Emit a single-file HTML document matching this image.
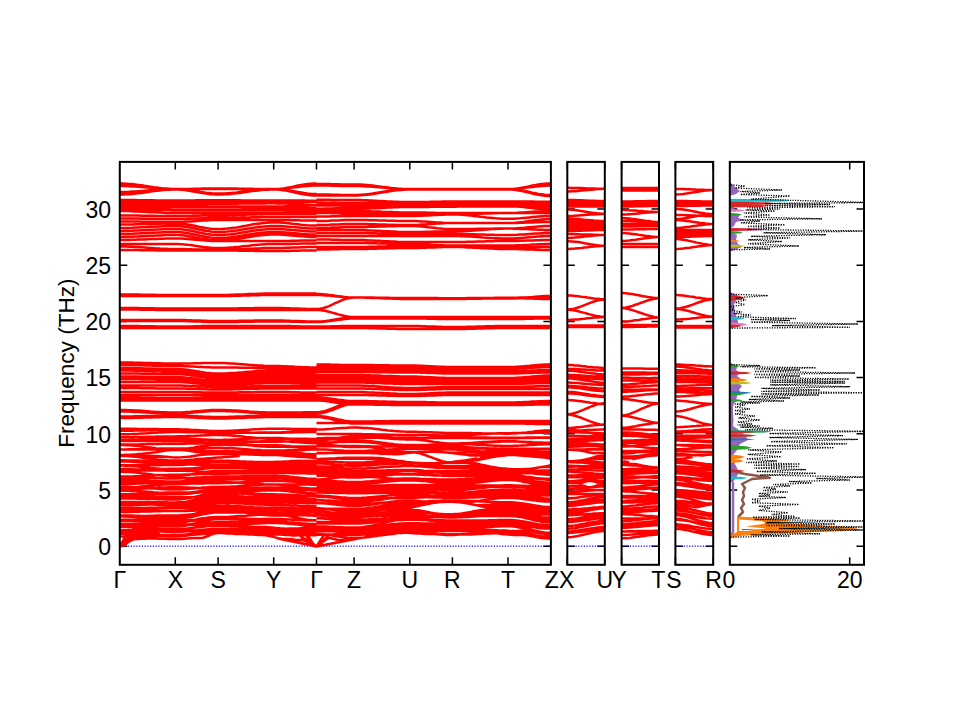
<!DOCTYPE html><html><head><meta charset="utf-8"><style>html,body{margin:0;padding:0;background:#fff;overflow:hidden}svg{display:block}</style></head><body><svg width="960" height="720" viewBox="0 0 960 720">
<rect width="960" height="720" fill="#fff"/>
<defs>
<clipPath id="c0"><rect x="119.8" y="161.9" width="431.1" height="402.9"/></clipPath>
<clipPath id="c1"><rect x="567.3" y="161.9" width="37.5" height="402.9"/></clipPath>
<clipPath id="c2"><rect x="621.6" y="161.9" width="37.4" height="402.9"/></clipPath>
<clipPath id="c3"><rect x="675.4" y="161.9" width="37.8" height="402.9"/></clipPath>
<clipPath id="c4"><rect x="729.8" y="161.9" width="134.2" height="402.9"/></clipPath>
</defs>
<path d="M119.8 546.2h7.5M550.9 546.2h-7.5M119.8 490.0h7.5M550.9 490.0h-7.5M119.8 433.8h7.5M550.9 433.8h-7.5M119.8 377.6h7.5M550.9 377.6h-7.5M119.8 321.4h7.5M550.9 321.4h-7.5M119.8 265.2h7.5M550.9 265.2h-7.5M119.8 209.0h7.5M550.9 209.0h-7.5M567.3 546.2h7.5M604.8 546.2h-7.5M567.3 490.0h7.5M604.8 490.0h-7.5M567.3 433.8h7.5M604.8 433.8h-7.5M567.3 377.6h7.5M604.8 377.6h-7.5M567.3 321.4h7.5M604.8 321.4h-7.5M567.3 265.2h7.5M604.8 265.2h-7.5M567.3 209.0h7.5M604.8 209.0h-7.5M621.6 546.2h7.5M659.0 546.2h-7.5M621.6 490.0h7.5M659.0 490.0h-7.5M621.6 433.8h7.5M659.0 433.8h-7.5M621.6 377.6h7.5M659.0 377.6h-7.5M621.6 321.4h7.5M659.0 321.4h-7.5M621.6 265.2h7.5M659.0 265.2h-7.5M621.6 209.0h7.5M659.0 209.0h-7.5M675.4 546.2h7.5M713.2 546.2h-7.5M675.4 490.0h7.5M713.2 490.0h-7.5M675.4 433.8h7.5M713.2 433.8h-7.5M675.4 377.6h7.5M713.2 377.6h-7.5M675.4 321.4h7.5M713.2 321.4h-7.5M675.4 265.2h7.5M713.2 265.2h-7.5M675.4 209.0h7.5M713.2 209.0h-7.5M729.8 546.2h7.5M864.0 546.2h-7.5M729.8 490.0h7.5M864.0 490.0h-7.5M729.8 433.8h7.5M864.0 433.8h-7.5M729.8 377.6h7.5M864.0 377.6h-7.5M729.8 321.4h7.5M864.0 321.4h-7.5M729.8 265.2h7.5M864.0 265.2h-7.5M729.8 209.0h7.5M864.0 209.0h-7.5M175.3 161.9v7.5M175.3 564.8v-7.5M218.1 161.9v7.5M218.1 564.8v-7.5M273.7 161.9v7.5M273.7 564.8v-7.5M316.5 161.9v7.5M316.5 564.8v-7.5M316.5 161.9v7.5M316.5 564.8v-7.5M354.1 161.9v7.5M354.1 564.8v-7.5M409.8 161.9v7.5M409.8 564.8v-7.5M452.4 161.9v7.5M452.4 564.8v-7.5M508.0 161.9v7.5M508.0 564.8v-7.5M567.3 161.9v7.5M567.3 564.8v-7.5M604.8 161.9v7.5M604.8 564.8v-7.5M621.6 161.9v7.5M621.6 564.8v-7.5M659.0 161.9v7.5M659.0 564.8v-7.5M675.4 161.9v7.5M675.4 564.8v-7.5M713.2 161.9v7.5M713.2 564.8v-7.5M729.8 161.9v7.5M729.8 564.8v-7.5M849.7 161.9v7.5M849.7 564.8v-7.5" stroke="#000" stroke-width="1.5" fill="none"/>
<line x1="119.8" y1="546.2" x2="550.9" y2="546.2" stroke="#0000ff" stroke-width="1.3" stroke-dasharray="1.2 1.55"/>
<line x1="567.3" y1="546.2" x2="604.8" y2="546.2" stroke="#0000ff" stroke-width="1.3" stroke-dasharray="1.2 1.55"/>
<line x1="621.6" y1="546.2" x2="659.0" y2="546.2" stroke="#0000ff" stroke-width="1.3" stroke-dasharray="1.2 1.55"/>
<line x1="675.4" y1="546.2" x2="713.2" y2="546.2" stroke="#0000ff" stroke-width="1.3" stroke-dasharray="1.2 1.55"/>
<g clip-path="url(#c0)" fill="none" stroke="#ff0000" stroke-width="2.5" stroke-linejoin="round">
<path d="M119.8 183.5L122.9 183.5L126.0 183.7L129.1 183.9L132.1 184.1L135.2 184.5L138.3 184.9L141.4 185.3L144.5 185.8L147.6 186.2L150.6 186.7L153.7 187.2L156.8 187.6L159.9 188.0L163.0 188.4L166.1 188.6L169.1 188.8L172.2 189.0L175.3 189.0L175.3 189.0L178.4 189.0L181.4 189.0L184.5 188.9L187.5 188.9L190.6 188.9L193.6 188.8L196.7 188.8L199.8 188.7L202.8 188.6L205.9 188.6L208.9 188.6L212.0 188.5L215.0 188.5L218.1 188.5L218.1 188.5L221.2 188.5L224.3 188.5L227.4 188.5L230.5 188.6L233.5 188.6L236.6 188.6L239.7 188.7L242.8 188.7L245.9 188.8L249.0 188.8L252.1 188.8L255.2 188.9L258.3 188.9L261.3 188.9L264.4 189.0L267.5 189.0L270.6 189.0L273.7 189.0L273.7 189.0L276.8 188.9L279.8 188.7L282.9 188.4L285.9 188.0L289.0 187.4L292.0 186.9L295.1 186.2L298.2 185.6L301.2 185.1L304.3 184.5L307.3 184.1L310.4 183.8L313.4 183.6L316.5 183.5M316.5 184.0L319.6 184.0L322.8 184.0L325.9 184.1L329.0 184.1L332.2 184.2L335.3 184.2L338.4 184.3L341.6 184.4L344.7 184.4L347.8 184.5L351.0 184.5L354.1 184.5L354.1 184.5L357.2 184.5L360.3 184.6L363.4 184.8L366.5 185.0L369.6 185.3L372.7 185.6L375.7 186.0L378.8 186.4L381.9 186.8L385.0 187.1L388.1 187.5L391.2 187.9L394.3 188.2L397.4 188.5L400.5 188.7L403.6 188.9L406.7 189.0L409.8 189.0L409.8 189.0L412.8 189.0L415.8 189.0L418.9 189.0L421.9 189.0L425.0 189.0L428.0 189.0L431.1 189.0L434.1 189.0L437.2 189.0L440.2 189.0L443.3 189.0L446.3 189.0L449.4 189.0L452.4 189.0L452.4 189.0L455.5 189.0L458.6 189.0L461.7 189.0L464.8 189.0L467.8 189.0L470.9 189.0L474.0 189.0L477.1 189.0L480.2 189.0L483.3 189.0L486.4 189.0L489.5 189.0L492.6 189.0L495.6 189.0L498.7 189.0L501.8 189.0L504.9 189.0L508.0 189.0L508.0 189.0L511.1 188.9L514.1 188.7L517.2 188.4L520.3 188.0L523.3 187.4L526.4 186.9L529.5 186.2L532.5 185.6L535.6 185.1L538.6 184.5L541.7 184.1L544.8 183.8L547.8 183.6L550.9 183.5M119.8 186.0L122.9 186.0L126.0 186.1L129.1 186.2L132.1 186.4L135.2 186.5L138.3 186.8L141.4 187.0L144.5 187.2L147.6 187.5L150.6 187.8L153.7 188.0L156.8 188.2L159.9 188.5L163.0 188.6L166.1 188.8L169.1 188.9L172.2 189.0L175.3 189.0L175.3 189.0L178.4 189.0L181.4 189.0L184.5 189.0L187.5 189.0L190.6 189.0L193.6 189.0L196.7 189.0L199.8 189.0L202.8 189.0L205.9 189.0L208.9 189.0L212.0 189.0L215.0 189.0L218.1 189.0L218.1 189.0L221.2 189.0L224.3 189.0L227.4 189.0L230.5 189.0L233.5 189.0L236.6 189.0L239.7 189.0L242.8 189.0L245.9 189.0L249.0 189.0L252.1 189.0L255.2 189.0L258.3 189.0L261.3 189.0L264.4 189.0L267.5 189.0L270.6 189.0L273.7 189.0L273.7 189.0L276.8 189.0L279.8 188.8L282.9 188.6L285.9 188.3L289.0 188.0L292.0 187.6L295.1 187.2L298.2 186.9L301.2 186.5L304.3 186.2L307.3 185.9L310.4 185.7L313.4 185.5L316.5 185.5M316.5 185.5L319.6 185.5L322.8 185.5L325.9 185.6L329.0 185.6L332.2 185.7L335.3 185.8L338.4 185.8L341.6 185.9L344.7 185.9L347.8 186.0L351.0 186.0L354.1 186.0L354.1 186.0L357.2 186.0L360.3 186.1L363.4 186.2L366.5 186.4L369.6 186.5L372.7 186.8L375.7 187.0L378.8 187.2L381.9 187.5L385.0 187.8L388.1 188.0L391.2 188.2L394.3 188.5L397.4 188.6L400.5 188.8L403.6 188.9L406.7 189.0L409.8 189.0L409.8 189.0L412.8 189.0L415.8 189.0L418.9 189.1L421.9 189.1L425.0 189.1L428.0 189.2L431.1 189.2L434.1 189.3L437.2 189.4L440.2 189.4L443.3 189.4L446.3 189.5L449.4 189.5L452.4 189.5L452.4 189.5L455.5 189.5L458.6 189.5L461.7 189.5L464.8 189.4L467.8 189.4L470.9 189.4L474.0 189.3L477.1 189.3L480.2 189.2L483.3 189.2L486.4 189.2L489.5 189.1L492.6 189.1L495.6 189.1L498.7 189.0L501.8 189.0L504.9 189.0L508.0 189.0L508.0 189.0L511.1 189.0L514.1 188.8L517.2 188.6L520.3 188.3L523.3 188.0L526.4 187.6L529.5 187.2L532.5 186.9L535.6 186.5L538.6 186.2L541.7 185.9L544.8 185.7L547.8 185.5L550.9 185.5M119.8 192.0L122.9 192.0L126.0 191.9L129.1 191.8L132.1 191.6L135.2 191.5L138.3 191.2L141.4 191.0L144.5 190.8L147.6 190.5L150.6 190.2L153.7 190.0L156.8 189.8L159.9 189.5L163.0 189.4L166.1 189.2L169.1 189.1L172.2 189.0L175.3 189.0L175.3 189.0L178.4 189.1L181.4 189.2L184.5 189.5L187.5 189.8L190.6 190.3L193.6 190.7L196.7 191.2L199.8 191.8L202.8 192.2L205.9 192.7L208.9 193.0L212.0 193.3L215.0 193.4L218.1 193.5L218.1 193.5L221.2 193.5L224.3 193.4L227.4 193.2L230.5 193.0L233.5 192.7L236.6 192.4L239.7 192.0L242.8 191.6L245.9 191.2L249.0 190.9L252.1 190.5L255.2 190.1L258.3 189.8L261.3 189.5L264.4 189.3L267.5 189.1L270.6 189.0L273.7 189.0L273.7 189.0L276.8 189.1L279.8 189.2L282.9 189.5L285.9 189.9L289.0 190.4L292.0 190.9L295.1 191.5L298.2 192.1L301.2 192.6L304.3 193.1L307.3 193.5L310.4 193.8L313.4 193.9L316.5 194.0M316.5 194.5L319.6 194.5L322.8 194.5L325.9 194.6L329.0 194.6L332.2 194.7L335.3 194.8L338.4 194.8L341.6 194.9L344.7 194.9L347.8 195.0L351.0 195.0L354.1 195.0L354.1 195.0L357.2 195.0L360.3 194.8L363.4 194.6L366.5 194.3L369.6 193.9L372.7 193.5L375.7 193.0L378.8 192.5L381.9 192.0L385.0 191.5L388.1 191.0L391.2 190.5L394.3 190.1L397.4 189.7L400.5 189.4L403.6 189.2L406.7 189.0L409.8 189.0L409.8 189.0L412.8 189.0L415.8 189.0L418.9 189.0L421.9 189.0L425.0 189.0L428.0 189.0L431.1 189.0L434.1 189.0L437.2 189.0L440.2 189.0L443.3 189.0L446.3 189.0L449.4 189.0L452.4 189.0L452.4 189.0L455.5 189.0L458.6 189.0L461.7 189.0L464.8 189.0L467.8 189.0L470.9 189.0L474.0 189.0L477.1 189.0L480.2 189.0L483.3 189.0L486.4 189.0L489.5 189.0L492.6 189.0L495.6 189.0L498.7 189.0L501.8 189.0L504.9 189.0L508.0 189.0L508.0 189.0L511.1 189.1L514.1 189.3L517.2 189.7L520.3 190.1L523.3 190.7L526.4 191.3L529.5 192.0L532.5 192.7L535.6 193.3L538.6 193.9L541.7 194.3L544.8 194.7L547.8 194.9L550.9 195.0M119.8 194.5L122.9 194.5L126.0 194.3L129.1 194.2L132.1 193.9L135.2 193.6L138.3 193.2L141.4 192.9L144.5 192.4L147.6 192.0L150.6 191.6L153.7 191.1L156.8 190.8L159.9 190.4L163.0 190.1L166.1 189.8L169.1 189.7L172.2 189.5L175.3 189.5L175.3 189.5L178.4 189.6L181.4 189.7L184.5 190.0L187.5 190.4L190.6 190.9L193.6 191.4L196.7 192.0L199.8 192.6L202.8 193.1L205.9 193.6L208.9 194.0L212.0 194.3L215.0 194.4L218.1 194.5L218.1 194.5L221.2 194.5L224.3 194.3L227.4 194.2L230.5 193.9L233.5 193.6L236.6 193.2L239.7 192.9L242.8 192.4L245.9 192.0L249.0 191.6L252.1 191.1L255.2 190.8L258.3 190.4L261.3 190.1L264.4 189.8L267.5 189.7L270.6 189.5L273.7 189.5L273.7 189.5L276.8 189.6L279.8 189.8L282.9 190.2L285.9 190.6L289.0 191.2L292.0 191.8L295.1 192.5L298.2 193.2L301.2 193.8L304.3 194.4L307.3 194.8L310.4 195.2L313.4 195.4L316.5 195.5M316.5 195.5L319.6 195.5L322.8 195.5L325.9 195.5L329.0 195.5L332.2 195.5L335.3 195.5L338.4 195.5L341.6 195.5L344.7 195.5L347.8 195.5L351.0 195.5L354.1 195.5L354.1 195.5L357.2 195.5L360.3 195.3L363.4 195.1L366.5 194.8L369.6 194.4L372.7 194.0L375.7 193.5L378.8 193.0L381.9 192.5L385.0 192.0L388.1 191.5L391.2 191.0L394.3 190.6L397.4 190.2L400.5 189.9L403.6 189.7L406.7 189.5L409.8 189.5L409.8 189.5L412.8 189.5L415.8 189.5L418.9 189.5L421.9 189.5L425.0 189.5L428.0 189.5L431.1 189.5L434.1 189.5L437.2 189.5L440.2 189.5L443.3 189.5L446.3 189.5L449.4 189.5L452.4 189.5L452.4 189.5L455.5 189.5L458.6 189.5L461.7 189.5L464.8 189.5L467.8 189.5L470.9 189.5L474.0 189.5L477.1 189.5L480.2 189.5L483.3 189.5L486.4 189.5L489.5 189.5L492.6 189.5L495.6 189.5L498.7 189.5L501.8 189.5L504.9 189.5L508.0 189.5L508.0 189.5L511.1 189.6L514.1 189.8L517.2 190.2L520.3 190.7L523.3 191.3L526.4 192.0L529.5 192.8L532.5 193.5L535.6 194.2L538.6 194.8L541.7 195.3L544.8 195.7L547.8 195.9L550.9 196.0M119.8 294.5L122.9 294.5L126.0 294.5L129.1 294.5L132.1 294.6L135.2 294.6L138.3 294.6L141.4 294.7L144.5 294.7L147.6 294.8L150.6 294.8L153.7 294.8L156.8 294.9L159.9 294.9L163.0 294.9L166.1 295.0L169.1 295.0L172.2 295.0L175.3 295.0L175.3 295.0L178.4 295.0L181.4 295.0L184.5 295.0L187.5 295.0L190.6 295.0L193.6 295.0L196.7 295.0L199.8 295.0L202.8 295.0L205.9 295.0L208.9 295.0L212.0 295.0L215.0 295.0L218.1 295.0L218.1 295.0L221.2 295.0L224.3 295.0L227.4 294.9L230.5 294.8L233.5 294.7L236.6 294.6L239.7 294.5L242.8 294.4L245.9 294.2L249.0 294.1L252.1 294.0L255.2 293.9L258.3 293.8L261.3 293.7L264.4 293.6L267.5 293.5L270.6 293.5L273.7 293.5L273.7 293.5L276.8 293.5L279.8 293.5L282.9 293.5L285.9 293.5L289.0 293.5L292.0 293.5L295.1 293.5L298.2 293.5L301.2 293.5L304.3 293.5L307.3 293.5L310.4 293.5L313.4 293.5L316.5 293.5M316.5 294.0L319.6 294.1L322.8 294.2L325.9 294.5L329.0 294.9L332.2 295.3L335.3 295.8L338.4 296.2L341.6 296.6L344.7 297.0L347.8 297.3L351.0 297.4L354.1 297.5L354.1 297.5L357.2 297.5L360.3 297.5L363.4 297.5L366.5 297.6L369.6 297.6L372.7 297.6L375.7 297.7L378.8 297.7L381.9 297.8L385.0 297.8L388.1 297.8L391.2 297.9L394.3 297.9L397.4 297.9L400.5 298.0L403.6 298.0L406.7 298.0L409.8 298.0L409.8 298.0L412.8 298.0L415.8 298.0L418.9 298.0L421.9 298.0L425.0 298.1L428.0 298.1L431.1 298.1L434.1 298.1L437.2 298.1L440.2 298.2L443.3 298.2L446.3 298.2L449.4 298.2L452.4 298.2L452.4 298.2L455.5 298.2L458.6 298.2L461.7 298.2L464.8 298.2L467.8 298.1L470.9 298.1L474.0 298.1L477.1 298.0L480.2 298.0L483.3 298.0L486.4 297.9L489.5 297.9L492.6 297.9L495.6 297.8L498.7 297.8L501.8 297.8L504.9 297.8L508.0 297.8L508.0 297.8L511.1 297.8L514.1 297.8L517.2 297.7L520.3 297.6L523.3 297.6L526.4 297.5L529.5 297.4L532.5 297.3L535.6 297.2L538.6 297.2L541.7 297.1L544.8 297.0L547.8 297.0L550.9 297.0M119.8 296.0L122.9 296.0L126.0 296.0L129.1 296.0L132.1 296.0L135.2 296.0L138.3 296.0L141.4 296.0L144.5 296.0L147.6 296.0L150.6 296.0L153.7 296.0L156.8 296.0L159.9 296.0L163.0 296.0L166.1 296.0L169.1 296.0L172.2 296.0L175.3 296.0L175.3 296.0L178.4 296.0L181.4 296.0L184.5 296.0L187.5 296.0L190.6 296.0L193.6 296.0L196.7 296.0L199.8 296.0L202.8 296.0L205.9 296.0L208.9 296.0L212.0 296.0L215.0 296.0L218.1 296.0L218.1 296.0L221.2 296.0L224.3 296.0L227.4 295.9L230.5 295.9L233.5 295.8L236.6 295.8L239.7 295.7L242.8 295.6L245.9 295.5L249.0 295.4L252.1 295.3L255.2 295.2L258.3 295.2L261.3 295.1L264.4 295.1L267.5 295.0L270.6 295.0L273.7 295.0L273.7 295.0L276.8 295.0L279.8 295.0L282.9 295.0L285.9 295.0L289.0 295.0L292.0 295.0L295.1 295.0L298.2 295.0L301.2 295.0L304.3 295.0L307.3 295.0L310.4 295.0L313.4 295.0L316.5 295.0M316.5 295.0L319.6 295.0L322.8 295.2L325.9 295.4L329.0 295.6L332.2 295.9L335.3 296.2L338.4 296.6L341.6 296.9L344.7 297.1L347.8 297.3L351.0 297.5L354.1 297.5L354.1 297.5L357.2 297.5L360.3 297.5L363.4 297.6L366.5 297.6L369.6 297.7L372.7 297.8L375.7 297.8L378.8 297.9L381.9 298.0L385.0 298.1L388.1 298.2L391.2 298.2L394.3 298.3L397.4 298.4L400.5 298.4L403.6 298.5L406.7 298.5L409.8 298.5L409.8 298.5L412.8 298.5L415.8 298.5L418.9 298.5L421.9 298.6L425.0 298.6L428.0 298.6L431.1 298.6L434.1 298.7L437.2 298.7L440.2 298.7L443.3 298.8L446.3 298.8L449.4 298.8L452.4 298.8L452.4 298.8L455.5 298.8L458.6 298.8L461.7 298.8L464.8 298.8L467.8 298.7L470.9 298.7L474.0 298.7L477.1 298.7L480.2 298.7L483.3 298.6L486.4 298.6L489.5 298.6L492.6 298.6L495.6 298.5L498.7 298.5L501.8 298.5L504.9 298.5L508.0 298.5L508.0 298.5L511.1 298.5L514.1 298.4L517.2 298.2L520.3 298.0L523.3 297.8L526.4 297.5L529.5 297.2L532.5 297.0L535.6 296.7L538.6 296.5L541.7 296.3L544.8 296.1L547.8 296.0L550.9 296.0M119.8 308.0L122.9 308.0L126.0 308.0L129.1 308.0L132.1 308.1L135.2 308.1L138.3 308.1L141.4 308.2L144.5 308.2L147.6 308.2L150.6 308.3L153.7 308.3L156.8 308.4L159.9 308.4L163.0 308.4L166.1 308.5L169.1 308.5L172.2 308.5L175.3 308.5L175.3 308.5L178.4 308.5L181.4 308.5L184.5 308.5L187.5 308.5L190.6 308.5L193.6 308.5L196.7 308.5L199.8 308.5L202.8 308.5L205.9 308.5L208.9 308.5L212.0 308.5L215.0 308.5L218.1 308.5L218.1 308.5L221.2 308.5L224.3 308.5L227.4 308.5L230.5 308.4L233.5 308.4L236.6 308.4L239.7 308.3L242.8 308.3L245.9 308.2L249.0 308.2L252.1 308.2L255.2 308.1L258.3 308.1L261.3 308.1L264.4 308.0L267.5 308.0L270.6 308.0L273.7 308.0L273.7 308.0L276.8 308.0L279.8 308.0L282.9 308.1L285.9 308.2L289.0 308.3L292.0 308.4L295.1 308.5L298.2 308.6L301.2 308.7L304.3 308.8L307.3 308.9L310.4 309.0L313.4 309.0L316.5 309.0M316.5 309.0L319.6 308.8L322.8 308.2L325.9 307.3L329.0 306.1L332.2 304.7L335.3 303.2L338.4 301.8L341.6 300.4L344.7 299.2L347.8 298.3L351.0 297.7L354.1 297.5L354.1 297.5L357.2 297.5L360.3 297.5L363.4 297.6L366.5 297.7L369.6 297.8L372.7 297.9L375.7 298.0L378.8 298.1L381.9 298.2L385.0 298.4L388.1 298.5L391.2 298.6L394.3 298.7L397.4 298.8L400.5 298.9L403.6 299.0L406.7 299.0L409.8 299.0L409.8 299.0L412.8 299.0L415.8 299.0L418.9 299.0L421.9 299.0L425.0 299.0L428.0 299.0L431.1 299.0L434.1 299.0L437.2 299.0L440.2 299.0L443.3 299.0L446.3 299.0L449.4 299.0L452.4 299.0L452.4 299.0L455.5 299.0L458.6 299.0L461.7 298.9L464.8 298.9L467.8 298.8L470.9 298.8L474.0 298.7L477.1 298.6L480.2 298.5L483.3 298.4L486.4 298.3L489.5 298.2L492.6 298.2L495.6 298.1L498.7 298.1L501.8 298.0L504.9 298.0L508.0 298.0L508.0 298.0L511.1 298.0L514.1 298.0L517.2 298.1L520.3 298.2L523.3 298.3L526.4 298.4L529.5 298.5L532.5 298.6L535.6 298.7L538.6 298.8L541.7 298.9L544.8 299.0L547.8 299.0L550.9 299.0M119.8 309.5L122.9 309.5L126.0 309.5L129.1 309.5L132.1 309.6L135.2 309.6L138.3 309.6L141.4 309.7L144.5 309.7L147.6 309.8L150.6 309.8L153.7 309.8L156.8 309.9L159.9 309.9L163.0 309.9L166.1 310.0L169.1 310.0L172.2 310.0L175.3 310.0L175.3 310.0L178.4 310.0L181.4 310.0L184.5 310.0L187.5 310.0L190.6 310.0L193.6 310.0L196.7 310.0L199.8 310.0L202.8 310.0L205.9 310.0L208.9 310.0L212.0 310.0L215.0 310.0L218.1 310.0L218.1 310.0L221.2 310.0L224.3 310.0L227.4 310.0L230.5 310.0L233.5 310.0L236.6 310.0L239.7 310.0L242.8 310.0L245.9 310.0L249.0 310.0L252.1 310.0L255.2 310.0L258.3 310.0L261.3 310.0L264.4 310.0L267.5 310.0L270.6 310.0L273.7 310.0L273.7 310.0L276.8 310.0L279.8 310.0L282.9 310.0L285.9 310.0L289.0 310.0L292.0 310.0L295.1 310.0L298.2 310.0L301.2 310.0L304.3 310.0L307.3 310.0L310.4 310.0L313.4 310.0L316.5 310.0M316.5 310.0L319.6 310.1L322.8 310.5L325.9 311.0L329.0 311.8L332.2 312.6L335.3 313.5L338.4 314.4L341.6 315.2L344.7 316.0L347.8 316.5L351.0 316.9L354.1 317.0L354.1 317.0L357.2 317.0L360.3 317.0L363.4 317.0L366.5 317.0L369.6 317.0L372.7 317.0L375.7 317.0L378.8 317.0L381.9 317.0L385.0 317.0L388.1 317.0L391.2 317.0L394.3 317.0L397.4 317.0L400.5 317.0L403.6 317.0L406.7 317.0L409.8 317.0L409.8 317.0L412.8 317.0L415.8 317.0L418.9 317.0L421.9 317.0L425.0 317.0L428.0 317.0L431.1 317.0L434.1 317.0L437.2 317.0L440.2 317.0L443.3 317.0L446.3 317.0L449.4 317.0L452.4 317.0L452.4 317.0L455.5 317.0L458.6 317.0L461.7 317.0L464.8 317.0L467.8 317.0L470.9 317.0L474.0 317.0L477.1 317.0L480.2 317.0L483.3 317.0L486.4 317.0L489.5 317.0L492.6 317.0L495.6 317.0L498.7 317.0L501.8 317.0L504.9 317.0L508.0 317.0L508.0 317.0L511.1 317.0L514.1 317.0L517.2 317.0L520.3 317.0L523.3 317.0L526.4 317.0L529.5 317.0L532.5 317.0L535.6 317.0L538.6 317.0L541.7 317.0L544.8 317.0L547.8 317.0L550.9 317.0M119.8 320.0L122.9 320.0L126.0 320.0L129.1 320.0L132.1 320.0L135.2 320.0L138.3 320.0L141.4 320.0L144.5 320.0L147.6 320.0L150.6 320.0L153.7 320.0L156.8 320.0L159.9 320.0L163.0 320.0L166.1 320.0L169.1 320.0L172.2 320.0L175.3 320.0L175.3 320.0L178.4 320.0L181.4 320.0L184.5 320.1L187.5 320.2L190.6 320.3L193.6 320.4L196.7 320.5L199.8 320.6L202.8 320.7L205.9 320.8L208.9 320.9L212.0 321.0L215.0 321.0L218.1 321.0L218.1 321.0L221.2 321.0L224.3 321.0L227.4 321.0L230.5 320.9L233.5 320.9L236.6 320.9L239.7 320.8L242.8 320.8L245.9 320.8L249.0 320.7L252.1 320.7L255.2 320.6L258.3 320.6L261.3 320.6L264.4 320.5L267.5 320.5L270.6 320.5L273.7 320.5L273.7 320.5L276.8 320.5L279.8 320.5L282.9 320.6L285.9 320.7L289.0 320.8L292.0 320.9L295.1 321.0L298.2 321.1L301.2 321.2L304.3 321.3L307.3 321.4L310.4 321.5L313.4 321.5L316.5 321.5M316.5 321.5L319.6 321.4L322.8 321.2L325.9 320.9L329.0 320.5L332.2 320.0L335.3 319.5L338.4 319.0L341.6 318.5L344.7 318.1L347.8 317.8L351.0 317.6L354.1 317.5L354.1 317.5L357.2 317.5L360.3 317.5L363.4 317.5L366.5 317.5L369.6 317.5L372.7 317.5L375.7 317.5L378.8 317.5L381.9 317.5L385.0 317.5L388.1 317.5L391.2 317.5L394.3 317.5L397.4 317.5L400.5 317.5L403.6 317.5L406.7 317.5L409.8 317.5L409.8 317.5L412.8 317.5L415.8 317.5L418.9 317.6L421.9 317.6L425.0 317.6L428.0 317.7L431.1 317.8L434.1 317.8L437.2 317.9L440.2 317.9L443.3 317.9L446.3 318.0L449.4 318.0L452.4 318.0L452.4 318.0L455.5 318.0L458.6 318.0L461.7 318.0L464.8 318.0L467.8 318.0L470.9 318.0L474.0 318.0L477.1 318.0L480.2 318.0L483.3 318.0L486.4 318.0L489.5 318.0L492.6 318.0L495.6 318.0L498.7 318.0L501.8 318.0L504.9 318.0L508.0 318.0L508.0 318.0L511.1 318.0L514.1 318.0L517.2 318.0L520.3 318.0L523.3 318.0L526.4 318.0L529.5 318.0L532.5 318.0L535.6 318.0L538.6 318.0L541.7 318.0L544.8 318.0L547.8 318.0L550.9 318.0M119.8 321.0L122.9 321.0L126.0 321.0L129.1 321.0L132.1 321.0L135.2 321.0L138.3 321.0L141.4 321.0L144.5 321.0L147.6 321.0L150.6 321.0L153.7 321.0L156.8 321.0L159.9 321.0L163.0 321.0L166.1 321.0L169.1 321.0L172.2 321.0L175.3 321.0L175.3 321.0L178.4 321.0L181.4 321.0L184.5 321.1L187.5 321.2L190.6 321.3L193.6 321.4L196.7 321.5L199.8 321.6L202.8 321.7L205.9 321.8L208.9 321.9L212.0 322.0L215.0 322.0L218.1 322.0L218.1 322.0L221.2 322.0L224.3 322.0L227.4 322.0L230.5 321.9L233.5 321.9L236.6 321.9L239.7 321.8L242.8 321.8L245.9 321.8L249.0 321.7L252.1 321.7L255.2 321.6L258.3 321.6L261.3 321.6L264.4 321.5L267.5 321.5L270.6 321.5L273.7 321.5L273.7 321.5L276.8 321.5L279.8 321.5L282.9 321.6L285.9 321.6L289.0 321.6L292.0 321.7L295.1 321.8L298.2 321.8L301.2 321.9L304.3 321.9L307.3 321.9L310.4 322.0L313.4 322.0L316.5 322.0M316.5 322.0L319.6 321.9L322.8 321.8L325.9 321.5L329.0 321.1L332.2 320.7L335.3 320.2L338.4 319.8L341.6 319.4L344.7 319.0L347.8 318.7L351.0 318.6L354.1 318.5L354.1 318.5L357.2 318.5L360.3 318.5L363.4 318.5L366.5 318.5L369.6 318.5L372.7 318.5L375.7 318.5L378.8 318.5L381.9 318.5L385.0 318.5L388.1 318.5L391.2 318.5L394.3 318.5L397.4 318.5L400.5 318.5L403.6 318.5L406.7 318.5L409.8 318.5L409.8 318.5L412.8 318.5L415.8 318.5L418.9 318.6L421.9 318.6L425.0 318.6L428.0 318.7L431.1 318.8L434.1 318.8L437.2 318.9L440.2 318.9L443.3 318.9L446.3 319.0L449.4 319.0L452.4 319.0L452.4 319.0L455.5 319.0L458.6 319.0L461.7 319.0L464.8 319.0L467.8 319.0L470.9 319.0L474.0 319.0L477.1 319.0L480.2 319.0L483.3 319.0L486.4 319.0L489.5 319.0L492.6 319.0L495.6 319.0L498.7 319.0L501.8 319.0L504.9 319.0L508.0 319.0L508.0 319.0L511.1 319.0L514.1 319.0L517.2 318.9L520.3 318.9L523.3 318.9L526.4 318.8L529.5 318.8L532.5 318.7L535.6 318.6L538.6 318.6L541.7 318.6L544.8 318.5L547.8 318.5L550.9 318.5M119.8 326.0L122.9 326.0L126.0 326.0L129.1 326.0L132.1 326.1L135.2 326.1L138.3 326.1L141.4 326.2L144.5 326.2L147.6 326.2L150.6 326.3L153.7 326.3L156.8 326.4L159.9 326.4L163.0 326.4L166.1 326.5L169.1 326.5L172.2 326.5L175.3 326.5L175.3 326.5L178.4 326.5L181.4 326.5L184.5 326.4L187.5 326.4L190.6 326.4L193.6 326.3L196.7 326.2L199.8 326.2L202.8 326.1L205.9 326.1L208.9 326.1L212.0 326.0L215.0 326.0L218.1 326.0L218.1 326.0L221.2 326.0L224.3 326.0L227.4 326.0L230.5 326.0L233.5 326.0L236.6 326.0L239.7 326.0L242.8 326.0L245.9 326.0L249.0 326.0L252.1 326.0L255.2 326.0L258.3 326.0L261.3 326.0L264.4 326.0L267.5 326.0L270.6 326.0L273.7 326.0L273.7 326.0L276.8 326.0L279.8 326.0L282.9 326.1L285.9 326.1L289.0 326.1L292.0 326.2L295.1 326.2L298.2 326.3L301.2 326.4L304.3 326.4L307.3 326.4L310.4 326.5L313.4 326.5L316.5 326.5M316.5 326.5L319.6 326.5L322.8 326.5L325.9 326.4L329.0 326.4L332.2 326.3L335.3 326.2L338.4 326.2L341.6 326.1L344.7 326.1L347.8 326.0L351.0 326.0L354.1 326.0L354.1 326.0L357.2 326.0L360.3 326.0L363.4 326.0L366.5 326.0L369.6 326.0L372.7 326.0L375.7 326.0L378.8 326.0L381.9 326.0L385.0 326.0L388.1 326.0L391.2 326.0L394.3 326.0L397.4 326.0L400.5 326.0L403.6 326.0L406.7 326.0L409.8 326.0L409.8 326.0L412.8 326.0L415.8 326.0L418.9 326.1L421.9 326.2L425.0 326.3L428.0 326.4L431.1 326.5L434.1 326.6L437.2 326.7L440.2 326.8L443.3 326.9L446.3 327.0L449.4 327.0L452.4 327.0L452.4 327.0L455.5 327.0L458.6 327.0L461.7 326.9L464.8 326.9L467.8 326.8L470.9 326.8L474.0 326.7L477.1 326.6L480.2 326.5L483.3 326.4L486.4 326.3L489.5 326.2L492.6 326.2L495.6 326.1L498.7 326.1L501.8 326.0L504.9 326.0L508.0 326.0L508.0 326.0L511.1 326.0L514.1 326.0L517.2 326.0L520.3 326.0L523.3 326.0L526.4 326.0L529.5 326.0L532.5 326.0L535.6 326.0L538.6 326.0L541.7 326.0L544.8 326.0L547.8 326.0L550.9 326.0M119.8 328.0L122.9 328.0L126.0 328.0L129.1 328.0L132.1 328.0L135.2 328.0L138.3 328.0L141.4 328.0L144.5 328.0L147.6 328.0L150.6 328.0L153.7 328.0L156.8 328.0L159.9 328.0L163.0 328.0L166.1 328.0L169.1 328.0L172.2 328.0L175.3 328.0L175.3 328.0L178.4 328.0L181.4 328.0L184.5 328.0L187.5 328.0L190.6 328.0L193.6 328.0L196.7 328.0L199.8 328.0L202.8 328.0L205.9 328.0L208.9 328.0L212.0 328.0L215.0 328.0L218.1 328.0L218.1 328.0L221.2 328.0L224.3 328.0L227.4 328.0L230.5 328.0L233.5 328.0L236.6 328.0L239.7 328.0L242.8 328.0L245.9 328.0L249.0 328.0L252.1 328.0L255.2 328.0L258.3 328.0L261.3 328.0L264.4 328.0L267.5 328.0L270.6 328.0L273.7 328.0L273.7 328.0L276.8 328.0L279.8 328.0L282.9 328.0L285.9 328.0L289.0 328.0L292.0 328.0L295.1 328.0L298.2 328.0L301.2 328.0L304.3 328.0L307.3 328.0L310.4 328.0L313.4 328.0L316.5 328.0M316.5 328.0L319.6 328.0L322.8 328.0L325.9 328.0L329.0 328.0L332.2 328.0L335.3 328.0L338.4 328.0L341.6 328.0L344.7 328.0L347.8 328.0L351.0 328.0L354.1 328.0L354.1 328.0L357.2 328.0L360.3 328.0L363.4 328.1L366.5 328.1L369.6 328.2L372.7 328.2L375.7 328.3L378.8 328.4L381.9 328.5L385.0 328.6L388.1 328.7L391.2 328.8L394.3 328.8L397.4 328.9L400.5 328.9L403.6 329.0L406.7 329.0L409.8 329.0L409.8 329.0L412.8 329.0L415.8 329.0L418.9 329.0L421.9 329.0L425.0 329.0L428.0 329.0L431.1 329.0L434.1 329.0L437.2 329.0L440.2 329.0L443.3 329.0L446.3 329.0L449.4 329.0L452.4 329.0L452.4 329.0L455.5 329.0L458.6 329.0L461.7 328.9L464.8 328.9L467.8 328.8L470.9 328.8L474.0 328.7L477.1 328.6L480.2 328.5L483.3 328.4L486.4 328.3L489.5 328.2L492.6 328.2L495.6 328.1L498.7 328.1L501.8 328.0L504.9 328.0L508.0 328.0L508.0 328.0L511.1 328.0L514.1 328.0L517.2 328.0L520.3 328.0L523.3 328.0L526.4 328.0L529.5 328.0L532.5 328.0L535.6 328.0L538.6 328.0L541.7 328.0L544.8 328.0L547.8 328.0L550.9 328.0M119.8 410.0L122.9 410.0L126.0 410.1L129.1 410.2L132.1 410.3L135.2 410.4L138.3 410.6L141.4 410.8L144.5 411.0L147.6 411.2L150.6 411.5L153.7 411.7L156.8 411.9L159.9 412.1L163.0 412.2L166.1 412.3L169.1 412.4L172.2 412.5L175.3 412.5L175.3 412.5L178.4 412.5L181.4 412.4L184.5 412.2L187.5 412.0L190.6 411.8L193.6 411.5L196.7 411.2L199.8 411.0L202.8 410.7L205.9 410.5L208.9 410.3L212.0 410.1L215.0 410.0L218.1 410.0L218.1 410.0L221.2 410.0L224.3 410.1L227.4 410.2L230.5 410.3L233.5 410.4L236.6 410.6L239.7 410.8L242.8 411.0L245.9 411.2L249.0 411.5L252.1 411.7L255.2 411.9L258.3 412.1L261.3 412.2L264.4 412.3L267.5 412.4L270.6 412.5L273.7 412.5L273.7 412.5L276.8 412.5L279.8 412.5L282.9 412.5L285.9 412.5L289.0 412.4L292.0 412.4L295.1 412.4L298.2 412.4L301.2 412.4L304.3 412.3L307.3 412.3L310.4 412.3L313.4 412.3L316.5 412.3M316.5 412.3L319.6 412.1L322.8 411.6L325.9 410.8L329.0 409.7L332.2 408.5L335.3 407.2L338.4 405.8L341.6 404.6L344.7 403.5L347.8 402.7L351.0 402.2L354.1 402.0L354.1 402.0L357.2 402.0L360.3 402.0L363.4 402.1L366.5 402.1L369.6 402.2L372.7 402.2L375.7 402.3L378.8 402.4L381.9 402.5L385.0 402.6L388.1 402.7L391.2 402.8L394.3 402.8L397.4 402.9L400.5 402.9L403.6 403.0L406.7 403.0L409.8 403.0L409.8 403.0L412.8 403.0L415.8 403.0L418.9 403.0L421.9 403.0L425.0 403.0L428.0 403.0L431.1 403.0L434.1 403.0L437.2 403.0L440.2 403.0L443.3 403.0L446.3 403.0L449.4 403.0L452.4 403.0L452.4 403.0L455.5 403.0L458.6 403.0L461.7 403.0L464.8 403.0L467.8 403.0L470.9 403.0L474.0 403.0L477.1 403.0L480.2 403.0L483.3 403.0L486.4 403.0L489.5 403.0L492.6 403.0L495.6 403.0L498.7 403.0L501.8 403.0L504.9 403.0L508.0 403.0L508.0 403.0L511.1 403.0L514.1 403.0L517.2 402.9L520.3 402.9L523.3 402.9L526.4 402.8L529.5 402.8L532.5 402.7L535.6 402.6L538.6 402.6L541.7 402.6L544.8 402.5L547.8 402.5L550.9 402.5M119.8 411.5L122.9 411.5L126.0 411.6L129.1 411.6L132.1 411.7L135.2 411.9L138.3 412.0L141.4 412.2L144.5 412.3L147.6 412.5L150.6 412.7L153.7 412.8L156.8 413.0L159.9 413.1L163.0 413.3L166.1 413.4L169.1 413.4L172.2 413.5L175.3 413.5L175.3 413.5L178.4 413.5L181.4 413.4L184.5 413.2L187.5 413.0L190.6 412.8L193.6 412.5L196.7 412.2L199.8 412.0L202.8 411.7L205.9 411.5L208.9 411.3L212.0 411.1L215.0 411.0L218.1 411.0L218.1 411.0L221.2 411.0L224.3 411.1L227.4 411.2L230.5 411.3L233.5 411.4L236.6 411.6L239.7 411.8L242.8 412.0L245.9 412.2L249.0 412.5L252.1 412.7L255.2 412.9L258.3 413.1L261.3 413.2L264.4 413.3L267.5 413.4L270.6 413.5L273.7 413.5L273.7 413.5L276.8 413.5L279.8 413.5L282.9 413.5L285.9 413.5L289.0 413.5L292.0 413.5L295.1 413.5L298.2 413.5L301.2 413.5L304.3 413.5L307.3 413.5L310.4 413.5L313.4 413.5L316.5 413.5M316.5 413.5L319.6 413.3L322.8 412.9L325.9 412.1L329.0 411.1L332.2 410.0L335.3 408.8L338.4 407.5L341.6 406.4L344.7 405.4L347.8 404.6L351.0 404.2L354.1 404.0L354.1 404.0L357.2 404.0L360.3 404.0L363.4 404.1L366.5 404.1L369.6 404.2L372.7 404.2L375.7 404.3L378.8 404.4L381.9 404.5L385.0 404.6L388.1 404.7L391.2 404.8L394.3 404.8L397.4 404.9L400.5 404.9L403.6 405.0L406.7 405.0L409.8 405.0L409.8 405.0L412.8 405.0L415.8 405.0L418.9 405.0L421.9 405.0L425.0 405.0L428.0 405.0L431.1 405.0L434.1 405.0L437.2 405.0L440.2 405.0L443.3 405.0L446.3 405.0L449.4 405.0L452.4 405.0L452.4 405.0L455.5 405.0L458.6 405.0L461.7 405.0L464.8 405.0L467.8 405.0L470.9 405.0L474.0 405.0L477.1 405.0L480.2 405.0L483.3 405.0L486.4 405.0L489.5 405.0L492.6 405.0L495.6 405.0L498.7 405.0L501.8 405.0L504.9 405.0L508.0 405.0L508.0 405.0L511.1 405.0L514.1 405.0L517.2 404.9L520.3 404.9L523.3 404.9L526.4 404.8L529.5 404.8L532.5 404.7L535.6 404.6L538.6 404.6L541.7 404.6L544.8 404.5L547.8 404.5L550.9 404.5M119.8 416.5L122.9 416.5L126.0 416.5L129.1 416.4L132.1 416.4L135.2 416.3L138.3 416.2L141.4 416.2L144.5 416.1L147.6 416.0L150.6 415.9L153.7 415.8L156.8 415.8L159.9 415.7L163.0 415.6L166.1 415.6L169.1 415.5L172.2 415.5L175.3 415.5L175.3 415.5L178.4 415.5L181.4 415.6L184.5 415.7L187.5 415.8L190.6 415.9L193.6 416.1L196.7 416.2L199.8 416.4L202.8 416.6L205.9 416.7L208.9 416.8L212.0 416.9L215.0 417.0L218.1 417.0L218.1 417.0L221.2 417.0L224.3 417.0L227.4 416.9L230.5 416.8L233.5 416.7L236.6 416.6L239.7 416.5L242.8 416.4L245.9 416.2L249.0 416.1L252.1 416.0L255.2 415.9L258.3 415.8L261.3 415.7L264.4 415.6L267.5 415.5L270.6 415.5L273.7 415.5L273.7 415.5L276.8 415.5L279.8 415.5L282.9 415.6L285.9 415.6L289.0 415.6L292.0 415.7L295.1 415.8L298.2 415.8L301.2 415.9L304.3 415.9L307.3 415.9L310.4 416.0L313.4 416.0L316.5 416.0M316.5 416.0L319.6 416.1L322.8 416.4L325.9 416.8L329.0 417.4L332.2 418.0L335.3 418.8L338.4 419.5L341.6 420.1L344.7 420.7L347.8 421.1L351.0 421.4L354.1 421.5L354.1 421.5L357.2 421.5L360.3 421.5L363.4 421.5L366.5 421.4L369.6 421.4L372.7 421.4L375.7 421.3L378.8 421.3L381.9 421.2L385.0 421.2L388.1 421.2L391.2 421.1L394.3 421.1L397.4 421.1L400.5 421.0L403.6 421.0L406.7 421.0L409.8 421.0L409.8 421.0L412.8 421.0L415.8 421.0L418.9 421.0L421.9 421.0L425.0 421.0L428.0 421.0L431.1 421.0L434.1 421.0L437.2 421.0L440.2 421.0L443.3 421.0L446.3 421.0L449.4 421.0L452.4 421.0L452.4 421.0L455.5 421.0L458.6 421.0L461.7 421.0L464.8 421.0L467.8 421.0L470.9 421.0L474.0 421.0L477.1 421.0L480.2 421.0L483.3 421.0L486.4 421.0L489.5 421.0L492.6 421.0L495.6 421.0L498.7 421.0L501.8 421.0L504.9 421.0L508.0 421.0L508.0 421.0L511.1 421.0L514.1 421.0L517.2 421.0L520.3 421.0L523.3 421.0L526.4 421.0L529.5 421.0L532.5 421.0L535.6 421.0L538.6 421.0L541.7 421.0L544.8 421.0L547.8 421.0L550.9 421.0M119.8 418.0L122.9 418.0L126.0 418.0L129.1 417.9L132.1 417.9L135.2 417.8L138.3 417.8L141.4 417.7L144.5 417.6L147.6 417.5L150.6 417.4L153.7 417.3L156.8 417.2L159.9 417.2L163.0 417.1L166.1 417.1L169.1 417.0L172.2 417.0L175.3 417.0L175.3 417.0L178.4 417.0L181.4 417.1L184.5 417.2L187.5 417.3L190.6 417.4L193.6 417.6L196.7 417.8L199.8 417.9L202.8 418.1L205.9 418.2L208.9 418.3L212.0 418.4L215.0 418.5L218.1 418.5L218.1 418.5L221.2 418.5L224.3 418.5L227.4 418.4L230.5 418.3L233.5 418.2L236.6 418.1L239.7 418.0L242.8 417.9L245.9 417.8L249.0 417.6L252.1 417.5L255.2 417.4L258.3 417.3L261.3 417.2L264.4 417.1L267.5 417.0L270.6 417.0L273.7 417.0L273.7 417.0L276.8 417.0L279.8 417.0L282.9 417.0L285.9 417.0L289.0 417.0L292.0 417.0L295.1 417.0L298.2 417.0L301.2 417.0L304.3 417.0L307.3 417.0L310.4 417.0L313.4 417.0L316.5 417.0M316.5 417.0L319.6 417.1L322.8 417.4L325.9 418.0L329.0 418.6L332.2 419.4L335.3 420.2L338.4 421.1L341.6 421.9L344.7 422.5L347.8 423.1L351.0 423.4L354.1 423.5L354.1 423.5L357.2 423.5L360.3 423.5L363.4 423.5L366.5 423.5L369.6 423.5L372.7 423.5L375.7 423.5L378.8 423.5L381.9 423.5L385.0 423.5L388.1 423.5L391.2 423.5L394.3 423.5L397.4 423.5L400.5 423.5L403.6 423.5L406.7 423.5L409.8 423.5L409.8 423.5L412.8 423.5L415.8 423.5L418.9 423.4L421.9 423.4L425.0 423.4L428.0 423.3L431.1 423.2L434.1 423.2L437.2 423.1L440.2 423.1L443.3 423.1L446.3 423.0L449.4 423.0L452.4 423.0L452.4 423.0L455.5 423.0L458.6 423.0L461.7 423.0L464.8 423.0L467.8 423.0L470.9 423.0L474.0 423.0L477.1 423.0L480.2 423.0L483.3 423.0L486.4 423.0L489.5 423.0L492.6 423.0L495.6 423.0L498.7 423.0L501.8 423.0L504.9 423.0L508.0 423.0L508.0 423.0L511.1 423.0L514.1 423.0L517.2 423.0L520.3 423.0L523.3 423.0L526.4 423.0L529.5 423.0L532.5 423.0L535.6 423.0L538.6 423.0L541.7 423.0L544.8 423.0L547.8 423.0L550.9 423.0M316.5 423.0L319.6 423.0L322.8 423.0L325.9 423.0L329.0 423.0L332.2 423.0L335.3 423.0L338.4 423.0L341.6 423.0L344.7 423.0L347.8 423.0L351.0 423.0L354.1 423.0L354.1 423.0L357.2 423.0L360.3 423.0L363.4 423.0L366.5 423.1L369.6 423.1L372.7 423.1L375.7 423.2L378.8 423.2L381.9 423.2L385.0 423.3L388.1 423.3L391.2 423.4L394.3 423.4L397.4 423.4L400.5 423.5L403.6 423.5L406.7 423.5L409.8 423.5L409.8 423.5L412.8 423.5L415.8 423.5L418.9 423.5L421.9 423.5L425.0 423.5L428.0 423.5L431.1 423.5L434.1 423.5L437.2 423.5L440.2 423.5L443.3 423.5L446.3 423.5L449.4 423.5L452.4 423.5L452.4 423.5L455.5 423.5L458.6 423.5L461.7 423.5L464.8 423.5L467.8 423.5L470.9 423.5L474.0 423.5L477.1 423.5L480.2 423.5L483.3 423.5L486.4 423.5L489.5 423.5L492.6 423.5L495.6 423.5L498.7 423.5L501.8 423.5L504.9 423.5L508.0 423.5L508.0 423.5L511.1 423.5L514.1 423.5L517.2 423.6L520.3 423.6L523.3 423.6L526.4 423.7L529.5 423.8L532.5 423.8L535.6 423.9L538.6 423.9L541.7 423.9L544.8 424.0L547.8 424.0L550.9 424.0M316.5 446.0L319.6 446.0L322.8 446.0L325.9 446.0L329.0 446.0L332.2 446.0L335.3 446.0L338.4 446.0L341.6 446.0L344.7 446.0L347.8 446.0L351.0 446.0L354.1 446.0L354.1 446.0L357.2 446.0L360.3 446.2L363.4 446.4L366.5 446.7L369.6 447.1L372.7 447.5L375.7 448.0L378.8 448.5L381.9 449.0L385.0 449.5L388.1 450.0L391.2 450.5L394.3 450.9L397.4 451.3L400.5 451.6L403.6 451.8L406.7 452.0L409.8 452.0L409.8 452.0L412.8 452.1L415.8 452.5L418.9 453.1L421.9 454.0L425.0 455.0L428.0 456.1L431.1 457.2L434.1 458.4L437.2 459.5L440.2 460.5L443.3 461.4L446.3 462.0L449.4 462.4L452.4 462.5L452.4 462.5L455.5 462.4L458.6 462.3L461.7 462.0L464.8 461.6L467.8 461.2L470.9 460.6L474.0 460.0L477.1 459.4L480.2 458.8L483.3 458.1L486.4 457.5L489.5 456.9L492.6 456.3L495.6 455.9L498.7 455.5L501.8 455.2L504.9 455.1L508.0 455.0L508.0 455.0L511.1 455.0L514.1 455.1L517.2 455.3L520.3 455.5L523.3 455.7L526.4 456.0L529.5 456.2L532.5 456.5L535.6 456.8L538.6 457.0L541.7 457.2L544.8 457.4L547.8 457.5L550.9 457.5M119.8 399.5L122.9 399.5L126.0 399.5L129.1 399.5L132.1 399.5L135.2 399.5L138.3 399.5L141.4 399.5L144.5 399.5L147.6 399.5L150.6 399.5L153.7 399.5L156.8 399.5L159.9 399.5L163.0 399.5L166.1 399.5L169.1 399.5L172.2 399.5L175.3 399.5L175.3 399.5L178.4 399.5L181.4 399.5L184.5 399.5L187.5 399.5L190.6 399.5L193.6 399.5L196.7 399.5L199.8 399.5L202.8 399.5L205.9 399.5L208.9 399.5L212.0 399.5L215.0 399.5L218.1 399.5L218.1 399.5L221.2 399.5L224.3 399.5L227.4 399.5L230.5 399.5L233.5 399.5L236.6 399.5L239.7 399.5L242.8 399.5L245.9 399.5L249.0 399.5L252.1 399.5L255.2 399.5L258.3 399.5L261.3 399.5L264.4 399.5L267.5 399.5L270.6 399.5L273.7 399.5L273.7 399.5L276.8 399.5L279.8 399.5L282.9 399.5L285.9 399.5L289.0 399.5L292.0 399.5L295.1 399.5L298.2 399.5L301.2 399.5L304.3 399.5L307.3 399.5L310.4 399.5L313.4 399.5L316.5 399.5M316.5 399.5L319.6 399.5L322.8 399.7L325.9 399.9L329.0 400.1L332.2 400.4L335.3 400.8L338.4 401.1L341.6 401.4L344.7 401.6L347.8 401.8L351.0 402.0L354.1 402.0L354.1 402.0L357.2 402.0L360.3 402.0L363.4 402.1L366.5 402.1L369.6 402.2L372.7 402.2L375.7 402.3L378.8 402.4L381.9 402.5L385.0 402.6L388.1 402.7L391.2 402.8L394.3 402.8L397.4 402.9L400.5 402.9L403.6 403.0L406.7 403.0L409.8 403.0L409.8 403.0L412.8 403.0L415.8 403.0L418.9 403.0L421.9 403.0L425.0 403.0L428.0 403.0L431.1 403.0L434.1 403.0L437.2 403.0L440.2 403.0L443.3 403.0L446.3 403.0L449.4 403.0L452.4 403.0L452.4 403.0L455.5 403.0L458.6 403.0L461.7 403.0L464.8 403.0L467.8 403.0L470.9 403.0L474.0 403.0L477.1 403.0L480.2 403.0L483.3 403.0L486.4 403.0L489.5 403.0L492.6 403.0L495.6 403.0L498.7 403.0L501.8 403.0L504.9 403.0L508.0 403.0L508.0 403.0L511.1 403.0L514.1 403.0L517.2 402.9L520.3 402.9L523.3 402.9L526.4 402.8L529.5 402.8L532.5 402.7L535.6 402.6L538.6 402.6L541.7 402.6L544.8 402.5L547.8 402.5L550.9 402.5M119.8 400.5L122.9 400.5L126.0 400.5L129.1 400.5L132.1 400.5L135.2 400.5L138.3 400.5L141.4 400.5L144.5 400.5L147.6 400.5L150.6 400.5L153.7 400.5L156.8 400.5L159.9 400.5L163.0 400.5L166.1 400.5L169.1 400.5L172.2 400.5L175.3 400.5L175.3 400.5L178.4 400.5L181.4 400.5L184.5 400.5L187.5 400.5L190.6 400.5L193.6 400.5L196.7 400.5L199.8 400.5L202.8 400.5L205.9 400.5L208.9 400.5L212.0 400.5L215.0 400.5L218.1 400.5L218.1 400.5L221.2 400.5L224.3 400.5L227.4 400.5L230.5 400.5L233.5 400.5L236.6 400.5L239.7 400.5L242.8 400.5L245.9 400.5L249.0 400.5L252.1 400.5L255.2 400.5L258.3 400.5L261.3 400.5L264.4 400.5L267.5 400.5L270.6 400.5L273.7 400.5L273.7 400.5L276.8 400.5L279.8 400.5L282.9 400.5L285.9 400.5L289.0 400.5L292.0 400.5L295.1 400.5L298.2 400.5L301.2 400.5L304.3 400.5L307.3 400.5L310.4 400.5L313.4 400.5L316.5 400.5M316.5 400.5L319.6 400.6L322.8 400.8L325.9 401.1L329.0 401.5L332.2 402.0L335.3 402.5L338.4 403.0L341.6 403.5L344.7 403.9L347.8 404.2L351.0 404.4L354.1 404.5L354.1 404.5L357.2 404.5L360.3 404.5L363.4 404.5L366.5 404.6L369.6 404.6L372.7 404.6L375.7 404.7L378.8 404.7L381.9 404.8L385.0 404.8L388.1 404.8L391.2 404.9L394.3 404.9L397.4 404.9L400.5 405.0L403.6 405.0L406.7 405.0L409.8 405.0L409.8 405.0L412.8 405.0L415.8 405.0L418.9 405.0L421.9 405.0L425.0 405.0L428.0 405.0L431.1 405.0L434.1 405.0L437.2 405.0L440.2 405.0L443.3 405.0L446.3 405.0L449.4 405.0L452.4 405.0L452.4 405.0L455.5 405.0L458.6 405.0L461.7 405.0L464.8 405.0L467.8 405.0L470.9 405.0L474.0 405.0L477.1 405.0L480.2 405.0L483.3 405.0L486.4 405.0L489.5 405.0L492.6 405.0L495.6 405.0L498.7 405.0L501.8 405.0L504.9 405.0L508.0 405.0L508.0 405.0L511.1 405.0L514.1 405.0L517.2 404.9L520.3 404.9L523.3 404.9L526.4 404.8L529.5 404.8L532.5 404.7L535.6 404.6L538.6 404.6L541.7 404.6L544.8 404.5L547.8 404.5L550.9 404.5M119.8 200.0L122.9 200.0L126.0 200.1L129.1 200.1L132.1 200.1L135.2 200.1L138.3 200.2L141.4 200.2L144.5 200.2L147.6 200.3L150.6 200.3L153.7 200.3L156.8 200.4L159.9 200.4L163.0 200.4L166.1 200.5L169.1 200.5L172.2 200.5L175.3 200.5L175.3 200.5L178.4 200.5L181.4 200.5L184.5 200.5L187.5 200.4L190.6 200.4L193.6 200.4L196.7 200.3L199.8 200.3L202.8 200.3L205.9 200.3L208.9 200.2L212.0 200.2L215.0 200.2L218.1 200.2L218.1 200.2L221.2 200.2L224.3 200.2L227.4 200.2L230.5 200.3L233.5 200.3L236.6 200.3L239.7 200.3L242.8 200.4L245.9 200.4L249.0 200.4L252.1 200.5L255.2 200.5L258.3 200.5L261.3 200.5L264.4 200.6L267.5 200.6L270.6 200.6L273.7 200.6L273.7 200.6L276.8 200.6L279.8 200.6L282.9 200.6L285.9 200.6L289.0 200.6L292.0 200.6L295.1 200.6L298.2 200.6L301.2 200.6L304.3 200.6L307.3 200.7L310.4 200.7L313.4 200.7L316.5 200.7M316.5 199.8L319.6 199.8L322.8 199.8L325.9 199.8L329.0 199.8L332.2 199.9L335.3 199.9L338.4 199.9L341.6 200.0L344.7 200.0L347.8 200.0L351.0 200.0L354.1 200.1L354.1 200.1L357.2 200.1L360.3 200.1L363.4 200.2L366.5 200.3L369.6 200.4L372.7 200.6L375.7 200.7L378.8 200.9L381.9 201.0L385.0 201.2L388.1 201.4L391.2 201.5L394.3 201.7L397.4 201.8L400.5 201.9L403.6 202.0L406.7 202.0L409.8 202.0L409.8 202.0L412.8 202.0L415.8 202.0L418.9 202.0L421.9 202.0L425.0 201.9L428.0 201.9L431.1 201.8L434.1 201.8L437.2 201.7L440.2 201.7L443.3 201.6L446.3 201.6L449.4 201.6L452.4 201.6L452.4 201.6L455.5 201.6L458.6 201.6L461.7 201.6L464.8 201.6L467.8 201.6L470.9 201.6L474.0 201.6L477.1 201.6L480.2 201.6L483.3 201.5L486.4 201.5L489.5 201.5L492.6 201.5L495.6 201.5L498.7 201.5L501.8 201.5L504.9 201.5L508.0 201.5L508.0 201.5L511.1 201.5L514.1 201.5L517.2 201.6L520.3 201.6L523.3 201.6L526.4 201.6L529.5 201.6L532.5 201.6L535.6 201.7L538.6 201.7L541.7 201.7L544.8 201.7L547.8 201.7L550.9 201.7M119.8 202.3L122.9 202.3L126.0 202.3L129.1 202.4L132.1 202.4L135.2 202.4L138.3 202.4L141.4 202.5L144.5 202.5L147.6 202.6L150.6 202.6L153.7 202.6L156.8 202.7L159.9 202.7L163.0 202.7L166.1 202.8L169.1 202.8L172.2 202.8L175.3 202.8L175.3 202.8L178.4 202.8L181.4 202.8L184.5 202.7L187.5 202.7L190.6 202.6L193.6 202.6L196.7 202.5L199.8 202.4L202.8 202.4L205.9 202.3L208.9 202.3L212.0 202.2L215.0 202.2L218.1 202.2L218.1 202.2L221.2 202.2L224.3 202.2L227.4 202.2L230.5 202.2L233.5 202.3L236.6 202.3L239.7 202.3L242.8 202.3L245.9 202.3L249.0 202.4L252.1 202.4L255.2 202.4L258.3 202.4L261.3 202.4L264.4 202.5L267.5 202.5L270.6 202.5L273.7 202.5L273.7 202.5L276.8 202.5L279.8 202.4L282.9 202.4L285.9 202.3L289.0 202.3L292.0 202.2L295.1 202.1L298.2 202.1L301.2 202.0L304.3 201.9L307.3 201.9L310.4 201.8L313.4 201.8L316.5 201.8M316.5 202.6L319.6 202.6L322.8 202.6L325.9 202.7L329.0 202.7L332.2 202.8L335.3 202.8L338.4 202.9L341.6 203.0L344.7 203.0L347.8 203.1L351.0 203.1L354.1 203.1L354.1 203.1L357.2 203.1L360.3 203.1L363.4 203.1L366.5 203.0L369.6 203.0L372.7 203.0L375.7 202.9L378.8 202.9L381.9 202.8L385.0 202.8L388.1 202.7L391.2 202.7L394.3 202.6L397.4 202.6L400.5 202.6L403.6 202.6L406.7 202.5L409.8 202.5L409.8 202.5L412.8 202.5L415.8 202.6L418.9 202.6L421.9 202.7L425.0 202.7L428.0 202.8L431.1 202.9L434.1 203.0L437.2 203.1L440.2 203.1L443.3 203.2L446.3 203.2L449.4 203.3L452.4 203.3L452.4 203.3L455.5 203.3L458.6 203.3L461.7 203.3L464.8 203.2L467.8 203.2L470.9 203.2L474.0 203.2L477.1 203.2L480.2 203.2L483.3 203.2L486.4 203.2L489.5 203.2L492.6 203.2L495.6 203.2L498.7 203.2L501.8 203.2L504.9 203.2L508.0 203.1L508.0 203.1L511.1 203.1L514.1 203.1L517.2 203.0L520.3 202.9L523.3 202.8L526.4 202.7L529.5 202.6L532.5 202.5L535.6 202.4L538.6 202.3L541.7 202.2L544.8 202.1L547.8 202.1L550.9 202.1M119.8 204.7L122.9 204.7L126.0 204.7L129.1 204.7L132.1 204.6L135.2 204.6L138.3 204.6L141.4 204.5L144.5 204.5L147.6 204.5L150.6 204.4L153.7 204.4L156.8 204.3L159.9 204.3L163.0 204.3L166.1 204.3L169.1 204.2L172.2 204.2L175.3 204.2L175.3 204.2L178.4 204.2L181.4 204.2L184.5 204.2L187.5 204.1L190.6 204.1L193.6 204.0L196.7 204.0L199.8 203.9L202.8 203.9L205.9 203.9L208.9 203.8L212.0 203.8L215.0 203.8L218.1 203.8L218.1 203.8L221.2 203.8L224.3 203.8L227.4 203.7L230.5 203.7L233.5 203.7L236.6 203.7L239.7 203.6L242.8 203.6L245.9 203.5L249.0 203.5L252.1 203.5L255.2 203.4L258.3 203.4L261.3 203.4L264.4 203.4L267.5 203.3L270.6 203.3L273.7 203.3L273.7 203.3L276.8 203.4L279.8 203.4L282.9 203.5L285.9 203.6L289.0 203.8L292.0 203.9L295.1 204.1L298.2 204.3L301.2 204.4L304.3 204.6L307.3 204.7L310.4 204.8L313.4 204.9L316.5 204.9M316.5 204.2L319.6 204.3L322.8 204.3L325.9 204.3L329.0 204.3L332.2 204.3L335.3 204.4L338.4 204.4L341.6 204.4L344.7 204.5L347.8 204.5L351.0 204.5L354.1 204.5L354.1 204.5L357.2 204.5L360.3 204.5L363.4 204.5L366.5 204.5L369.6 204.4L372.7 204.4L375.7 204.4L378.8 204.3L381.9 204.3L385.0 204.3L388.1 204.2L391.2 204.2L394.3 204.2L397.4 204.2L400.5 204.1L403.6 204.1L406.7 204.1L409.8 204.1L409.8 204.1L412.8 204.1L415.8 204.1L418.9 204.1L421.9 204.1L425.0 204.1L428.0 204.1L431.1 204.1L434.1 204.1L437.2 204.1L440.2 204.1L443.3 204.1L446.3 204.1L449.4 204.1L452.4 204.1L452.4 204.1L455.5 204.1L458.6 204.1L461.7 204.2L464.8 204.2L467.8 204.2L470.9 204.2L474.0 204.2L477.1 204.3L480.2 204.3L483.3 204.3L486.4 204.4L489.5 204.4L492.6 204.4L495.6 204.4L498.7 204.4L501.8 204.5L504.9 204.5L508.0 204.5L508.0 204.5L511.1 204.5L514.1 204.5L517.2 204.5L520.3 204.5L523.3 204.5L526.4 204.4L529.5 204.4L532.5 204.4L535.6 204.4L538.6 204.4L541.7 204.4L544.8 204.4L547.8 204.4L550.9 204.4M119.8 206.7L122.9 206.7L126.0 206.7L129.1 206.6L132.1 206.6L135.2 206.5L138.3 206.5L141.4 206.4L144.5 206.3L147.6 206.3L150.6 206.2L153.7 206.1L156.8 206.0L159.9 206.0L163.0 205.9L166.1 205.9L169.1 205.9L172.2 205.8L175.3 205.8L175.3 205.8L178.4 205.8L181.4 205.9L184.5 205.9L187.5 206.0L190.6 206.1L193.6 206.1L196.7 206.2L199.8 206.3L202.8 206.4L205.9 206.5L208.9 206.5L212.0 206.6L215.0 206.6L218.1 206.6L218.1 206.6L221.2 206.6L224.3 206.6L227.4 206.6L230.5 206.6L233.5 206.6L236.6 206.6L239.7 206.6L242.8 206.6L245.9 206.6L249.0 206.6L252.1 206.6L255.2 206.5L258.3 206.5L261.3 206.5L264.4 206.5L267.5 206.5L270.6 206.5L273.7 206.5L273.7 206.5L276.8 206.5L279.8 206.5L282.9 206.4L285.9 206.3L289.0 206.3L292.0 206.2L295.1 206.0L298.2 205.9L301.2 205.8L304.3 205.7L307.3 205.7L310.4 205.6L313.4 205.6L316.5 205.6M316.5 205.6L319.6 205.6L322.8 205.6L325.9 205.6L329.0 205.6L332.2 205.5L335.3 205.5L338.4 205.5L341.6 205.4L344.7 205.4L347.8 205.4L351.0 205.4L354.1 205.4L354.1 205.4L357.2 205.4L360.3 205.4L363.4 205.4L366.5 205.4L369.6 205.4L372.7 205.3L375.7 205.3L378.8 205.3L381.9 205.3L385.0 205.3L388.1 205.3L391.2 205.3L394.3 205.3L397.4 205.3L400.5 205.3L403.6 205.2L406.7 205.2L409.8 205.2L409.8 205.2L412.8 205.2L415.8 205.2L418.9 205.2L421.9 205.1L425.0 205.1L428.0 205.0L431.1 204.9L434.1 204.9L437.2 204.8L440.2 204.7L443.3 204.7L446.3 204.6L449.4 204.6L452.4 204.6L452.4 204.6L455.5 204.6L458.6 204.6L461.7 204.6L464.8 204.6L467.8 204.7L470.9 204.7L474.0 204.7L477.1 204.7L480.2 204.8L483.3 204.8L486.4 204.8L489.5 204.8L492.6 204.9L495.6 204.9L498.7 204.9L501.8 204.9L504.9 204.9L508.0 204.9L508.0 204.9L511.1 204.9L514.1 205.0L517.2 205.0L520.3 205.1L523.3 205.2L526.4 205.4L529.5 205.5L532.5 205.6L535.6 205.8L538.6 205.9L541.7 206.0L544.8 206.0L547.8 206.1L550.9 206.1M119.8 208.1L122.9 208.1L126.0 208.1L129.1 208.1L132.1 208.1L135.2 208.0L138.3 208.0L141.4 207.9L144.5 207.9L147.6 207.9L150.6 207.8L153.7 207.8L156.8 207.7L159.9 207.7L163.0 207.6L166.1 207.6L169.1 207.6L172.2 207.6L175.3 207.6L175.3 207.6L178.4 207.6L181.4 207.6L184.5 207.6L187.5 207.6L190.6 207.6L193.6 207.5L196.7 207.5L199.8 207.5L202.8 207.5L205.9 207.5L208.9 207.5L212.0 207.5L215.0 207.5L218.1 207.5L218.1 207.5L221.2 207.5L224.3 207.5L227.4 207.5L230.5 207.6L233.5 207.6L236.6 207.6L239.7 207.6L242.8 207.7L245.9 207.7L249.0 207.7L252.1 207.8L255.2 207.8L258.3 207.8L261.3 207.8L264.4 207.9L267.5 207.9L270.6 207.9L273.7 207.9L273.7 207.9L276.8 207.9L279.8 207.9L282.9 207.9L285.9 208.0L289.0 208.0L292.0 208.0L295.1 208.1L298.2 208.1L301.2 208.2L304.3 208.2L307.3 208.2L310.4 208.2L313.4 208.3L316.5 208.3M316.5 208.8L319.6 208.8L322.8 208.7L325.9 208.6L329.0 208.5L332.2 208.4L335.3 208.3L338.4 208.2L341.6 208.0L344.7 207.9L347.8 207.9L351.0 207.8L354.1 207.8L354.1 207.8L357.2 207.8L360.3 207.7L363.4 207.7L366.5 207.6L369.6 207.5L372.7 207.4L375.7 207.3L378.8 207.1L381.9 207.0L385.0 206.8L388.1 206.7L391.2 206.6L394.3 206.5L397.4 206.4L400.5 206.3L403.6 206.2L406.7 206.2L409.8 206.2L409.8 206.2L412.8 206.2L415.8 206.2L418.9 206.2L421.9 206.2L425.0 206.2L428.0 206.2L431.1 206.2L434.1 206.2L437.2 206.2L440.2 206.2L443.3 206.2L446.3 206.2L449.4 206.2L452.4 206.2L452.4 206.2L455.5 206.2L458.6 206.2L461.7 206.2L464.8 206.2L467.8 206.2L470.9 206.2L474.0 206.3L477.1 206.3L480.2 206.3L483.3 206.3L486.4 206.3L489.5 206.4L492.6 206.4L495.6 206.4L498.7 206.4L501.8 206.4L504.9 206.4L508.0 206.4L508.0 206.4L511.1 206.4L514.1 206.5L517.2 206.6L520.3 206.8L523.3 207.0L526.4 207.2L529.5 207.5L532.5 207.7L535.6 207.9L538.6 208.1L541.7 208.3L544.8 208.4L547.8 208.5L550.9 208.5M119.8 209.5L122.9 209.5L126.0 209.5L129.1 209.5L132.1 209.6L135.2 209.6L138.3 209.7L141.4 209.7L144.5 209.8L147.6 209.8L150.6 209.9L153.7 209.9L156.8 210.0L159.9 210.0L163.0 210.1L166.1 210.1L169.1 210.1L172.2 210.2L175.3 210.2L175.3 210.2L178.4 210.2L181.4 210.2L184.5 210.2L187.5 210.2L190.6 210.2L193.6 210.2L196.7 210.2L199.8 210.3L202.8 210.3L205.9 210.3L208.9 210.3L212.0 210.3L215.0 210.3L218.1 210.3L218.1 210.3L221.2 210.3L224.3 210.3L227.4 210.3L230.5 210.3L233.5 210.3L236.6 210.3L239.7 210.3L242.8 210.3L245.9 210.3L249.0 210.3L252.1 210.3L255.2 210.3L258.3 210.2L261.3 210.2L264.4 210.2L267.5 210.2L270.6 210.2L273.7 210.2L273.7 210.2L276.8 210.2L279.8 210.2L282.9 210.2L285.9 210.2L289.0 210.2L292.0 210.2L295.1 210.2L298.2 210.2L301.2 210.2L304.3 210.2L307.3 210.2L310.4 210.2L313.4 210.2L316.5 210.2M316.5 210.4L319.6 210.4L322.8 210.3L325.9 210.1L329.0 210.0L332.2 209.8L335.3 209.5L338.4 209.3L341.6 209.1L344.7 209.0L347.8 208.8L351.0 208.7L354.1 208.7L354.1 208.7L357.2 208.7L360.3 208.7L363.4 208.6L366.5 208.5L369.6 208.4L372.7 208.3L375.7 208.2L378.8 208.0L381.9 207.9L385.0 207.7L388.1 207.6L391.2 207.4L394.3 207.3L397.4 207.2L400.5 207.1L403.6 207.1L406.7 207.0L409.8 207.0L409.8 207.0L412.8 207.0L415.8 207.0L418.9 207.0L421.9 207.0L425.0 206.9L428.0 206.9L431.1 206.8L434.1 206.8L437.2 206.8L440.2 206.7L443.3 206.7L446.3 206.7L449.4 206.7L452.4 206.7L452.4 206.7L455.5 206.7L458.6 206.6L461.7 206.6L464.8 206.6L467.8 206.6L470.9 206.5L474.0 206.5L477.1 206.5L480.2 206.4L483.3 206.4L486.4 206.3L489.5 206.3L492.6 206.3L495.6 206.3L498.7 206.2L501.8 206.2L504.9 206.2L508.0 206.2L508.0 206.2L511.1 206.2L514.1 206.4L517.2 206.5L520.3 206.8L523.3 207.1L526.4 207.4L529.5 207.8L532.5 208.1L535.6 208.5L538.6 208.8L541.7 209.0L544.8 209.2L547.8 209.3L550.9 209.4M119.8 215.5L122.9 215.5L126.0 215.5L129.1 215.5L132.1 215.6L135.2 215.6L138.3 215.6L141.4 215.7L144.5 215.7L147.6 215.8L150.6 215.8L153.7 215.8L156.8 215.9L159.9 215.9L163.0 215.9L166.1 216.0L169.1 216.0L172.2 216.0L175.3 216.0L175.3 216.0L178.4 216.0L181.4 216.0L184.5 215.9L187.5 215.9L190.6 215.9L193.6 215.8L196.7 215.8L199.8 215.7L202.8 215.6L205.9 215.6L208.9 215.6L212.0 215.5L215.0 215.5L218.1 215.5L218.1 215.5L221.2 215.5L224.3 215.5L227.4 215.4L230.5 215.3L233.5 215.2L236.6 215.1L239.7 215.0L242.8 214.9L245.9 214.8L249.0 214.6L252.1 214.5L255.2 214.4L258.3 214.3L261.3 214.2L264.4 214.1L267.5 214.0L270.6 214.0L273.7 214.0L273.7 214.0L276.8 214.0L279.8 214.0L282.9 214.0L285.9 214.0L289.0 214.0L292.0 214.0L295.1 214.0L298.2 214.0L301.2 214.0L304.3 214.0L307.3 214.0L310.4 214.0L313.4 214.0L316.5 214.0M316.5 213.0L319.6 213.0L322.8 213.0L325.9 213.1L329.0 213.1L332.2 213.2L335.3 213.2L338.4 213.3L341.6 213.4L344.7 213.4L347.8 213.5L351.0 213.5L354.1 213.5L354.1 213.5L357.2 213.5L360.3 213.5L363.4 213.5L366.5 213.5L369.6 213.5L372.7 213.5L375.7 213.5L378.8 213.5L381.9 213.5L385.0 213.5L388.1 213.5L391.2 213.5L394.3 213.5L397.4 213.5L400.5 213.5L403.6 213.5L406.7 213.5L409.8 213.5L409.8 213.5L412.8 213.5L415.8 213.5L418.9 213.6L421.9 213.7L425.0 213.8L428.0 213.9L431.1 214.0L434.1 214.1L437.2 214.2L440.2 214.3L443.3 214.4L446.3 214.5L449.4 214.5L452.4 214.5L452.4 214.5L455.5 214.5L458.6 214.5L461.7 214.4L464.8 214.3L467.8 214.2L470.9 214.1L474.0 214.0L477.1 213.9L480.2 213.8L483.3 213.6L486.4 213.5L489.5 213.4L492.6 213.3L495.6 213.2L498.7 213.1L501.8 213.0L504.9 213.0L508.0 213.0L508.0 213.0L511.1 213.0L514.1 213.0L517.2 213.0L520.3 213.0L523.3 213.0L526.4 213.0L529.5 213.0L532.5 213.0L535.6 213.0L538.6 213.0L541.7 213.0L544.8 213.0L547.8 213.0L550.9 213.0M119.8 218.5L122.9 218.5L126.0 218.5L129.1 218.5L132.1 218.6L135.2 218.6L138.3 218.6L141.4 218.7L144.5 218.7L147.6 218.8L150.6 218.8L153.7 218.8L156.8 218.9L159.9 218.9L163.0 218.9L166.1 219.0L169.1 219.0L172.2 219.0L175.3 219.0L175.3 219.0L178.4 219.0L181.4 219.0L184.5 218.9L187.5 218.8L190.6 218.7L193.6 218.6L196.7 218.5L199.8 218.4L202.8 218.3L205.9 218.2L208.9 218.1L212.0 218.0L215.0 218.0L218.1 218.0L218.1 218.0L221.2 218.0L224.3 218.0L227.4 217.9L230.5 217.9L233.5 217.8L236.6 217.8L239.7 217.7L242.8 217.6L245.9 217.5L249.0 217.4L252.1 217.3L255.2 217.2L258.3 217.2L261.3 217.1L264.4 217.1L267.5 217.0L270.6 217.0L273.7 217.0L273.7 217.0L276.8 217.0L279.8 217.0L282.9 217.0L285.9 217.0L289.0 217.0L292.0 217.0L295.1 217.0L298.2 217.0L301.2 217.0L304.3 217.0L307.3 217.0L310.4 217.0L313.4 217.0L316.5 217.0M316.5 216.5L319.6 216.5L322.8 216.5L325.9 216.4L329.0 216.4L332.2 216.3L335.3 216.2L338.4 216.2L341.6 216.1L344.7 216.1L347.8 216.0L351.0 216.0L354.1 216.0L354.1 216.0L357.2 216.0L360.3 216.0L363.4 216.0L366.5 216.0L369.6 216.0L372.7 216.0L375.7 216.0L378.8 216.0L381.9 216.0L385.0 216.0L388.1 216.0L391.2 216.0L394.3 216.0L397.4 216.0L400.5 216.0L403.6 216.0L406.7 216.0L409.8 216.0L409.8 216.0L412.8 216.0L415.8 215.9L418.9 215.8L421.9 215.7L425.0 215.6L428.0 215.4L431.1 215.2L434.1 215.1L437.2 214.9L440.2 214.8L443.3 214.7L446.3 214.6L449.4 214.5L452.4 214.5L452.4 214.5L455.5 214.5L458.6 214.6L461.7 214.8L464.8 215.0L467.8 215.3L470.9 215.6L474.0 215.9L477.1 216.3L480.2 216.7L483.3 217.0L486.4 217.4L489.5 217.7L492.6 218.0L495.6 218.3L498.7 218.5L501.8 218.7L504.9 218.8L508.0 218.8L508.0 218.8L511.1 218.8L514.1 218.7L517.2 218.5L520.3 218.3L523.3 218.0L526.4 217.7L529.5 217.4L532.5 217.1L535.6 216.8L538.6 216.5L541.7 216.3L544.8 216.1L547.8 216.0L550.9 216.0M119.8 221.5L122.9 221.5L126.0 221.5L129.1 221.5L132.1 221.6L135.2 221.6L138.3 221.6L141.4 221.7L144.5 221.7L147.6 221.8L150.6 221.8L153.7 221.8L156.8 221.9L159.9 221.9L163.0 221.9L166.1 222.0L169.1 222.0L172.2 222.0L175.3 222.0L175.3 222.0L178.4 222.0L181.4 221.9L184.5 221.8L187.5 221.6L190.6 221.4L193.6 221.2L196.7 221.0L199.8 220.8L202.8 220.6L205.9 220.4L208.9 220.2L212.0 220.1L215.0 220.0L218.1 220.0L218.1 220.0L221.2 220.0L224.3 220.0L227.4 220.0L230.5 220.0L233.5 220.0L236.6 220.0L239.7 220.0L242.8 220.0L245.9 220.0L249.0 220.0L252.1 220.0L255.2 220.0L258.3 220.0L261.3 220.0L264.4 220.0L267.5 220.0L270.6 220.0L273.7 220.0L273.7 220.0L276.8 220.0L279.8 220.0L282.9 220.1L285.9 220.1L289.0 220.1L292.0 220.2L295.1 220.2L298.2 220.3L301.2 220.4L304.3 220.4L307.3 220.4L310.4 220.5L313.4 220.5L316.5 220.5M316.5 221.0L319.6 221.0L322.8 220.9L325.9 220.9L329.0 220.8L332.2 220.6L335.3 220.5L338.4 220.4L341.6 220.2L344.7 220.1L347.8 220.1L351.0 220.0L354.1 220.0L354.1 220.0L357.2 220.0L360.3 220.0L363.4 220.1L366.5 220.1L369.6 220.2L372.7 220.2L375.7 220.3L378.8 220.4L381.9 220.5L385.0 220.6L388.1 220.7L391.2 220.8L394.3 220.8L397.4 220.9L400.5 220.9L403.6 221.0L406.7 221.0L409.8 221.0L409.8 221.0L412.8 221.0L415.8 221.1L418.9 221.2L421.9 221.4L425.0 221.6L428.0 221.8L431.1 222.0L434.1 222.2L437.2 222.4L440.2 222.6L443.3 222.8L446.3 222.9L449.4 223.0L452.4 223.0L452.4 223.0L455.5 223.0L458.6 223.0L461.7 223.0L464.8 223.0L467.8 223.0L470.9 223.0L474.0 223.0L477.1 223.0L480.2 223.0L483.3 223.0L486.4 223.0L489.5 223.0L492.6 223.0L495.6 223.0L498.7 223.0L501.8 223.0L504.9 223.0L508.0 223.0L508.0 223.0L511.1 222.9L514.1 222.8L517.2 222.6L520.3 222.2L523.3 221.9L526.4 221.4L529.5 221.0L532.5 220.6L535.6 220.1L538.6 219.8L541.7 219.4L544.8 219.2L547.8 219.1L550.9 219.0M119.8 224.5L122.9 224.5L126.0 224.5L129.1 224.4L132.1 224.4L135.2 224.3L138.3 224.2L141.4 224.2L144.5 224.1L147.6 224.0L150.6 223.9L153.7 223.8L156.8 223.8L159.9 223.7L163.0 223.6L166.1 223.6L169.1 223.5L172.2 223.5L175.3 223.5L175.3 223.5L178.4 223.6L181.4 223.8L184.5 224.1L187.5 224.5L190.6 225.1L193.6 225.6L196.7 226.2L199.8 226.9L202.8 227.4L205.9 228.0L208.9 228.4L212.0 228.7L215.0 228.9L218.1 229.0L218.1 229.0L221.2 229.0L224.3 228.8L227.4 228.6L230.5 228.2L233.5 227.8L236.6 227.4L239.7 226.9L242.8 226.3L245.9 225.8L249.0 225.2L252.1 224.6L255.2 224.1L258.3 223.7L261.3 223.3L264.4 222.9L267.5 222.7L270.6 222.5L273.7 222.5L273.7 222.5L276.8 222.5L279.8 222.6L282.9 222.8L285.9 223.1L289.0 223.3L292.0 223.7L295.1 224.0L298.2 224.3L301.2 224.7L304.3 224.9L307.3 225.2L310.4 225.4L313.4 225.5L316.5 225.5M316.5 225.0L319.6 225.0L322.8 224.9L325.9 224.9L329.0 224.8L332.2 224.6L335.3 224.5L338.4 224.4L341.6 224.2L344.7 224.1L347.8 224.1L351.0 224.0L354.1 224.0L354.1 224.0L357.2 224.0L360.3 224.0L363.4 224.1L366.5 224.1L369.6 224.2L372.7 224.2L375.7 224.3L378.8 224.4L381.9 224.5L385.0 224.6L388.1 224.7L391.2 224.8L394.3 224.8L397.4 224.9L400.5 224.9L403.6 225.0L406.7 225.0L409.8 225.0L409.8 225.0L412.8 225.0L415.8 224.9L418.9 224.8L421.9 224.6L425.0 224.4L428.0 224.2L431.1 224.0L434.1 223.8L437.2 223.6L440.2 223.4L443.3 223.2L446.3 223.1L449.4 223.0L452.4 223.0L452.4 223.0L455.5 223.0L458.6 223.0L461.7 223.0L464.8 223.0L467.8 223.0L470.9 223.0L474.0 223.0L477.1 223.0L480.2 223.0L483.3 223.0L486.4 223.0L489.5 223.0L492.6 223.0L495.6 223.0L498.7 223.0L501.8 223.0L504.9 223.0L508.0 223.0L508.0 223.0L511.1 223.0L514.1 223.0L517.2 222.9L520.3 222.8L523.3 222.7L526.4 222.6L529.5 222.5L532.5 222.4L535.6 222.3L538.6 222.2L541.7 222.1L544.8 222.0L547.8 222.0L550.9 222.0M119.8 228.0L122.9 228.0L126.0 227.9L129.1 227.9L132.1 227.8L135.2 227.6L138.3 227.5L141.4 227.3L144.5 227.2L147.6 227.0L150.6 226.8L153.7 226.7L156.8 226.5L159.9 226.4L163.0 226.2L166.1 226.1L169.1 226.1L172.2 226.0L175.3 226.0L175.3 226.0L178.4 226.1L181.4 226.3L184.5 226.7L187.5 227.1L190.6 227.7L193.6 228.3L196.7 229.0L199.8 229.7L202.8 230.3L205.9 230.9L208.9 231.3L212.0 231.7L215.0 231.9L218.1 232.0L218.1 232.0L221.2 232.0L224.3 231.8L227.4 231.6L230.5 231.3L233.5 230.9L236.6 230.5L239.7 230.0L242.8 229.5L245.9 229.0L249.0 228.5L252.1 228.0L255.2 227.5L258.3 227.1L261.3 226.7L264.4 226.4L267.5 226.2L270.6 226.0L273.7 226.0L273.7 226.0L276.8 226.0L279.8 226.1L282.9 226.3L285.9 226.5L289.0 226.7L292.0 227.0L295.1 227.2L298.2 227.5L301.2 227.8L304.3 228.0L307.3 228.2L310.4 228.4L313.4 228.5L316.5 228.5M316.5 228.0L319.6 228.0L322.8 227.9L325.9 227.9L329.0 227.8L332.2 227.6L335.3 227.5L338.4 227.4L341.6 227.2L344.7 227.1L347.8 227.1L351.0 227.0L354.1 227.0L354.1 227.0L357.2 227.0L360.3 227.0L363.4 226.9L366.5 226.9L369.6 226.8L372.7 226.8L375.7 226.7L378.8 226.6L381.9 226.5L385.0 226.4L388.1 226.3L391.2 226.2L394.3 226.2L397.4 226.1L400.5 226.1L403.6 226.0L406.7 226.0L409.8 226.0L409.8 226.0L412.8 226.0L415.8 226.1L418.9 226.3L421.9 226.6L425.0 226.8L428.0 227.2L431.1 227.5L434.1 227.8L437.2 228.2L440.2 228.4L443.3 228.7L446.3 228.9L449.4 229.0L452.4 229.0L452.4 229.0L455.5 229.0L458.6 229.0L461.7 229.0L464.8 229.0L467.8 228.9L470.9 228.9L474.0 228.9L477.1 228.8L480.2 228.8L483.3 228.8L486.4 228.7L489.5 228.7L492.6 228.7L495.6 228.6L498.7 228.6L501.8 228.6L504.9 228.6L508.0 228.6L508.0 228.6L511.1 228.6L514.1 228.5L517.2 228.3L520.3 228.1L523.3 227.9L526.4 227.6L529.5 227.3L532.5 227.0L535.6 226.7L538.6 226.5L541.7 226.3L544.8 226.1L547.8 226.0L550.9 226.0M119.8 231.0L122.9 231.0L126.0 230.9L129.1 230.9L132.1 230.8L135.2 230.6L138.3 230.5L141.4 230.3L144.5 230.2L147.6 230.0L150.6 229.8L153.7 229.7L156.8 229.5L159.9 229.4L163.0 229.2L166.1 229.1L169.1 229.1L172.2 229.0L175.3 229.0L175.3 229.0L178.4 229.1L181.4 229.3L184.5 229.7L187.5 230.1L190.6 230.7L193.6 231.3L196.7 232.0L199.8 232.7L202.8 233.3L205.9 233.9L208.9 234.3L212.0 234.7L215.0 234.9L218.1 235.0L218.1 235.0L221.2 235.0L224.3 234.8L227.4 234.6L230.5 234.3L233.5 233.9L236.6 233.5L239.7 233.0L242.8 232.5L245.9 232.0L249.0 231.5L252.1 231.0L255.2 230.5L258.3 230.1L261.3 229.7L264.4 229.4L267.5 229.2L270.6 229.0L273.7 229.0L273.7 229.0L276.8 229.0L279.8 229.1L282.9 229.3L285.9 229.5L289.0 229.7L292.0 230.0L295.1 230.2L298.2 230.5L301.2 230.8L304.3 231.0L307.3 231.2L310.4 231.4L313.4 231.5L316.5 231.5M316.5 230.0L319.6 230.0L322.8 230.0L325.9 230.0L329.0 230.0L332.2 230.0L335.3 230.0L338.4 230.0L341.6 230.0L344.7 230.0L347.8 230.0L351.0 230.0L354.1 230.0L354.1 230.0L357.2 230.0L360.3 230.1L363.4 230.1L366.5 230.2L369.6 230.4L372.7 230.5L375.7 230.7L378.8 230.8L381.9 231.0L385.0 231.2L388.1 231.3L391.2 231.5L394.3 231.6L397.4 231.8L400.5 231.9L403.6 231.9L406.7 232.0L409.8 232.0L409.8 232.0L412.8 232.0L415.8 232.0L418.9 231.9L421.9 231.9L425.0 231.8L428.0 231.8L431.1 231.7L434.1 231.6L437.2 231.6L440.2 231.5L443.3 231.5L446.3 231.4L449.4 231.4L452.4 231.4L452.4 231.4L455.5 231.4L458.6 231.3L461.7 231.2L464.8 231.1L467.8 230.9L470.9 230.7L474.0 230.5L477.1 230.2L480.2 230.0L483.3 229.8L486.4 229.5L489.5 229.3L492.6 229.1L495.6 228.9L498.7 228.8L501.8 228.7L504.9 228.6L508.0 228.6L508.0 228.6L511.1 228.6L514.1 228.7L517.2 228.8L520.3 228.9L523.3 229.0L526.4 229.1L529.5 229.3L532.5 229.5L535.6 229.6L538.6 229.7L541.7 229.8L544.8 229.9L547.8 230.0L550.9 230.0M119.8 234.0L122.9 234.0L126.0 233.9L129.1 233.9L132.1 233.8L135.2 233.6L138.3 233.5L141.4 233.3L144.5 233.2L147.6 233.0L150.6 232.8L153.7 232.7L156.8 232.5L159.9 232.4L163.0 232.2L166.1 232.1L169.1 232.1L172.2 232.0L175.3 232.0L175.3 232.0L178.4 232.1L181.4 232.3L184.5 232.7L187.5 233.1L190.6 233.7L193.6 234.3L196.7 235.0L199.8 235.7L202.8 236.3L205.9 236.9L208.9 237.3L212.0 237.7L215.0 237.9L218.1 238.0L218.1 238.0L221.2 238.0L224.3 237.8L227.4 237.6L230.5 237.3L233.5 236.9L236.6 236.5L239.7 236.0L242.8 235.5L245.9 235.0L249.0 234.5L252.1 234.0L255.2 233.5L258.3 233.1L261.3 232.7L264.4 232.4L267.5 232.2L270.6 232.0L273.7 232.0L273.7 232.0L276.8 232.0L279.8 232.1L282.9 232.3L285.9 232.5L289.0 232.7L292.0 233.0L295.1 233.2L298.2 233.5L301.2 233.8L304.3 234.0L307.3 234.2L310.4 234.4L313.4 234.5L316.5 234.5M316.5 233.0L319.6 233.0L322.8 233.0L325.9 233.0L329.0 233.0L332.2 233.0L335.3 233.0L338.4 233.0L341.6 233.0L344.7 233.0L347.8 233.0L351.0 233.0L354.1 233.0L354.1 233.0L357.2 233.0L360.3 233.0L363.4 233.1L366.5 233.1L369.6 233.2L372.7 233.2L375.7 233.3L378.8 233.4L381.9 233.5L385.0 233.6L388.1 233.7L391.2 233.8L394.3 233.8L397.4 233.9L400.5 233.9L403.6 234.0L406.7 234.0L409.8 234.0L409.8 234.0L412.8 234.0L415.8 234.0L418.9 234.0L421.9 234.0L425.0 234.0L428.0 234.0L431.1 234.0L434.1 234.0L437.2 234.0L440.2 234.0L443.3 234.0L446.3 234.0L449.4 234.0L452.4 234.0L452.4 234.0L455.5 234.0L458.6 234.0L461.7 234.1L464.8 234.1L467.8 234.2L470.9 234.2L474.0 234.3L477.1 234.4L480.2 234.5L483.3 234.6L486.4 234.7L489.5 234.8L492.6 234.8L495.6 234.9L498.7 234.9L501.8 235.0L504.9 235.0L508.0 235.0L508.0 235.0L511.1 235.0L514.1 234.9L517.2 234.8L520.3 234.6L523.3 234.4L526.4 234.2L529.5 234.0L532.5 233.8L535.6 233.6L538.6 233.4L541.7 233.2L544.8 233.1L547.8 233.0L550.9 233.0M119.8 237.0L122.9 237.0L126.0 236.9L129.1 236.9L132.1 236.8L135.2 236.6L138.3 236.5L141.4 236.3L144.5 236.2L147.6 236.0L150.6 235.8L153.7 235.7L156.8 235.5L159.9 235.4L163.0 235.2L166.1 235.1L169.1 235.1L172.2 235.0L175.3 235.0L175.3 235.0L178.4 235.1L181.4 235.3L184.5 235.6L187.5 236.0L190.6 236.6L193.6 237.1L196.7 237.8L199.8 238.4L202.8 238.9L205.9 239.5L208.9 239.9L212.0 240.2L215.0 240.4L218.1 240.5L218.1 240.5L221.2 240.5L224.3 240.3L227.4 240.1L230.5 239.8L233.5 239.4L236.6 239.0L239.7 238.5L242.8 238.0L245.9 237.5L249.0 237.0L252.1 236.5L255.2 236.0L258.3 235.6L261.3 235.2L264.4 234.9L267.5 234.7L270.6 234.5L273.7 234.5L273.7 234.5L276.8 234.5L279.8 234.6L282.9 234.8L285.9 235.0L289.0 235.2L292.0 235.5L295.1 235.8L298.2 236.0L301.2 236.3L304.3 236.5L307.3 236.7L310.4 236.9L313.4 237.0L316.5 237.0M316.5 236.0L319.6 236.0L322.8 236.0L325.9 236.0L329.0 236.0L332.2 236.0L335.3 236.0L338.4 236.0L341.6 236.0L344.7 236.0L347.8 236.0L351.0 236.0L354.1 236.0L354.1 236.0L357.2 236.0L360.3 236.0L363.4 236.0L366.5 236.0L369.6 236.0L372.7 236.0L375.7 236.0L378.8 236.0L381.9 236.0L385.0 236.0L388.1 236.0L391.2 236.0L394.3 236.0L397.4 236.0L400.5 236.0L403.6 236.0L406.7 236.0L409.8 236.0L409.8 236.0L412.8 236.0L415.8 236.0L418.9 236.0L421.9 236.0L425.0 236.0L428.0 236.0L431.1 236.0L434.1 236.0L437.2 236.0L440.2 236.0L443.3 236.0L446.3 236.0L449.4 236.0L452.4 236.0L452.4 236.0L455.5 236.0L458.6 236.1L461.7 236.2L464.8 236.3L467.8 236.4L470.9 236.6L474.0 236.8L477.1 237.0L480.2 237.2L483.3 237.5L486.4 237.7L489.5 237.9L492.6 238.1L495.6 238.2L498.7 238.3L501.8 238.4L504.9 238.5L508.0 238.5L508.0 238.5L511.1 238.5L514.1 238.4L517.2 238.2L520.3 238.0L523.3 237.8L526.4 237.5L529.5 237.2L532.5 237.0L535.6 236.7L538.6 236.5L541.7 236.3L544.8 236.1L547.8 236.0L550.9 236.0M119.8 240.0L122.9 240.0L126.0 240.0L129.1 239.9L132.1 239.8L135.2 239.7L138.3 239.6L141.4 239.5L144.5 239.4L147.6 239.2L150.6 239.1L153.7 239.0L156.8 238.9L159.9 238.8L163.0 238.7L166.1 238.6L169.1 238.5L172.2 238.5L175.3 238.5L175.3 238.5L178.4 238.5L181.4 238.6L184.5 238.8L187.5 239.0L190.6 239.2L193.6 239.5L196.7 239.8L199.8 240.0L202.8 240.3L205.9 240.5L208.9 240.7L212.0 240.9L215.0 241.0L218.1 241.0L218.1 241.0L221.2 241.0L224.3 241.0L227.4 241.0L230.5 241.0L233.5 241.0L236.6 241.0L239.7 241.0L242.8 241.0L245.9 241.0L249.0 241.0L252.1 241.0L255.2 241.0L258.3 241.0L261.3 241.0L264.4 241.0L267.5 241.0L270.6 241.0L273.7 241.0L273.7 241.0L276.8 241.0L279.8 241.0L282.9 240.9L285.9 240.9L289.0 240.9L292.0 240.8L295.1 240.8L298.2 240.7L301.2 240.6L304.3 240.6L307.3 240.6L310.4 240.5L313.4 240.5L316.5 240.5M316.5 239.5L319.6 239.5L322.8 239.5L325.9 239.6L329.0 239.6L332.2 239.7L335.3 239.8L338.4 239.8L341.6 239.9L344.7 239.9L347.8 240.0L351.0 240.0L354.1 240.0L354.1 240.0L357.2 240.0L360.3 240.1L363.4 240.1L366.5 240.2L369.6 240.4L372.7 240.5L375.7 240.7L378.8 240.8L381.9 241.0L385.0 241.2L388.1 241.3L391.2 241.5L394.3 241.6L397.4 241.8L400.5 241.9L403.6 241.9L406.7 242.0L409.8 242.0L409.8 242.0L412.8 242.0L415.8 242.0L418.9 242.0L421.9 242.0L425.0 242.0L428.0 242.0L431.1 242.0L434.1 242.0L437.2 242.0L440.2 242.0L443.3 242.0L446.3 242.0L449.4 242.0L452.4 242.0L452.4 242.0L455.5 242.0L458.6 242.0L461.7 241.9L464.8 241.9L467.8 241.8L470.9 241.8L474.0 241.7L477.1 241.6L480.2 241.5L483.3 241.4L486.4 241.3L489.5 241.2L492.6 241.2L495.6 241.1L498.7 241.1L501.8 241.0L504.9 241.0L508.0 241.0L508.0 241.0L511.1 241.0L514.1 241.0L517.2 240.9L520.3 240.8L523.3 240.7L526.4 240.6L529.5 240.5L532.5 240.4L535.6 240.3L538.6 240.2L541.7 240.1L544.8 240.0L547.8 240.0L550.9 240.0M119.8 244.0L122.9 244.0L126.0 244.0L129.1 244.0L132.1 244.0L135.2 244.0L138.3 244.0L141.4 244.0L144.5 244.0L147.6 244.0L150.6 244.0L153.7 244.0L156.8 244.0L159.9 244.0L163.0 244.0L166.1 244.0L169.1 244.0L172.2 244.0L175.3 244.0L175.3 244.0L178.4 244.1L181.4 244.2L184.5 244.4L187.5 244.8L190.6 245.1L193.6 245.6L196.7 246.0L199.8 246.4L202.8 246.9L205.9 247.2L208.9 247.6L212.0 247.8L215.0 247.9L218.1 248.0L218.1 248.0L221.2 248.0L224.3 247.9L227.4 247.7L230.5 247.5L233.5 247.3L236.6 247.0L239.7 246.7L242.8 246.3L245.9 246.0L249.0 245.7L252.1 245.3L255.2 245.0L258.3 244.7L261.3 244.5L264.4 244.3L267.5 244.1L270.6 244.0L273.7 244.0L273.7 244.0L276.8 244.0L279.8 244.0L282.9 243.9L285.9 243.9L289.0 243.9L292.0 243.8L295.1 243.8L298.2 243.7L301.2 243.6L304.3 243.6L307.3 243.6L310.4 243.5L313.4 243.5L316.5 243.5M316.5 243.0L319.6 243.0L322.8 243.0L325.9 243.0L329.0 243.0L332.2 243.0L335.3 243.0L338.4 243.0L341.6 243.0L344.7 243.0L347.8 243.0L351.0 243.0L354.1 243.0L354.1 243.0L357.2 243.0L360.3 243.0L363.4 243.1L366.5 243.1L369.6 243.2L372.7 243.2L375.7 243.3L378.8 243.4L381.9 243.5L385.0 243.6L388.1 243.7L391.2 243.8L394.3 243.8L397.4 243.9L400.5 243.9L403.6 244.0L406.7 244.0L409.8 244.0L409.8 244.0L412.8 244.0L415.8 244.1L418.9 244.2L421.9 244.3L425.0 244.4L428.0 244.6L431.1 244.8L434.1 244.9L437.2 245.1L440.2 245.2L443.3 245.3L446.3 245.4L449.4 245.5L452.4 245.5L452.4 245.5L455.5 245.5L458.6 245.5L461.7 245.5L464.8 245.5L467.8 245.5L470.9 245.5L474.0 245.5L477.1 245.5L480.2 245.5L483.3 245.5L486.4 245.5L489.5 245.5L492.6 245.5L495.6 245.5L498.7 245.5L501.8 245.5L504.9 245.5L508.0 245.5L508.0 245.5L511.1 245.5L514.1 245.4L517.2 245.3L520.3 245.2L523.3 245.1L526.4 244.9L529.5 244.8L532.5 244.6L535.6 244.4L538.6 244.3L541.7 244.2L544.8 244.1L547.8 244.0L550.9 244.0M119.8 246.5L122.9 246.5L126.0 246.6L129.1 246.7L132.1 246.8L135.2 246.9L138.3 247.1L141.4 247.3L144.5 247.5L147.6 247.8L150.6 248.0L153.7 248.2L156.8 248.4L159.9 248.6L163.0 248.7L166.1 248.8L169.1 248.9L172.2 249.0L175.3 249.0L175.3 249.0L178.4 249.0L181.4 249.0L184.5 249.1L187.5 249.2L190.6 249.3L193.6 249.4L196.7 249.5L199.8 249.6L202.8 249.7L205.9 249.8L208.9 249.9L212.0 250.0L215.0 250.0L218.1 250.0L218.1 250.0L221.2 250.0L224.3 249.9L227.4 249.9L230.5 249.8L233.5 249.6L236.6 249.5L239.7 249.3L242.8 249.2L245.9 249.0L249.0 248.8L252.1 248.7L255.2 248.5L258.3 248.4L261.3 248.2L264.4 248.1L267.5 248.1L270.6 248.0L273.7 248.0L273.7 248.0L276.8 248.0L279.8 248.0L282.9 247.9L285.9 247.8L289.0 247.7L292.0 247.6L295.1 247.5L298.2 247.4L301.2 247.3L304.3 247.2L307.3 247.1L310.4 247.0L313.4 247.0L316.5 247.0M316.5 247.0L319.6 247.0L322.8 247.0L325.9 247.0L329.0 247.0L332.2 247.0L335.3 247.0L338.4 247.0L341.6 247.0L344.7 247.0L347.8 247.0L351.0 247.0L354.1 247.0L354.1 247.0L357.2 247.0L360.3 247.0L363.4 246.9L366.5 246.9L369.6 246.8L372.7 246.8L375.7 246.7L378.8 246.6L381.9 246.5L385.0 246.4L388.1 246.3L391.2 246.2L394.3 246.2L397.4 246.1L400.5 246.1L403.6 246.0L406.7 246.0L409.8 246.0L409.8 246.0L412.8 246.0L415.8 246.0L418.9 245.9L421.9 245.9L425.0 245.9L428.0 245.8L431.1 245.8L434.1 245.7L437.2 245.6L440.2 245.6L443.3 245.6L446.3 245.5L449.4 245.5L452.4 245.5L452.4 245.5L455.5 245.5L458.6 245.6L461.7 245.6L464.8 245.7L467.8 245.9L470.9 246.0L474.0 246.2L477.1 246.4L480.2 246.5L483.3 246.7L486.4 246.9L489.5 247.1L492.6 247.2L495.6 247.4L498.7 247.5L501.8 247.5L504.9 247.6L508.0 247.6L508.0 247.6L511.1 247.6L514.1 247.6L517.2 247.5L520.3 247.5L523.3 247.4L526.4 247.4L529.5 247.3L532.5 247.2L535.6 247.2L538.6 247.1L541.7 247.1L544.8 247.0L547.8 247.0L550.9 247.0M119.8 250.0L122.9 250.0L126.0 250.0L129.1 250.0L132.1 250.1L135.2 250.1L138.3 250.1L141.4 250.2L144.5 250.2L147.6 250.2L150.6 250.3L153.7 250.3L156.8 250.4L159.9 250.4L163.0 250.4L166.1 250.5L169.1 250.5L172.2 250.5L175.3 250.5L175.3 250.5L178.4 250.5L181.4 250.5L184.5 250.5L187.5 250.5L190.6 250.5L193.6 250.5L196.7 250.5L199.8 250.5L202.8 250.5L205.9 250.5L208.9 250.5L212.0 250.5L215.0 250.5L218.1 250.5L218.1 250.5L221.2 250.5L224.3 250.5L227.4 250.5L230.5 250.6L233.5 250.6L236.6 250.6L239.7 250.7L242.8 250.7L245.9 250.8L249.0 250.8L252.1 250.8L255.2 250.9L258.3 250.9L261.3 250.9L264.4 251.0L267.5 251.0L270.6 251.0L273.7 251.0L273.7 251.0L276.8 251.0L279.8 251.0L282.9 250.9L285.9 250.9L289.0 250.9L292.0 250.8L295.1 250.8L298.2 250.7L301.2 250.6L304.3 250.6L307.3 250.6L310.4 250.5L313.4 250.5L316.5 250.5M316.5 249.5L319.6 249.5L322.8 249.5L325.9 249.4L329.0 249.4L332.2 249.3L335.3 249.2L338.4 249.2L341.6 249.1L344.7 249.1L347.8 249.0L351.0 249.0L354.1 249.0L354.1 249.0L357.2 249.0L360.3 249.0L363.4 248.9L366.5 248.9L369.6 248.8L372.7 248.8L375.7 248.7L378.8 248.6L381.9 248.5L385.0 248.4L388.1 248.3L391.2 248.2L394.3 248.2L397.4 248.1L400.5 248.1L403.6 248.0L406.7 248.0L409.8 248.0L409.8 248.0L412.8 248.0L415.8 248.0L418.9 247.9L421.9 247.8L425.0 247.7L428.0 247.6L431.1 247.5L434.1 247.4L437.2 247.3L440.2 247.2L443.3 247.1L446.3 247.0L449.4 247.0L452.4 247.0L452.4 247.0L455.5 247.0L458.6 247.1L461.7 247.1L464.8 247.2L467.8 247.4L470.9 247.5L474.0 247.7L477.1 247.8L480.2 248.0L483.3 248.2L486.4 248.3L489.5 248.5L492.6 248.6L495.6 248.8L498.7 248.9L501.8 248.9L504.9 249.0L508.0 249.0L508.0 249.0L511.1 249.0L514.1 249.0L517.2 249.1L520.3 249.2L523.3 249.3L526.4 249.4L529.5 249.5L532.5 249.6L535.6 249.7L538.6 249.8L541.7 249.9L544.8 250.0L547.8 250.0L550.9 250.0M119.8 211.0L122.9 211.0L126.0 211.1L129.1 211.1L132.1 211.2L135.2 211.4L138.3 211.5L141.4 211.7L144.5 211.8L147.6 212.0L150.6 212.2L153.7 212.3L156.8 212.5L159.9 212.6L163.0 212.8L166.1 212.9L169.1 212.9L172.2 213.0L175.3 213.0L175.3 213.0L178.4 213.0L181.4 213.0L184.5 213.0L187.5 213.0L190.6 213.0L193.6 213.0L196.7 213.0L199.8 213.0L202.8 213.0L205.9 213.0L208.9 213.0L212.0 213.0L215.0 213.0L218.1 213.0L218.1 213.0L221.2 213.0L224.3 213.0L227.4 213.0L230.5 213.0L233.5 213.0L236.6 213.0L239.7 213.0L242.8 213.0L245.9 213.0L249.0 213.0L252.1 213.0L255.2 213.0L258.3 213.0L261.3 213.0L264.4 213.0L267.5 213.0L270.6 213.0L273.7 213.0L273.7 213.0L276.8 213.0L279.8 213.0L282.9 212.9L285.9 212.8L289.0 212.7L292.0 212.6L295.1 212.5L298.2 212.4L301.2 212.3L304.3 212.2L307.3 212.1L310.4 212.0L313.4 212.0L316.5 212.0M316.5 211.0L319.6 211.0L322.8 211.0L325.9 211.0L329.0 211.0L332.2 211.0L335.3 211.0L338.4 211.0L341.6 211.0L344.7 211.0L347.8 211.0L351.0 211.0L354.1 211.0L354.1 211.0L357.2 211.0L360.3 211.0L363.4 211.1L366.5 211.2L369.6 211.3L372.7 211.4L375.7 211.5L378.8 211.6L381.9 211.8L385.0 211.9L388.1 212.0L391.2 212.1L394.3 212.2L397.4 212.3L400.5 212.4L403.6 212.5L406.7 212.5L409.8 212.5L409.8 212.5L412.8 212.5L415.8 212.5L418.9 212.6L421.9 212.6L425.0 212.6L428.0 212.7L431.1 212.8L434.1 212.8L437.2 212.9L440.2 212.9L443.3 212.9L446.3 213.0L449.4 213.0L452.4 213.0L452.4 213.0L455.5 213.0L458.6 213.0L461.7 213.0L464.8 213.0L467.8 213.0L470.9 213.0L474.0 213.0L477.1 213.0L480.2 213.0L483.3 213.0L486.4 213.0L489.5 213.0L492.6 213.0L495.6 213.0L498.7 213.0L501.8 213.0L504.9 213.0L508.0 213.0L508.0 213.0L511.1 213.0L514.1 212.9L517.2 212.8L520.3 212.6L523.3 212.4L526.4 212.2L529.5 212.0L532.5 211.8L535.6 211.6L538.6 211.4L541.7 211.2L544.8 211.1L547.8 211.0L550.9 211.0M119.8 362.5L122.9 362.5L126.0 362.5L129.1 362.6L132.1 362.6L135.2 362.7L138.3 362.8L141.4 362.8L144.5 362.9L147.6 363.0L150.6 363.1L153.7 363.2L156.8 363.2L159.9 363.3L163.0 363.4L166.1 363.4L169.1 363.5L172.2 363.5L175.3 363.5L175.3 363.5L178.4 363.5L181.4 363.5L184.5 363.4L187.5 363.4L190.6 363.4L193.6 363.3L196.7 363.2L199.8 363.2L202.8 363.1L205.9 363.1L208.9 363.1L212.0 363.0L215.0 363.0L218.1 363.0L218.1 363.0L221.2 363.0L224.3 363.1L227.4 363.2L230.5 363.4L233.5 363.5L236.6 363.8L239.7 364.0L242.8 364.2L245.9 364.5L249.0 364.8L252.1 365.0L255.2 365.2L258.3 365.5L261.3 365.6L264.4 365.8L267.5 365.9L270.6 366.0L273.7 366.0L273.7 366.0L276.8 366.0L279.8 366.1L282.9 366.2L285.9 366.3L289.0 366.4L292.0 366.6L295.1 366.8L298.2 366.9L301.2 367.1L304.3 367.2L307.3 367.3L310.4 367.4L313.4 367.5L316.5 367.5M316.5 364.5L319.6 364.5L322.8 364.5L325.9 364.6L329.0 364.6L332.2 364.7L335.3 364.8L338.4 364.8L341.6 364.9L344.7 364.9L347.8 365.0L351.0 365.0L354.1 365.0L354.1 365.0L357.2 365.0L360.3 365.0L363.4 365.0L366.5 365.1L369.6 365.1L372.7 365.1L375.7 365.2L378.8 365.2L381.9 365.2L385.0 365.3L388.1 365.3L391.2 365.4L394.3 365.4L397.4 365.4L400.5 365.5L403.6 365.5L406.7 365.5L409.8 365.5L409.8 365.5L412.8 365.5L415.8 365.6L418.9 365.7L421.9 365.8L425.0 365.9L428.0 366.1L431.1 366.2L434.1 366.4L437.2 366.6L440.2 366.7L443.3 366.8L446.3 366.9L449.4 367.0L452.4 367.0L452.4 367.0L455.5 367.0L458.6 367.0L461.7 367.0L464.8 367.0L467.8 367.0L470.9 367.0L474.0 367.0L477.1 367.0L480.2 367.0L483.3 367.0L486.4 367.0L489.5 367.0L492.6 367.0L495.6 367.0L498.7 367.0L501.8 367.0L504.9 367.0L508.0 367.0L508.0 367.0L511.1 367.0L514.1 366.9L517.2 366.7L520.3 366.5L523.3 366.3L526.4 366.0L529.5 365.8L532.5 365.5L535.6 365.2L538.6 365.0L541.7 364.8L544.8 364.6L547.8 364.5L550.9 364.5M119.8 365.0L122.9 365.0L126.0 365.0L129.1 365.1L132.1 365.1L135.2 365.2L138.3 365.2L141.4 365.3L144.5 365.4L147.6 365.5L150.6 365.6L153.7 365.7L156.8 365.8L159.9 365.8L163.0 365.9L166.1 365.9L169.1 366.0L172.2 366.0L175.3 366.0L175.3 366.0L178.4 366.0L181.4 366.1L184.5 366.2L187.5 366.3L190.6 366.4L193.6 366.6L196.7 366.8L199.8 366.9L202.8 367.1L205.9 367.2L208.9 367.3L212.0 367.4L215.0 367.5L218.1 367.5L218.1 367.5L221.2 367.5L224.3 367.5L227.4 367.5L230.5 367.6L233.5 367.6L236.6 367.6L239.7 367.7L242.8 367.7L245.9 367.8L249.0 367.8L252.1 367.8L255.2 367.9L258.3 367.9L261.3 367.9L264.4 368.0L267.5 368.0L270.6 368.0L273.7 368.0L273.7 368.0L276.8 368.0L279.8 368.0L282.9 368.1L285.9 368.2L289.0 368.3L292.0 368.4L295.1 368.5L298.2 368.6L301.2 368.7L304.3 368.8L307.3 368.9L310.4 369.0L313.4 369.0L316.5 369.0M316.5 367.0L319.6 367.0L322.8 367.0L325.9 367.0L329.0 367.0L332.2 367.0L335.3 367.0L338.4 367.0L341.6 367.0L344.7 367.0L347.8 367.0L351.0 367.0L354.1 367.0L354.1 367.0L357.2 367.0L360.3 367.0L363.4 367.0L366.5 367.1L369.6 367.1L372.7 367.1L375.7 367.2L378.8 367.2L381.9 367.2L385.0 367.3L388.1 367.3L391.2 367.4L394.3 367.4L397.4 367.4L400.5 367.5L403.6 367.5L406.7 367.5L409.8 367.5L409.8 367.5L412.8 367.5L415.8 367.6L418.9 367.7L421.9 367.8L425.0 367.9L428.0 368.1L431.1 368.2L434.1 368.4L437.2 368.6L440.2 368.7L443.3 368.8L446.3 368.9L449.4 369.0L452.4 369.0L452.4 369.0L455.5 369.0L458.6 369.0L461.7 369.0L464.8 369.0L467.8 369.0L470.9 369.0L474.0 369.0L477.1 369.0L480.2 369.0L483.3 369.0L486.4 369.0L489.5 369.0L492.6 369.0L495.6 369.0L498.7 369.0L501.8 369.0L504.9 369.0L508.0 369.0L508.0 369.0L511.1 369.0L514.1 368.9L517.2 368.8L520.3 368.6L523.3 368.4L526.4 368.2L529.5 368.0L532.5 367.8L535.6 367.6L538.6 367.4L541.7 367.2L544.8 367.1L547.8 367.0L550.9 367.0M119.8 368.0L122.9 368.0L126.0 368.0L129.1 368.1L132.1 368.1L135.2 368.2L138.3 368.2L141.4 368.3L144.5 368.4L147.6 368.5L150.6 368.6L153.7 368.7L156.8 368.8L159.9 368.8L163.0 368.9L166.1 368.9L169.1 369.0L172.2 369.0L175.3 369.0L175.3 369.0L178.4 369.1L181.4 369.2L184.5 369.5L187.5 369.8L190.6 370.3L193.6 370.7L196.7 371.2L199.8 371.8L202.8 372.2L205.9 372.7L208.9 373.0L212.0 373.3L215.0 373.4L218.1 373.5L218.1 373.5L221.2 373.5L224.3 373.4L227.4 373.3L230.5 373.1L233.5 373.0L236.6 372.8L239.7 372.5L242.8 372.3L245.9 372.0L249.0 371.7L252.1 371.5L255.2 371.2L258.3 371.0L261.3 370.9L264.4 370.7L267.5 370.6L270.6 370.5L273.7 370.5L273.7 370.5L276.8 370.5L279.8 370.5L282.9 370.6L285.9 370.6L289.0 370.6L292.0 370.7L295.1 370.8L298.2 370.8L301.2 370.9L304.3 370.9L307.3 370.9L310.4 371.0L313.4 371.0L316.5 371.0M316.5 369.5L319.6 369.5L322.8 369.5L325.9 369.5L329.0 369.5L332.2 369.5L335.3 369.5L338.4 369.5L341.6 369.5L344.7 369.5L347.8 369.5L351.0 369.5L354.1 369.5L354.1 369.5L357.2 369.5L360.3 369.5L363.4 369.5L366.5 369.6L369.6 369.6L372.7 369.6L375.7 369.7L378.8 369.7L381.9 369.8L385.0 369.8L388.1 369.8L391.2 369.9L394.3 369.9L397.4 369.9L400.5 370.0L403.6 370.0L406.7 370.0L409.8 370.0L409.8 370.0L412.8 370.0L415.8 370.1L418.9 370.2L421.9 370.3L425.0 370.4L428.0 370.6L431.1 370.8L434.1 370.9L437.2 371.1L440.2 371.2L443.3 371.3L446.3 371.4L449.4 371.5L452.4 371.5L452.4 371.5L455.5 371.5L458.6 371.5L461.7 371.5L464.8 371.5L467.8 371.5L470.9 371.5L474.0 371.5L477.1 371.5L480.2 371.5L483.3 371.5L486.4 371.5L489.5 371.5L492.6 371.5L495.6 371.5L498.7 371.5L501.8 371.5L504.9 371.5L508.0 371.5L508.0 371.5L511.1 371.5L514.1 371.4L517.2 371.3L520.3 371.2L523.3 371.1L526.4 370.9L529.5 370.8L532.5 370.6L535.6 370.4L538.6 370.3L541.7 370.2L544.8 370.1L547.8 370.0L550.9 370.0M119.8 370.5L122.9 370.5L126.0 370.5L129.1 370.6L132.1 370.6L135.2 370.7L138.3 370.8L141.4 370.8L144.5 370.9L147.6 371.0L150.6 371.1L153.7 371.2L156.8 371.2L159.9 371.3L163.0 371.4L166.1 371.4L169.1 371.5L172.2 371.5L175.3 371.5L175.3 371.5L178.4 371.6L181.4 371.7L184.5 372.0L187.5 372.3L190.6 372.8L193.6 373.2L196.7 373.8L199.8 374.3L202.8 374.7L205.9 375.2L208.9 375.5L212.0 375.8L215.0 375.9L218.1 376.0L218.1 376.0L221.2 376.0L224.3 375.9L227.4 375.8L230.5 375.6L233.5 375.5L236.6 375.2L239.7 375.0L242.8 374.8L245.9 374.5L249.0 374.2L252.1 374.0L255.2 373.8L258.3 373.5L261.3 373.4L264.4 373.2L267.5 373.1L270.6 373.0L273.7 373.0L273.7 373.0L276.8 373.0L279.8 373.0L282.9 373.1L285.9 373.1L289.0 373.1L292.0 373.2L295.1 373.2L298.2 373.3L301.2 373.4L304.3 373.4L307.3 373.4L310.4 373.5L313.4 373.5L316.5 373.5M316.5 372.0L319.6 372.0L322.8 372.0L325.9 372.0L329.0 372.0L332.2 372.0L335.3 372.0L338.4 372.0L341.6 372.0L344.7 372.0L347.8 372.0L351.0 372.0L354.1 372.0L354.1 372.0L357.2 372.0L360.3 372.0L363.4 372.0L366.5 372.1L369.6 372.1L372.7 372.1L375.7 372.2L378.8 372.2L381.9 372.2L385.0 372.3L388.1 372.3L391.2 372.4L394.3 372.4L397.4 372.4L400.5 372.5L403.6 372.5L406.7 372.5L409.8 372.5L409.8 372.5L412.8 372.5L415.8 372.5L418.9 372.6L421.9 372.7L425.0 372.8L428.0 372.9L431.1 373.0L434.1 373.1L437.2 373.2L440.2 373.3L443.3 373.4L446.3 373.5L449.4 373.5L452.4 373.5L452.4 373.5L455.5 373.5L458.6 373.5L461.7 373.5L464.8 373.5L467.8 373.5L470.9 373.5L474.0 373.5L477.1 373.5L480.2 373.5L483.3 373.5L486.4 373.5L489.5 373.5L492.6 373.5L495.6 373.5L498.7 373.5L501.8 373.5L504.9 373.5L508.0 373.5L508.0 373.5L511.1 373.5L514.1 373.5L517.2 373.4L520.3 373.3L523.3 373.2L526.4 373.1L529.5 373.0L532.5 372.9L535.6 372.8L538.6 372.7L541.7 372.6L544.8 372.5L547.8 372.5L550.9 372.5M119.8 373.5L122.9 373.5L126.0 373.5L129.1 373.5L132.1 373.6L135.2 373.6L138.3 373.6L141.4 373.7L144.5 373.7L147.6 373.8L150.6 373.8L153.7 373.8L156.8 373.9L159.9 373.9L163.0 373.9L166.1 374.0L169.1 374.0L172.2 374.0L175.3 374.0L175.3 374.0L178.4 374.1L181.4 374.2L184.5 374.5L187.5 374.8L190.6 375.3L193.6 375.7L196.7 376.2L199.8 376.8L202.8 377.2L205.9 377.7L208.9 378.0L212.0 378.3L215.0 378.4L218.1 378.5L218.1 378.5L221.2 378.5L224.3 378.4L227.4 378.3L230.5 378.1L233.5 378.0L236.6 377.8L239.7 377.5L242.8 377.3L245.9 377.0L249.0 376.7L252.1 376.5L255.2 376.2L258.3 376.0L261.3 375.9L264.4 375.7L267.5 375.6L270.6 375.5L273.7 375.5L273.7 375.5L276.8 375.5L279.8 375.5L282.9 375.6L285.9 375.6L289.0 375.6L292.0 375.7L295.1 375.8L298.2 375.8L301.2 375.9L304.3 375.9L307.3 375.9L310.4 376.0L313.4 376.0L316.5 376.0M316.5 375.0L319.6 375.0L322.8 375.0L325.9 375.0L329.0 375.0L332.2 375.0L335.3 375.0L338.4 375.0L341.6 375.0L344.7 375.0L347.8 375.0L351.0 375.0L354.1 375.0L354.1 375.0L357.2 375.0L360.3 375.0L363.4 375.1L366.5 375.2L369.6 375.3L372.7 375.4L375.7 375.5L378.8 375.6L381.9 375.8L385.0 375.9L388.1 376.0L391.2 376.1L394.3 376.2L397.4 376.3L400.5 376.4L403.6 376.5L406.7 376.5L409.8 376.5L409.8 376.5L412.8 376.5L415.8 376.6L418.9 376.7L421.9 376.8L425.0 376.9L428.0 377.1L431.1 377.2L434.1 377.4L437.2 377.6L440.2 377.7L443.3 377.8L446.3 377.9L449.4 378.0L452.4 378.0L452.4 378.0L455.5 378.0L458.6 378.0L461.7 378.0L464.8 378.0L467.8 378.0L470.9 378.0L474.0 378.0L477.1 378.0L480.2 378.0L483.3 378.0L486.4 378.0L489.5 378.0L492.6 378.0L495.6 378.0L498.7 378.0L501.8 378.0L504.9 378.0L508.0 378.0L508.0 378.0L511.1 378.0L514.1 377.9L517.2 377.7L520.3 377.5L523.3 377.3L526.4 377.0L529.5 376.8L532.5 376.5L535.6 376.2L538.6 376.0L541.7 375.8L544.8 375.6L547.8 375.5L550.9 375.5M119.8 376.5L122.9 376.5L126.0 376.5L129.1 376.5L132.1 376.6L135.2 376.6L138.3 376.6L141.4 376.7L144.5 376.7L147.6 376.8L150.6 376.8L153.7 376.8L156.8 376.9L159.9 376.9L163.0 376.9L166.1 377.0L169.1 377.0L172.2 377.0L175.3 377.0L175.3 377.0L178.4 377.1L181.4 377.2L184.5 377.4L187.5 377.8L190.6 378.1L193.6 378.6L196.7 379.0L199.8 379.4L202.8 379.9L205.9 380.2L208.9 380.6L212.0 380.8L215.0 380.9L218.1 381.0L218.1 381.0L221.2 381.0L224.3 380.9L227.4 380.8L230.5 380.6L233.5 380.5L236.6 380.2L239.7 380.0L242.8 379.8L245.9 379.5L249.0 379.2L252.1 379.0L255.2 378.8L258.3 378.5L261.3 378.4L264.4 378.2L267.5 378.1L270.6 378.0L273.7 378.0L273.7 378.0L276.8 378.0L279.8 378.0L282.9 378.1L285.9 378.1L289.0 378.1L292.0 378.2L295.1 378.2L298.2 378.3L301.2 378.4L304.3 378.4L307.3 378.4L310.4 378.5L313.4 378.5L316.5 378.5M316.5 377.5L319.6 377.5L322.8 377.5L325.9 377.5L329.0 377.5L332.2 377.5L335.3 377.5L338.4 377.5L341.6 377.5L344.7 377.5L347.8 377.5L351.0 377.5L354.1 377.5L354.1 377.5L357.2 377.5L360.3 377.5L363.4 377.6L366.5 377.7L369.6 377.8L372.7 377.9L375.7 378.0L378.8 378.1L381.9 378.2L385.0 378.4L388.1 378.5L391.2 378.6L394.3 378.7L397.4 378.8L400.5 378.9L403.6 379.0L406.7 379.0L409.8 379.0L409.8 379.0L412.8 379.0L415.8 379.0L418.9 379.1L421.9 379.2L425.0 379.3L428.0 379.4L431.1 379.5L434.1 379.6L437.2 379.7L440.2 379.8L443.3 379.9L446.3 380.0L449.4 380.0L452.4 380.0L452.4 380.0L455.5 380.0L458.6 380.0L461.7 380.0L464.8 380.0L467.8 380.0L470.9 380.0L474.0 380.0L477.1 380.0L480.2 380.0L483.3 380.0L486.4 380.0L489.5 380.0L492.6 380.0L495.6 380.0L498.7 380.0L501.8 380.0L504.9 380.0L508.0 380.0L508.0 380.0L511.1 380.0L514.1 379.9L517.2 379.8L520.3 379.6L523.3 379.4L526.4 379.2L529.5 379.0L532.5 378.8L535.6 378.6L538.6 378.4L541.7 378.2L544.8 378.1L547.8 378.0L550.9 378.0M119.8 379.0L122.9 379.0L126.0 379.0L129.1 379.0L132.1 379.1L135.2 379.1L138.3 379.1L141.4 379.2L144.5 379.2L147.6 379.2L150.6 379.3L153.7 379.3L156.8 379.4L159.9 379.4L163.0 379.4L166.1 379.5L169.1 379.5L172.2 379.5L175.3 379.5L175.3 379.5L178.4 379.5L181.4 379.7L184.5 379.9L187.5 380.2L190.6 380.5L193.6 380.9L196.7 381.2L199.8 381.6L202.8 382.0L205.9 382.3L208.9 382.6L212.0 382.8L215.0 383.0L218.1 383.0L218.1 383.0L221.2 383.0L224.3 382.9L227.4 382.8L230.5 382.7L233.5 382.6L236.6 382.4L239.7 382.2L242.8 382.0L245.9 381.8L249.0 381.5L252.1 381.3L255.2 381.1L258.3 380.9L261.3 380.8L264.4 380.7L267.5 380.6L270.6 380.5L273.7 380.5L273.7 380.5L276.8 380.5L279.8 380.5L282.9 380.6L285.9 380.6L289.0 380.6L292.0 380.7L295.1 380.8L298.2 380.8L301.2 380.9L304.3 380.9L307.3 380.9L310.4 381.0L313.4 381.0L316.5 381.0M316.5 380.0L319.6 380.0L322.8 380.0L325.9 380.0L329.0 380.0L332.2 380.0L335.3 380.0L338.4 380.0L341.6 380.0L344.7 380.0L347.8 380.0L351.0 380.0L354.1 380.0L354.1 380.0L357.2 380.0L360.3 380.0L363.4 380.1L366.5 380.2L369.6 380.3L372.7 380.4L375.7 380.5L378.8 380.6L381.9 380.8L385.0 380.9L388.1 381.0L391.2 381.1L394.3 381.2L397.4 381.3L400.5 381.4L403.6 381.5L406.7 381.5L409.8 381.5L409.8 381.5L412.8 381.5L415.8 381.5L418.9 381.6L421.9 381.6L425.0 381.6L428.0 381.7L431.1 381.8L434.1 381.8L437.2 381.9L440.2 381.9L443.3 381.9L446.3 382.0L449.4 382.0L452.4 382.0L452.4 382.0L455.5 382.0L458.6 382.0L461.7 382.0L464.8 382.0L467.8 382.0L470.9 382.0L474.0 382.0L477.1 382.0L480.2 382.0L483.3 382.0L486.4 382.0L489.5 382.0L492.6 382.0L495.6 382.0L498.7 382.0L501.8 382.0L504.9 382.0L508.0 382.0L508.0 382.0L511.1 382.0L514.1 381.9L517.2 381.8L520.3 381.7L523.3 381.6L526.4 381.4L529.5 381.2L532.5 381.1L535.6 380.9L538.6 380.8L541.7 380.7L544.8 380.6L547.8 380.5L550.9 380.5M119.8 382.0L122.9 382.0L126.0 382.0L129.1 382.0L132.1 382.0L135.2 382.0L138.3 382.0L141.4 382.0L144.5 382.0L147.6 382.0L150.6 382.0L153.7 382.0L156.8 382.0L159.9 382.0L163.0 382.0L166.1 382.0L169.1 382.0L172.2 382.0L175.3 382.0L175.3 382.0L178.4 382.0L181.4 382.1L184.5 382.3L187.5 382.6L190.6 382.8L193.6 383.2L196.7 383.5L199.8 383.8L202.8 384.2L205.9 384.4L208.9 384.7L212.0 384.9L215.0 385.0L218.1 385.0L218.1 385.0L221.2 385.0L224.3 384.9L227.4 384.9L230.5 384.8L233.5 384.6L236.6 384.5L239.7 384.3L242.8 384.2L245.9 384.0L249.0 383.8L252.1 383.7L255.2 383.5L258.3 383.4L261.3 383.2L264.4 383.1L267.5 383.1L270.6 383.0L273.7 383.0L273.7 383.0L276.8 383.0L279.8 383.0L282.9 383.1L285.9 383.1L289.0 383.1L292.0 383.2L295.1 383.2L298.2 383.3L301.2 383.4L304.3 383.4L307.3 383.4L310.4 383.5L313.4 383.5L316.5 383.5M316.5 382.5L319.6 382.5L322.8 382.5L325.9 382.5L329.0 382.5L332.2 382.5L335.3 382.5L338.4 382.5L341.6 382.5L344.7 382.5L347.8 382.5L351.0 382.5L354.1 382.5L354.1 382.5L357.2 382.5L360.3 382.5L363.4 382.6L366.5 382.7L369.6 382.8L372.7 382.9L375.7 383.0L378.8 383.1L381.9 383.2L385.0 383.4L388.1 383.5L391.2 383.6L394.3 383.7L397.4 383.8L400.5 383.9L403.6 384.0L406.7 384.0L409.8 384.0L409.8 384.0L412.8 384.0L415.8 384.0L418.9 384.0L421.9 384.0L425.0 384.0L428.0 384.0L431.1 384.0L434.1 384.0L437.2 384.0L440.2 384.0L443.3 384.0L446.3 384.0L449.4 384.0L452.4 384.0L452.4 384.0L455.5 384.0L458.6 384.0L461.7 384.0L464.8 384.0L467.8 384.0L470.9 384.0L474.0 384.0L477.1 384.0L480.2 384.0L483.3 384.0L486.4 384.0L489.5 384.0L492.6 384.0L495.6 384.0L498.7 384.0L501.8 384.0L504.9 384.0L508.0 384.0L508.0 384.0L511.1 384.0L514.1 384.0L517.2 383.9L520.3 383.8L523.3 383.7L526.4 383.6L529.5 383.5L532.5 383.4L535.6 383.3L538.6 383.2L541.7 383.1L544.8 383.0L547.8 383.0L550.9 383.0M119.8 385.5L122.9 385.5L126.0 385.5L129.1 385.5L132.1 385.5L135.2 385.5L138.3 385.5L141.4 385.5L144.5 385.5L147.6 385.5L150.6 385.5L153.7 385.5L156.8 385.5L159.9 385.5L163.0 385.5L166.1 385.5L169.1 385.5L172.2 385.5L175.3 385.5L175.3 385.5L178.4 385.5L181.4 385.6L184.5 385.7L187.5 385.8L190.6 385.9L193.6 386.1L196.7 386.2L199.8 386.4L202.8 386.6L205.9 386.7L208.9 386.8L212.0 386.9L215.0 387.0L218.1 387.0L218.1 387.0L221.2 387.0L224.3 387.0L227.4 386.9L230.5 386.9L233.5 386.8L236.6 386.8L239.7 386.7L242.8 386.6L245.9 386.5L249.0 386.4L252.1 386.3L255.2 386.2L258.3 386.2L261.3 386.1L264.4 386.1L267.5 386.0L270.6 386.0L273.7 386.0L273.7 386.0L276.8 386.0L279.8 386.0L282.9 386.0L285.9 386.0L289.0 386.0L292.0 386.0L295.1 386.0L298.2 386.0L301.2 386.0L304.3 386.0L307.3 386.0L310.4 386.0L313.4 386.0L316.5 386.0M316.5 385.5L319.6 385.5L322.8 385.5L325.9 385.5L329.0 385.5L332.2 385.5L335.3 385.5L338.4 385.5L341.6 385.5L344.7 385.5L347.8 385.5L351.0 385.5L354.1 385.5L354.1 385.5L357.2 385.5L360.3 385.6L363.4 385.7L366.5 385.8L369.6 385.9L372.7 386.1L375.7 386.3L378.8 386.5L381.9 386.8L385.0 387.0L388.1 387.2L391.2 387.4L394.3 387.6L397.4 387.7L400.5 387.8L403.6 387.9L406.7 388.0L409.8 388.0L409.8 388.0L412.8 388.0L415.8 388.0L418.9 387.9L421.9 387.8L425.0 387.7L428.0 387.6L431.1 387.5L434.1 387.4L437.2 387.3L440.2 387.2L443.3 387.1L446.3 387.0L449.4 387.0L452.4 387.0L452.4 387.0L455.5 387.0L458.6 387.0L461.7 387.0L464.8 387.0L467.8 387.0L470.9 387.0L474.0 387.0L477.1 387.0L480.2 387.0L483.3 387.0L486.4 387.0L489.5 387.0L492.6 387.0L495.6 387.0L498.7 387.0L501.8 387.0L504.9 387.0L508.0 387.0L508.0 387.0L511.1 387.0L514.1 387.0L517.2 386.9L520.3 386.8L523.3 386.7L526.4 386.6L529.5 386.5L532.5 386.4L535.6 386.3L538.6 386.2L541.7 386.1L544.8 386.0L547.8 386.0L550.9 386.0M119.8 388.0L122.9 388.0L126.0 388.0L129.1 388.0L132.1 388.1L135.2 388.1L138.3 388.1L141.4 388.2L144.5 388.2L147.6 388.2L150.6 388.3L153.7 388.3L156.8 388.4L159.9 388.4L163.0 388.4L166.1 388.5L169.1 388.5L172.2 388.5L175.3 388.5L175.3 388.5L178.4 388.5L181.4 388.5L184.5 388.6L187.5 388.7L190.6 388.8L193.6 388.9L196.7 389.0L199.8 389.1L202.8 389.2L205.9 389.3L208.9 389.4L212.0 389.5L215.0 389.5L218.1 389.5L218.1 389.5L221.2 389.5L224.3 389.5L227.4 389.4L230.5 389.4L233.5 389.3L236.6 389.2L239.7 389.2L242.8 389.1L245.9 389.0L249.0 388.9L252.1 388.8L255.2 388.8L258.3 388.7L261.3 388.6L264.4 388.6L267.5 388.5L270.6 388.5L273.7 388.5L273.7 388.5L276.8 388.5L279.8 388.5L282.9 388.5L285.9 388.5L289.0 388.5L292.0 388.5L295.1 388.5L298.2 388.5L301.2 388.5L304.3 388.5L307.3 388.5L310.4 388.5L313.4 388.5L316.5 388.5M316.5 388.5L319.6 388.5L322.8 388.5L325.9 388.5L329.0 388.5L332.2 388.5L335.3 388.5L338.4 388.5L341.6 388.5L344.7 388.5L347.8 388.5L351.0 388.5L354.1 388.5L354.1 388.5L357.2 388.5L360.3 388.5L363.4 388.6L366.5 388.7L369.6 388.8L372.7 388.9L375.7 389.0L378.8 389.1L381.9 389.2L385.0 389.4L388.1 389.5L391.2 389.6L394.3 389.7L397.4 389.8L400.5 389.9L403.6 390.0L406.7 390.0L409.8 390.0L409.8 390.0L412.8 390.0L415.8 390.0L418.9 389.9L421.9 389.8L425.0 389.7L428.0 389.6L431.1 389.5L434.1 389.4L437.2 389.3L440.2 389.2L443.3 389.1L446.3 389.0L449.4 389.0L452.4 389.0L452.4 389.0L455.5 389.0L458.6 389.0L461.7 389.0L464.8 389.0L467.8 389.0L470.9 389.0L474.0 389.0L477.1 389.0L480.2 389.0L483.3 389.0L486.4 389.0L489.5 389.0L492.6 389.0L495.6 389.0L498.7 389.0L501.8 389.0L504.9 389.0L508.0 389.0L508.0 389.0L511.1 389.0L514.1 389.0L517.2 389.0L520.3 389.0L523.3 389.0L526.4 389.0L529.5 389.0L532.5 389.0L535.6 389.0L538.6 389.0L541.7 389.0L544.8 389.0L547.8 389.0L550.9 389.0M119.8 392.0L122.9 392.0L126.0 392.0L129.1 392.0L132.1 392.0L135.2 392.0L138.3 392.0L141.4 392.0L144.5 392.0L147.6 392.0L150.6 392.0L153.7 392.0L156.8 392.0L159.9 392.0L163.0 392.0L166.1 392.0L169.1 392.0L172.2 392.0L175.3 392.0L175.3 392.0L178.4 392.0L181.4 392.0L184.5 392.1L187.5 392.1L190.6 392.1L193.6 392.2L196.7 392.2L199.8 392.3L202.8 392.4L205.9 392.4L208.9 392.4L212.0 392.5L215.0 392.5L218.1 392.5L218.1 392.5L221.2 392.5L224.3 392.5L227.4 392.5L230.5 392.4L233.5 392.4L236.6 392.4L239.7 392.3L242.8 392.3L245.9 392.2L249.0 392.2L252.1 392.2L255.2 392.1L258.3 392.1L261.3 392.1L264.4 392.0L267.5 392.0L270.6 392.0L273.7 392.0L273.7 392.0L276.8 392.0L279.8 392.0L282.9 392.1L285.9 392.1L289.0 392.1L292.0 392.2L295.1 392.2L298.2 392.3L301.2 392.4L304.3 392.4L307.3 392.4L310.4 392.5L313.4 392.5L316.5 392.5M316.5 392.0L319.6 392.0L322.8 392.0L325.9 392.0L329.0 392.0L332.2 392.0L335.3 392.0L338.4 392.0L341.6 392.0L344.7 392.0L347.8 392.0L351.0 392.0L354.1 392.0L354.1 392.0L357.2 392.0L360.3 392.1L363.4 392.1L366.5 392.2L369.6 392.4L372.7 392.5L375.7 392.7L378.8 392.8L381.9 393.0L385.0 393.2L388.1 393.3L391.2 393.5L394.3 393.6L397.4 393.8L400.5 393.9L403.6 393.9L406.7 394.0L409.8 394.0L409.8 394.0L412.8 394.0L415.8 393.9L418.9 393.8L421.9 393.7L425.0 393.6L428.0 393.4L431.1 393.2L434.1 393.1L437.2 392.9L440.2 392.8L443.3 392.7L446.3 392.6L449.4 392.5L452.4 392.5L452.4 392.5L455.5 392.5L458.6 392.5L461.7 392.5L464.8 392.5L467.8 392.5L470.9 392.5L474.0 392.5L477.1 392.5L480.2 392.5L483.3 392.5L486.4 392.5L489.5 392.5L492.6 392.5L495.6 392.5L498.7 392.5L501.8 392.5L504.9 392.5L508.0 392.5L508.0 392.5L511.1 392.5L514.1 392.5L517.2 392.5L520.3 392.5L523.3 392.5L526.4 392.5L529.5 392.5L532.5 392.5L535.6 392.5L538.6 392.5L541.7 392.5L544.8 392.5L547.8 392.5L550.9 392.5M119.8 395.0L122.9 395.0L126.0 395.0L129.1 395.0L132.1 395.0L135.2 395.0L138.3 395.0L141.4 395.0L144.5 395.0L147.6 395.0L150.6 395.0L153.7 395.0L156.8 395.0L159.9 395.0L163.0 395.0L166.1 395.0L169.1 395.0L172.2 395.0L175.3 395.0L175.3 395.0L178.4 395.0L181.4 395.0L184.5 395.0L187.5 395.0L190.6 395.0L193.6 395.0L196.7 395.0L199.8 395.0L202.8 395.0L205.9 395.0L208.9 395.0L212.0 395.0L215.0 395.0L218.1 395.0L218.1 395.0L221.2 395.0L224.3 395.0L227.4 395.0L230.5 395.0L233.5 395.0L236.6 395.0L239.7 395.0L242.8 395.0L245.9 395.0L249.0 395.0L252.1 395.0L255.2 395.0L258.3 395.0L261.3 395.0L264.4 395.0L267.5 395.0L270.6 395.0L273.7 395.0L273.7 395.0L276.8 395.0L279.8 395.0L282.9 395.0L285.9 395.0L289.0 395.0L292.0 395.0L295.1 395.0L298.2 395.0L301.2 395.0L304.3 395.0L307.3 395.0L310.4 395.0L313.4 395.0L316.5 395.0M316.5 395.0L319.6 395.0L322.8 395.0L325.9 395.0L329.0 395.0L332.2 395.0L335.3 395.0L338.4 395.0L341.6 395.0L344.7 395.0L347.8 395.0L351.0 395.0L354.1 395.0L354.1 395.0L357.2 395.0L360.3 395.0L363.4 395.1L366.5 395.1L369.6 395.2L372.7 395.2L375.7 395.3L378.8 395.4L381.9 395.5L385.0 395.6L388.1 395.7L391.2 395.8L394.3 395.8L397.4 395.9L400.5 395.9L403.6 396.0L406.7 396.0L409.8 396.0L409.8 396.0L412.8 396.0L415.8 396.0L418.9 395.9L421.9 395.8L425.0 395.7L428.0 395.6L431.1 395.5L434.1 395.4L437.2 395.3L440.2 395.2L443.3 395.1L446.3 395.0L449.4 395.0L452.4 395.0L452.4 395.0L455.5 395.0L458.6 395.0L461.7 395.0L464.8 395.0L467.8 395.0L470.9 395.0L474.0 395.0L477.1 395.0L480.2 395.0L483.3 395.0L486.4 395.0L489.5 395.0L492.6 395.0L495.6 395.0L498.7 395.0L501.8 395.0L504.9 395.0L508.0 395.0L508.0 395.0L511.1 395.0L514.1 395.0L517.2 395.0L520.3 395.0L523.3 395.0L526.4 395.0L529.5 395.0L532.5 395.0L535.6 395.0L538.6 395.0L541.7 395.0L544.8 395.0L547.8 395.0L550.9 395.0M119.8 397.5L122.9 397.5L126.0 397.5L129.1 397.5L132.1 397.6L135.2 397.6L138.3 397.6L141.4 397.7L144.5 397.7L147.6 397.8L150.6 397.8L153.7 397.8L156.8 397.9L159.9 397.9L163.0 397.9L166.1 398.0L169.1 398.0L172.2 398.0L175.3 398.0L175.3 398.0L178.4 398.0L181.4 398.0L184.5 397.9L187.5 397.9L190.6 397.9L193.6 397.8L196.7 397.8L199.8 397.7L202.8 397.6L205.9 397.6L208.9 397.6L212.0 397.5L215.0 397.5L218.1 397.5L218.1 397.5L221.2 397.5L224.3 397.5L227.4 397.5L230.5 397.5L233.5 397.5L236.6 397.5L239.7 397.5L242.8 397.5L245.9 397.5L249.0 397.5L252.1 397.5L255.2 397.5L258.3 397.5L261.3 397.5L264.4 397.5L267.5 397.5L270.6 397.5L273.7 397.5L273.7 397.5L276.8 397.5L279.8 397.5L282.9 397.5L285.9 397.5L289.0 397.5L292.0 397.5L295.1 397.5L298.2 397.5L301.2 397.5L304.3 397.5L307.3 397.5L310.4 397.5L313.4 397.5L316.5 397.5M316.5 397.5L319.6 397.6L322.8 397.7L325.9 398.0L329.0 398.4L332.2 398.8L335.3 399.2L338.4 399.7L341.6 400.1L344.7 400.5L347.8 400.8L351.0 400.9L354.1 401.0L354.1 401.0L357.2 401.0L360.3 401.0L363.4 401.1L366.5 401.1L369.6 401.2L372.7 401.2L375.7 401.3L378.8 401.4L381.9 401.5L385.0 401.6L388.1 401.7L391.2 401.8L394.3 401.8L397.4 401.9L400.5 401.9L403.6 402.0L406.7 402.0L409.8 402.0L409.8 402.0L412.8 402.0L415.8 402.0L418.9 402.1L421.9 402.1L425.0 402.1L428.0 402.2L431.1 402.2L434.1 402.3L437.2 402.4L440.2 402.4L443.3 402.4L446.3 402.5L449.4 402.5L452.4 402.5L452.4 402.5L455.5 402.5L458.6 402.5L461.7 402.5L464.8 402.5L467.8 402.5L470.9 402.5L474.0 402.5L477.1 402.5L480.2 402.5L483.3 402.5L486.4 402.5L489.5 402.5L492.6 402.5L495.6 402.5L498.7 402.5L501.8 402.5L504.9 402.5L508.0 402.5L508.0 402.5L511.1 402.5L514.1 402.4L517.2 402.3L520.3 402.2L523.3 402.1L526.4 401.9L529.5 401.8L532.5 401.6L535.6 401.4L538.6 401.3L541.7 401.2L544.8 401.1L547.8 401.0L550.9 401.0M119.8 428.7L122.9 428.8L126.0 428.8L129.1 428.8L132.1 428.8L135.2 428.8L138.3 428.9L141.4 428.9L144.5 429.0L147.6 429.0L150.6 429.1L153.7 429.1L156.8 429.1L159.9 429.2L163.0 429.2L166.1 429.2L169.1 429.3L172.2 429.3L175.3 429.3L175.3 429.3L178.4 429.3L181.4 429.4L184.5 429.5L187.5 429.6L190.6 429.8L193.6 429.9L196.7 430.1L199.8 430.3L202.8 430.5L205.9 430.6L208.9 430.8L212.0 430.9L215.0 430.9L218.1 430.9L218.1 430.9L221.2 430.9L224.3 430.9L227.4 430.8L230.5 430.7L233.5 430.6L236.6 430.4L239.7 430.2L242.8 430.0L245.9 429.9L249.0 429.7L252.1 429.5L255.2 429.3L258.3 429.2L261.3 429.0L264.4 428.9L267.5 428.8L270.6 428.8L273.7 428.8L273.7 428.8L276.8 428.8L279.8 428.8L282.9 428.8L285.9 428.8L289.0 428.8L292.0 428.9L295.1 428.9L298.2 428.9L301.2 428.9L304.3 429.0L307.3 429.0L310.4 429.0L313.4 429.0L316.5 429.0M316.5 429.5L319.6 429.5L322.8 429.4L325.9 429.2L329.0 429.0L332.2 428.8L335.3 428.5L338.4 428.3L341.6 428.1L344.7 427.9L347.8 427.7L351.0 427.6L354.1 427.6L354.1 427.6L357.2 427.6L360.3 427.7L363.4 427.9L366.5 428.1L369.6 428.3L372.7 428.6L375.7 428.9L378.8 429.3L381.9 429.7L385.0 430.0L388.1 430.4L391.2 430.7L394.3 431.0L397.4 431.2L400.5 431.4L403.6 431.6L406.7 431.7L409.8 431.7L409.8 431.7L412.8 431.7L415.8 431.8L418.9 431.9L421.9 431.9L425.0 432.1L428.0 432.2L431.1 432.3L434.1 432.5L437.2 432.6L440.2 432.7L443.3 432.8L446.3 432.9L449.4 432.9L452.4 432.9L452.4 432.9L455.5 432.9L458.6 432.9L461.7 433.0L464.8 433.0L467.8 433.0L470.9 433.1L474.0 433.2L477.1 433.2L480.2 433.3L483.3 433.4L486.4 433.4L489.5 433.5L492.6 433.5L495.6 433.6L498.7 433.6L501.8 433.6L504.9 433.7L508.0 433.7L508.0 433.7L511.1 433.6L514.1 433.5L517.2 433.3L520.3 433.0L523.3 432.7L526.4 432.4L529.5 432.0L532.5 431.7L535.6 431.3L538.6 431.0L541.7 430.8L544.8 430.6L547.8 430.6L550.9 430.6M119.8 430.8L122.9 430.8L126.0 430.7L129.1 430.7L132.1 430.7L135.2 430.6L138.3 430.5L141.4 430.5L144.5 430.4L147.6 430.3L150.6 430.2L153.7 430.1L156.8 430.0L159.9 430.0L163.0 429.9L166.1 429.9L169.1 429.8L172.2 429.8L175.3 429.8L175.3 429.8L178.4 429.8L181.4 430.0L184.5 430.1L187.5 430.4L190.6 430.7L193.6 431.1L196.7 431.4L199.8 431.8L202.8 432.1L205.9 432.4L208.9 432.7L212.0 432.9L215.0 433.0L218.1 433.0L218.1 433.0L221.2 433.0L224.3 433.0L227.4 433.0L230.5 433.0L233.5 432.9L236.6 432.9L239.7 432.9L242.8 432.8L245.9 432.8L249.0 432.7L252.1 432.7L255.2 432.7L258.3 432.6L261.3 432.6L264.4 432.6L267.5 432.6L270.6 432.5L273.7 432.5L273.7 432.5L276.8 432.5L279.8 432.4L282.9 432.2L285.9 432.0L289.0 431.7L292.0 431.4L295.1 431.0L298.2 430.7L301.2 430.4L304.3 430.1L307.3 429.8L310.4 429.7L313.4 429.6L316.5 429.5M316.5 434.1L319.6 434.1L322.8 434.1L325.9 434.1L329.0 434.1L332.2 434.1L335.3 434.1L338.4 434.1L341.6 434.1L344.7 434.1L347.8 434.1L351.0 434.1L354.1 434.1L354.1 434.1L357.2 434.1L360.3 434.1L363.4 434.2L366.5 434.2L369.6 434.3L372.7 434.3L375.7 434.4L378.8 434.5L381.9 434.5L385.0 434.6L388.1 434.7L391.2 434.8L394.3 434.8L397.4 434.9L400.5 434.9L403.6 435.0L406.7 435.0L409.8 435.0L409.8 435.0L412.8 435.0L415.8 435.0L418.9 435.0L421.9 435.1L425.0 435.1L428.0 435.2L431.1 435.2L434.1 435.3L437.2 435.3L440.2 435.4L443.3 435.4L446.3 435.4L449.4 435.4L452.4 435.5L452.4 435.5L455.5 435.4L458.6 435.4L461.7 435.3L464.8 435.2L467.8 435.0L470.9 434.9L474.0 434.7L477.1 434.5L480.2 434.3L483.3 434.1L486.4 433.9L489.5 433.7L492.6 433.6L495.6 433.4L498.7 433.3L501.8 433.2L504.9 433.2L508.0 433.2L508.0 433.2L511.1 433.2L514.1 433.1L517.2 433.1L520.3 433.1L523.3 433.0L526.4 433.0L529.5 432.9L532.5 432.9L535.6 432.8L538.6 432.8L541.7 432.8L544.8 432.7L547.8 432.7L550.9 432.7M119.8 434.3L122.9 434.3L126.0 434.2L129.1 434.2L132.1 434.1L135.2 433.9L138.3 433.8L141.4 433.6L144.5 433.4L147.6 433.2L150.6 433.0L153.7 432.8L156.8 432.7L159.9 432.5L163.0 432.4L166.1 432.3L169.1 432.2L172.2 432.1L175.3 432.1L175.3 432.1L178.4 432.1L181.4 432.1L184.5 432.2L187.5 432.2L190.6 432.2L193.6 432.2L196.7 432.3L199.8 432.3L202.8 432.3L205.9 432.4L208.9 432.4L212.0 432.4L215.0 432.4L218.1 432.4L218.1 432.4L221.2 432.4L224.3 432.4L227.4 432.4L230.5 432.5L233.5 432.5L236.6 432.5L239.7 432.5L242.8 432.6L245.9 432.6L249.0 432.6L252.1 432.7L255.2 432.7L258.3 432.7L261.3 432.7L264.4 432.7L267.5 432.8L270.6 432.8L273.7 432.8L273.7 432.8L276.8 432.8L279.8 432.7L282.9 432.7L285.9 432.6L289.0 432.5L292.0 432.4L295.1 432.3L298.2 432.3L301.2 432.2L304.3 432.1L307.3 432.0L310.4 432.0L313.4 431.9L316.5 431.9M316.5 434.1L319.6 434.1L322.8 434.1L325.9 434.1L329.0 434.1L332.2 434.1L335.3 434.1L338.4 434.1L341.6 434.1L344.7 434.1L347.8 434.1L351.0 434.1L354.1 434.1L354.1 434.1L357.2 434.1L360.3 434.2L363.4 434.4L366.5 434.6L369.6 434.8L372.7 435.1L375.7 435.4L378.8 435.8L381.9 436.1L385.0 436.5L388.1 436.8L391.2 437.2L394.3 437.5L397.4 437.7L400.5 437.9L403.6 438.1L406.7 438.2L409.8 438.2L409.8 438.2L412.8 438.2L415.8 438.1L418.9 438.1L421.9 438.0L425.0 437.9L428.0 437.9L431.1 437.8L434.1 437.7L437.2 437.6L440.2 437.5L443.3 437.4L446.3 437.4L449.4 437.3L452.4 437.3L452.4 437.3L455.5 437.3L458.6 437.3L461.7 437.4L464.8 437.4L467.8 437.4L470.9 437.4L474.0 437.5L477.1 437.5L480.2 437.5L483.3 437.6L486.4 437.6L489.5 437.7L492.6 437.7L495.6 437.7L498.7 437.7L501.8 437.8L504.9 437.8L508.0 437.8L508.0 437.8L511.1 437.8L514.1 437.8L517.2 437.7L520.3 437.7L523.3 437.7L526.4 437.6L529.5 437.6L532.5 437.6L535.6 437.5L538.6 437.5L541.7 437.5L544.8 437.5L547.8 437.5L550.9 437.5M119.8 437.3L122.9 437.3L126.0 437.2L129.1 437.2L132.1 437.2L135.2 437.1L138.3 437.0L141.4 437.0L144.5 436.9L147.6 436.8L150.6 436.7L153.7 436.7L156.8 436.6L159.9 436.5L163.0 436.5L166.1 436.4L169.1 436.4L172.2 436.4L175.3 436.4L175.3 436.4L178.4 436.3L181.4 436.3L184.5 436.2L187.5 436.1L190.6 436.0L193.6 435.9L196.7 435.7L199.8 435.6L202.8 435.4L205.9 435.3L208.9 435.2L212.0 435.1L215.0 435.1L218.1 435.1L218.1 435.1L221.2 435.1L224.3 435.2L227.4 435.3L230.5 435.5L233.5 435.7L236.6 436.0L239.7 436.2L242.8 436.5L245.9 436.9L249.0 437.2L252.1 437.5L255.2 437.8L258.3 438.0L261.3 438.2L264.4 438.4L267.5 438.5L270.6 438.6L273.7 438.7L273.7 438.7L276.8 438.7L279.8 438.7L282.9 438.7L285.9 438.7L289.0 438.7L292.0 438.7L295.1 438.8L298.2 438.8L301.2 438.8L304.3 438.8L307.3 438.8L310.4 438.9L313.4 438.9L316.5 438.9M316.5 438.2L319.6 438.2L322.8 438.2L325.9 438.1L329.0 438.1L332.2 438.0L335.3 438.0L338.4 437.9L341.6 437.8L344.7 437.8L347.8 437.7L351.0 437.7L354.1 437.7L354.1 437.7L357.2 437.7L360.3 437.7L363.4 437.7L366.5 437.7L369.6 437.7L372.7 437.7L375.7 437.7L378.8 437.8L381.9 437.8L385.0 437.8L388.1 437.8L391.2 437.8L394.3 437.8L397.4 437.8L400.5 437.8L403.6 437.8L406.7 437.8L409.8 437.8L409.8 437.8L412.8 437.8L415.8 437.8L418.9 437.9L421.9 437.9L425.0 437.9L428.0 437.9L431.1 438.0L434.1 438.0L437.2 438.0L440.2 438.1L443.3 438.1L446.3 438.1L449.4 438.1L452.4 438.1L452.4 438.1L455.5 438.1L458.6 438.1L461.7 438.1L464.8 438.1L467.8 438.1L470.9 438.2L474.0 438.2L477.1 438.2L480.2 438.2L483.3 438.2L486.4 438.2L489.5 438.2L492.6 438.2L495.6 438.2L498.7 438.2L501.8 438.2L504.9 438.2L508.0 438.2L508.0 438.2L511.1 438.2L514.1 438.2L517.2 438.2L520.3 438.1L523.3 438.1L526.4 438.0L529.5 437.9L532.5 437.9L535.6 437.8L538.6 437.8L541.7 437.7L544.8 437.7L547.8 437.7L550.9 437.7M119.8 440.0L122.9 440.0L126.0 439.9L129.1 439.9L132.1 439.8L135.2 439.7L138.3 439.6L141.4 439.4L144.5 439.3L147.6 439.1L150.6 439.0L153.7 438.9L156.8 438.7L159.9 438.6L163.0 438.5L166.1 438.4L169.1 438.4L172.2 438.3L175.3 438.3L175.3 438.3L178.4 438.3L181.4 438.4L184.5 438.5L187.5 438.6L190.6 438.8L193.6 438.9L196.7 439.1L199.8 439.3L202.8 439.5L205.9 439.6L208.9 439.7L212.0 439.8L215.0 439.9L218.1 439.9L218.1 439.9L221.2 439.9L224.3 439.8L227.4 439.8L230.5 439.7L233.5 439.5L236.6 439.4L239.7 439.2L242.8 439.1L245.9 438.9L249.0 438.7L252.1 438.5L255.2 438.4L258.3 438.2L261.3 438.1L264.4 438.0L267.5 437.9L270.6 437.9L273.7 437.9L273.7 437.9L276.8 437.9L279.8 438.0L282.9 438.2L285.9 438.4L289.0 438.7L292.0 439.1L295.1 439.4L298.2 439.7L301.2 440.0L304.3 440.3L307.3 440.6L310.4 440.7L313.4 440.9L316.5 440.9M316.5 440.5L319.6 440.4L322.8 440.2L325.9 439.9L329.0 439.5L332.2 439.0L335.3 438.5L338.4 438.0L341.6 437.5L344.7 437.1L347.8 436.8L351.0 436.6L354.1 436.5L354.1 436.5L357.2 436.6L360.3 436.6L363.4 436.7L366.5 436.9L369.6 437.1L372.7 437.3L375.7 437.5L378.8 437.7L381.9 438.0L385.0 438.2L388.1 438.5L391.2 438.7L394.3 438.9L397.4 439.1L400.5 439.2L403.6 439.3L406.7 439.4L409.8 439.4L409.8 439.4L412.8 439.4L415.8 439.6L418.9 439.8L421.9 440.2L425.0 440.6L428.0 441.0L431.1 441.4L434.1 441.9L437.2 442.3L440.2 442.7L443.3 443.1L446.3 443.3L449.4 443.4L452.4 443.5L452.4 443.5L455.5 443.5L458.6 443.4L461.7 443.3L464.8 443.2L467.8 443.1L470.9 442.9L474.0 442.7L477.1 442.5L480.2 442.3L483.3 442.1L486.4 441.9L489.5 441.7L492.6 441.6L495.6 441.4L498.7 441.3L501.8 441.2L504.9 441.2L508.0 441.2L508.0 441.2L511.1 441.2L514.1 441.3L517.2 441.5L520.3 441.7L523.3 442.0L526.4 442.3L529.5 442.7L532.5 443.0L535.6 443.3L538.6 443.6L541.7 443.9L544.8 444.1L547.8 444.2L550.9 444.2M119.8 440.3L122.9 440.3L126.0 440.3L129.1 440.2L132.1 440.2L135.2 440.1L138.3 440.0L141.4 439.9L144.5 439.8L147.6 439.6L150.6 439.5L153.7 439.4L156.8 439.3L159.9 439.2L163.0 439.1L166.1 439.0L169.1 439.0L172.2 438.9L175.3 438.9L175.3 438.9L178.4 438.9L181.4 439.0L184.5 439.1L187.5 439.3L190.6 439.5L193.6 439.7L196.7 439.9L199.8 440.1L202.8 440.4L205.9 440.5L208.9 440.7L212.0 440.8L215.0 440.9L218.1 440.9L218.1 440.9L221.2 440.9L224.3 441.0L227.4 441.0L230.5 441.0L233.5 441.1L236.6 441.2L239.7 441.2L242.8 441.3L245.9 441.4L249.0 441.5L252.1 441.5L255.2 441.6L258.3 441.7L261.3 441.7L264.4 441.8L267.5 441.8L270.6 441.8L273.7 441.8L273.7 441.8L276.8 441.8L279.8 441.7L282.9 441.6L285.9 441.5L289.0 441.2L292.0 441.0L295.1 440.8L298.2 440.6L301.2 440.3L304.3 440.1L307.3 440.0L310.4 439.8L313.4 439.8L316.5 439.7M316.5 438.9L319.6 439.0L322.8 439.0L325.9 439.1L329.0 439.3L332.2 439.4L335.3 439.6L338.4 439.8L341.6 440.0L344.7 440.1L347.8 440.2L351.0 440.3L354.1 440.3L354.1 440.3L357.2 440.3L360.3 440.4L363.4 440.6L366.5 440.9L369.6 441.1L372.7 441.5L375.7 441.9L378.8 442.3L381.9 442.7L385.0 443.1L388.1 443.5L391.2 443.8L394.3 444.2L397.4 444.5L400.5 444.7L403.6 444.9L406.7 445.0L409.8 445.0L409.8 445.0L412.8 445.0L415.8 445.0L418.9 445.0L421.9 445.0L425.0 445.0L428.0 444.9L431.1 444.9L434.1 444.9L437.2 444.9L440.2 444.8L443.3 444.8L446.3 444.8L449.4 444.8L452.4 444.8L452.4 444.8L455.5 444.8L458.6 444.7L461.7 444.6L464.8 444.4L467.8 444.2L470.9 444.0L474.0 443.7L477.1 443.4L480.2 443.1L483.3 442.8L486.4 442.6L489.5 442.3L492.6 442.1L495.6 441.8L498.7 441.7L501.8 441.6L504.9 441.5L508.0 441.5L508.0 441.5L511.1 441.5L514.1 441.5L517.2 441.6L520.3 441.7L523.3 441.8L526.4 442.0L529.5 442.1L532.5 442.3L535.6 442.4L538.6 442.5L541.7 442.6L544.8 442.7L547.8 442.8L550.9 442.8M119.8 441.0L122.9 441.0L126.0 441.0L129.1 441.0L132.1 441.0L135.2 441.0L138.3 441.0L141.4 441.0L144.5 441.0L147.6 441.0L150.6 441.0L153.7 441.0L156.8 441.0L159.9 441.0L163.0 441.0L166.1 440.9L169.1 440.9L172.2 440.9L175.3 440.9L175.3 440.9L178.4 441.0L181.4 441.1L184.5 441.2L187.5 441.5L190.6 441.7L193.6 442.0L196.7 442.3L199.8 442.6L202.8 442.9L205.9 443.2L208.9 443.4L212.0 443.6L215.0 443.7L218.1 443.7L218.1 443.7L221.2 443.7L224.3 443.6L227.4 443.5L230.5 443.4L233.5 443.2L236.6 443.0L239.7 442.8L242.8 442.6L245.9 442.4L249.0 442.1L252.1 441.9L255.2 441.7L258.3 441.5L261.3 441.3L264.4 441.2L267.5 441.1L270.6 441.0L273.7 441.0L273.7 441.0L276.8 441.0L279.8 441.1L282.9 441.2L285.9 441.4L289.0 441.6L292.0 441.9L295.1 442.1L298.2 442.3L301.2 442.6L304.3 442.8L307.3 443.0L310.4 443.1L313.4 443.2L316.5 443.2M316.5 442.7L319.6 442.7L322.8 442.7L325.9 442.6L329.0 442.5L332.2 442.4L335.3 442.2L338.4 442.1L341.6 442.0L344.7 441.9L347.8 441.8L351.0 441.7L354.1 441.7L354.1 441.7L357.2 441.8L360.3 441.9L363.4 442.0L366.5 442.2L369.6 442.5L372.7 442.8L375.7 443.1L378.8 443.4L381.9 443.8L385.0 444.2L388.1 444.5L391.2 444.8L394.3 445.1L397.4 445.4L400.5 445.6L403.6 445.7L406.7 445.8L409.8 445.9L409.8 445.9L412.8 445.8L415.8 445.8L418.9 445.6L421.9 445.5L425.0 445.3L428.0 445.0L431.1 444.8L434.1 444.6L437.2 444.4L440.2 444.2L443.3 444.0L446.3 443.9L449.4 443.8L452.4 443.8L452.4 443.8L455.5 443.8L458.6 443.8L461.7 443.9L464.8 444.0L467.8 444.2L470.9 444.3L474.0 444.5L477.1 444.7L480.2 444.8L483.3 445.0L486.4 445.2L489.5 445.4L492.6 445.5L495.6 445.7L498.7 445.8L501.8 445.9L504.9 445.9L508.0 445.9L508.0 445.9L511.1 445.9L514.1 445.8L517.2 445.7L520.3 445.6L523.3 445.4L526.4 445.3L529.5 445.1L532.5 444.9L535.6 444.7L538.6 444.5L541.7 444.4L544.8 444.3L547.8 444.2L550.9 444.2M119.8 444.6L122.9 444.6L126.0 444.5L129.1 444.5L132.1 444.5L135.2 444.4L138.3 444.4L141.4 444.3L144.5 444.2L147.6 444.1L150.6 444.1L153.7 444.0L156.8 443.9L159.9 443.9L163.0 443.8L166.1 443.8L169.1 443.8L172.2 443.7L175.3 443.7L175.3 443.7L178.4 443.7L181.4 443.7L184.5 443.7L187.5 443.6L190.6 443.6L193.6 443.5L196.7 443.4L199.8 443.4L202.8 443.3L205.9 443.3L208.9 443.2L212.0 443.2L215.0 443.2L218.1 443.1L218.1 443.1L221.2 443.2L224.3 443.3L227.4 443.4L230.5 443.6L233.5 443.8L236.6 444.1L239.7 444.3L242.8 444.7L245.9 445.0L249.0 445.3L252.1 445.6L255.2 445.9L258.3 446.1L261.3 446.4L264.4 446.5L267.5 446.7L270.6 446.8L273.7 446.8L273.7 446.8L276.8 446.8L279.8 446.8L282.9 446.7L285.9 446.7L289.0 446.7L292.0 446.6L295.1 446.6L298.2 446.6L301.2 446.5L304.3 446.5L307.3 446.4L310.4 446.4L313.4 446.4L316.5 446.4M316.5 444.1L319.6 444.1L322.8 444.3L325.9 444.5L329.0 444.8L332.2 445.2L335.3 445.6L338.4 446.0L341.6 446.4L344.7 446.7L347.8 446.9L351.0 447.1L354.1 447.1L354.1 447.1L357.2 447.1L360.3 447.1L363.4 447.0L366.5 446.9L369.6 446.8L372.7 446.7L375.7 446.5L378.8 446.4L381.9 446.2L385.0 446.0L388.1 445.9L391.2 445.7L394.3 445.6L397.4 445.5L400.5 445.4L403.6 445.3L406.7 445.3L409.8 445.3L409.8 445.3L412.8 445.3L415.8 445.3L418.9 445.4L421.9 445.6L425.0 445.7L428.0 445.9L431.1 446.1L434.1 446.3L437.2 446.5L440.2 446.6L443.3 446.8L446.3 446.9L449.4 446.9L452.4 447.0L452.4 447.0L455.5 447.0L458.6 447.0L461.7 447.1L464.8 447.2L467.8 447.3L470.9 447.4L474.0 447.6L477.1 447.7L480.2 447.9L483.3 448.1L486.4 448.2L489.5 448.4L492.6 448.5L495.6 448.6L498.7 448.7L501.8 448.8L504.9 448.8L508.0 448.8L508.0 448.8L511.1 448.8L514.1 448.8L517.2 448.8L520.3 448.8L523.3 448.8L526.4 448.8L529.5 448.8L532.5 448.8L535.6 448.7L538.6 448.7L541.7 448.7L544.8 448.7L547.8 448.7L550.9 448.7M119.8 445.0L122.9 445.1L126.0 445.2L129.1 445.3L132.1 445.5L135.2 445.8L138.3 446.1L141.4 446.5L144.5 446.9L147.6 447.2L150.6 447.6L153.7 448.0L156.8 448.4L159.9 448.7L163.0 448.9L166.1 449.2L169.1 449.3L172.2 449.4L175.3 449.5L175.3 449.5L178.4 449.4L181.4 449.2L184.5 449.0L187.5 448.6L190.6 448.1L193.6 447.7L196.7 447.1L199.8 446.6L202.8 446.1L205.9 445.7L208.9 445.3L212.0 445.0L215.0 444.8L218.1 444.8L218.1 444.8L221.2 444.8L224.3 444.8L227.4 444.8L230.5 444.9L233.5 444.9L236.6 444.9L239.7 445.0L242.8 445.0L245.9 445.1L249.0 445.1L252.1 445.1L255.2 445.2L258.3 445.2L261.3 445.3L264.4 445.3L267.5 445.3L270.6 445.3L273.7 445.3L273.7 445.3L276.8 445.3L279.8 445.5L282.9 445.6L285.9 445.9L289.0 446.1L292.0 446.5L295.1 446.8L298.2 447.1L301.2 447.4L304.3 447.7L307.3 447.9L310.4 448.1L313.4 448.2L316.5 448.2M316.5 446.2L319.6 446.2L322.8 446.2L325.9 446.2L329.0 446.2L332.2 446.2L335.3 446.3L338.4 446.3L341.6 446.3L344.7 446.3L347.8 446.3L351.0 446.3L354.1 446.3L354.1 446.3L357.2 446.3L360.3 446.3L363.4 446.3L366.5 446.3L369.6 446.3L372.7 446.4L375.7 446.4L378.8 446.4L381.9 446.4L385.0 446.4L388.1 446.4L391.2 446.4L394.3 446.4L397.4 446.5L400.5 446.5L403.6 446.5L406.7 446.5L409.8 446.5L409.8 446.5L412.8 446.5L415.8 446.5L418.9 446.6L421.9 446.6L425.0 446.7L428.0 446.8L431.1 446.9L434.1 447.0L437.2 447.1L440.2 447.2L443.3 447.3L446.3 447.4L449.4 447.4L452.4 447.4L452.4 447.4L455.5 447.4L458.6 447.5L461.7 447.5L464.8 447.6L467.8 447.8L470.9 447.9L474.0 448.0L477.1 448.2L480.2 448.4L483.3 448.6L486.4 448.7L489.5 448.9L492.6 449.0L495.6 449.1L498.7 449.2L501.8 449.3L504.9 449.4L508.0 449.4L508.0 449.4L511.1 449.4L514.1 449.3L517.2 449.3L520.3 449.3L523.3 449.2L526.4 449.1L529.5 449.1L532.5 449.0L535.6 448.9L538.6 448.9L541.7 448.8L544.8 448.8L547.8 448.8L550.9 448.8M119.8 449.4L122.9 449.4L126.0 449.4L129.1 449.3L132.1 449.3L135.2 449.2L138.3 449.2L141.4 449.1L144.5 449.0L147.6 448.9L150.6 448.9L153.7 448.8L156.8 448.7L159.9 448.6L163.0 448.6L166.1 448.5L169.1 448.5L172.2 448.5L175.3 448.5L175.3 448.5L178.4 448.5L181.4 448.4L184.5 448.4L187.5 448.4L190.6 448.3L193.6 448.2L196.7 448.2L199.8 448.1L202.8 448.0L205.9 447.9L208.9 447.9L212.0 447.9L215.0 447.8L218.1 447.8L218.1 447.8L221.2 447.8L224.3 447.9L227.4 448.0L230.5 448.1L233.5 448.3L236.6 448.5L239.7 448.7L242.8 449.0L245.9 449.2L249.0 449.4L252.1 449.7L255.2 449.9L258.3 450.1L261.3 450.3L264.4 450.4L267.5 450.5L270.6 450.6L273.7 450.6L273.7 450.6L276.8 450.6L279.8 450.5L282.9 450.4L285.9 450.3L289.0 450.1L292.0 449.9L295.1 449.7L298.2 449.5L301.2 449.3L304.3 449.2L307.3 449.0L310.4 448.9L313.4 448.8L316.5 448.8M316.5 449.3L319.6 449.4L322.8 449.4L325.9 449.6L329.0 449.8L332.2 450.0L335.3 450.2L338.4 450.4L341.6 450.6L344.7 450.8L347.8 450.9L351.0 451.0L354.1 451.0L354.1 451.0L357.2 451.0L360.3 451.0L363.4 450.9L366.5 450.8L369.6 450.6L372.7 450.5L375.7 450.3L378.8 450.1L381.9 449.9L385.0 449.7L388.1 449.6L391.2 449.4L394.3 449.2L397.4 449.1L400.5 449.0L403.6 448.9L406.7 448.8L409.8 448.8L409.8 448.8L412.8 448.8L415.8 448.9L418.9 448.9L421.9 449.0L425.0 449.0L428.0 449.1L431.1 449.2L434.1 449.3L437.2 449.4L440.2 449.4L443.3 449.5L446.3 449.5L449.4 449.6L452.4 449.6L452.4 449.6L455.5 449.6L458.6 449.7L461.7 449.8L464.8 449.9L467.8 450.1L470.9 450.4L474.0 450.6L477.1 450.9L480.2 451.2L483.3 451.4L486.4 451.7L489.5 452.0L492.6 452.2L495.6 452.4L498.7 452.5L501.8 452.7L504.9 452.7L508.0 452.8L508.0 452.8L511.1 452.8L514.1 452.8L517.2 452.8L520.3 452.9L523.3 453.0L526.4 453.0L529.5 453.1L532.5 453.2L535.6 453.3L538.6 453.3L541.7 453.4L544.8 453.4L547.8 453.4L550.9 453.4M119.8 449.6L122.9 449.6L126.0 449.6L129.1 449.6L132.1 449.6L135.2 449.6L138.3 449.6L141.4 449.6L144.5 449.6L147.6 449.6L150.6 449.6L153.7 449.6L156.8 449.6L159.9 449.6L163.0 449.6L166.1 449.6L169.1 449.6L172.2 449.6L175.3 449.6L175.3 449.6L178.4 449.6L181.4 449.6L184.5 449.7L187.5 449.8L190.6 450.0L193.6 450.1L196.7 450.3L199.8 450.5L202.8 450.6L205.9 450.8L208.9 450.9L212.0 451.0L215.0 451.0L218.1 451.0L218.1 451.0L221.2 451.1L224.3 451.1L227.4 451.1L230.5 451.2L233.5 451.3L236.6 451.4L239.7 451.5L242.8 451.6L245.9 451.7L249.0 451.8L252.1 451.9L255.2 452.0L258.3 452.1L261.3 452.2L264.4 452.3L267.5 452.3L270.6 452.4L273.7 452.4L273.7 452.4L276.8 452.3L279.8 452.2L282.9 452.1L285.9 451.8L289.0 451.5L292.0 451.2L295.1 450.9L298.2 450.5L301.2 450.2L304.3 449.9L307.3 449.7L310.4 449.5L313.4 449.4L316.5 449.4M316.5 453.1L319.6 453.1L322.8 453.1L325.9 453.1L329.0 453.1L332.2 453.1L335.3 453.1L338.4 453.1L341.6 453.1L344.7 453.1L347.8 453.1L351.0 453.1L354.1 453.1L354.1 453.1L357.2 453.1L360.3 453.0L363.4 453.0L366.5 453.0L369.6 453.0L372.7 453.0L375.7 452.9L378.8 452.9L381.9 452.9L385.0 452.8L388.1 452.8L391.2 452.8L394.3 452.7L397.4 452.7L400.5 452.7L403.6 452.7L406.7 452.7L409.8 452.7L409.8 452.7L412.8 452.5L415.8 452.3L418.9 452.1L421.9 451.9L425.0 451.8L428.0 451.8L431.1 451.8L434.1 451.8L437.2 451.9L440.2 452.0L443.3 452.2L446.3 452.4L449.4 452.7L452.4 452.7L452.4 452.7L455.5 452.7L458.6 452.6L461.7 452.6L464.8 452.5L467.8 452.3L470.9 452.2L474.0 452.0L477.1 451.9L480.2 451.7L483.3 451.5L486.4 451.3L489.5 451.2L492.6 451.0L495.6 450.9L498.7 450.8L501.8 450.7L504.9 450.7L508.0 450.7L508.0 450.7L511.1 450.7L514.1 450.7L517.2 450.8L520.3 450.9L523.3 450.9L526.4 451.0L529.5 451.1L532.5 451.2L535.6 451.3L538.6 451.4L541.7 451.5L544.8 451.6L547.8 451.6L550.9 451.6M119.8 454.9L122.9 454.9L126.0 454.8L129.1 454.7L132.1 454.6L135.2 454.4L138.3 454.1L141.4 453.9L144.5 453.6L147.6 453.3L150.6 453.0L153.7 452.5L156.8 452.0L159.9 451.4L163.0 450.9L166.1 450.6L169.1 450.3L172.2 450.1L175.3 450.0L175.3 450.0L178.4 450.0L181.4 450.1L184.5 450.3L187.5 450.6L190.6 451.0L193.6 451.5L196.7 452.0L199.8 452.3L202.8 452.4L205.9 452.5L208.9 452.6L212.0 452.7L215.0 452.7L218.1 452.7L218.1 452.7L221.2 452.7L224.3 452.7L227.4 452.6L230.5 452.5L233.5 452.4L236.6 452.3L239.7 452.1L242.8 452.0L245.9 451.8L249.0 451.7L252.1 451.5L255.2 451.4L258.3 451.3L261.3 451.2L264.4 451.1L267.5 451.0L270.6 451.0L273.7 451.0L273.7 451.0L276.8 451.0L279.8 451.1L282.9 451.3L285.9 451.6L289.0 451.9L292.0 452.2L295.1 452.6L298.2 453.0L301.2 453.3L304.3 453.7L307.3 453.9L310.4 454.1L313.4 454.2L316.5 454.3M316.5 453.3L319.6 453.2L322.8 453.2L325.9 453.1L329.0 453.0L332.2 452.9L335.3 452.7L338.4 452.6L341.6 452.4L344.7 452.3L347.8 452.2L351.0 452.2L354.1 452.2L354.1 452.2L357.2 452.2L360.3 452.2L363.4 452.2L366.5 452.2L369.6 452.2L372.7 452.2L375.7 452.2L378.8 452.3L381.9 452.3L385.0 452.3L388.1 452.3L391.2 452.3L394.3 452.3L397.4 452.4L400.5 452.4L403.6 452.4L406.7 452.4L409.8 452.4L409.8 452.4L412.8 452.4L415.8 452.3L418.9 452.1L421.9 451.9L425.0 451.8L428.0 451.8L431.1 451.8L434.1 451.8L437.2 451.9L440.2 452.0L443.3 452.2L446.3 452.4L449.4 452.7L452.4 453.0L452.4 453.0L455.5 453.4L458.6 453.8L461.7 454.2L464.8 454.6L467.8 455.1L470.9 455.0L474.0 454.7L477.1 454.4L480.2 454.1L483.3 453.8L486.4 453.5L489.5 453.2L492.6 452.9L495.6 452.7L498.7 452.5L501.8 452.4L504.9 452.3L508.0 452.3L508.0 452.3L511.1 452.3L514.1 452.4L517.2 452.5L520.3 452.7L523.3 452.9L526.4 453.1L529.5 453.3L532.5 453.6L535.6 453.8L538.6 454.0L541.7 454.2L544.8 454.3L547.8 454.4L550.9 454.4M119.8 454.9L122.9 454.9L126.0 454.9L129.1 455.0L132.1 455.1L135.2 455.2L138.3 455.3L141.4 455.4L144.5 455.6L147.6 455.7L150.6 455.9L153.7 456.0L156.8 456.1L159.9 456.2L163.0 456.5L166.1 456.8L169.1 457.1L172.2 457.3L175.3 457.4L175.3 457.4L178.4 457.4L181.4 457.3L184.5 457.1L187.5 456.8L190.6 456.4L193.6 455.9L196.7 455.4L199.8 455.0L202.8 454.8L205.9 454.5L208.9 454.3L212.0 454.2L215.0 454.1L218.1 454.1L218.1 454.1L221.2 454.1L224.3 454.0L227.4 454.0L230.5 453.9L233.5 453.9L236.6 453.8L239.7 453.7L242.8 453.6L245.9 453.5L249.0 453.4L252.1 453.3L255.2 453.2L258.3 453.1L261.3 453.0L264.4 453.0L267.5 452.9L270.6 452.9L273.7 452.9L273.7 452.9L276.8 452.9L279.8 453.1L282.9 453.3L285.9 453.6L289.0 453.9L292.0 454.3L295.1 454.7L298.2 455.2L301.2 455.6L304.3 455.9L307.3 456.2L310.4 456.4L313.4 456.6L316.5 456.6M316.5 453.3L319.6 453.2L322.8 453.2L325.9 453.2L329.0 453.1L332.2 453.1L335.3 453.0L338.4 452.9L341.6 452.9L344.7 452.8L347.8 452.8L351.0 452.7L354.1 452.7L354.1 452.7L357.2 452.7L360.3 452.8L363.4 452.9L366.5 452.9L369.6 453.1L372.7 453.2L375.7 453.3L378.8 453.5L381.9 453.7L385.0 453.8L388.1 454.0L391.2 454.1L394.3 454.3L397.4 454.3L400.5 453.9L403.6 453.5L406.7 453.1L409.8 452.8L409.8 452.8L412.8 452.5L415.8 452.3L418.9 452.1L421.9 451.9L425.0 451.8L428.0 451.8L431.1 451.8L434.1 451.8L437.2 451.9L440.2 452.0L443.3 452.2L446.3 452.4L449.4 452.7L452.4 453.0L452.4 453.0L455.5 453.4L458.6 453.8L461.7 454.2L464.8 454.6L467.8 455.1L470.9 455.6L474.0 455.6L477.1 455.4L480.2 455.2L483.3 455.0L486.4 454.8L489.5 454.6L492.6 454.4L495.6 454.3L498.7 454.2L501.8 454.1L504.9 454.0L508.0 454.0L508.0 454.0L511.1 454.0L514.1 454.1L517.2 454.2L520.3 454.4L523.3 454.6L526.4 454.8L529.5 455.0L532.5 455.2L535.6 455.4L538.6 455.6L541.7 455.8L544.8 455.9L547.8 455.9L550.9 456.0M119.8 455.8L122.9 455.8L126.0 455.9L129.1 455.9L132.1 456.0L135.2 456.0L138.3 456.1L141.4 456.2L144.5 456.3L147.6 456.4L150.6 456.5L153.7 456.7L156.8 456.8L159.9 456.8L163.0 456.9L166.1 457.0L169.1 457.1L172.2 457.3L175.3 457.4L175.3 457.4L178.4 457.4L181.4 457.3L184.5 457.1L187.5 456.8L190.6 456.4L193.6 455.9L196.7 455.4L199.8 454.9L202.8 454.5L205.9 454.2L208.9 453.9L212.0 453.7L215.0 453.6L218.1 453.5L218.1 453.5L221.2 453.5L224.3 453.6L227.4 453.6L230.5 453.7L233.5 453.8L236.6 453.9L239.7 454.0L242.8 454.2L245.9 454.3L249.0 454.5L252.1 454.6L255.2 454.7L258.3 454.8L261.3 454.9L264.4 455.0L267.5 455.0L270.6 455.1L273.7 455.1L273.7 455.1L276.8 455.1L279.8 455.3L282.9 455.4L285.9 455.7L289.0 456.0L292.0 456.3L295.1 456.5L298.2 456.7L301.2 456.9L304.3 457.1L307.3 457.3L310.4 457.6L313.4 457.8L316.5 458.1M316.5 459.3L319.6 459.1L322.8 458.8L325.9 458.7L329.0 458.5L332.2 458.4L335.3 458.3L338.4 458.1L341.6 458.0L344.7 457.8L347.8 457.8L351.0 457.7L354.1 457.7L354.1 457.7L357.2 457.7L360.3 457.7L363.4 457.7L366.5 457.8L369.6 457.8L372.7 457.8L375.7 457.9L378.8 458.0L381.9 458.2L385.0 458.7L388.1 459.2L391.2 459.7L394.3 460.2L397.4 460.7L400.5 461.1L403.6 461.5L406.7 461.9L409.8 462.2L409.8 462.2L412.8 462.5L415.8 462.7L418.9 462.9L421.9 463.1L425.0 463.2L428.0 463.2L431.1 463.2L434.1 463.2L437.2 463.1L440.2 463.0L443.3 462.8L446.3 462.6L449.4 462.3L452.4 462.0L452.4 462.0L455.5 461.6L458.6 461.2L461.7 460.8L464.8 460.4L467.8 459.9L470.9 459.4L474.0 458.9L477.1 458.3M480.2 457.2L483.3 457.2L486.4 457.0L489.5 456.8L492.6 456.6L495.6 456.4L498.7 456.1L501.8 455.7L504.9 455.4L508.0 455.1L508.0 455.1L511.1 454.9L514.1 454.8L517.2 454.8L520.3 454.8L523.3 454.9L526.4 455.1L529.5 455.3L532.5 455.6L535.6 456.0L538.6 456.5L541.7 457.0L544.8 457.1L547.8 457.1L550.9 457.1M119.8 456.0L122.9 456.0L126.0 456.1L129.1 456.3L132.1 456.5L135.2 456.8L138.3 457.1L141.4 457.5L144.5 457.9L147.6 458.3L150.6 458.6L153.7 459.0L156.8 459.4L159.9 459.7L163.0 460.0L166.1 460.2L169.1 460.4L172.2 460.5L175.3 460.5L175.3 460.5L178.4 460.5L181.4 460.4L184.5 460.3L187.5 460.1L190.6 459.8L193.6 459.6L196.7 459.3L199.8 459.0L202.8 458.7L205.9 458.5L208.9 458.3L212.0 458.1L215.0 457.8L218.1 457.6L218.1 457.6L221.2 457.4L224.3 457.1L227.4 456.9L230.5 456.7L233.5 456.5L236.6 456.3L239.7 456.1M242.8 461.4L245.9 461.6L249.0 461.7L252.1 461.8L255.2 461.9L258.3 461.9L261.3 461.9L264.4 461.9L267.5 461.9L270.6 461.9L273.7 461.9L273.7 461.9L276.8 461.8L279.8 461.7L282.9 461.6L285.9 461.4M289.0 456.1L292.0 456.3L295.1 456.5L298.2 456.7L301.2 456.9L304.3 456.7L307.3 456.4L310.4 456.2L313.4 456.0L316.5 456.0M316.5 459.3L319.6 459.1L322.8 459.0L325.9 459.0L329.0 458.9L332.2 458.9L335.3 458.9L338.4 458.8L341.6 458.8L344.7 458.7L347.8 458.7L351.0 458.7L354.1 458.7L354.1 458.7L357.2 458.7L360.3 458.7L363.4 458.8L366.5 458.9L369.6 459.0L372.7 459.1L375.7 459.2L378.8 459.3L381.9 459.5L385.0 459.6L388.1 459.7L391.2 459.9L394.3 460.2L397.4 460.7L400.5 461.1L403.6 461.5L406.7 461.9L409.8 462.2L409.8 462.2L412.8 462.5L415.8 462.7L418.9 462.9L421.9 463.1L425.0 463.2L428.0 463.2L431.1 463.2L434.1 463.2L437.2 463.1L440.2 463.0L443.3 462.8L446.3 462.6L449.4 462.3L452.4 462.0L452.4 462.0L455.5 461.6L458.6 461.2L461.7 460.8L464.8 460.4L467.8 459.9L470.9 459.9L474.0 460.2L477.1 460.3L480.2 459.6L483.3 458.9L486.4 458.3L489.5 457.6L492.6 457.1L495.6 456.6L498.7 456.1L501.8 455.7L504.9 455.4L508.0 455.1L508.0 455.1L511.1 454.9L514.1 454.8L517.2 454.8L520.3 454.8L523.3 454.9L526.4 455.1L529.5 455.3L532.5 455.6L535.6 456.0L538.6 456.5L541.7 457.0L544.8 457.5L547.8 458.1L550.9 458.7M119.8 460.3L122.9 460.3L126.0 460.4L129.1 460.4L132.1 460.5L135.2 460.5L138.3 460.6L141.4 460.7L144.5 460.8L147.6 460.9L150.6 461.0L153.7 461.1L156.8 461.2L159.9 461.3L163.0 461.4L166.1 461.5L169.1 461.5L172.2 461.5L175.3 461.5L175.3 461.5L178.4 461.5L181.4 461.5L184.5 461.4L187.5 461.4L190.6 461.3L193.6 461.2L196.7 461.1L199.8 461.0L202.8 461.0L205.9 460.9L208.9 460.8L212.0 460.8L215.0 460.7L218.1 460.7L218.1 460.7L221.2 460.7L224.3 460.7L227.4 460.7L230.5 460.7L233.5 460.9L236.6 461.1L239.7 461.3L242.8 461.4L245.9 461.6L249.0 461.7L252.1 461.8L255.2 461.9L258.3 461.9L261.3 461.9L264.4 461.9L267.5 461.9L270.6 461.9L273.7 461.9L273.7 461.9L276.8 461.8L279.8 461.7L282.9 461.6L285.9 461.4L289.0 461.3L292.0 461.1L295.1 460.9L298.2 460.8L301.2 460.9L304.3 461.0L307.3 461.0L310.4 461.0L313.4 461.1L316.5 461.1M316.5 461.6L319.6 461.6L322.8 461.6L325.9 461.7L329.0 461.8L332.2 462.0L335.3 462.1L338.4 462.2L341.6 462.3L344.7 462.5L347.8 462.5L351.0 462.6L354.1 462.6L354.1 462.6L357.2 462.6L360.3 462.5L363.4 462.4L366.5 462.3L369.6 462.2L372.7 462.0L375.7 461.8L378.8 461.6L381.9 461.4L385.0 461.2L388.1 461.0L391.2 460.8L394.3 460.6L397.4 460.7L400.5 461.1L403.6 461.5L406.7 461.9L409.8 462.2L409.8 462.2L412.8 462.5L415.8 462.7L418.9 462.9L421.9 463.1L425.0 463.2L428.0 463.2L431.1 463.2L434.1 463.2L437.2 463.1L440.2 463.0L443.3 462.8L446.3 462.6L449.4 462.7L452.4 462.8L452.4 462.8L455.5 462.8L458.6 462.8L461.7 462.8L464.8 462.8L467.8 462.8L470.9 462.9L474.0 463.0L477.1 463.7L480.2 464.4L483.3 465.1L486.4 465.7L489.5 466.4L492.6 466.9L495.6 467.4L498.7 467.9L501.8 468.3L504.9 468.6L508.0 468.9L508.0 468.9L511.1 469.1L514.1 469.2L517.2 469.2L520.3 469.2L523.3 469.1L526.4 468.9L529.5 468.7L532.5 468.4L535.6 468.0L538.6 467.5L541.7 467.0L544.8 466.5L547.8 465.9L550.9 465.3M119.8 461.5L122.9 461.5L126.0 461.6L129.1 461.6L132.1 461.7L135.2 461.9L138.3 462.0L141.4 462.2L144.5 462.4L147.6 462.5L150.6 462.7L153.7 462.9L156.8 463.1L159.9 463.2L163.0 463.4L166.1 463.5L169.1 463.5L172.2 463.6L175.3 463.6L175.3 463.6L178.4 463.6L181.4 463.5L184.5 463.5L187.5 463.4L190.6 463.2L193.6 463.1L196.7 462.9L199.8 462.8L202.8 462.7L205.9 462.5L208.9 462.4L212.0 462.3L215.0 462.3L218.1 462.3L218.1 462.3L221.2 462.3L224.3 462.3L227.4 462.2L230.5 462.2L233.5 462.1L236.6 462.1L239.7 462.0L242.8 461.9L245.9 461.8L249.0 461.8L252.1 461.8L255.2 461.9L258.3 461.9L261.3 461.9L264.4 461.9L267.5 461.9L270.6 461.9L273.7 461.9L273.7 461.9L276.8 461.8L279.8 461.7L282.9 461.6L285.9 461.6L289.0 461.7L292.0 461.8L295.1 462.0L298.2 462.1L301.2 462.2L304.3 462.3L307.3 462.4L310.4 462.4L313.4 462.5L316.5 462.5M316.5 461.4L319.6 461.4L322.8 461.5L325.9 461.6L329.0 461.8L332.2 461.9L335.3 462.1L338.4 462.3L341.6 462.5L344.7 462.6L347.8 462.7L351.0 462.8L354.1 462.8L354.1 462.8L357.2 462.8L360.3 462.8L363.4 462.8L366.5 462.9L369.6 462.9L372.7 462.9L375.7 462.9L378.8 462.9L381.9 462.9L385.0 463.0L388.1 463.0L391.2 463.0L394.3 463.0L397.4 463.0L400.5 463.0L403.6 463.1L406.7 463.1L409.8 463.1L409.8 463.1L412.8 463.0L415.8 463.0L418.9 462.9L421.9 463.1L425.0 463.2L428.0 463.2L431.1 463.2L434.1 463.2L437.2 463.1L440.2 463.0L443.3 462.8L446.3 462.6L449.4 462.3L452.4 462.0L452.4 462.0L455.5 461.6L458.6 461.6L461.7 461.7L464.8 461.8L467.8 461.9L470.9 462.2L474.0 463.0L477.1 463.7L480.2 464.4L483.3 465.1L486.4 465.7L489.5 466.4L492.6 466.9L495.6 467.4L498.7 467.9L501.8 468.3L504.9 468.6L508.0 468.9L508.0 468.9L511.1 469.1L514.1 469.2L517.2 469.2L520.3 469.2L523.3 469.1L526.4 468.9L529.5 468.7L532.5 468.4L535.6 468.0L538.6 467.5L541.7 467.0L544.8 466.9L547.8 467.0L550.9 467.1M119.8 465.5L122.9 465.5L126.0 465.5L129.1 465.5L132.1 465.4L135.2 465.4L138.3 465.4L141.4 465.4L144.5 465.3L147.6 465.3L150.6 465.3L153.7 465.2L156.8 465.2L159.9 465.2L163.0 465.1L166.1 465.1L169.1 465.1L172.2 465.1L175.3 465.1L175.3 465.1L178.4 465.1L181.4 464.9L184.5 464.7L187.5 464.5L190.6 464.1L193.6 463.8L196.7 463.4L199.8 463.0L202.8 462.7L205.9 462.3L208.9 462.1L212.0 461.9L215.0 461.7L218.1 461.7L218.1 461.7L221.2 461.7L224.3 461.8L227.4 461.9L230.5 462.0L233.5 462.1L236.6 462.3L239.7 462.4L242.8 462.6L245.9 462.8L249.0 463.0L252.1 463.2L255.2 463.4L258.3 463.5L261.3 463.7L264.4 463.8L267.5 463.9L270.6 463.9L273.7 463.9L273.7 463.9L276.8 463.9L279.8 463.9L282.9 463.9L285.9 464.0L289.0 464.0L292.0 464.0L295.1 464.0L298.2 464.0L301.2 464.0L304.3 464.0L307.3 464.0L310.4 464.1L313.4 464.1L316.5 464.1M316.5 463.5L319.6 463.5L322.8 463.6L325.9 463.8L329.0 464.1L332.2 464.3L335.3 464.7L338.4 465.0L341.6 465.3L344.7 465.5L347.8 465.7L351.0 465.8L354.1 465.9L354.1 465.9L357.2 465.8L360.3 465.7L363.4 465.6L366.5 465.4L369.6 465.2L372.7 464.9L375.7 464.7L378.8 464.4L381.9 464.0L385.0 463.7L388.1 463.4L391.2 463.1L394.3 462.9L397.4 462.6L400.5 462.5L403.6 462.3L406.7 462.2L409.8 462.2L409.8 462.2L412.8 462.5L415.8 462.7L418.9 462.9L421.9 463.1L425.0 463.4L428.0 463.9L431.1 464.3L434.1 464.8L437.2 465.3L440.2 465.7L443.3 466.0L446.3 466.3L449.4 466.4L452.4 466.5L452.4 466.5L455.5 466.4L458.6 466.4L461.7 466.2L464.8 466.0L467.8 465.7L470.9 465.4L474.0 465.1L477.1 464.7L480.2 464.4L483.3 465.1L486.4 465.7L489.5 466.4L492.6 466.9L495.6 467.4L498.7 467.9L501.8 468.3L504.9 468.6L508.0 468.9L508.0 468.9L511.1 469.1L514.1 469.2L517.2 469.2L520.3 469.2L523.3 469.1L526.4 468.9L529.5 468.7L532.5 468.4L535.6 468.0L538.6 467.5L541.7 467.0L544.8 466.7L547.8 466.9L550.9 466.9M119.8 465.3L122.9 465.3L126.0 465.3L129.1 465.3L132.1 465.2L135.2 465.2L138.3 465.1L141.4 465.1L144.5 465.0L147.6 464.9L150.6 464.8L153.7 464.8L156.8 464.7L159.9 464.6L163.0 464.6L166.1 464.5L169.1 464.5L172.2 464.5L175.3 464.5L175.3 464.5L178.4 464.5L181.4 464.5L184.5 464.5L187.5 464.6L190.6 464.6L193.6 464.6L196.7 464.7L199.8 464.7L202.8 464.8L205.9 464.8L208.9 464.8L212.0 464.9L215.0 464.9L218.1 464.9L218.1 464.9L221.2 464.9L224.3 464.9L227.4 464.9L230.5 464.8L233.5 464.8L236.6 464.8L239.7 464.8L242.8 464.7L245.9 464.7L249.0 464.7L252.1 464.6L255.2 464.6L258.3 464.6L261.3 464.6L264.4 464.5L267.5 464.5L270.6 464.5L273.7 464.5L273.7 464.5L276.8 464.5L279.8 464.6L282.9 464.7L285.9 464.8L289.0 464.9L292.0 465.1L295.1 465.2L298.2 465.4L301.2 465.6L304.3 465.7L307.3 465.8L310.4 465.9L313.4 466.0L316.5 466.0M316.5 467.5L319.6 467.5L322.8 467.3L325.9 467.1L329.0 466.9L332.2 466.5L335.3 466.2L338.4 465.8L341.6 465.5L344.7 465.2L347.8 465.0L351.0 464.9L354.1 464.8L354.1 464.8L357.2 464.8L360.3 464.8L363.4 464.8L366.5 464.7L369.6 464.6L372.7 464.5L375.7 464.4L378.8 464.3L381.9 464.2L385.0 464.1L388.1 464.0L391.2 463.9L394.3 463.8L397.4 463.7L400.5 463.6L403.6 463.6L406.7 463.5L409.8 463.5L409.8 463.5L412.8 463.6L415.8 463.6L418.9 463.8L421.9 464.0L425.0 464.2L428.0 464.5L431.1 464.8L434.1 465.0L437.2 465.3L440.2 465.5L443.3 465.7L446.3 465.9L449.4 466.0L452.4 466.0L452.4 466.0L455.5 466.0L458.6 466.0L461.7 466.1L464.8 466.1L467.8 466.2L470.9 466.3L474.0 466.3L477.1 466.4L480.2 466.5L483.3 466.6L486.4 466.7L489.5 466.8L492.6 466.9L495.6 467.4L498.7 467.9L501.8 468.3L504.9 468.6L508.0 468.9L508.0 468.9L511.1 469.1L514.1 469.2L517.2 469.2L520.3 469.2L523.3 469.1L526.4 468.9L529.5 468.7L532.5 468.4L535.6 468.0L538.6 467.5L541.7 467.0L544.8 466.8L547.8 466.7L550.9 466.7M119.8 465.6L122.9 465.6L126.0 465.7L129.1 465.9L132.1 466.1L135.2 466.3L138.3 466.6L141.4 466.9L144.5 467.2L147.6 467.5L150.6 467.9L153.7 468.2L156.8 468.5L159.9 468.8L163.0 469.0L166.1 469.2L169.1 469.4L172.2 469.5L175.3 469.5L175.3 469.5L178.4 469.5L181.4 469.3L184.5 469.2L187.5 468.9L190.6 468.6L193.6 468.3L196.7 467.9L199.8 467.6L202.8 467.3L205.9 467.0L208.9 466.7L212.0 466.5L215.0 466.4L218.1 466.4L218.1 466.4L221.2 466.4L224.3 466.4L227.4 466.4L230.5 466.3L233.5 466.3L236.6 466.3L239.7 466.2L242.8 466.2L245.9 466.2L249.0 466.1L252.1 466.1L255.2 466.1L258.3 466.0L261.3 466.0L264.4 466.0L267.5 466.0L270.6 466.0L273.7 466.0L273.7 466.0L276.8 466.0L279.8 466.1L282.9 466.3L285.9 466.5L289.0 466.8L292.0 467.2L295.1 467.5L298.2 467.9L301.2 468.2L304.3 468.5L307.3 468.7L310.4 468.9L313.4 469.0L316.5 469.1M316.5 466.4L319.6 466.5L322.8 466.6L325.9 466.7L329.0 467.0L332.2 467.2L335.3 467.5L338.4 467.8L341.6 468.0L344.7 468.3L347.8 468.4L351.0 468.6L354.1 468.6L354.1 468.6L357.2 468.6L360.3 468.5L363.4 468.4L366.5 468.3L369.6 468.1L372.7 468.0L375.7 467.8L378.8 467.5L381.9 467.3L385.0 467.1L388.1 466.9L391.2 466.7L394.3 466.5L397.4 466.4L400.5 466.2L403.6 466.1L406.7 466.1L409.8 466.1L409.8 466.1L412.8 466.1L415.8 466.2L418.9 466.3L421.9 466.5L425.0 466.7L428.0 466.9L431.1 467.2L434.1 467.4L437.2 467.7L440.2 467.9L443.3 468.0L446.3 468.2L449.4 468.3L452.4 468.3L452.4 468.3L455.5 468.3L458.6 468.3L461.7 468.4L464.8 468.4L467.8 468.5L470.9 468.5L474.0 468.6L477.1 468.7L480.2 468.8L483.3 468.9L486.4 469.0L489.5 469.0L492.6 469.1L495.6 469.2L498.7 469.2L501.8 469.3L504.9 469.3L508.0 469.3L508.0 469.3L511.1 469.3L514.1 469.4L517.2 469.6L520.3 469.8L523.3 470.0L526.4 470.3L529.5 470.6L532.5 470.9L535.6 471.1L538.6 471.4L541.7 471.6L544.8 471.8L547.8 471.8L550.9 471.9M119.8 470.7L122.9 470.7L126.0 470.7L129.1 470.6L132.1 470.5L135.2 470.4L138.3 470.2L141.4 470.1L144.5 469.9L147.6 469.7L150.6 469.6L153.7 469.4L156.8 469.2L159.9 469.1L163.0 469.0L166.1 468.9L169.1 468.8L172.2 468.8L175.3 468.7L175.3 468.7L178.4 468.7L181.4 468.7L184.5 468.6L187.5 468.5L190.6 468.4L193.6 468.3L196.7 468.2L199.8 468.1L202.8 468.0L205.9 467.9L208.9 467.8L212.0 467.7L215.0 467.7L218.1 467.7L218.1 467.7L221.2 467.7L224.3 467.7L227.4 467.6L230.5 467.6L233.5 467.6L236.6 467.5L239.7 467.5L242.8 467.4L245.9 467.4L249.0 467.3L252.1 467.3L255.2 467.2L258.3 467.2L261.3 467.1L264.4 467.1L267.5 467.1L270.6 467.1L273.7 467.1L273.7 467.1L276.8 467.1L279.8 467.1L282.9 467.1L285.9 467.1L289.0 467.1L292.0 467.1L295.1 467.1L298.2 467.1L301.2 467.1L304.3 467.2L307.3 467.2L310.4 467.2L313.4 467.2L316.5 467.2M316.5 469.0L319.6 469.0L322.8 469.1L325.9 469.3L329.0 469.5L332.2 469.8L335.3 470.1L338.4 470.4L341.6 470.6L344.7 470.8L347.8 471.0L351.0 471.1L354.1 471.2L354.1 471.2L357.2 471.2L360.3 471.2L363.4 471.1L366.5 471.1L369.6 471.1L372.7 471.1L375.7 471.1L378.8 471.0L381.9 471.0L385.0 471.0L388.1 470.9L391.2 470.9L394.3 470.9L397.4 470.9L400.5 470.8L403.6 470.8L406.7 470.8L409.8 470.8L409.8 470.8L412.8 470.8L415.8 470.8L418.9 470.9L421.9 470.9L425.0 470.9L428.0 471.0L431.1 471.0L434.1 471.1L437.2 471.1L440.2 471.2L443.3 471.2L446.3 471.3L449.4 471.3L452.4 471.3L452.4 471.3L455.5 471.3L458.6 471.3L461.7 471.3L464.8 471.3L467.8 471.3L470.9 471.4L474.0 471.4L477.1 471.4L480.2 471.4L483.3 471.5L486.4 471.5L489.5 471.5L492.6 471.5L495.6 471.6L498.7 471.6L501.8 471.6L504.9 471.6L508.0 471.6L508.0 471.6L511.1 471.6L514.1 471.5L517.2 471.5L520.3 471.4L523.3 471.3L526.4 471.2L529.5 471.1L532.5 470.9L535.6 470.8L538.6 470.7L541.7 470.6L544.8 470.6L547.8 470.5L550.9 470.5M119.8 469.1L122.9 469.1L126.0 469.1L129.1 469.2L132.1 469.3L135.2 469.4L138.3 469.5L141.4 469.6L144.5 469.8L147.6 469.9L150.6 470.1L153.7 470.2L156.8 470.4L159.9 470.5L163.0 470.6L166.1 470.7L169.1 470.7L172.2 470.8L175.3 470.8L175.3 470.8L178.4 470.8L181.4 470.7L184.5 470.5L187.5 470.2L190.6 470.0L193.6 469.7L196.7 469.3L199.8 469.0L202.8 468.7L205.9 468.4L208.9 468.2L212.0 468.0L215.0 467.9L218.1 467.9L218.1 467.9L221.2 467.9L224.3 467.9L227.4 467.9L230.5 467.9L233.5 467.9L236.6 468.0L239.7 468.0L242.8 468.0L245.9 468.1L249.0 468.1L252.1 468.1L255.2 468.1L258.3 468.2L261.3 468.2L264.4 468.2L267.5 468.2L270.6 468.2L273.7 468.2L273.7 468.2L276.8 468.3L279.8 468.3L282.9 468.5L285.9 468.6L289.0 468.8L292.0 469.0L295.1 469.2L298.2 469.5L301.2 469.7L304.3 469.9L307.3 470.0L310.4 470.1L313.4 470.2L316.5 470.2M316.5 471.3L319.6 471.3L322.8 471.3L325.9 471.3L329.0 471.3L332.2 471.3L335.3 471.3L338.4 471.3L341.6 471.3L344.7 471.3L347.8 471.3L351.0 471.3L354.1 471.3L354.1 471.3L357.2 471.3L360.3 471.2L363.4 471.2L366.5 471.1L369.6 471.0L372.7 470.9L375.7 470.8L378.8 470.7L381.9 470.6L385.0 470.4L388.1 470.3L391.2 470.2L394.3 470.1L397.4 470.0L400.5 470.0L403.6 469.9L406.7 469.9L409.8 469.9L409.8 469.9L412.8 469.9L415.8 470.0L418.9 470.3L421.9 470.6L425.0 470.9L428.0 471.3L431.1 471.7L434.1 472.1L437.2 472.5L440.2 472.8L443.3 473.1L446.3 473.4L449.4 473.5L452.4 473.5L452.4 473.5L455.5 473.5L458.6 473.5L461.7 473.5L464.8 473.5L467.8 473.5L470.9 473.5L474.0 473.5L477.1 473.5L480.2 473.4L483.3 473.4L486.4 473.4L489.5 473.4L492.6 473.4L495.6 473.4L498.7 473.4L501.8 473.4L504.9 473.4L508.0 473.4L508.0 473.4L511.1 473.3L514.1 473.3L517.2 473.3L520.3 473.3L523.3 473.3L526.4 473.2L529.5 473.2L532.5 473.2L535.6 473.1L538.6 473.1L541.7 473.1L544.8 473.1L547.8 473.1L550.9 473.1M119.8 470.3L122.9 470.3L126.0 470.3L129.1 470.3L132.1 470.3L135.2 470.3L138.3 470.4L141.4 470.4L144.5 470.4L147.6 470.4L150.6 470.4L153.7 470.5L156.8 470.5L159.9 470.5L163.0 470.5L166.1 470.5L169.1 470.5L172.2 470.5L175.3 470.5L175.3 470.5L178.4 470.5L181.4 470.6L184.5 470.7L187.5 470.9L190.6 471.0L193.6 471.2L196.7 471.4L199.8 471.7L202.8 471.8L205.9 472.0L208.9 472.2L212.0 472.3L215.0 472.4L218.1 472.4L218.1 472.4L221.2 472.4L224.3 472.3L227.4 472.2L230.5 472.0L233.5 471.8L236.6 471.6L239.7 471.3L242.8 471.0L245.9 470.7L249.0 470.4L252.1 470.2L255.2 469.9L258.3 469.7L261.3 469.5L264.4 469.3L267.5 469.2L270.6 469.1L273.7 469.1L273.7 469.1L276.8 469.1L279.8 469.3L282.9 469.6L285.9 469.9L289.0 470.3L292.0 470.7L295.1 471.2L298.2 471.7L301.2 472.1L304.3 472.6L307.3 472.9L310.4 473.1L313.4 473.3L316.5 473.4M316.5 472.8L319.6 472.7L322.8 472.7L325.9 472.7L329.0 472.6L332.2 472.5L335.3 472.4L338.4 472.4L341.6 472.3L344.7 472.2L347.8 472.2L351.0 472.1L354.1 472.1L354.1 472.1L357.2 472.1L360.3 472.2L363.4 472.2L366.5 472.3L369.6 472.4L372.7 472.5L375.7 472.7L378.8 472.8L381.9 472.9L385.0 473.1L388.1 473.2L391.2 473.3L394.3 473.5L397.4 473.6L400.5 473.6L403.6 473.7L406.7 473.7L409.8 473.8L409.8 473.8L412.8 473.7L415.8 473.6L418.9 473.5L421.9 473.3L425.0 473.0L428.0 472.8L431.1 472.5L434.1 472.2L437.2 471.9L440.2 471.7L443.3 471.5L446.3 471.4L449.4 471.3L452.4 471.2L452.4 471.2L455.5 471.2L458.6 471.2L461.7 471.2L464.8 471.2L467.8 471.2L470.9 471.1L474.0 471.1L477.1 471.1L480.2 471.1L483.3 471.0L486.4 471.0L489.5 471.0L492.6 470.9L495.6 470.9L498.7 470.9L501.8 470.9L504.9 470.9L508.0 470.9L508.0 470.9L511.1 470.9L514.1 471.1L517.2 471.3L520.3 471.6L523.3 472.0L526.4 472.4L529.5 472.8L532.5 473.3L535.6 473.7L538.6 474.0L541.7 474.3L544.8 474.6L547.8 474.7L550.9 474.8M119.8 471.8L122.9 471.8L126.0 471.9L129.1 472.1L132.1 472.3L135.2 472.5L138.3 472.8L141.4 473.2L144.5 473.5L147.6 473.9L150.6 474.3L153.7 474.7L156.8 475.0L159.9 475.3L163.0 475.6L166.1 475.8L169.1 475.9L172.2 476.0L175.3 476.1L175.3 476.1L178.4 476.0L181.4 475.8L184.5 475.5L187.5 475.1L190.6 474.6L193.6 474.1L196.7 473.5L199.8 472.9L202.8 472.4L205.9 471.9L208.9 471.5L212.0 471.2L215.0 471.0L218.1 471.0L218.1 471.0L221.2 471.0L224.3 471.0L227.4 471.0L230.5 471.0L233.5 471.0L236.6 471.0L239.7 471.0L242.8 471.1L245.9 471.1L249.0 471.1L252.1 471.1L255.2 471.2L258.3 471.2L261.3 471.2L264.4 471.2L267.5 471.2L270.6 471.2L273.7 471.2L273.7 471.2L276.8 471.2L279.8 471.3L282.9 471.3L285.9 471.3L289.0 471.4L292.0 471.5L295.1 471.6L298.2 471.6L301.2 471.7L304.3 471.8L307.3 471.8L310.4 471.8L313.4 471.9L316.5 471.9M316.5 474.7L319.6 474.7L322.8 474.7L325.9 474.7L329.0 474.7L332.2 474.6L335.3 474.6L338.4 474.6L341.6 474.6L344.7 474.5L347.8 474.5L351.0 474.5L354.1 474.5L354.1 474.5L357.2 474.5L360.3 474.5L363.4 474.5L366.5 474.5L369.6 474.5L372.7 474.5L375.7 474.5L378.8 474.5L381.9 474.5L385.0 474.5L388.1 474.6L391.2 474.6L394.3 474.6L397.4 474.6L400.5 474.6L403.6 474.6L406.7 474.6L409.8 474.6L409.8 474.6L412.8 474.6L415.8 474.6L418.9 474.7L421.9 474.8L425.0 475.0L428.0 475.1L431.1 475.2L434.1 475.4L437.2 475.5L440.2 475.6L443.3 475.8L446.3 475.8L449.4 475.9L452.4 475.9L452.4 475.9L455.5 475.9L458.6 475.9L461.7 475.9L464.8 475.9L467.8 475.9L470.9 475.8L474.0 475.8L477.1 475.8L480.2 475.8L483.3 475.8L486.4 475.8L489.5 475.7L492.6 475.7L495.6 475.7L498.7 475.7L501.8 475.7L504.9 475.7L508.0 475.7L508.0 475.7L511.1 475.7L514.1 475.8L517.2 476.0L520.3 476.3L523.3 476.6L526.4 476.9L529.5 477.3L532.5 477.6L535.6 478.0L538.6 478.3L541.7 478.5L544.8 478.7L547.8 478.8L550.9 478.8M119.8 476.6L122.9 476.6L126.0 476.6L129.1 476.5L132.1 476.4L135.2 476.3L138.3 476.2L141.4 476.0L144.5 475.9L147.6 475.7L150.6 475.5L153.7 475.4L156.8 475.2L159.9 475.1L163.0 475.0L166.1 474.9L169.1 474.8L172.2 474.8L175.3 474.7L175.3 474.7L178.4 474.7L181.4 474.7L184.5 474.6L187.5 474.6L190.6 474.5L193.6 474.3L196.7 474.2L199.8 474.1L202.8 474.0L205.9 473.9L208.9 473.8L212.0 473.8L215.0 473.7L218.1 473.7L218.1 473.7L221.2 473.7L224.3 473.7L227.4 473.7L230.5 473.6L233.5 473.6L236.6 473.6L239.7 473.5L242.8 473.4L245.9 473.4L249.0 473.3L252.1 473.3L255.2 473.2L258.3 473.2L261.3 473.1L264.4 473.1L267.5 473.1L270.6 473.1L273.7 473.1L273.7 473.1L276.8 473.1L279.8 473.1L282.9 473.1L285.9 473.1L289.0 473.1L292.0 473.2L295.1 473.2L298.2 473.3L301.2 473.3L304.3 473.3L307.3 473.4L310.4 473.4L313.4 473.4L316.5 473.4M316.5 475.7L319.6 475.7L322.8 475.8L325.9 475.9L329.0 476.1L332.2 476.3L335.3 476.6L338.4 476.8L341.6 477.0L344.7 477.2L347.8 477.4L351.0 477.5L354.1 477.5L354.1 477.5L357.2 477.5L360.3 477.4L363.4 477.3L366.5 477.1L369.6 476.9L372.7 476.6L375.7 476.3L378.8 476.0L381.9 475.7L385.0 475.4L388.1 475.1L391.2 474.9L394.3 474.6L397.4 474.4L400.5 474.2L403.6 474.1L406.7 474.0L409.8 474.0L409.8 474.0L412.8 474.0L415.8 474.1L418.9 474.2L421.9 474.3L425.0 474.5L428.0 474.6L431.1 474.8L434.1 475.0L437.2 475.2L440.2 475.4L443.3 475.5L446.3 475.6L449.4 475.6L452.4 475.7L452.4 475.7L455.5 475.7L458.6 475.6L461.7 475.6L464.8 475.6L467.8 475.6L470.9 475.5L474.0 475.5L477.1 475.4L480.2 475.4L483.3 475.3L486.4 475.2L489.5 475.2L492.6 475.2L495.6 475.1L498.7 475.1L501.8 475.1L504.9 475.0L508.0 475.0L508.0 475.0L511.1 475.1L514.1 475.3L517.2 475.5L520.3 475.8L523.3 476.2L526.4 476.7L529.5 477.1L532.5 477.6L535.6 478.1L538.6 478.5L541.7 478.8L544.8 479.0L547.8 479.2L550.9 479.3M119.8 477.5L122.9 477.5L126.0 477.5L129.1 477.6L132.1 477.6L135.2 477.7L138.3 477.7L141.4 477.8L144.5 477.9L147.6 478.0L150.6 478.1L153.7 478.1L156.8 478.2L159.9 478.3L163.0 478.3L166.1 478.4L169.1 478.4L172.2 478.4L175.3 478.4L175.3 478.4L178.4 478.4L181.4 478.3L184.5 478.2L187.5 478.1L190.6 477.9L193.6 477.8L196.7 477.6L199.8 477.4L202.8 477.2L205.9 477.0L208.9 476.9L212.0 476.8L215.0 476.7L218.1 476.7L218.1 476.7L221.2 476.7L224.3 476.7L227.4 476.6L230.5 476.6L233.5 476.5L236.6 476.4L239.7 476.4L242.8 476.3L245.9 476.2L249.0 476.1L252.1 476.0L255.2 476.0L258.3 475.9L261.3 475.8L264.4 475.8L267.5 475.8L270.6 475.7L273.7 475.7L273.7 475.7L276.8 475.8L279.8 475.9L282.9 476.1L285.9 476.3L289.0 476.6L292.0 476.9L295.1 477.3L298.2 477.6L301.2 477.9L304.3 478.2L307.3 478.5L310.4 478.7L313.4 478.8L316.5 478.8M316.5 479.4L319.6 479.4L322.8 479.2L325.9 479.0L329.0 478.6L332.2 478.2L335.3 477.8L338.4 477.4L341.6 477.0L344.7 476.7L347.8 476.4L351.0 476.2L354.1 476.2L354.1 476.2L357.2 476.2L360.3 476.3L363.4 476.4L366.5 476.5L369.6 476.7L372.7 476.9L375.7 477.2L378.8 477.4L381.9 477.7L385.0 477.9L388.1 478.2L391.2 478.4L394.3 478.7L397.4 478.8L400.5 479.0L403.6 479.1L406.7 479.2L409.8 479.2L409.8 479.2L412.8 479.2L415.8 479.2L418.9 479.2L421.9 479.2L425.0 479.3L428.0 479.3L431.1 479.3L434.1 479.3L437.2 479.4L440.2 479.4L443.3 479.4L446.3 479.4L449.4 479.4L452.4 479.4L452.4 479.4L455.5 479.4L458.6 479.3L461.7 479.2L464.8 479.0L467.8 478.7L470.9 478.5L474.0 478.2L477.1 477.8L480.2 477.5L483.3 477.2L486.4 476.8L489.5 476.5L492.6 476.3L495.6 476.0L498.7 475.8L501.8 475.7L504.9 475.6L508.0 475.6L508.0 475.6L511.1 475.6L514.1 475.8L517.2 476.0L520.3 476.4L523.3 476.7L526.4 477.2L529.5 477.7L532.5 478.1L535.6 478.6L538.6 478.9L541.7 479.3L544.8 479.5L547.8 479.7L550.9 479.7M119.8 479.7L122.9 479.7L126.0 479.8L129.1 479.8L132.1 479.9L135.2 480.0L138.3 480.2L141.4 480.3L144.5 480.5L147.6 480.6L150.6 480.8L153.7 480.9L156.8 481.1L159.9 481.2L163.0 481.3L166.1 481.4L169.1 481.5L172.2 481.5L175.3 481.5L175.3 481.5L178.4 481.5L181.4 481.3L184.5 481.0L187.5 480.6L190.6 480.1L193.6 479.6L196.7 479.0L199.8 478.4L202.8 477.9L205.9 477.4L208.9 477.0L212.0 476.7L215.0 476.5L218.1 476.5L218.1 476.5L221.2 476.5L224.3 476.5L227.4 476.6L230.5 476.7L233.5 476.8L236.6 476.9L239.7 477.0L242.8 477.2L245.9 477.3L249.0 477.5L252.1 477.6L255.2 477.8L258.3 477.9L261.3 478.0L264.4 478.1L267.5 478.1L270.6 478.2L273.7 478.2L273.7 478.2L276.8 478.2L279.8 478.3L282.9 478.5L285.9 478.7L289.0 479.0L292.0 479.3L295.1 479.6L298.2 479.9L301.2 480.1L304.3 480.4L307.3 480.6L310.4 480.8L313.4 480.9L316.5 480.9M316.5 480.6L319.6 480.6L322.8 480.7L325.9 480.8L329.0 480.9L332.2 481.1L335.3 481.3L338.4 481.5L341.6 481.6L344.7 481.8L347.8 481.9L351.0 482.0L354.1 482.0L354.1 482.0L357.2 482.0L360.3 481.9L363.4 481.8L366.5 481.6L369.6 481.4L372.7 481.1L375.7 480.8L378.8 480.5L381.9 480.2L385.0 479.9L388.1 479.7L391.2 479.4L394.3 479.1L397.4 478.9L400.5 478.7L403.6 478.6L406.7 478.5L409.8 478.5L409.8 478.5L412.8 478.5L415.8 478.6L418.9 478.7L421.9 478.9L425.0 479.1L428.0 479.3L431.1 479.6L434.1 479.8L437.2 480.1L440.2 480.3L443.3 480.4L446.3 480.6L449.4 480.6L452.4 480.7L452.4 480.7L455.5 480.6L458.6 480.6L461.7 480.5L464.8 480.3L467.8 480.1L470.9 479.9L474.0 479.6L477.1 479.4L480.2 479.1L483.3 478.8L486.4 478.5L489.5 478.3L492.6 478.1L495.6 477.9L498.7 477.7L501.8 477.6L504.9 477.5L508.0 477.5L508.0 477.5L511.1 477.5L514.1 477.7L517.2 478.0L520.3 478.5L523.3 478.9L526.4 479.5L529.5 480.1L532.5 480.6L535.6 481.2L538.6 481.7L541.7 482.1L544.8 482.4L547.8 482.6L550.9 482.7M119.8 482.3L122.9 482.3L126.0 482.3L129.1 482.3L132.1 482.2L135.2 482.2L138.3 482.2L141.4 482.2L144.5 482.1L147.6 482.1L150.6 482.1L153.7 482.0L156.8 482.0L159.9 482.0L163.0 482.0L166.1 481.9L169.1 481.9L172.2 481.9L175.3 481.9L175.3 481.9L178.4 481.9L181.4 481.8L184.5 481.7L187.5 481.5L190.6 481.3L193.6 481.1L196.7 480.8L199.8 480.6L202.8 480.3L205.9 480.1L208.9 479.9L212.0 479.8L215.0 479.7L218.1 479.7L218.1 479.7L221.2 479.7L224.3 479.7L227.4 479.6L230.5 479.5L233.5 479.4L236.6 479.3L239.7 479.2L242.8 479.0L245.9 478.9L249.0 478.8L252.1 478.6L255.2 478.5L258.3 478.4L261.3 478.3L264.4 478.2L267.5 478.2L270.6 478.1L273.7 478.1L273.7 478.1L276.8 478.2L279.8 478.3L282.9 478.6L285.9 479.0L289.0 479.4L292.0 479.9L295.1 480.4L298.2 480.9L301.2 481.4L304.3 481.8L307.3 482.2L310.4 482.4L313.4 482.6L316.5 482.7M316.5 483.1L319.6 483.1L322.8 483.2L325.9 483.2L329.0 483.3L332.2 483.4L335.3 483.5L338.4 483.6L341.6 483.6L344.7 483.7L347.8 483.8L351.0 483.8L354.1 483.8L354.1 483.8L357.2 483.8L360.3 483.7L363.4 483.6L366.5 483.4L369.6 483.2L372.7 483.0L375.7 482.7L378.8 482.4L381.9 482.1L385.0 481.8L388.1 481.5L391.2 481.3L394.3 481.0L397.4 480.8L400.5 480.6L403.6 480.5L406.7 480.4L409.8 480.4L409.8 480.4L412.8 480.4L415.8 480.5L418.9 480.7L421.9 480.9L425.0 481.1L428.0 481.4L431.1 481.7L434.1 481.9L437.2 482.2L440.2 482.4L443.3 482.6L446.3 482.8L449.4 482.9L452.4 482.9L452.4 482.9L455.5 482.9L458.6 482.8L461.7 482.7L464.8 482.5L467.8 482.3L470.9 482.1L474.0 481.8L477.1 481.5L480.2 481.2L483.3 481.0L486.4 480.7L489.5 480.4L492.6 480.2L495.6 480.0L498.7 479.8L501.8 479.7L504.9 479.6L508.0 479.6L508.0 479.6L511.1 479.7L514.1 479.9L517.2 480.2L520.3 480.6L523.3 481.2L526.4 481.8L529.5 482.4L532.5 483.0L535.6 483.6L538.6 484.1L541.7 484.6L544.8 484.9L547.8 485.1L550.9 485.2M119.8 484.1L122.9 484.1L126.0 484.1L129.1 484.0L132.1 483.9L135.2 483.8L138.3 483.6L141.4 483.5L144.5 483.3L147.6 483.1L150.6 483.0L153.7 482.8L156.8 482.7L159.9 482.5L163.0 482.4L166.1 482.3L169.1 482.2L172.2 482.2L175.3 482.2L175.3 482.2L178.4 482.1L181.4 482.0L184.5 481.7L187.5 481.4L190.6 481.1L193.6 480.6L196.7 480.2L199.8 479.8L202.8 479.4L205.9 479.0L208.9 478.7L212.0 478.4L215.0 478.3L218.1 478.2L218.1 478.2L221.2 478.3L224.3 478.3L227.4 478.4L230.5 478.5L233.5 478.7L236.6 478.9L239.7 479.1L242.8 479.3L245.9 479.5L249.0 479.7L252.1 480.0L255.2 480.2L258.3 480.4L261.3 480.5L264.4 480.6L267.5 480.7L270.6 480.8L273.7 480.8L273.7 480.8L276.8 480.8L279.8 480.9L282.9 481.0L285.9 481.2L289.0 481.3L292.0 481.5L295.1 481.7L298.2 481.9L301.2 482.1L304.3 482.3L307.3 482.4L310.4 482.6L313.4 482.6L316.5 482.6M316.5 483.7L319.6 483.7L322.8 483.7L325.9 483.7L329.0 483.6L332.2 483.5L335.3 483.4L338.4 483.4L341.6 483.3L344.7 483.2L347.8 483.2L351.0 483.2L354.1 483.1L354.1 483.1L357.2 483.1L360.3 483.0L363.4 482.9L366.5 482.7L369.6 482.5L372.7 482.2L375.7 482.0L378.8 481.6L381.9 481.3L385.0 481.0L388.1 480.7L391.2 480.4L394.3 480.2L397.4 479.9L400.5 479.8L403.6 479.6L406.7 479.5L409.8 479.5L409.8 479.5L412.8 479.6L415.8 479.8L418.9 480.1L421.9 480.5L425.0 481.0L428.0 481.5L431.1 482.0L434.1 482.6L437.2 483.1L440.2 483.6L443.3 484.0L446.3 484.3L449.4 484.5L452.4 484.6L452.4 484.6L455.5 484.5L458.6 484.4L461.7 484.3L464.8 484.0L467.8 483.7L470.9 483.4L474.0 483.0L477.1 482.6L480.2 482.2L483.3 481.8L486.4 481.4L489.5 481.1L492.6 480.7L495.6 480.4L498.7 480.2L501.8 480.0L504.9 479.9L508.0 479.9L508.0 479.9L511.1 480.0L514.1 480.2L517.2 480.6L520.3 481.1L523.3 481.7L526.4 482.4L529.5 483.1L532.5 483.8L535.6 484.5L538.6 485.1L541.7 485.6L544.8 486.0L547.8 486.2L550.9 486.3M119.8 482.5L122.9 482.5L126.0 482.5L129.1 482.6L132.1 482.6L135.2 482.7L138.3 482.8L141.4 482.9L144.5 483.0L147.6 483.1L150.6 483.2L153.7 483.3L156.8 483.4L159.9 483.5L163.0 483.6L166.1 483.7L169.1 483.7L172.2 483.8L175.3 483.8L175.3 483.8L178.4 483.8L181.4 483.7L184.5 483.7L187.5 483.7L190.6 483.6L193.6 483.5L196.7 483.5L199.8 483.4L202.8 483.4L205.9 483.3L208.9 483.3L212.0 483.2L215.0 483.2L218.1 483.2L218.1 483.2L221.2 483.2L224.3 483.1L227.4 483.1L230.5 482.9L233.5 482.8L236.6 482.6L239.7 482.5L242.8 482.3L245.9 482.1L249.0 481.9L252.1 481.7L255.2 481.5L258.3 481.4L261.3 481.2L264.4 481.1L267.5 481.0L270.6 481.0L273.7 481.0L273.7 481.0L276.8 481.0L279.8 481.0L282.9 481.1L285.9 481.2L289.0 481.4L292.0 481.5L295.1 481.7L298.2 481.8L301.2 482.0L304.3 482.1L307.3 482.2L310.4 482.3L313.4 482.3L316.5 482.4M316.5 484.2L319.6 484.2L322.8 484.3L325.9 484.4L329.0 484.6L332.2 484.8L335.3 485.1L338.4 485.3L341.6 485.5L344.7 485.7L347.8 485.8L351.0 485.9L354.1 485.9L354.1 485.9L357.2 485.9L360.3 485.9L363.4 485.9L366.5 485.8L369.6 485.8L372.7 485.7L375.7 485.6L378.8 485.5L381.9 485.5L385.0 485.4L388.1 485.3L391.2 485.2L394.3 485.1L397.4 485.1L400.5 485.0L403.6 485.0L406.7 485.0L409.8 485.0L409.8 485.0L412.8 485.0L415.8 485.0L418.9 485.0L421.9 485.1L425.0 485.1L428.0 485.2L431.1 485.3L434.1 485.3L437.2 485.4L440.2 485.4L443.3 485.5L446.3 485.5L449.4 485.6L452.4 485.6L452.4 485.6L455.5 485.6L458.6 485.6L461.7 485.6L464.8 485.6L467.8 485.6L470.9 485.6L474.0 485.6L477.1 485.6L480.2 485.6L483.3 485.6L486.4 485.6L489.5 485.6L492.6 485.6L495.6 485.6L498.7 485.6L501.8 485.6L504.9 485.6L508.0 485.7L508.0 485.7L511.1 485.7L514.1 485.7L517.2 485.7L520.3 485.8L523.3 485.9L526.4 486.0L529.5 486.0L532.5 486.1L535.6 486.2L538.6 486.3L541.7 486.3L544.8 486.4L547.8 486.4L550.9 486.4M119.8 487.8L122.9 487.8L126.0 487.7L129.1 487.6L132.1 487.4L135.2 487.2L138.3 486.9L141.4 486.6L144.5 486.3L147.6 486.0L150.6 485.7L153.7 485.4L156.8 485.1L159.9 484.9L163.0 484.6L166.1 484.5L169.1 484.3L172.2 484.3L175.3 484.2L175.3 484.2L178.4 484.2L181.4 484.1L184.5 484.0L187.5 483.8L190.6 483.6L193.6 483.4L196.7 483.1L199.8 482.9L202.8 482.7L205.9 482.5L208.9 482.3L212.0 482.2L215.0 482.1L218.1 482.1L218.1 482.1L221.2 482.1L224.3 482.1L227.4 482.2L230.5 482.3L233.5 482.5L236.6 482.6L239.7 482.8L242.8 483.0L245.9 483.2L249.0 483.4L252.1 483.6L255.2 483.8L258.3 484.0L261.3 484.1L264.4 484.3L267.5 484.4L270.6 484.4L273.7 484.4L273.7 484.4L276.8 484.4L279.8 484.4L282.9 484.5L285.9 484.5L289.0 484.5L292.0 484.5L295.1 484.5L298.2 484.6L301.2 484.6L304.3 484.6L307.3 484.6L310.4 484.7L313.4 484.7L316.5 484.7M316.5 486.8L319.6 486.8L322.8 486.8L325.9 486.9L329.0 486.9L332.2 487.0L335.3 487.0L338.4 487.1L341.6 487.1L344.7 487.1L347.8 487.2L351.0 487.2L354.1 487.2L354.1 487.2L357.2 487.2L360.3 487.1L363.4 487.0L366.5 486.9L369.6 486.8L372.7 486.6L375.7 486.5L378.8 486.3L381.9 486.1L385.0 485.9L388.1 485.7L391.2 485.5L394.3 485.4L397.4 485.2L400.5 485.1L403.6 485.0L406.7 485.0L409.8 485.0L409.8 485.0L412.8 485.0L415.8 485.1L418.9 485.3L421.9 485.5L425.0 485.8L428.0 486.1L431.1 486.4L434.1 486.7L437.2 487.0L440.2 487.3L443.3 487.5L446.3 487.7L449.4 487.8L452.4 487.9L452.4 487.9L455.5 487.8L458.6 487.8L461.7 487.7L464.8 487.6L467.8 487.4L470.9 487.2L474.0 487.0L477.1 486.8L480.2 486.6L483.3 486.4L486.4 486.2L489.5 486.0L492.6 485.8L495.6 485.6L498.7 485.5L501.8 485.4L504.9 485.3L508.0 485.3L508.0 485.3L511.1 485.3L514.1 485.4L517.2 485.5L520.3 485.7L523.3 485.8L526.4 486.0L529.5 486.2L532.5 486.4L535.6 486.6L538.6 486.8L541.7 487.0L544.8 487.1L547.8 487.1L550.9 487.2M119.8 486.7L122.9 486.8L126.0 486.8L129.1 486.9L132.1 487.1L135.2 487.2L138.3 487.4L141.4 487.6L144.5 487.9L147.6 488.1L150.6 488.4L153.7 488.6L156.8 488.8L159.9 489.0L163.0 489.2L166.1 489.3L169.1 489.4L172.2 489.5L175.3 489.5L175.3 489.5L178.4 489.5L181.4 489.4L184.5 489.2L187.5 489.0L190.6 488.8L193.6 488.5L196.7 488.2L199.8 487.9L202.8 487.6L205.9 487.4L208.9 487.2L212.0 487.0L215.0 486.9L218.1 486.9L218.1 486.9L221.2 486.9L224.3 486.8L227.4 486.7L230.5 486.6L233.5 486.4L236.6 486.3L239.7 486.1L242.8 485.9L245.9 485.7L249.0 485.5L252.1 485.3L255.2 485.1L258.3 484.9L261.3 484.8L264.4 484.6L267.5 484.6L270.6 484.5L273.7 484.5L273.7 484.5L276.8 484.5L279.8 484.7L282.9 485.0L285.9 485.3L289.0 485.8L292.0 486.2L295.1 486.7L298.2 487.2L301.2 487.7L304.3 488.1L307.3 488.5L310.4 488.8L313.4 488.9L316.5 489.0M316.5 489.6L319.6 489.6L322.8 489.5L325.9 489.4L329.0 489.3L332.2 489.1L335.3 488.9L338.4 488.8L341.6 488.6L344.7 488.5L347.8 488.4L351.0 488.3L354.1 488.3L354.1 488.3L357.2 488.3L360.3 488.2L363.4 488.2L366.5 488.1L369.6 488.0L372.7 487.9L375.7 487.8L378.8 487.6L381.9 487.5L385.0 487.4L388.1 487.2L391.2 487.1L394.3 487.0L397.4 486.9L400.5 486.8L403.6 486.8L406.7 486.7L409.8 486.7L409.8 486.7L412.8 486.7L415.8 486.7L418.9 486.7L421.9 486.7L425.0 486.6L428.0 486.6L431.1 486.5L434.1 486.5L437.2 486.4L440.2 486.4L443.3 486.4L446.3 486.3L449.4 486.3L452.4 486.3L452.4 486.3L455.5 486.3L458.6 486.3L461.7 486.3L464.8 486.4L467.8 486.4L470.9 486.4L474.0 486.4L477.1 486.5L480.2 486.5L483.3 486.6L486.4 486.6L489.5 486.6L492.6 486.6L495.6 486.7L498.7 486.7L501.8 486.7L504.9 486.7L508.0 486.7L508.0 486.7L511.1 486.8L514.1 486.9L517.2 487.0L520.3 487.3L523.3 487.6L526.4 487.9L529.5 488.2L532.5 488.5L535.6 488.8L538.6 489.1L541.7 489.4L544.8 489.5L547.8 489.6L550.9 489.7M119.8 489.4L122.9 489.4L126.0 489.4L129.1 489.3L132.1 489.2L135.2 489.0L138.3 488.9L141.4 488.7L144.5 488.5L147.6 488.3L150.6 488.1L153.7 487.9L156.8 487.8L159.9 487.6L163.0 487.5L166.1 487.4L169.1 487.3L172.2 487.2L175.3 487.2L175.3 487.2L178.4 487.2L181.4 487.3L184.5 487.4L187.5 487.5L190.6 487.7L193.6 487.8L196.7 488.0L199.8 488.2L202.8 488.3L205.9 488.5L208.9 488.6L212.0 488.7L215.0 488.7L218.1 488.8L218.1 488.8L221.2 488.8L224.3 488.7L227.4 488.7L230.5 488.6L233.5 488.5L236.6 488.5L239.7 488.4L242.8 488.3L245.9 488.1L249.0 488.0L252.1 487.9L255.2 487.8L258.3 487.8L261.3 487.7L264.4 487.6L267.5 487.6L270.6 487.5L273.7 487.5L273.7 487.5L276.8 487.6L279.8 487.6L282.9 487.6L285.9 487.7L289.0 487.8L292.0 487.9L295.1 488.0L298.2 488.1L301.2 488.2L304.3 488.3L307.3 488.3L310.4 488.4L313.4 488.4L316.5 488.4M316.5 490.4L319.6 490.4L322.8 490.4L325.9 490.4L329.0 490.3L332.2 490.3L335.3 490.3L338.4 490.2L341.6 490.2L344.7 490.2L347.8 490.1L351.0 490.1L354.1 490.1L354.1 490.1L357.2 490.1L360.3 490.0L363.4 490.0L366.5 489.8L369.6 489.7L372.7 489.5L375.7 489.4L378.8 489.2L381.9 489.0L385.0 488.8L388.1 488.6L391.2 488.4L394.3 488.3L397.4 488.1L400.5 488.0L403.6 487.9L406.7 487.9L409.8 487.9L409.8 487.9L412.8 487.9L415.8 488.0L418.9 488.1L421.9 488.3L425.0 488.5L428.0 488.8L431.1 489.0L434.1 489.3L437.2 489.5L440.2 489.8L443.3 489.9L446.3 490.1L449.4 490.2L452.4 490.2L452.4 490.2L455.5 490.2L458.6 490.1L461.7 489.9L464.8 489.7L467.8 489.4L470.9 489.1L474.0 488.8L477.1 488.5L480.2 488.1L483.3 487.7L486.4 487.4L489.5 487.0L492.6 486.7L495.6 486.5L498.7 486.3L501.8 486.1L504.9 486.0L508.0 486.0L508.0 486.0L511.1 486.0L514.1 486.2L517.2 486.6L520.3 487.0L523.3 487.5L526.4 488.1L529.5 488.7L532.5 489.3L535.6 489.9L538.6 490.4L541.7 490.8L544.8 491.2L547.8 491.4L550.9 491.4M119.8 490.1L122.9 490.1L126.0 490.2L129.1 490.3L132.1 490.5L135.2 490.7L138.3 490.9L141.4 491.2L144.5 491.4L147.6 491.7L150.6 492.0L153.7 492.3L156.8 492.5L159.9 492.7L163.0 492.9L166.1 493.1L169.1 493.2L172.2 493.3L175.3 493.3L175.3 493.3L178.4 493.3L181.4 493.1L184.5 493.0L187.5 492.7L190.6 492.4L193.6 492.1L196.7 491.7L199.8 491.3L202.8 491.0L205.9 490.7L208.9 490.4L212.0 490.2L215.0 490.1L218.1 490.1L218.1 490.1L221.2 490.1L224.3 490.0L227.4 489.9L230.5 489.8L233.5 489.7L236.6 489.5L239.7 489.4L242.8 489.2L245.9 489.0L249.0 488.8L252.1 488.6L255.2 488.5L258.3 488.3L261.3 488.2L264.4 488.1L267.5 488.0L270.6 487.9L273.7 487.9L273.7 487.9L276.8 488.0L279.8 488.0L282.9 488.2L285.9 488.4L289.0 488.6L292.0 488.9L295.1 489.2L298.2 489.4L301.2 489.7L304.3 489.9L307.3 490.1L310.4 490.3L313.4 490.4L316.5 490.4M316.5 488.8L319.6 488.8L322.8 488.9L325.9 489.1L329.0 489.4L332.2 489.7L335.3 490.0L338.4 490.3L341.6 490.5L344.7 490.8L347.8 491.0L351.0 491.1L354.1 491.1L354.1 491.1L357.2 491.1L360.3 491.1L363.4 491.1L366.5 491.1L369.6 491.1L372.7 491.1L375.7 491.1L378.8 491.0L381.9 491.0L385.0 491.0L388.1 491.0L391.2 491.0L394.3 491.0L397.4 491.0L400.5 490.9L403.6 490.9L406.7 490.9L409.8 490.9L409.8 490.9L412.8 490.9L415.8 491.0L418.9 491.1L421.9 491.3L425.0 491.4L428.0 491.6L431.1 491.8L434.1 492.0L437.2 492.2L440.2 492.4L443.3 492.5L446.3 492.7L449.4 492.7L452.4 492.7L452.4 492.7L455.5 492.7L458.6 492.6L461.7 492.5L464.8 492.4L467.8 492.2L470.9 491.9L474.0 491.7L477.1 491.4L480.2 491.1L483.3 490.8L486.4 490.5L489.5 490.3L492.6 490.0L495.6 489.8L498.7 489.7L501.8 489.5L504.9 489.5L508.0 489.4L508.0 489.4L511.1 489.5L514.1 489.6L517.2 489.7L520.3 489.9L523.3 490.2L526.4 490.4L529.5 490.7L532.5 491.0L535.6 491.2L538.6 491.5L541.7 491.7L544.8 491.8L547.8 491.9L550.9 492.0M119.8 490.7L122.9 490.7L126.0 490.7L129.1 490.8L132.1 491.0L135.2 491.1L138.3 491.3L141.4 491.5L144.5 491.7L147.6 492.0L150.6 492.2L153.7 492.4L156.8 492.6L159.9 492.8L163.0 493.0L166.1 493.1L169.1 493.2L172.2 493.3L175.3 493.3L175.3 493.3L178.4 493.3L181.4 493.2L184.5 493.1L187.5 493.0L190.6 492.8L193.6 492.6L196.7 492.5L199.8 492.3L202.8 492.1L205.9 491.9L208.9 491.8L212.0 491.7L215.0 491.7L218.1 491.6L218.1 491.6L221.2 491.6L224.3 491.6L227.4 491.4L230.5 491.3L233.5 491.1L236.6 490.9L239.7 490.7L242.8 490.5L245.9 490.2L249.0 490.0L252.1 489.7L255.2 489.5L258.3 489.3L261.3 489.2L264.4 489.0L267.5 488.9L270.6 488.8L273.7 488.8L273.7 488.8L276.8 488.9L279.8 489.1L282.9 489.3L285.9 489.7L289.0 490.1L292.0 490.6L295.1 491.1L298.2 491.7L301.2 492.2L304.3 492.6L307.3 493.0L310.4 493.2L313.4 493.4L316.5 493.5M316.5 489.9L319.6 489.9L322.8 490.0L325.9 490.1L329.0 490.3L332.2 490.5L335.3 490.7L338.4 491.0L341.6 491.2L344.7 491.3L347.8 491.5L351.0 491.6L354.1 491.6L354.1 491.6L357.2 491.6L360.3 491.5L363.4 491.5L366.5 491.4L369.6 491.2L372.7 491.1L375.7 490.9L378.8 490.8L381.9 490.6L385.0 490.4L388.1 490.3L391.2 490.1L394.3 490.0L397.4 489.8L400.5 489.7L403.6 489.7L406.7 489.6L409.8 489.6L409.8 489.6L412.8 489.7L415.8 489.8L418.9 490.0L421.9 490.3L425.0 490.6L428.0 491.0L431.1 491.4L434.1 491.8L437.2 492.2L440.2 492.6L443.3 492.8L446.3 493.1L449.4 493.2L452.4 493.2L452.4 493.2L455.5 493.2L458.6 493.1L461.7 493.0L464.8 492.9L467.8 492.7L470.9 492.5L474.0 492.2L477.1 492.0L480.2 491.7L483.3 491.5L486.4 491.2L489.5 491.0L492.6 490.7L495.6 490.5L498.7 490.4L501.8 490.3L504.9 490.2L508.0 490.2L508.0 490.2L511.1 490.2L514.1 490.4L517.2 490.6L520.3 490.9L523.3 491.2L526.4 491.6L529.5 492.0L532.5 492.3L535.6 492.7L538.6 493.1L541.7 493.3L544.8 493.5L547.8 493.7L550.9 493.7M119.8 494.3L122.9 494.3L126.0 494.3L129.1 494.2L132.1 494.1L135.2 494.0L138.3 493.8L141.4 493.7L144.5 493.5L147.6 493.4L150.6 493.2L153.7 493.1L156.8 492.9L159.9 492.8L163.0 492.7L166.1 492.6L169.1 492.5L172.2 492.5L175.3 492.4L175.3 492.4L178.4 492.4L181.4 492.4L184.5 492.4L187.5 492.4L190.6 492.4L193.6 492.4L196.7 492.3L199.8 492.3L202.8 492.3L205.9 492.3L208.9 492.3L212.0 492.2L215.0 492.2L218.1 492.2L218.1 492.2L221.2 492.2L224.3 492.2L227.4 492.1L230.5 492.0L233.5 491.9L236.6 491.8L239.7 491.6L242.8 491.5L245.9 491.3L249.0 491.1L252.1 491.0L255.2 490.8L258.3 490.7L261.3 490.6L264.4 490.5L267.5 490.4L270.6 490.4L273.7 490.3L273.7 490.3L276.8 490.4L279.8 490.5L282.9 490.7L285.9 491.0L289.0 491.3L292.0 491.7L295.1 492.1L298.2 492.4L301.2 492.8L304.3 493.1L307.3 493.4L310.4 493.6L313.4 493.7L316.5 493.8M316.5 492.6L319.6 492.6L322.8 492.6L325.9 492.7L329.0 492.7L332.2 492.8L335.3 492.9L338.4 493.0L341.6 493.1L344.7 493.1L347.8 493.2L351.0 493.2L354.1 493.2L354.1 493.2L357.2 493.2L360.3 493.2L363.4 493.2L366.5 493.2L369.6 493.1L372.7 493.1L375.7 493.0L378.8 493.0L381.9 492.9L385.0 492.8L388.1 492.8L391.2 492.7L394.3 492.7L397.4 492.6L400.5 492.6L403.6 492.6L406.7 492.6L409.8 492.6L409.8 492.6L412.8 492.6L415.8 492.6L418.9 492.7L421.9 492.7L425.0 492.8L428.0 492.9L431.1 493.1L434.1 493.2L437.2 493.3L440.2 493.4L443.3 493.4L446.3 493.5L449.4 493.5L452.4 493.6L452.4 493.6L455.5 493.5L458.6 493.5L461.7 493.4L464.8 493.4L467.8 493.3L470.9 493.2L474.0 493.0L477.1 492.9L480.2 492.7L483.3 492.6L486.4 492.5L489.5 492.3L492.6 492.2L495.6 492.1L498.7 492.0L501.8 492.0L504.9 491.9L508.0 491.9L508.0 491.9L511.1 492.0L514.1 492.1L517.2 492.3L520.3 492.6L523.3 493.0L526.4 493.3L529.5 493.7L532.5 494.2L535.6 494.5L538.6 494.9L541.7 495.2L544.8 495.4L547.8 495.5L550.9 495.6M119.8 495.5L122.9 495.5L126.0 495.4L129.1 495.4L132.1 495.3L135.2 495.3L138.3 495.2L141.4 495.1L144.5 495.0L147.6 494.9L150.6 494.8L153.7 494.7L156.8 494.6L159.9 494.5L163.0 494.4L166.1 494.4L169.1 494.3L172.2 494.3L175.3 494.3L175.3 494.3L178.4 494.3L181.4 494.2L184.5 494.0L187.5 493.7L190.6 493.4L193.6 493.1L196.7 492.8L199.8 492.4L202.8 492.1L205.9 491.8L208.9 491.6L212.0 491.4L215.0 491.3L218.1 491.2L218.1 491.2L221.2 491.3L224.3 491.3L227.4 491.4L230.5 491.6L233.5 491.8L236.6 492.0L239.7 492.3L242.8 492.5L245.9 492.8L249.0 493.1L252.1 493.3L255.2 493.6L258.3 493.8L261.3 494.0L264.4 494.1L267.5 494.2L270.6 494.3L273.7 494.3L273.7 494.3L276.8 494.4L279.8 494.4L282.9 494.5L285.9 494.7L289.0 494.8L292.0 495.0L295.1 495.2L298.2 495.3L301.2 495.5L304.3 495.7L307.3 495.8L310.4 495.9L313.4 496.0L316.5 496.0M316.5 495.5L319.6 495.5L322.8 495.7L325.9 495.9L329.0 496.1L332.2 496.4L335.3 496.7L338.4 497.1L341.6 497.4L344.7 497.6L347.8 497.8L351.0 497.9L354.1 498.0L354.1 498.0L357.2 498.0L360.3 497.9L363.4 497.7L366.5 497.6L369.6 497.3L372.7 497.1L375.7 496.8L378.8 496.5L381.9 496.2L385.0 495.9L388.1 495.6L391.2 495.3L394.3 495.1L397.4 494.9L400.5 494.7L403.6 494.5L406.7 494.5L409.8 494.4L409.8 494.4L412.8 494.5L415.8 494.6L418.9 494.7L421.9 494.9L425.0 495.2L428.0 495.5L431.1 495.8L434.1 496.1L437.2 496.3L440.2 496.6L443.3 496.8L446.3 497.0L449.4 497.1L452.4 497.1L452.4 497.1L455.5 497.1L458.6 497.0L461.7 496.8L464.8 496.6L467.8 496.3L470.9 496.0L474.0 495.7L477.1 495.3L480.2 494.9L483.3 494.5L486.4 494.2L489.5 493.8L492.6 493.5L495.6 493.2L498.7 493.0L501.8 492.9L504.9 492.8L508.0 492.7L508.0 492.7L511.1 492.8L514.1 493.0L517.2 493.4L520.3 493.9L523.3 494.4L526.4 495.0L529.5 495.7L532.5 496.4L535.6 497.0L538.6 497.6L541.7 498.0L544.8 498.4L547.8 498.6L550.9 498.7M119.8 498.4L122.9 498.4L126.0 498.4L129.1 498.5L132.1 498.5L135.2 498.6L138.3 498.7L141.4 498.8L144.5 498.8L147.6 498.9L150.6 499.0L153.7 499.1L156.8 499.2L159.9 499.3L163.0 499.3L166.1 499.4L169.1 499.4L172.2 499.5L175.3 499.5L175.3 499.5L178.4 499.4L181.4 499.2L184.5 498.8L187.5 498.3L190.6 497.7L193.6 497.1L196.7 496.4L199.8 495.7L202.8 495.0L205.9 494.5L208.9 494.0L212.0 493.6L215.0 493.4L218.1 493.3L218.1 493.3L221.2 493.3L224.3 493.3L227.4 493.4L230.5 493.4L233.5 493.5L236.6 493.6L239.7 493.6L242.8 493.7L245.9 493.8L249.0 493.9L252.1 494.0L255.2 494.1L258.3 494.2L261.3 494.2L264.4 494.3L267.5 494.3L270.6 494.4L273.7 494.4L273.7 494.4L276.8 494.4L279.8 494.6L282.9 494.9L285.9 495.2L289.0 495.7L292.0 496.1L295.1 496.7L298.2 497.2L301.2 497.6L304.3 498.1L307.3 498.4L310.4 498.7L313.4 498.9L316.5 498.9M316.5 495.6L319.6 495.7L322.8 495.9L325.9 496.3L329.0 496.8L332.2 497.3L335.3 497.9L338.4 498.5L341.6 499.1L344.7 499.6L347.8 500.0L351.0 500.2L354.1 500.3L354.1 500.3L357.2 500.3L360.3 500.2L363.4 500.1L366.5 499.9L369.6 499.7L372.7 499.5L375.7 499.3L378.8 499.0L381.9 498.8L385.0 498.5L388.1 498.2L391.2 498.0L394.3 497.8L397.4 497.6L400.5 497.5L403.6 497.3L406.7 497.3L409.8 497.3L409.8 497.3L412.8 497.2L415.8 497.1L418.9 497.0L421.9 496.8L425.0 496.6L428.0 496.4L431.1 496.2L434.1 495.9L437.2 495.7L440.2 495.5L443.3 495.4L446.3 495.2L449.4 495.1L452.4 495.1L452.4 495.1L455.5 495.1L458.6 495.1L461.7 495.1L464.8 495.0L467.8 495.0L470.9 494.9L474.0 494.8L477.1 494.8L480.2 494.7L483.3 494.6L486.4 494.5L489.5 494.5L492.6 494.4L495.6 494.3L498.7 494.3L501.8 494.3L504.9 494.2L508.0 494.2L508.0 494.2L511.1 494.3L514.1 494.5L517.2 494.9L520.3 495.4L523.3 495.9L526.4 496.5L529.5 497.2L532.5 497.9L535.6 498.5L538.6 499.1L541.7 499.5L544.8 499.9L547.8 500.1L550.9 500.2M119.8 497.3L122.9 497.3L126.0 497.3L129.1 497.3L132.1 497.3L135.2 497.3L138.3 497.3L141.4 497.3L144.5 497.3L147.6 497.3L150.6 497.3L153.7 497.2L156.8 497.2L159.9 497.2L163.0 497.2L166.1 497.2L169.1 497.2L172.2 497.2L175.3 497.2L175.3 497.2L178.4 497.2L181.4 497.2L184.5 497.2L187.5 497.2L190.6 497.2L193.6 497.2L196.7 497.2L199.8 497.3L202.8 497.3L205.9 497.3L208.9 497.3L212.0 497.3L215.0 497.3L218.1 497.3L218.1 497.3L221.2 497.3L224.3 497.3L227.4 497.2L230.5 497.2L233.5 497.1L236.6 497.1L239.7 497.0L242.8 496.9L245.9 496.9L249.0 496.8L252.1 496.7L255.2 496.6L258.3 496.6L261.3 496.5L264.4 496.5L267.5 496.4L270.6 496.4L273.7 496.4L273.7 496.4L276.8 496.5L279.8 496.6L282.9 496.8L285.9 497.1L289.0 497.4L292.0 497.8L295.1 498.1L298.2 498.5L301.2 498.9L304.3 499.2L307.3 499.5L310.4 499.7L313.4 499.8L316.5 499.9M316.5 496.7L319.6 496.8L322.8 496.9L325.9 497.1L329.0 497.3L332.2 497.6L335.3 497.9L338.4 498.2L341.6 498.5L344.7 498.7L347.8 498.9L351.0 499.0L354.1 499.0L354.1 499.0L357.2 499.0L360.3 499.0L363.4 498.9L366.5 498.9L369.6 498.8L372.7 498.7L375.7 498.6L378.8 498.5L381.9 498.4L385.0 498.3L388.1 498.2L391.2 498.1L394.3 498.0L397.4 497.9L400.5 497.8L403.6 497.8L406.7 497.8L409.8 497.8L409.8 497.8L412.8 497.7L415.8 497.7L418.9 497.6L421.9 497.4L425.0 497.3L428.0 497.1L431.1 496.9L434.1 496.7L437.2 496.5L440.2 496.4L443.3 496.2L446.3 496.1L449.4 496.1L452.4 496.1L452.4 496.1L455.5 496.1L458.6 496.0L461.7 496.0L464.8 496.0L467.8 496.0L470.9 495.9L474.0 495.9L477.1 495.8L480.2 495.8L483.3 495.7L486.4 495.7L489.5 495.7L492.6 495.6L495.6 495.6L498.7 495.6L501.8 495.5L504.9 495.5L508.0 495.5L508.0 495.5L511.1 495.6L514.1 495.8L517.2 496.2L520.3 496.6L523.3 497.2L526.4 497.9L529.5 498.5L532.5 499.2L535.6 499.8L538.6 500.4L541.7 500.9L544.8 501.2L547.8 501.5L550.9 501.5M119.8 502.0L122.9 502.0L126.0 502.1L129.1 502.1L132.1 502.1L135.2 502.2L138.3 502.3L141.4 502.3L144.5 502.4L147.6 502.5L150.6 502.6L153.7 502.7L156.8 502.7L159.9 502.8L163.0 502.9L166.1 502.9L169.1 502.9L172.2 503.0L175.3 503.0L175.3 503.0L178.4 502.9L181.4 502.6L184.5 502.1L187.5 501.5L190.6 500.8L193.6 500.0L196.7 499.2L199.8 498.3L202.8 497.5L205.9 496.8L208.9 496.2L212.0 495.7L215.0 495.5L218.1 495.4L218.1 495.4L221.2 495.4L224.3 495.4L227.4 495.6L230.5 495.7L233.5 495.9L236.6 496.1L239.7 496.3L242.8 496.6L245.9 496.9L249.0 497.1L252.1 497.4L255.2 497.6L258.3 497.8L261.3 498.0L264.4 498.2L267.5 498.3L270.6 498.3L273.7 498.4L273.7 498.4L276.8 498.4L279.8 498.5L282.9 498.7L285.9 498.9L289.0 499.2L292.0 499.5L295.1 499.8L298.2 500.2L301.2 500.5L304.3 500.7L307.3 501.0L310.4 501.1L313.4 501.3L316.5 501.3M316.5 500.1L319.6 500.1L322.8 500.2L325.9 500.4L329.0 500.6L332.2 500.8L335.3 501.0L338.4 501.3L341.6 501.5L344.7 501.7L347.8 501.8L351.0 501.9L354.1 502.0L354.1 502.0L357.2 501.9L360.3 501.8L363.4 501.6L366.5 501.4L369.6 501.1L372.7 500.7L375.7 500.3L378.8 499.9L381.9 499.4L385.0 499.0L388.1 498.5L391.2 498.1L394.3 497.8L397.4 497.4L400.5 497.2L403.6 497.0L406.7 496.9L409.8 496.8L409.8 496.8L412.8 496.9L415.8 496.9L418.9 497.0L421.9 497.0L425.0 497.1L428.0 497.2L431.1 497.3L434.1 497.4L437.2 497.5L440.2 497.6L443.3 497.7L446.3 497.8L449.4 497.8L452.4 497.8L452.4 497.8L455.5 497.8L458.6 497.8L461.7 497.7L464.8 497.7L467.8 497.6L470.9 497.5L474.0 497.4L477.1 497.3L480.2 497.2L483.3 497.1L486.4 496.9L489.5 496.8L492.6 496.8L495.6 496.7L498.7 496.6L501.8 496.6L504.9 496.5L508.0 496.5L508.0 496.5L511.1 496.6L514.1 496.7L517.2 496.9L520.3 497.2L523.3 497.5L526.4 497.9L529.5 498.2L532.5 498.6L535.6 499.0L538.6 499.3L541.7 499.6L544.8 499.8L547.8 499.9L550.9 500.0M119.8 501.9L122.9 501.9L126.0 501.9L129.1 501.9L132.1 501.9L135.2 502.0L138.3 502.0L141.4 502.0L144.5 502.1L147.6 502.1L150.6 502.2L153.7 502.2L156.8 502.2L159.9 502.3L163.0 502.3L166.1 502.3L169.1 502.4L172.2 502.4L175.3 502.4L175.3 502.4L178.4 502.3L181.4 502.2L184.5 502.0L187.5 501.7L190.6 501.4L193.6 501.1L196.7 500.7L199.8 500.3L202.8 500.0L205.9 499.7L208.9 499.4L212.0 499.2L215.0 499.1L218.1 499.0L218.1 499.0L221.2 499.0L224.3 499.0L227.4 499.0L230.5 498.9L233.5 498.9L236.6 498.8L239.7 498.7L242.8 498.7L245.9 498.6L249.0 498.5L252.1 498.4L255.2 498.4L258.3 498.3L261.3 498.3L264.4 498.2L267.5 498.2L270.6 498.2L273.7 498.2L273.7 498.2L276.8 498.2L279.8 498.3L282.9 498.4L285.9 498.5L289.0 498.7L292.0 498.9L295.1 499.1L298.2 499.3L301.2 499.6L304.3 499.7L307.3 499.9L310.4 500.0L313.4 500.1L316.5 500.1M316.5 500.2L319.6 500.3L322.8 500.5L325.9 500.8L329.0 501.2L332.2 501.7L335.3 502.3L338.4 502.8L341.6 503.3L344.7 503.7L347.8 504.0L351.0 504.2L354.1 504.3L354.1 504.3L357.2 504.3L360.3 504.2L363.4 504.2L366.5 504.1L369.6 503.9L372.7 503.8L375.7 503.6L378.8 503.4L381.9 503.2L385.0 503.0L388.1 502.9L391.2 502.7L394.3 502.5L397.4 502.4L400.5 502.3L403.6 502.2L406.7 502.2L409.8 502.2L409.8 502.2L412.8 502.2L415.8 502.2L418.9 502.3L421.9 502.4L425.0 502.5L428.0 502.6L431.1 502.8L434.1 502.8L437.2 502.4L440.2 502.1L443.3 501.9L446.3 501.8L449.4 501.8L452.4 501.8L452.4 501.8L455.5 502.0L458.6 502.2L461.7 502.5L464.8 502.8L467.8 502.4L470.9 502.0L474.0 501.6L477.1 501.1L480.2 500.7L483.3 500.2L486.4 499.7L489.5 499.3L492.6 498.9L495.6 498.6L498.7 498.3L501.8 498.1L504.9 498.0L508.0 497.9L508.0 497.9L511.1 498.0L514.1 498.1L517.2 498.3L520.3 498.6L523.3 499.0L526.4 499.4L529.5 499.8L532.5 500.2L535.6 500.6L538.6 500.9L541.7 501.2L544.8 501.4L547.8 501.6L550.9 501.6M119.8 505.3L122.9 505.3L126.0 505.3L129.1 505.2L132.1 505.2L135.2 505.0L138.3 504.9L141.4 504.8L144.5 504.7L147.6 504.5L150.6 504.4L153.7 504.2L156.8 504.1L159.9 504.0L163.0 503.9L166.1 503.8L169.1 503.7L172.2 503.7L175.3 503.7L175.3 503.7L178.4 503.7L181.4 503.6L184.5 503.4L187.5 503.3L190.6 503.1L193.6 502.8L196.7 502.6L199.8 502.3L202.8 502.1L205.9 501.9L208.9 501.7L212.0 501.6L215.0 501.5L218.1 501.5L218.1 501.5L221.2 501.5L224.3 501.4L227.4 501.4L230.5 501.4L233.5 501.3L236.6 501.2L239.7 501.2L242.8 501.1L245.9 501.0L249.0 500.9L252.1 500.9L255.2 500.8L258.3 500.7L261.3 500.7L264.4 500.6L267.5 500.6L270.6 500.6L273.7 500.5L273.7 500.5L276.8 500.6L279.8 500.7L282.9 500.8L285.9 501.0L289.0 501.2L292.0 501.5L295.1 501.8L298.2 502.1L301.2 502.3L304.3 502.6L307.3 502.8L310.4 502.9L313.4 503.0L316.5 503.0M316.5 503.3L319.6 503.3L322.8 503.3L325.9 503.4L329.0 503.4L332.2 503.5L335.3 503.6L338.4 503.7L341.6 503.8L344.7 503.8L347.8 503.9L351.0 503.9L354.1 503.9L354.1 503.9L357.2 503.9L360.3 503.8L363.4 503.8L366.5 503.7L369.6 503.5L372.7 503.4L375.7 503.2L378.8 503.0L381.9 502.8L385.0 502.6L388.1 502.5L391.2 502.3L394.3 502.1L397.4 502.0L400.5 501.9L403.6 501.8L406.7 501.8L409.8 501.8L409.8 501.8L412.8 501.7L415.8 501.7L418.9 501.6L421.9 501.5L425.0 501.4L428.0 501.3L431.1 501.1L434.1 501.0L437.2 500.9L440.2 500.7L443.3 500.6L446.3 500.6L449.4 500.5L452.4 500.5L452.4 500.5L455.5 500.5L458.6 500.6L461.7 500.6L464.8 500.7L467.8 500.8L470.9 501.0L474.0 501.1L477.1 501.2L480.2 501.4L483.3 501.5L486.4 501.7L489.5 501.8L492.6 502.0L495.6 502.1L498.7 502.2L501.8 502.2L504.9 502.3L508.0 502.3L508.0 502.3L511.1 502.3L514.1 502.5L517.2 502.8L520.3 503.2L523.3 503.6L526.4 504.1L529.5 504.6L532.5 505.1L535.6 505.6L538.6 506.0L541.7 506.4L544.8 506.7L547.8 506.9L550.9 506.9M119.8 503.2L122.9 503.2L126.0 503.3L129.1 503.3L132.1 503.4L135.2 503.6L138.3 503.7L141.4 503.9L144.5 504.0L147.6 504.2L150.6 504.4L153.7 504.6L156.8 504.7L159.9 504.9L163.0 505.0L166.1 505.1L169.1 505.2L172.2 505.2L175.3 505.2L175.3 505.2L178.4 505.2L181.4 505.1L184.5 505.0L187.5 504.8L190.6 504.5L193.6 504.3L196.7 504.0L199.8 503.8L202.8 503.5L205.9 503.3L208.9 503.1L212.0 503.0L215.0 502.9L218.1 502.8L218.1 502.8L221.2 502.8L224.3 502.8L227.4 502.8L230.5 502.8L233.5 502.8L236.6 502.7L239.7 502.7L242.8 502.7L245.9 502.6L249.0 502.6L252.1 502.6L255.2 502.5L258.3 502.5L261.3 502.5L264.4 502.5L267.5 502.5L270.6 502.4L273.7 502.4L273.7 502.4L276.8 502.5L279.8 502.5L282.9 502.5L285.9 502.6L289.0 502.7L292.0 502.8L295.1 502.9L298.2 502.9L301.2 503.0L304.3 503.1L307.3 503.2L310.4 503.2L313.4 503.3L316.5 503.3M316.5 503.2L319.6 503.2L322.8 503.3L325.9 503.6L329.0 503.8L332.2 504.2L335.3 504.5L338.4 504.9L341.6 505.2L344.7 505.5L347.8 505.7L351.0 505.8L354.1 505.9L354.1 505.9L357.2 505.8L360.3 505.7L363.4 505.5L366.5 505.2L369.6 504.9L372.7 504.5L375.7 504.1L378.8 503.6L381.9 503.1L385.0 502.7L388.1 502.2L391.2 501.8L394.3 501.4L397.4 501.0L400.5 500.8L403.6 500.6L406.7 500.4L409.8 500.4L409.8 500.4L412.8 500.5L415.8 500.7L418.9 501.0L421.9 501.5L425.0 502.0L428.0 502.7L431.1 503.3L434.1 502.8L437.2 502.4L440.2 502.1L443.3 501.9L446.3 501.8L449.4 501.8L452.4 501.8L452.4 501.8L455.5 502.0L458.6 502.2L461.7 502.5L464.8 503.0L467.8 503.5L470.9 504.0L474.0 504.7L477.1 505.3L480.2 505.2L483.3 505.0L486.4 504.9L489.5 504.7L492.6 504.6L495.6 504.4L498.7 504.3L501.8 504.3L504.9 504.2L508.0 504.2L508.0 504.2L511.1 504.3L514.1 504.4L517.2 504.6L520.3 504.9L523.3 505.2L526.4 505.6L529.5 506.0L532.5 506.4L535.6 506.8L538.6 507.1L541.7 507.4L544.8 507.6L547.8 507.7L550.9 507.8M119.8 508.0L122.9 508.0L126.0 508.0L129.1 508.0L132.1 508.0L135.2 507.9L138.3 507.9L141.4 507.9L144.5 507.9L147.6 507.8L150.6 507.8L153.7 507.7L156.8 507.7L159.9 507.7L163.0 507.7L166.1 507.6L169.1 507.6L172.2 507.6L175.3 507.6L175.3 507.6L178.4 507.6L181.4 507.4L184.5 507.1L187.5 506.7L190.6 506.2L193.6 505.7L196.7 505.2L199.8 504.6L202.8 504.1L205.9 503.6L208.9 503.3L212.0 503.0L215.0 502.8L218.1 502.7L218.1 502.7L221.2 502.7L224.3 502.8L227.4 502.9L230.5 503.0L233.5 503.1L236.6 503.3L239.7 503.4L242.8 503.6L245.9 503.8L249.0 504.0L252.1 504.2L255.2 504.3L258.3 504.5L261.3 504.6L264.4 504.7L267.5 504.8L270.6 504.9L273.7 504.9L273.7 504.9L276.8 504.9L279.8 505.0L282.9 505.0L285.9 505.2L289.0 505.3L292.0 505.4L295.1 505.6L298.2 505.8L301.2 505.9L304.3 506.0L307.3 506.1L310.4 506.2L313.4 506.3L316.5 506.3M316.5 508.6L319.6 508.6L322.8 508.6L325.9 508.7L329.0 508.7L332.2 508.7L335.3 508.7L338.4 508.8L341.6 508.8L344.7 508.8L347.8 508.8L351.0 508.8L354.1 508.9L354.1 508.9L357.2 508.8L360.3 508.7L363.4 508.5L366.5 508.2L369.6 507.8L372.7 507.4L375.7 506.9L378.8 506.4L381.9 505.9L385.0 505.4L388.1 504.9L391.2 504.5L394.3 504.1L397.4 503.7L400.5 503.4L403.6 503.2L406.7 503.1L409.8 503.0L409.8 503.0L412.8 503.1L415.8 503.3L418.9 503.5L421.9 503.9L425.0 504.4L428.0 503.9L431.1 503.3L434.1 502.8L437.2 502.4L440.2 502.1L443.3 501.9L446.3 501.8L449.4 501.8L452.4 501.8L452.4 501.8L455.5 502.0L458.6 502.2L461.7 502.5L464.8 503.0L467.8 503.5L470.9 504.0L474.0 504.7L477.1 505.3L480.2 506.1L483.3 506.4L486.4 506.2L489.5 506.0L492.6 505.8L495.6 505.7L498.7 505.5L501.8 505.5L504.9 505.4L508.0 505.4L508.0 505.4L511.1 505.4L514.1 505.6L517.2 505.8L520.3 506.2L523.3 506.6L526.4 507.0L529.5 507.5L532.5 508.0L535.6 508.4L538.6 508.8L541.7 509.2L544.8 509.4L547.8 509.6L550.9 509.6M119.8 509.3L122.9 509.3L126.0 509.3L129.1 509.3L132.1 509.2L135.2 509.1L138.3 509.0L141.4 508.9L144.5 508.8L147.6 508.7L150.6 508.6L153.7 508.5L156.8 508.4L159.9 508.3L163.0 508.2L166.1 508.2L169.1 508.1L172.2 508.1L175.3 508.1L175.3 508.1L178.4 508.1L181.4 508.0L184.5 507.9L187.5 507.8L190.6 507.7L193.6 507.5L196.7 507.3L199.8 507.2L202.8 507.0L205.9 506.9L208.9 506.7L212.0 506.6L215.0 506.6L218.1 506.6L218.1 506.6L221.2 506.6L224.3 506.6L227.4 506.6L230.5 506.7L233.5 506.8L236.6 506.9L239.7 507.0L242.8 507.1L245.9 507.2L249.0 507.3L252.1 507.4L255.2 507.4L258.3 507.5L261.3 507.6L264.4 507.7L267.5 507.7L270.6 507.7L273.7 507.7L273.7 507.7L276.8 507.7L279.8 507.8L282.9 507.8L285.9 507.9L289.0 508.0L292.0 508.1L295.1 508.2L298.2 508.4L301.2 508.5L304.3 508.6L307.3 508.6L310.4 508.7L313.4 508.7L316.5 508.8M316.5 509.1L319.6 509.2L322.8 509.2L325.9 509.3L329.0 509.4L332.2 509.5L335.3 509.7L338.4 509.8L341.6 510.0L344.7 510.1L347.8 510.2L351.0 510.2L354.1 510.2L354.1 510.2L357.2 510.2L360.3 510.1L363.4 509.9L366.5 509.6L369.6 509.3L372.7 509.0L375.7 508.6L378.8 508.1L381.9 507.7L385.0 507.3L388.1 506.8L391.2 506.4L394.3 506.1L397.4 505.8L400.5 505.5L403.6 505.3L406.7 505.2L409.8 505.2L409.8 505.2L412.8 505.2L415.8 505.3L418.9 505.5L421.9 505.1L425.0 504.5L428.0 503.9L431.1 503.3L434.1 502.8L437.2 502.4L440.2 502.1L443.3 501.9M446.3 514.2L449.4 514.2L452.4 514.2L452.4 514.2L455.5 514.0L458.6 513.8L461.7 513.5M464.8 503.0L467.8 503.5L470.9 504.0L474.0 504.7L477.1 505.3L480.2 506.0L483.3 505.5L486.4 505.1L489.5 504.8L492.6 504.4L495.6 504.1L498.7 503.9L501.8 503.7L504.9 503.6L508.0 503.6L508.0 503.6L511.1 503.6L514.1 503.9L517.2 504.2L520.3 504.6L523.3 505.1L526.4 505.7L529.5 506.3L532.5 506.9L535.6 507.5L538.6 508.0L541.7 508.5L544.8 508.8L547.8 509.0L550.9 509.1M119.8 509.2L122.9 509.2L126.0 509.2L129.1 509.1L132.1 509.0L135.2 509.0L138.3 508.8L141.4 508.7L144.5 508.6L147.6 508.5L150.6 508.4L153.7 508.2L156.8 508.1L159.9 508.0L163.0 507.9L166.1 507.9L169.1 507.8L172.2 507.8L175.3 507.8L175.3 507.8L178.4 507.7L181.4 507.6L184.5 507.5L187.5 507.3L190.6 507.1L193.6 506.9L196.7 506.6L199.8 506.3L202.8 506.1L205.9 505.9L208.9 505.7L212.0 505.6L215.0 505.5L218.1 505.4L218.1 505.4L221.2 505.5L224.3 505.5L227.4 505.6L230.5 505.8L233.5 505.9L236.6 506.1L239.7 506.3L242.8 506.5L245.9 506.8L249.0 507.0L252.1 507.2L255.2 507.4L258.3 507.6L261.3 507.8L264.4 507.9L267.5 508.0L270.6 508.1L273.7 508.1L273.7 508.1L276.8 508.1L279.8 508.2L282.9 508.3L285.9 508.4L289.0 508.6L292.0 508.8L295.1 509.0L298.2 509.2L301.2 509.4L304.3 509.6L307.3 509.8L310.4 509.9L313.4 509.9L316.5 510.0M316.5 508.1L319.6 508.2L322.8 508.4L325.9 508.8L329.0 509.2L332.2 509.8L335.3 510.4L338.4 511.0L341.6 511.5L344.7 512.0L347.8 512.3L351.0 512.6L354.1 512.6L354.1 512.6L357.2 512.6L360.3 512.5L363.4 512.3L366.5 512.1L369.6 511.8L372.7 511.4L375.7 511.1L378.8 510.7L381.9 510.3L385.0 509.8L388.1 509.4L391.2 509.1L394.3 508.7L397.4 508.4L400.5 508.2L403.6 508.0L406.7 507.9L409.8 507.9L409.8 507.9L412.8 507.3L415.8 506.5L418.9 505.8L421.9 505.1L425.0 504.5L428.0 503.9L431.1 503.3L434.1 502.8L437.2 502.4L440.2 502.1L443.3 501.9L446.3 501.8L449.4 501.8L452.4 501.8L452.4 501.8L455.5 502.0L458.6 502.2L461.7 502.5L464.8 503.0L467.8 503.5L470.9 504.0L474.0 504.7L477.1 505.3L480.2 506.1L483.3 506.8L486.4 507.6L489.5 507.9L492.6 507.9L495.6 507.9L498.7 507.8L501.8 507.8L504.9 507.8L508.0 507.8L508.0 507.8L511.1 507.9L514.1 508.0L517.2 508.3L520.3 508.6L523.3 508.9L526.4 509.3L529.5 509.8L532.5 510.2L535.6 510.6L538.6 511.0L541.7 511.3L544.8 511.5L547.8 511.6L550.9 511.7M119.8 511.1L122.9 511.1L126.0 511.1L129.1 511.1L132.1 511.1L135.2 511.1L138.3 511.1L141.4 511.1L144.5 511.1L147.6 511.1L150.6 511.1L153.7 511.1L156.8 511.1L159.9 511.1L163.0 511.1L166.1 511.1L169.1 511.1L172.2 511.1L175.3 511.1L175.3 511.1L178.4 511.1L181.4 511.1L184.5 511.0L187.5 510.9L190.6 510.8L193.6 510.7L196.7 510.6L199.8 510.4L202.8 510.3L205.9 510.2L208.9 510.1L212.0 510.1L215.0 510.0L218.1 510.0L218.1 510.0L221.2 510.0L224.3 510.0L227.4 510.0L230.5 510.0L233.5 509.9L236.6 509.9L239.7 509.9L242.8 509.8L245.9 509.8L249.0 509.8L252.1 509.7L255.2 509.7L258.3 509.7L261.3 509.6L264.4 509.6L267.5 509.6L270.6 509.6L273.7 509.6L273.7 509.6L276.8 509.6L279.8 509.7L282.9 509.8L285.9 510.0L289.0 510.2L292.0 510.5L295.1 510.7L298.2 511.0L301.2 511.2L304.3 511.4L307.3 511.6L310.4 511.7L313.4 511.8L316.5 511.9M316.5 512.2L319.6 512.2L322.8 512.3L325.9 512.5L329.0 512.7L332.2 513.0L335.3 513.3L338.4 513.6L341.6 513.8L344.7 514.0L347.8 514.2L351.0 514.3L354.1 514.4L354.1 514.4L357.2 514.3L360.3 514.1L363.4 513.8L366.5 513.4L369.6 512.9L372.7 512.3L375.7 511.7L378.8 511.0L381.9 510.3L385.0 509.6L388.1 508.9L391.2 508.3L394.3 507.7L397.4 507.2L400.5 506.8L403.6 506.5L406.7 506.3L409.8 506.2L409.8 506.2L412.8 506.3L415.8 506.4L418.9 505.8L421.9 505.1L425.0 504.5L428.0 503.9M431.1 512.7L434.1 513.2L437.2 513.6L440.2 513.9L443.3 514.1L446.3 514.2L449.4 514.2L452.4 514.2L452.4 514.2L455.5 514.0L458.6 513.8L461.7 513.5L464.8 513.0L467.8 512.5L470.9 512.0L474.0 511.3L477.1 510.7L480.2 510.2L483.3 510.1L486.4 510.0L489.5 509.9L492.6 509.8L495.6 509.8L498.7 509.7L501.8 509.7L504.9 509.7L508.0 509.6L508.0 509.6L511.1 509.7L514.1 509.7L517.2 509.9L520.3 510.0L523.3 510.2L526.4 510.4L529.5 510.7L532.5 510.9L535.6 511.1L538.6 511.3L541.7 511.5L544.8 511.6L547.8 511.7L550.9 511.7M119.8 511.9L122.9 511.9L126.0 511.9L129.1 511.9L132.1 511.8L135.2 511.8L138.3 511.7L141.4 511.6L144.5 511.6L147.6 511.5L150.6 511.4L153.7 511.3L156.8 511.3L159.9 511.2L163.0 511.1L166.1 511.1L169.1 511.1L172.2 511.0L175.3 511.0L175.3 511.0L178.4 511.0L181.4 510.9L184.5 510.7L187.5 510.4L190.6 510.1L193.6 509.7L196.7 509.3L199.8 508.9L202.8 508.6L205.9 508.3L208.9 508.0L212.0 507.8L215.0 507.7L218.1 507.6L218.1 507.6L221.2 507.6L224.3 507.7L227.4 507.8L230.5 507.9L233.5 508.0L236.6 508.2L239.7 508.3L242.8 508.5L245.9 508.7L249.0 508.9L252.1 509.1L255.2 509.3L258.3 509.4L261.3 509.5L264.4 509.7L267.5 509.7L270.6 509.8L273.7 509.8L273.7 509.8L276.8 509.8L279.8 509.8L282.9 509.9L285.9 509.9L289.0 510.0L292.0 510.1L295.1 510.1L298.2 510.2L301.2 510.3L304.3 510.4L307.3 510.4L310.4 510.5L313.4 510.5L316.5 510.5M316.5 511.2L319.6 511.3L322.8 511.5L325.9 511.9L329.0 512.3L332.2 512.8L335.3 513.4L338.4 514.0L341.6 514.5L344.7 514.9L347.8 515.3L351.0 515.5L354.1 515.6L354.1 515.6L357.2 515.5L360.3 515.4L363.4 515.2L366.5 514.9L369.6 514.6L372.7 514.2L375.7 513.8L378.8 513.3L381.9 512.9L385.0 512.4L388.1 511.9L391.2 511.5L394.3 511.1L397.4 510.8L400.5 510.5L403.6 510.3L406.7 510.2L409.8 510.2L409.8 510.2L412.8 510.2L415.8 510.3L418.9 510.3L421.9 510.9L425.0 511.5L428.0 512.1L431.1 512.7L434.1 513.2L437.2 513.6L440.2 513.9L443.3 514.1L446.3 514.2L449.4 514.2L452.4 514.2L452.4 514.2L455.5 514.0L458.6 513.8L461.7 513.5L464.8 513.0L467.8 512.5L470.9 512.0L474.0 511.8L477.1 511.9L480.2 511.9L483.3 512.0L486.4 512.0L489.5 512.0L492.6 512.1L495.6 512.1L498.7 512.1L501.8 512.1L504.9 512.2L508.0 512.2L508.0 512.2L511.1 512.2L514.1 512.3L517.2 512.4L520.3 512.6L523.3 512.9L526.4 513.1L529.5 513.4L532.5 513.7L535.6 514.0L538.6 514.2L541.7 514.4L544.8 514.5L547.8 514.6L550.9 514.7M119.8 516.3L122.9 516.3L126.0 516.3L129.1 516.3L132.1 516.2L135.2 516.2L138.3 516.1L141.4 516.0L144.5 515.9L147.6 515.9L150.6 515.8L153.7 515.7L156.8 515.6L159.9 515.6L163.0 515.5L166.1 515.5L169.1 515.4L172.2 515.4L175.3 515.4L175.3 515.4L178.4 515.4L181.4 515.2L184.5 515.0L187.5 514.8L190.6 514.4L193.6 514.1L196.7 513.7L199.8 513.3L202.8 513.0L205.9 512.7L208.9 512.4L212.0 512.2L215.0 512.1L218.1 512.0L218.1 512.0L221.2 512.0L224.3 512.0L227.4 511.9L230.5 511.8L233.5 511.6L236.6 511.5L239.7 511.3L242.8 511.1L245.9 510.9L249.0 510.8L252.1 510.6L255.2 510.4L258.3 510.2L261.3 510.1L264.4 510.0L267.5 509.9L270.6 509.9L273.7 509.9L273.7 509.9L276.8 509.9L279.8 510.1L282.9 510.4L285.9 510.7L289.0 511.1L292.0 511.6L295.1 512.1L298.2 512.6L301.2 513.1L304.3 513.6L307.3 513.9L310.4 514.2L313.4 514.4L316.5 514.4M316.5 515.2L319.6 515.2L322.8 515.1L325.9 514.9L329.0 514.6L332.2 514.4L335.3 514.1L338.4 513.8L341.6 513.5L344.7 513.3L347.8 513.1L351.0 513.0L354.1 513.0L354.1 513.0L357.2 513.0L360.3 513.0L363.4 513.0L366.5 513.0L369.6 513.0L372.7 513.1L375.7 513.1L378.8 513.2L381.9 513.2L385.0 513.2L388.1 513.3L391.2 513.3L394.3 513.4L397.4 513.4L400.5 513.4L403.6 513.4L406.7 513.4L409.8 513.4L409.8 513.4L412.8 513.4L415.8 513.3L418.9 513.2L421.9 513.1L425.0 512.9L428.0 512.7L431.1 512.7L434.1 513.2L437.2 513.6L440.2 513.9L443.3 514.1L446.3 514.2L449.4 514.2L452.4 514.2L452.4 514.2L455.5 514.0L458.6 513.8L461.7 513.5L464.8 513.0L467.8 512.5L470.9 512.0L474.0 511.4L477.1 511.3L480.2 511.3L483.3 511.3L486.4 511.3L489.5 511.3L492.6 511.2L495.6 511.2L498.7 511.2L501.8 511.2L504.9 511.2L508.0 511.2L508.0 511.2L511.1 511.2L514.1 511.4L517.2 511.5L520.3 511.8L523.3 512.1L526.4 512.4L529.5 512.7L532.5 513.1L535.6 513.4L538.6 513.7L541.7 513.9L544.8 514.1L547.8 514.2L550.9 514.3M119.8 515.4L122.9 515.4L126.0 515.5L129.1 515.5L132.1 515.6L135.2 515.7L138.3 515.8L141.4 515.9L144.5 516.0L147.6 516.1L150.6 516.2L153.7 516.4L156.8 516.5L159.9 516.6L163.0 516.6L166.1 516.7L169.1 516.8L172.2 516.8L175.3 516.8L175.3 516.8L178.4 516.7L181.4 516.5L184.5 516.0L187.5 515.5L190.6 514.8L193.6 514.1L196.7 513.3L199.8 512.6L202.8 511.8L205.9 511.2L208.9 510.6L212.0 510.2L215.0 510.0L218.1 509.9L218.1 509.9L221.2 509.9L224.3 510.1L227.4 510.3L230.5 510.5L233.5 510.9L236.6 511.3L239.7 511.7L242.8 512.2L245.9 512.7L249.0 513.2L252.1 513.7L255.2 514.1L258.3 514.5L261.3 514.8L264.4 515.1L267.5 515.3L270.6 515.5L273.7 515.5L273.7 515.5L276.8 515.5L279.8 515.5L282.9 515.5L285.9 515.4L289.0 515.4L292.0 515.3L295.1 515.3L298.2 515.2L301.2 515.2L304.3 515.2L307.3 515.1L310.4 515.1L313.4 515.1L316.5 515.1M316.5 515.6L319.6 515.6L322.8 515.7L325.9 515.8L329.0 516.0L332.2 516.2L335.3 516.4L338.4 516.6L341.6 516.8L344.7 516.9L347.8 517.1L351.0 517.1L354.1 517.2L354.1 517.2L357.2 517.1L360.3 517.0L363.4 516.8L366.5 516.6L369.6 516.3L372.7 515.9L375.7 515.5L378.8 515.1L381.9 514.7L385.0 514.2L388.1 513.8L391.2 513.4L394.3 513.0L397.4 512.7L400.5 512.5L403.6 512.3L406.7 512.2L409.8 512.1L409.8 512.1L412.8 512.2L415.8 512.2L418.9 512.3L421.9 512.4L425.0 512.5L428.0 512.7L431.1 512.8L434.1 513.2L437.2 513.6L440.2 513.9L443.3 514.1L446.3 514.2L449.4 514.2L452.4 514.2L452.4 514.2L455.5 514.0L458.6 513.8L461.7 513.5L464.8 513.5L467.8 513.5L470.9 513.5L474.0 513.5L477.1 513.5L480.2 513.5L483.3 513.5L486.4 513.5L489.5 513.5L492.6 513.5L495.6 513.5L498.7 513.5L501.8 513.5L504.9 513.5L508.0 513.5L508.0 513.5L511.1 513.5L514.1 513.7L517.2 513.9L520.3 514.3L523.3 514.7L526.4 515.1L529.5 515.6L532.5 516.0L535.6 516.5L538.6 516.8L541.7 517.2L544.8 517.4L547.8 517.6L550.9 517.6M119.8 515.9L122.9 516.0L126.0 516.0L129.1 516.1L132.1 516.3L135.2 516.5L138.3 516.7L141.4 516.9L144.5 517.1L147.6 517.4L150.6 517.6L153.7 517.9L156.8 518.1L159.9 518.3L163.0 518.5L166.1 518.6L169.1 518.7L172.2 518.8L175.3 518.8L175.3 518.8L178.4 518.8L181.4 518.5L184.5 518.1L187.5 517.6L190.6 517.0L193.6 516.4L196.7 515.7L199.8 514.9L202.8 514.3L205.9 513.7L208.9 513.2L212.0 512.8L215.0 512.6L218.1 512.5L218.1 512.5L221.2 512.5L224.3 512.5L227.4 512.5L230.5 512.5L233.5 512.5L236.6 512.5L239.7 512.5L242.8 512.5L245.9 512.5L249.0 512.5L252.1 512.5L255.2 512.5L258.3 512.5L261.3 512.5L264.4 512.5L267.5 512.5L270.6 512.5L273.7 512.5L273.7 512.5L276.8 512.6L279.8 512.7L282.9 512.9L285.9 513.1L289.0 513.4L292.0 513.8L295.1 514.1L298.2 514.5L301.2 514.8L304.3 515.1L307.3 515.4L310.4 515.6L313.4 515.7L316.5 515.7M316.5 514.8L319.6 514.8L322.8 514.9L325.9 515.1L329.0 515.2L332.2 515.5L335.3 515.7L338.4 515.9L341.6 516.1L344.7 516.3L347.8 516.5L351.0 516.5L354.1 516.6L354.1 516.6L357.2 516.6L360.3 516.5L363.4 516.5L366.5 516.4L369.6 516.4L372.7 516.3L375.7 516.2L378.8 516.1L381.9 516.0L385.0 515.9L388.1 515.8L391.2 515.7L394.3 515.6L397.4 515.6L400.5 515.5L403.6 515.5L406.7 515.4L409.8 515.4L409.8 515.4L412.8 515.4L415.8 515.4L418.9 515.4L421.9 515.4L425.0 515.4L428.0 515.4L431.1 515.4L434.1 515.4L437.2 515.4L440.2 515.4L443.3 515.4L446.3 515.4L449.4 515.4L452.4 515.4L452.4 515.4L455.5 515.4L458.6 515.4L461.7 515.5L464.8 515.5L467.8 515.5L470.9 515.6L474.0 515.6L477.1 515.7L480.2 515.7L483.3 515.8L486.4 515.9L489.5 515.9L492.6 516.0L495.6 516.0L498.7 516.0L501.8 516.0L504.9 516.1L508.0 516.1L508.0 516.1L511.1 516.1L514.1 516.3L517.2 516.5L520.3 516.8L523.3 517.2L526.4 517.6L529.5 518.0L532.5 518.5L535.6 518.9L538.6 519.3L541.7 519.6L544.8 519.8L547.8 520.0L550.9 520.0M119.8 516.3L122.9 516.4L126.0 516.5L129.1 516.7L132.1 516.9L135.2 517.3L138.3 517.7L141.4 518.1L144.5 518.5L147.6 519.0L150.6 519.5L153.7 519.9L156.8 520.3L159.9 520.7L163.0 521.0L166.1 521.3L169.1 521.5L172.2 521.6L175.3 521.7L175.3 521.7L178.4 521.6L181.4 521.4L184.5 521.2L187.5 520.8L190.6 520.4L193.6 519.9L196.7 519.4L199.8 518.8L202.8 518.3L205.9 517.9L208.9 517.5L212.0 517.3L215.0 517.1L218.1 517.0L218.1 517.0L221.2 517.0L224.3 517.0L227.4 516.9L230.5 516.7L233.5 516.5L236.6 516.3L239.7 516.1L242.8 515.9L245.9 515.7L249.0 515.4L252.1 515.2L255.2 515.0L258.3 514.8L261.3 514.6L264.4 514.5L267.5 514.4L270.6 514.3L273.7 514.3L273.7 514.3L276.8 514.4L279.8 514.6L282.9 514.9L285.9 515.4L289.0 516.0L292.0 516.7L295.1 517.4L298.2 518.0L301.2 518.7L304.3 519.3L307.3 519.8L310.4 520.1L313.4 520.4L316.5 520.4M316.5 518.2L319.6 518.2L322.8 518.3L325.9 518.4L329.0 518.5L332.2 518.7L335.3 518.9L338.4 519.1L341.6 519.3L344.7 519.4L347.8 519.5L351.0 519.6L354.1 519.6L354.1 519.6L357.2 519.6L360.3 519.6L363.4 519.5L366.5 519.4L369.6 519.3L372.7 519.2L375.7 519.1L378.8 518.9L381.9 518.8L385.0 518.6L388.1 518.5L391.2 518.3L394.3 518.2L397.4 518.1L400.5 518.0L403.6 518.0L406.7 517.9L409.8 517.9L409.8 517.9L412.8 517.9L415.8 517.8L418.9 517.7L421.9 517.6L425.0 517.4L428.0 517.2L431.1 517.0L434.1 516.8L437.2 516.7L440.2 516.5L443.3 516.4L446.3 516.2L449.4 516.2L452.4 516.2L452.4 516.2L455.5 516.2L458.6 516.1L461.7 516.1L464.8 516.1L467.8 516.1L470.9 516.0L474.0 516.0L477.1 516.0L480.2 515.9L483.3 515.9L486.4 515.8L489.5 515.8L492.6 515.8L495.6 515.7L498.7 515.7L501.8 515.7L504.9 515.7L508.0 515.7L508.0 515.7L511.1 515.8L514.1 516.0L517.2 516.4L520.3 516.9L523.3 517.6L526.4 518.3L529.5 519.0L532.5 519.8L535.6 520.5L538.6 521.1L541.7 521.7L544.8 522.1L547.8 522.3L550.9 522.4M119.8 521.1L122.9 521.1L126.0 521.0L129.1 521.0L132.1 521.0L135.2 521.0L138.3 521.0L141.4 520.9L144.5 520.9L147.6 520.9L150.6 520.8L153.7 520.8L156.8 520.8L159.9 520.7L163.0 520.7L166.1 520.7L169.1 520.7L172.2 520.7L175.3 520.7L175.3 520.7L178.4 520.7L181.4 520.6L184.5 520.5L187.5 520.3L190.6 520.1L193.6 519.9L196.7 519.7L199.8 519.4L202.8 519.2L205.9 519.0L208.9 518.9L212.0 518.8L215.0 518.7L218.1 518.7L218.1 518.7L221.2 518.7L224.3 518.7L227.4 518.7L230.5 518.7L233.5 518.8L236.6 518.8L239.7 518.9L242.8 518.9L245.9 519.0L249.0 519.0L252.1 519.1L255.2 519.1L258.3 519.2L261.3 519.2L264.4 519.3L267.5 519.3L270.6 519.3L273.7 519.3L273.7 519.3L276.8 519.3L279.8 519.4L282.9 519.4L285.9 519.5L289.0 519.6L292.0 519.8L295.1 519.9L298.2 520.0L301.2 520.2L304.3 520.3L307.3 520.4L310.4 520.4L313.4 520.5L316.5 520.5M316.5 518.2L319.6 518.2L322.8 518.4L325.9 518.7L329.0 519.1L332.2 519.5L335.3 520.0L338.4 520.5L341.6 520.9L344.7 521.3L347.8 521.6L351.0 521.8L354.1 521.9L354.1 521.9L357.2 521.8L360.3 521.7L363.4 521.5L366.5 521.3L369.6 521.0L372.7 520.6L375.7 520.2L378.8 519.8L381.9 519.3L385.0 518.9L388.1 518.5L391.2 518.1L394.3 517.7L397.4 517.4L400.5 517.2L403.6 517.0L406.7 516.9L409.8 516.8L409.8 516.8L412.8 516.8L415.8 516.9L418.9 516.9L421.9 516.9L425.0 517.0L428.0 517.1L431.1 517.1L434.1 517.2L437.2 517.2L440.2 517.3L443.3 517.3L446.3 517.4L449.4 517.4L452.4 517.4L452.4 517.4L455.5 517.4L458.6 517.3L461.7 517.2L464.8 517.1L467.8 516.9L470.9 516.8L474.0 516.5L477.1 516.3L480.2 516.1L483.3 515.9L486.4 515.7L489.5 515.5L492.6 515.3L495.6 515.1L498.7 515.0L501.8 514.9L504.9 514.8L508.0 514.8L508.0 514.8L511.1 514.9L514.1 515.2L517.2 515.6L520.3 516.2L523.3 516.8L526.4 517.6L529.5 518.4L532.5 519.2L535.6 519.9L538.6 520.6L541.7 521.1L544.8 521.6L547.8 521.8L550.9 521.9M119.8 519.7L122.9 519.7L126.0 519.8L129.1 519.8L132.1 520.0L135.2 520.1L138.3 520.3L141.4 520.5L144.5 520.7L147.6 520.9L150.6 521.1L153.7 521.3L156.8 521.5L159.9 521.6L163.0 521.8L166.1 521.9L169.1 522.0L172.2 522.1L175.3 522.1L175.3 522.1L178.4 522.0L181.4 521.9L184.5 521.7L187.5 521.4L190.6 521.1L193.6 520.7L196.7 520.3L199.8 519.9L202.8 519.6L205.9 519.3L208.9 519.0L212.0 518.8L215.0 518.6L218.1 518.6L218.1 518.6L221.2 518.6L224.3 518.6L227.4 518.6L230.5 518.7L233.5 518.7L236.6 518.7L239.7 518.7L242.8 518.8L245.9 518.8L249.0 518.9L252.1 518.9L255.2 518.9L258.3 519.0L261.3 519.0L264.4 519.0L267.5 519.0L270.6 519.0L273.7 519.0L273.7 519.0L276.8 519.1L279.8 519.1L282.9 519.2L285.9 519.3L289.0 519.4L292.0 519.5L295.1 519.7L298.2 519.8L301.2 520.0L304.3 520.1L307.3 520.2L310.4 520.3L313.4 520.3L316.5 520.3M316.5 521.9L319.6 521.9L322.8 521.9L325.9 522.0L329.0 522.0L332.2 522.1L335.3 522.1L338.4 522.2L341.6 522.3L344.7 522.3L347.8 522.4L351.0 522.4L354.1 522.4L354.1 522.4L357.2 522.4L360.3 522.3L363.4 522.2L366.5 522.1L369.6 521.9L372.7 521.7L375.7 521.5L378.8 521.3L381.9 521.1L385.0 520.9L388.1 520.6L391.2 520.4L394.3 520.2L397.4 520.1L400.5 520.0L403.6 519.9L406.7 519.8L409.8 519.8L409.8 519.8L412.8 519.8L415.8 519.8L418.9 519.8L421.9 519.9L425.0 520.0L428.0 520.0L431.1 520.1L434.1 520.2L437.2 520.2L440.2 520.3L443.3 520.3L446.3 520.4L449.4 520.4L452.4 520.4L452.4 520.4L455.5 520.4L458.6 520.4L461.7 520.4L464.8 520.4L467.8 520.5L470.9 520.5L474.0 520.5L477.1 520.5L480.2 520.6L483.3 520.6L486.4 520.6L489.5 520.7L492.6 520.7L495.6 520.7L498.7 520.7L501.8 520.7L504.9 520.7L508.0 520.7L508.0 520.7L511.1 520.8L514.1 521.0L517.2 521.3L520.3 521.6L523.3 522.1L526.4 522.6L529.5 523.1L532.5 523.6L535.6 524.1L538.6 524.5L541.7 524.9L544.8 525.2L547.8 525.4L550.9 525.4M119.8 524.1L122.9 524.1L126.0 524.1L129.1 524.0L132.1 523.9L135.2 523.8L138.3 523.7L141.4 523.6L144.5 523.5L147.6 523.4L150.6 523.2L153.7 523.1L156.8 523.0L159.9 522.9L163.0 522.8L166.1 522.7L169.1 522.6L172.2 522.6L175.3 522.6L175.3 522.6L178.4 522.5L181.4 522.3L184.5 522.0L187.5 521.6L190.6 521.1L193.6 520.6L196.7 520.0L199.8 519.4L202.8 518.9L205.9 518.4L208.9 517.9L212.0 517.6L215.0 517.4L218.1 517.4L218.1 517.4L221.2 517.4L224.3 517.5L227.4 517.7L230.5 518.0L233.5 518.3L236.6 518.7L239.7 519.1L242.8 519.5L245.9 520.0L249.0 520.4L252.1 520.9L255.2 521.3L258.3 521.7L261.3 522.0L264.4 522.2L267.5 522.4L270.6 522.6L273.7 522.6L273.7 522.6L276.8 522.6L279.8 522.7L282.9 522.8L285.9 522.9L289.0 523.1L292.0 523.3L295.1 523.5L298.2 523.7L301.2 523.9L304.3 524.0L307.3 524.2L310.4 524.3L313.4 524.3L316.5 524.3M316.5 523.6L319.6 523.6L322.8 523.6L325.9 523.6L329.0 523.6L332.2 523.6L335.3 523.6L338.4 523.6L341.6 523.6L344.7 523.6L347.8 523.6L351.0 523.6L354.1 523.6L354.1 523.6L357.2 523.6L360.3 523.5L363.4 523.3L366.5 523.1L369.6 522.8L372.7 522.4L375.7 522.0L378.8 521.6L381.9 521.2L385.0 520.8L388.1 520.4L391.2 520.0L394.3 519.6L397.4 519.3L400.5 519.1L403.6 518.9L406.7 518.8L409.8 518.8L409.8 518.8L412.8 518.8L415.8 518.9L418.9 519.2L421.9 519.5L425.0 519.8L428.0 520.2L431.1 520.7L434.1 521.1L437.2 521.5L440.2 521.8L443.3 522.1L446.3 522.4L449.4 522.5L452.4 522.6L452.4 522.6L455.5 522.5L458.6 522.5L461.7 522.4L464.8 522.3L467.8 522.1L470.9 521.9L474.0 521.7L477.1 521.5L480.2 521.3L483.3 521.1L486.4 520.9L489.5 520.7L492.6 520.5L495.6 520.4L498.7 520.2L501.8 520.1L504.9 520.1L508.0 520.1L508.0 520.1L511.1 520.1L514.1 520.3L517.2 520.6L520.3 521.0L523.3 521.5L526.4 522.0L529.5 522.6L532.5 523.2L535.6 523.7L538.6 524.2L541.7 524.6L544.8 524.9L547.8 525.1L550.9 525.2M119.8 525.1L122.9 525.1L126.0 525.2L129.1 525.2L132.1 525.3L135.2 525.4L138.3 525.5L141.4 525.6L144.5 525.7L147.6 525.8L150.6 526.0L153.7 526.1L156.8 526.2L159.9 526.3L163.0 526.4L166.1 526.5L169.1 526.5L172.2 526.6L175.3 526.6L175.3 526.6L178.4 526.5L181.4 526.2L184.5 525.8L187.5 525.2L190.6 524.5L193.6 523.7L196.7 522.9L199.8 522.1L202.8 521.3L205.9 520.6L208.9 520.0L212.0 519.5L215.0 519.3L218.1 519.2L218.1 519.2L221.2 519.2L224.3 519.2L227.4 519.3L230.5 519.4L233.5 519.5L236.6 519.6L239.7 519.8L242.8 519.9L245.9 520.1L249.0 520.2L252.1 520.4L255.2 520.5L258.3 520.6L261.3 520.8L264.4 520.8L267.5 520.9L270.6 521.0L273.7 521.0L273.7 521.0L276.8 521.0L279.8 521.3L282.9 521.6L285.9 522.1L289.0 522.6L292.0 523.2L295.1 523.9L298.2 524.5L301.2 525.1L304.3 525.7L307.3 526.1L310.4 526.5L313.4 526.7L316.5 526.8M316.5 526.5L319.6 526.5L322.8 526.6L325.9 526.6L329.0 526.8L332.2 526.9L335.3 527.1L338.4 527.2L341.6 527.3L344.7 527.5L347.8 527.6L351.0 527.6L354.1 527.6L354.1 527.6L357.2 527.6L360.3 527.4L363.4 527.1L366.5 526.6L369.6 526.1L372.7 525.5L375.7 524.8L378.8 524.1L381.9 523.3L385.0 522.6L388.1 521.9L391.2 521.2L394.3 520.6L397.4 520.0L400.5 519.6L403.6 519.3L406.7 519.1L409.8 519.0L409.8 519.0L412.8 519.1L415.8 519.1L418.9 519.3L421.9 519.4L425.0 519.6L428.0 519.8L431.1 520.0L434.1 520.2L437.2 520.4L440.2 520.6L443.3 520.8L446.3 520.9L449.4 521.0L452.4 521.0L452.4 521.0L455.5 521.0L458.6 521.0L461.7 520.9L464.8 520.9L467.8 520.8L470.9 520.7L474.0 520.7L477.1 520.6L480.2 520.5L483.3 520.4L486.4 520.4L489.5 520.3L492.6 520.2L495.6 520.2L498.7 520.1L501.8 520.1L504.9 520.0L508.0 520.0L508.0 520.0L511.1 520.1L514.1 520.3L517.2 520.7L520.3 521.1L523.3 521.7L526.4 522.3L529.5 522.9L532.5 523.6L535.6 524.2L538.6 524.7L541.7 525.2L544.8 525.5L547.8 525.8L550.9 525.8M119.8 526.6L122.9 526.5L126.0 526.5L129.1 526.4L132.1 526.4L135.2 526.3L138.3 526.2L141.4 526.0L144.5 525.9L147.6 525.8L150.6 525.6L153.7 525.5L156.8 525.4L159.9 525.2L163.0 525.1L166.1 525.1L169.1 525.0L172.2 525.0L175.3 525.0L175.3 525.0L178.4 524.9L181.4 524.8L184.5 524.7L187.5 524.5L190.6 524.2L193.6 523.9L196.7 523.6L199.8 523.3L202.8 523.0L205.9 522.8L208.9 522.6L212.0 522.4L215.0 522.3L218.1 522.3L218.1 522.3L221.2 522.3L224.3 522.3L227.4 522.2L230.5 522.2L233.5 522.2L236.6 522.1L239.7 522.1L242.8 522.0L245.9 521.9L249.0 521.9L252.1 521.8L255.2 521.8L258.3 521.7L261.3 521.7L264.4 521.6L267.5 521.6L270.6 521.6L273.7 521.6L273.7 521.6L276.8 521.6L279.8 521.7L282.9 521.8L285.9 522.0L289.0 522.3L292.0 522.5L295.1 522.8L298.2 523.0L301.2 523.3L304.3 523.5L307.3 523.7L310.4 523.9L313.4 523.9L316.5 524.0M316.5 526.8L319.6 526.8L322.8 526.9L325.9 526.9L329.0 527.0L332.2 527.1L335.3 527.2L338.4 527.3L341.6 527.4L344.7 527.5L347.8 527.5L351.0 527.6L354.1 527.6L354.1 527.6L357.2 527.5L360.3 527.4L363.4 527.3L366.5 527.1L369.6 526.8L372.7 526.5L375.7 526.2L378.8 525.8L381.9 525.4L385.0 525.0L388.1 524.7L391.2 524.3L394.3 524.0L397.4 523.8L400.5 523.6L403.6 523.4L406.7 523.3L409.8 523.3L409.8 523.3L412.8 523.3L415.8 523.3L418.9 523.3L421.9 523.4L425.0 523.5L428.0 523.5L431.1 523.6L434.1 523.7L437.2 523.7L440.2 523.8L443.3 523.8L446.3 523.9L449.4 523.9L452.4 523.9L452.4 523.9L455.5 523.9L458.6 523.9L461.7 523.8L464.8 523.7L467.8 523.6L470.9 523.5L474.0 523.4L477.1 523.3L480.2 523.2L483.3 523.0L486.4 522.9L489.5 522.8L492.6 522.7L495.6 522.6L498.7 522.5L501.8 522.5L504.9 522.4L508.0 522.4L508.0 522.4L511.1 522.5L514.1 522.6L517.2 522.8L520.3 523.1L523.3 523.5L526.4 523.9L529.5 524.3L532.5 524.8L535.6 525.2L538.6 525.5L541.7 525.8L544.8 526.1L547.8 526.2L550.9 526.3M119.8 526.7L122.9 526.7L126.0 526.8L129.1 526.9L132.1 527.0L135.2 527.2L138.3 527.4L141.4 527.6L144.5 527.9L147.6 528.1L150.6 528.4L153.7 528.6L156.8 528.8L159.9 529.0L163.0 529.2L166.1 529.3L169.1 529.4L172.2 529.5L175.3 529.5L175.3 529.5L178.4 529.5L181.4 529.3L184.5 529.1L187.5 528.7L190.6 528.3L193.6 527.8L196.7 527.3L199.8 526.9L202.8 526.4L205.9 526.0L208.9 525.6L212.0 525.4L215.0 525.2L218.1 525.1L218.1 525.1L221.2 525.1L224.3 525.1L227.4 525.0L230.5 524.9L233.5 524.8L236.6 524.6L239.7 524.4L242.8 524.3L245.9 524.1L249.0 523.9L252.1 523.7L255.2 523.6L258.3 523.4L261.3 523.3L264.4 523.2L267.5 523.1L270.6 523.0L273.7 523.0L273.7 523.0L276.8 523.1L279.8 523.2L282.9 523.3L285.9 523.5L289.0 523.8L292.0 524.0L295.1 524.3L298.2 524.6L301.2 524.9L304.3 525.1L307.3 525.3L310.4 525.5L313.4 525.6L316.5 525.6M316.5 528.9L319.6 528.9L322.8 529.0L325.9 529.0L329.0 529.1L332.2 529.1L335.3 529.2L338.4 529.2L341.6 529.3L344.7 529.3L347.8 529.4L351.0 529.4L354.1 529.4L354.1 529.4L357.2 529.4L360.3 529.3L363.4 529.1L366.5 528.9L369.6 528.7L372.7 528.4L375.7 528.1L378.8 527.7L381.9 527.4L385.0 527.0L388.1 526.7L391.2 526.4L394.3 526.1L397.4 525.8L400.5 525.6L403.6 525.5L406.7 525.4L409.8 525.3L409.8 525.3L412.8 525.3L415.8 525.3L418.9 525.2L421.9 525.2L425.0 525.1L428.0 525.0L431.1 524.9L434.1 524.8L437.2 524.8L440.2 524.7L443.3 524.6L446.3 524.6L449.4 524.5L452.4 524.5L452.4 524.5L455.5 524.5L458.6 524.5L461.7 524.5L464.8 524.4L467.8 524.4L470.9 524.3L474.0 524.2L477.1 524.1L480.2 524.0L483.3 524.0L486.4 523.9L489.5 523.8L492.6 523.7L495.6 523.7L498.7 523.6L501.8 523.6L504.9 523.6L508.0 523.5L508.0 523.5L511.1 523.6L514.1 523.8L517.2 524.0L520.3 524.4L523.3 524.8L526.4 525.3L529.5 525.7L532.5 526.2L535.6 526.7L538.6 527.1L541.7 527.5L544.8 527.7L547.8 527.9L550.9 528.0M119.8 530.4L122.9 530.4L126.0 530.4L129.1 530.3L132.1 530.3L135.2 530.2L138.3 530.1L141.4 530.0L144.5 529.9L147.6 529.8L150.6 529.7L153.7 529.6L156.8 529.5L159.9 529.4L163.0 529.4L166.1 529.3L169.1 529.3L172.2 529.2L175.3 529.2L175.3 529.2L178.4 529.2L181.4 529.0L184.5 528.8L187.5 528.6L190.6 528.2L193.6 527.8L196.7 527.5L199.8 527.1L202.8 526.7L205.9 526.3L208.9 526.1L212.0 525.9L215.0 525.7L218.1 525.7L218.1 525.7L221.2 525.7L224.3 525.8L227.4 525.9L230.5 526.1L233.5 526.2L236.6 526.5L239.7 526.7L242.8 527.0L245.9 527.3L249.0 527.5L252.1 527.8L255.2 528.1L258.3 528.3L261.3 528.5L264.4 528.7L267.5 528.8L270.6 528.8L273.7 528.9L273.7 528.9L276.8 528.9L279.8 528.8L282.9 528.8L285.9 528.7L289.0 528.6L292.0 528.6L295.1 528.5L298.2 528.4L301.2 528.3L304.3 528.2L307.3 528.2L310.4 528.1L313.4 528.1L316.5 528.1M316.5 529.2L319.6 529.2L322.8 529.3L325.9 529.5L329.0 529.8L332.2 530.0L335.3 530.3L338.4 530.6L341.6 530.9L344.7 531.2L347.8 531.3L351.0 531.5L354.1 531.5L354.1 531.5L357.2 531.5L360.3 531.4L363.4 531.2L366.5 531.0L369.6 530.8L372.7 530.5L375.7 530.2L378.8 529.8L381.9 529.5L385.0 529.1L388.1 528.8L391.2 528.5L394.3 528.2L397.4 527.9L400.5 527.7L403.6 527.6L406.7 527.5L409.8 527.4L409.8 527.4L412.8 527.4L415.8 527.4L418.9 527.4L421.9 527.4L425.0 527.3L428.0 527.3L431.1 527.2L434.1 527.2L437.2 527.1L440.2 527.1L443.3 527.0L446.3 527.0L449.4 527.0L452.4 527.0L452.4 527.0L455.5 527.0L458.6 526.9L461.7 526.8L464.8 526.7L467.8 526.6L470.9 526.4L474.0 526.2L477.1 526.0L480.2 525.8L483.3 525.6L486.4 525.4L489.5 525.2L492.6 525.1L495.6 524.9L498.7 524.8L501.8 524.7L504.9 524.7L508.0 524.7L508.0 524.7L511.1 524.7L514.1 524.9L517.2 525.1L520.3 525.4L523.3 525.8L526.4 526.2L529.5 526.6L532.5 527.1L535.6 527.5L538.6 527.9L541.7 528.2L544.8 528.4L547.8 528.6L550.9 528.6M119.8 532.2L122.9 532.2L126.0 532.1L129.1 532.0L132.1 531.9L135.2 531.7L138.3 531.5L141.4 531.3L144.5 531.0L147.6 530.8L150.6 530.5L153.7 530.3L156.8 530.0L159.9 529.8L163.0 529.7L166.1 529.5L169.1 529.4L172.2 529.3L175.3 529.3L175.3 529.3L178.4 529.3L181.4 529.1L184.5 528.8L187.5 528.4L190.6 527.9L193.6 527.4L196.7 526.8L199.8 526.3L202.8 525.8L205.9 525.3L208.9 524.9L212.0 524.6L215.0 524.4L218.1 524.4L218.1 524.4L221.2 524.4L224.3 524.5L227.4 524.6L230.5 524.8L233.5 525.1L236.6 525.3L239.7 525.6L242.8 526.0L245.9 526.3L249.0 526.7L252.1 527.0L255.2 527.3L258.3 527.6L261.3 527.8L264.4 528.0L267.5 528.1L270.6 528.2L273.7 528.3L273.7 528.3L276.8 528.3L279.8 528.4L282.9 528.5L285.9 528.7L289.0 528.9L292.0 529.1L295.1 529.3L298.2 529.5L301.2 529.7L304.3 529.9L307.3 530.1L310.4 530.2L313.4 530.3L316.5 530.3M316.5 531.3L319.6 531.3L322.8 531.3L325.9 531.2L329.0 531.2L332.2 531.1L335.3 531.1L338.4 531.0L341.6 531.0L344.7 530.9L347.8 530.9L351.0 530.9L354.1 530.9L354.1 530.9L357.2 530.8L360.3 530.8L363.4 530.7L366.5 530.5L369.6 530.4L372.7 530.2L375.7 530.0L378.8 529.7L381.9 529.5L385.0 529.3L388.1 529.0L391.2 528.8L394.3 528.6L397.4 528.5L400.5 528.3L403.6 528.2L406.7 528.2L409.8 528.1L409.8 528.1L412.8 528.1L415.8 528.1L418.9 528.0L421.9 527.9L425.0 527.7L428.0 527.6L431.1 527.4L434.1 527.3L437.2 527.1L440.2 527.0L443.3 526.8L446.3 526.8L449.4 526.7L452.4 526.7L452.4 526.7L455.5 526.7L458.6 526.6L461.7 526.6L464.8 526.5L467.8 526.4L470.9 526.3L474.0 526.2L477.1 526.1L480.2 526.0L483.3 525.9L486.4 525.7L489.5 525.6L492.6 525.5L495.6 525.4L498.7 525.4L501.8 525.3L504.9 525.3L508.0 525.3L508.0 525.3L511.1 525.4L514.1 525.7L517.2 526.1L520.3 526.7L523.3 527.4L526.4 528.2L529.5 529.0L532.5 529.9L535.6 530.7L538.6 531.4L541.7 532.0L544.8 532.4L547.8 532.7L550.9 532.8M119.8 529.9L122.9 529.9L126.0 529.9L129.1 530.0L132.1 530.1L135.2 530.2L138.3 530.4L141.4 530.5L144.5 530.7L147.6 530.9L150.6 531.1L153.7 531.2L156.8 531.4L159.9 531.5L163.0 531.6L166.1 531.8L169.1 531.8L172.2 531.9L175.3 531.9L175.3 531.9L178.4 531.8L181.4 531.7L184.5 531.6L187.5 531.3L190.6 531.0L193.6 530.7L196.7 530.4L199.8 530.0L202.8 529.7L205.9 529.4L208.9 529.2L212.0 529.0L215.0 528.9L218.1 528.9L218.1 528.9L221.2 528.9L224.3 528.9L227.4 529.0L230.5 529.0L233.5 529.1L236.6 529.2L239.7 529.3L242.8 529.5L245.9 529.6L249.0 529.7L252.1 529.8L255.2 530.0L258.3 530.1L261.3 530.2L264.4 530.2L267.5 530.3L270.6 530.3L273.7 530.3L273.7 530.3L276.8 530.3L279.8 530.4L282.9 530.4L285.9 530.4L289.0 530.5L292.0 530.5L295.1 530.6L298.2 530.6L301.2 530.7L304.3 530.7L307.3 530.8L310.4 530.8L313.4 530.8L316.5 530.8M316.5 530.2L319.6 530.2L322.8 530.3L325.9 530.5L329.0 530.8L332.2 531.1L335.3 531.4L338.4 531.7L341.6 532.0L344.7 532.3L347.8 532.5L351.0 532.6L354.1 532.6L354.1 532.6L357.2 532.6L360.3 532.5L363.4 532.4L366.5 532.2L369.6 532.0L372.7 531.8L375.7 531.5L378.8 531.2L381.9 531.0L385.0 530.7L388.1 530.4L391.2 530.1L394.3 529.9L397.4 529.7L400.5 529.5L403.6 529.4L406.7 529.3L409.8 529.3L409.8 529.3L412.8 529.3L415.8 529.3L418.9 529.3L421.9 529.3L425.0 529.3L428.0 529.4L431.1 529.4L434.1 529.4L437.2 529.4L440.2 529.4L443.3 529.5L446.3 529.5L449.4 529.5L452.4 529.5L452.4 529.5L455.5 529.5L458.6 529.4L461.7 529.3L464.8 529.1L467.8 528.9L470.9 528.7L474.0 528.4L477.1 528.1L480.2 527.8L483.3 527.6L486.4 527.3L489.5 527.0L492.6 526.8L495.6 526.6L498.7 526.4L501.8 526.3L504.9 526.2L508.0 526.2L508.0 526.2L511.1 526.3L514.1 526.6L517.2 527.1L520.3 527.8L523.3 528.5L526.4 529.4L529.5 530.3L532.5 531.3L535.6 532.1L538.6 532.9L541.7 533.6L544.8 534.1L547.8 534.4L550.9 534.5M119.8 533.7L122.9 533.7L126.0 533.8L129.1 533.9L132.1 534.0L135.2 534.1L138.3 534.3L141.4 534.5L144.5 534.8L147.6 535.0L150.6 535.2L153.7 535.4L156.8 535.7L159.9 535.8L163.0 536.0L166.1 536.1L169.1 536.2L172.2 536.3L175.3 536.3L175.3 536.3L178.4 536.3L181.4 536.1L184.5 535.8L187.5 535.4L190.6 534.9L193.6 534.4L196.7 533.8L199.8 533.3L202.8 532.7L205.9 532.2L208.9 531.8L212.0 531.5L215.0 531.4L218.1 531.3L218.1 531.3L221.2 531.3L224.3 531.3L227.4 531.4L230.5 531.5L233.5 531.6L236.6 531.7L239.7 531.8L242.8 531.9L245.9 532.1L249.0 532.2L252.1 532.3L255.2 532.4L258.3 532.5L261.3 532.6L264.4 532.7L267.5 532.8L270.6 532.8L273.7 532.8L273.7 532.8L276.8 532.8L279.8 532.8L282.9 532.8L285.9 532.9L289.0 532.9L292.0 532.9L295.1 532.9L298.2 533.0L301.2 533.0L304.3 533.0L307.3 533.0L310.4 533.0L313.4 533.0L316.5 533.0M316.5 534.8L319.6 534.8L322.8 534.7L325.9 534.7L329.0 534.6L332.2 534.5L335.3 534.3L338.4 534.2L341.6 534.1L344.7 534.0L347.8 533.9L351.0 533.9L354.1 533.9L354.1 533.9L357.2 533.8L360.3 533.7L363.4 533.5L366.5 533.3L369.6 532.9L372.7 532.6L375.7 532.2L378.8 531.7L381.9 531.3L385.0 530.8L388.1 530.4L391.2 530.0L394.3 529.6L397.4 529.3L400.5 529.0L403.6 528.9L406.7 528.7L409.8 528.7L409.8 528.7L412.8 528.7L415.8 528.8L418.9 529.0L421.9 529.1L425.0 529.4L428.0 529.6L431.1 529.9L434.1 530.1L437.2 530.4L440.2 530.6L443.3 530.8L446.3 530.9L449.4 531.0L452.4 531.0L452.4 531.0L455.5 531.0L458.6 531.1L461.7 531.1L464.8 531.1L467.8 531.1L470.9 531.2L474.0 531.2L477.1 531.2L480.2 531.3L483.3 531.3L486.4 531.3L489.5 531.4L492.6 531.4L495.6 531.4L498.7 531.5L501.8 531.5L504.9 531.5L508.0 531.5L508.0 531.5L511.1 531.5L514.1 531.7L517.2 532.1L520.3 532.5L523.3 533.0L526.4 533.6L529.5 534.1L532.5 534.7L535.6 535.3L538.6 535.8L541.7 536.2L544.8 536.5L547.8 536.7L550.9 536.8M119.8 533.6L122.9 533.6L126.0 533.6L129.1 533.7L132.1 533.8L135.2 533.9L138.3 534.0L141.4 534.1L144.5 534.2L147.6 534.4L150.6 534.5L153.7 534.6L156.8 534.7L159.9 534.9L163.0 534.9L166.1 535.0L169.1 535.1L172.2 535.1L175.3 535.1L175.3 535.1L178.4 535.1L181.4 534.9L184.5 534.6L187.5 534.2L190.6 533.7L193.6 533.1L196.7 532.5L199.8 532.0L202.8 531.4L205.9 530.9L208.9 530.5L212.0 530.2L215.0 530.0L218.1 529.9L218.1 529.9L221.2 530.0L224.3 530.0L227.4 530.1L230.5 530.1L233.5 530.2L236.6 530.4L239.7 530.5L242.8 530.6L245.9 530.8L249.0 530.9L252.1 531.1L255.2 531.2L258.3 531.3L261.3 531.4L264.4 531.5L267.5 531.6L270.6 531.6L273.7 531.6L273.7 531.6L276.8 531.6L279.8 531.7L282.9 531.9L285.9 532.1L289.0 532.4L292.0 532.7L295.1 533.0L298.2 533.3L301.2 533.5L304.3 533.8L307.3 534.0L310.4 534.2L313.4 534.3L316.5 534.3M316.5 534.3L319.6 534.3L322.8 534.3L325.9 534.4L329.0 534.4L332.2 534.5L335.3 534.5L338.4 534.6L341.6 534.7L344.7 534.7L347.8 534.8L351.0 534.8L354.1 534.8L354.1 534.8L357.2 534.8L360.3 534.7L363.4 534.6L366.5 534.4L369.6 534.2L372.7 533.9L375.7 533.6L378.8 533.3L381.9 533.0L385.0 532.7L388.1 532.4L391.2 532.1L394.3 531.9L397.4 531.7L400.5 531.5L403.6 531.4L406.7 531.3L409.8 531.3L409.8 531.3L412.8 531.3L415.8 531.4L418.9 531.6L421.9 531.8L425.0 532.1L428.0 532.5L431.1 532.8L434.1 533.1L437.2 533.5L440.2 533.8L443.3 534.0L446.3 534.2L449.4 534.3L452.4 534.3L452.4 534.3L455.5 534.3L458.6 534.2L461.7 534.1L464.8 533.9L467.8 533.7L470.9 533.5L474.0 533.2L477.1 532.9L480.2 532.6L483.3 532.4L486.4 532.1L489.5 531.8L492.6 531.6L495.6 531.4L498.7 531.2L501.8 531.1L504.9 531.0L508.0 531.0L508.0 531.0L511.1 531.0L514.1 531.3L517.2 531.7L520.3 532.3L523.3 532.9L526.4 533.7L529.5 534.5L532.5 535.2L535.6 536.0L538.6 536.6L541.7 537.2L544.8 537.6L547.8 537.9L550.9 538.0M119.8 536.6L122.9 536.6L126.0 536.5L129.1 536.5L132.1 536.5L135.2 536.4L138.3 536.4L141.4 536.3L144.5 536.2L147.6 536.1L150.6 536.1L153.7 536.0L156.8 535.9L159.9 535.9L163.0 535.8L166.1 535.8L169.1 535.7L172.2 535.7L175.3 535.7L175.3 535.7L178.4 535.7L181.4 535.6L184.5 535.4L187.5 535.2L190.6 535.0L193.6 534.8L196.7 534.5L199.8 534.2L202.8 533.9L205.9 533.7L208.9 533.3L212.0 533.0L215.0 532.8L218.1 532.7L218.1 532.7L221.2 532.7L224.3 532.8L227.4 532.8L230.5 532.9L233.5 533.0L236.6 533.1L239.7 533.3L242.8 533.4L245.9 533.5L249.0 533.7L252.1 533.8L255.2 534.0L258.3 534.1L261.3 534.2L264.4 534.3L267.5 534.3L270.6 534.4L273.7 534.4L273.7 534.4L276.8 534.4L279.8 534.5L282.9 534.7L285.9 534.9L289.0 535.1L292.0 535.4L295.1 535.4L298.2 535.3L301.2 535.3L304.3 535.3L307.3 535.3L310.4 535.2L313.4 535.2L316.5 535.2M316.5 534.0L319.6 534.0L322.8 534.2L325.9 534.5L329.0 534.9L332.2 535.4L335.3 535.9L338.4 536.4L341.6 536.9L344.7 537.3L347.8 537.6L351.0 537.8L354.1 537.8L354.1 537.8L357.2 537.8L360.3 537.7L363.4 537.5L366.5 537.2L369.6 536.9L372.7 536.5L375.7 536.1L378.8 535.6L381.9 535.2L385.0 534.7L388.1 534.3L391.2 533.9L394.3 533.5L397.4 533.1L400.5 532.9L403.6 532.7L406.7 532.6L409.8 532.5L409.8 532.5L412.8 532.6L415.8 532.6L418.9 532.8L421.9 532.9L425.0 533.1L428.0 533.3L431.1 533.6L434.1 533.8L437.2 534.0L440.2 534.2L443.3 534.4L446.3 534.5L449.4 534.6L452.4 534.6L452.4 534.6L455.5 534.6L458.6 534.6L461.7 534.6L464.8 534.6L467.8 534.6L470.9 534.4L474.0 534.3L477.1 534.1L480.2 533.9L483.3 533.7L486.4 533.5L489.5 533.4L492.6 533.2L495.6 533.1L498.7 532.9L501.8 532.9L504.9 532.8L508.0 532.8L508.0 532.8L511.1 532.9L514.1 533.1L517.2 533.4L520.3 533.9L523.3 534.4L526.4 535.0L529.5 535.6L532.5 536.3L535.6 536.9L538.6 537.4L541.7 537.9L544.8 538.2L547.8 538.4L550.9 538.5M119.8 546.5L122.8 545.8L125.9 543.9L128.9 541.6L132.0 539.7L135.0 539.0L135.0 539.0L138.0 539.0L141.0 538.8L144.0 538.7L147.0 538.5L150.0 538.5L150.0 538.5L153.1 538.5L156.2 538.6L159.4 538.7L162.5 538.8L165.6 538.8L168.8 538.9L171.9 539.0L175.0 539.0L175.0 539.0L178.1 539.0L181.2 538.9L184.4 538.7L187.5 538.5L190.6 538.3L193.8 538.1L196.9 538.0L200.0 538.0L200.0 538.0L203.0 537.7L206.0 536.8L209.0 535.5L212.0 534.2L215.0 533.3L218.0 533.0L218.0 533.0L221.1 533.0L224.3 533.2L227.4 533.4L230.6 533.6L233.7 533.8L236.9 534.0L240.0 534.0L240.0 534.0L243.1 534.0L246.3 534.2L249.4 534.4L252.6 534.6L255.7 534.8L258.9 535.0L262.0 535.0L262.0 535.0L265.3 535.2L268.6 535.8L271.9 536.6L275.1 537.4L278.4 538.2L281.7 538.8L285.0 539.0L285.0 539.0L288.4 539.1L291.8 539.3L295.2 539.7L298.6 539.9L302.0 540.0L302.0 540.0L305.6 541.0L309.2 543.2L312.9 545.5L316.5 546.5M119.8 546.5L123.2 544.1L126.6 539.4L130.0 537.0L130.0 537.0L133.0 536.5L136.0 535.3L139.0 533.7L142.0 532.5L145.0 532.0L145.0 532.0L148.0 532.0L151.0 531.9L154.0 531.8L157.0 531.7L160.0 531.5L163.0 531.3L166.0 531.2L169.0 531.1L172.0 531.0L175.0 531.0L175.0 531.0L178.1 531.0L181.1 531.0L184.2 530.9L187.3 530.8L190.4 530.7L193.4 530.6L196.5 530.5L199.6 530.4L202.6 530.3L205.7 530.2L208.8 530.1L211.9 530.0L214.9 530.0L218.0 530.0L218.0 530.0L221.1 530.0L224.3 530.0L227.4 530.1L230.6 530.2L233.7 530.3L236.9 530.4L240.0 530.5L243.1 530.6L246.3 530.7L249.4 530.8L252.6 530.9L255.7 531.0L258.9 531.0L262.0 531.0L262.0 531.0L265.0 531.1L268.0 531.2L271.0 531.5L274.0 531.9L277.0 532.3L280.0 532.7L283.0 533.1L286.0 533.5L289.0 533.8L292.0 533.9L295.0 534.0L295.0 534.0L298.1 534.6L301.1 536.4L304.2 538.9L307.3 541.6L310.4 544.1L313.4 545.9L316.5 546.5M119.8 546.5L123.9 539.2L128.0 532.0L128.0 532.0L131.0 531.1L134.0 529.0L137.0 526.9L140.0 526.0L140.0 526.0L143.2 526.0L146.4 525.8L149.5 525.7L152.7 525.4L155.9 525.1L159.1 524.9L162.3 524.6L165.5 524.3L168.6 524.2L171.8 524.0L175.0 524.0L175.0 524.0L178.1 524.0L181.1 524.1L184.2 524.2L187.3 524.4L190.4 524.6L193.4 524.8L196.5 525.0L199.6 525.2L202.6 525.4L205.7 525.6L208.8 525.8L211.9 525.9L214.9 526.0L218.0 526.0L218.0 526.0L221.1 526.0L224.3 526.0L227.4 526.1L230.6 526.2L233.7 526.3L236.9 526.4L240.0 526.5L243.1 526.6L246.3 526.7L249.4 526.8L252.6 526.9L255.7 527.0L258.9 527.0L262.0 527.0L262.0 527.0L265.2 527.1L268.3 527.2L271.5 527.4L274.7 527.8L277.8 528.1L281.0 528.5L284.2 528.9L287.3 529.2L290.5 529.6L293.7 529.8L296.8 529.9L300.0 530.0L300.0 530.0L303.3 531.6L306.6 535.7L309.9 540.8L313.2 544.9L316.5 546.5M316.5 546.5L320.3 544.4L324.2 540.1L328.0 538.0L328.0 538.0L331.0 538.3L334.0 539.0L337.0 539.7L340.0 540.0L340.0 540.0L343.5 539.8L347.0 539.2L350.5 538.7L354.0 538.5L354.0 538.5L357.2 538.4L360.5 538.0L363.8 537.4L367.0 536.8L370.2 536.1L373.5 535.5L376.8 535.1L380.0 535.0L380.0 535.0L383.0 534.9L386.0 534.7L389.0 534.3L392.0 533.9L395.0 533.5L398.0 533.1L401.0 532.9L404.0 532.8L404.0 532.8L407.2 532.8L410.5 533.0L413.8 533.2L417.0 533.4L420.2 533.6L423.5 533.8L426.8 534.0L430.0 534.0L430.0 534.0L433.3 534.1L436.7 534.2L440.0 534.5L443.3 534.8L446.7 534.9L450.0 535.0L450.0 535.0L453.1 535.0L456.2 534.8L459.3 534.6L462.4 534.4L465.5 534.1L468.5 533.7L471.6 533.4L474.7 533.2L477.8 533.0L480.9 532.8L484.0 532.8L484.0 532.8L487.0 532.8L490.0 532.9L493.0 533.1L496.0 533.3L499.0 533.6L502.0 533.9L505.0 534.2L508.0 534.4L511.0 534.7L514.0 534.9L517.0 535.0L520.0 535.0L520.0 535.0L523.1 535.1L526.2 535.3L529.3 535.7L532.4 536.2L535.5 536.8L538.5 537.3L541.6 537.8L544.7 538.2L547.8 538.4L550.9 538.5M316.5 546.5L319.9 544.8L323.2 540.8L326.6 536.7L330.0 535.0L330.0 535.0L333.0 534.8L336.0 534.3L339.0 533.7L342.0 533.2L345.0 533.0L345.0 533.0L348.0 533.2L351.0 533.8L354.0 534.0L354.0 534.0L357.2 533.9L360.5 533.7L363.8 533.4L367.0 533.0L370.2 532.6L373.5 532.3L376.8 532.1L380.0 532.0L380.0 532.0L383.0 531.9L386.0 531.7L389.0 531.4L392.0 531.0L395.0 530.6L398.0 530.3L401.0 530.1L404.0 530.0L404.0 530.0L407.1 530.0L410.1 530.0L413.2 530.1L416.3 530.2L419.3 530.2L422.4 530.3L425.5 530.4L428.5 530.6L431.6 530.7L434.7 530.8L437.7 530.8L440.8 530.9L443.9 531.0L446.9 531.0L450.0 531.0L450.0 531.0L453.1 531.0L456.2 530.9L459.3 530.8L462.4 530.7L465.5 530.6L468.5 530.4L471.6 530.3L474.7 530.2L477.8 530.1L480.9 530.0L484.0 530.0L484.0 530.0L487.0 530.0L490.0 530.1L493.0 530.1L496.0 530.2L499.0 530.4L502.0 530.5L505.0 530.6L508.0 530.8L511.0 530.9L514.0 530.9L517.0 531.0L520.0 531.0L520.0 531.0L523.1 531.1L526.2 531.3L529.3 531.6L532.4 532.0L535.5 532.5L538.5 533.0L541.6 533.4L544.7 533.7L547.8 533.9L550.9 534.0M302.0 537.8L305.6 539.1L309.2 542.1L312.9 545.2L316.5 546.5L316.5 546.5L320.3 544.3L324.2 540.0L328.0 537.8M306.0 535.0L309.5 537.9L313.0 543.6L316.5 546.5L316.5 546.5L320.2 540.8L324.0 535.0M278 538.5L316.5 546.5L358 538.5M283 539L316.5 546.5L352 539.5M301 537.5L316.5 546.5L329 537.5M119.8 546.5L140 536L160 533M119.8 546.5L133 537L150 535"/>
</g>
<g clip-path="url(#c1)" fill="none" stroke="#ff0000" stroke-width="2.5" stroke-linejoin="round"><path d="M565.3 187.8L568.5 187.8L571.7 187.9L574.9 187.9L578.1 188.0L581.3 188.1L584.5 188.2L587.6 188.4L590.8 188.5L594.0 188.6L597.2 188.7L600.4 188.7L603.6 188.8L606.8 188.8M565.3 191.5L568.5 191.5L571.7 191.3L574.9 191.2L578.1 190.9L581.3 190.6L584.5 190.3L587.6 190.0L590.8 189.7L594.0 189.4L597.2 189.1L600.4 189.0L603.6 188.8L606.8 188.8M565.3 200.0L568.5 200.0L571.7 200.1L574.9 200.1L578.1 200.2L581.3 200.3L584.5 200.4L587.6 200.6L590.8 200.7L594.0 200.8L597.2 200.9L600.4 200.9L603.6 201.0L606.8 201.0M565.3 202.5L568.5 202.5L571.7 202.5L574.9 202.6L578.1 202.6L581.3 202.7L584.5 202.7L587.6 202.8L590.8 202.8L594.0 202.9L597.2 202.9L600.4 203.0L603.6 203.0L606.8 203.0M565.3 204.5L568.5 204.5L571.7 204.5L574.9 204.6L578.1 204.6L581.3 204.7L584.5 204.7L587.6 204.8L590.8 204.8L594.0 204.9L597.2 204.9L600.4 205.0L603.6 205.0L606.8 205.0M565.3 206.5L568.5 206.5L571.7 206.5L574.9 206.5L578.1 206.5L581.3 206.5L584.5 206.5L587.6 206.5L590.8 206.5L594.0 206.5L597.2 206.5L600.4 206.5L603.6 206.5L606.8 206.5M565.3 209.5L568.5 209.6L571.7 209.8L574.9 210.1L578.1 210.5L581.3 210.9L584.5 211.4L587.6 212.0L590.8 212.5L594.0 212.9L597.2 213.3L600.4 213.6L603.6 213.8L606.8 213.9M565.3 216.0L568.5 216.0L571.7 215.9L574.9 215.7L578.1 215.5L581.3 215.3L584.5 215.1L587.6 214.8L590.8 214.6L594.0 214.4L597.2 214.2L600.4 214.0L603.6 213.9L606.8 213.9M565.3 218.6L568.5 218.6L571.7 218.7L574.9 218.9L578.1 219.1L581.3 219.4L584.5 219.7L587.6 219.9L590.8 220.2L594.0 220.5L597.2 220.7L600.4 220.9L603.6 221.0L606.8 221.0M565.3 221.0L568.5 221.0L571.7 221.1L574.9 221.3L578.1 221.4L581.3 221.6L584.5 221.9L587.6 222.1L590.8 222.4L594.0 222.6L597.2 222.7L600.4 222.9L603.6 223.0L606.8 223.0M565.3 223.5L568.5 223.5L571.7 223.6L574.9 223.7L578.1 223.8L581.3 224.0L584.5 224.2L587.6 224.3L590.8 224.5L594.0 224.7L597.2 224.8L600.4 224.9L603.6 225.0L606.8 225.0M565.3 226.0L568.5 226.0L571.7 226.1L574.9 226.1L578.1 226.2L581.3 226.3L584.5 226.4L587.6 226.6L590.8 226.7L594.0 226.8L597.2 226.9L600.4 226.9L603.6 227.0L606.8 227.0M565.3 228.5L568.5 228.5L571.7 228.5L574.9 228.6L578.1 228.6L581.3 228.7L584.5 228.7L587.6 228.8L590.8 228.8L594.0 228.9L597.2 228.9L600.4 229.0L603.6 229.0L606.8 229.0M565.3 231.0L568.5 231.0L571.7 230.9L574.9 230.9L578.1 230.8L581.3 230.7L584.5 230.6L587.6 230.4L590.8 230.3L594.0 230.2L597.2 230.1L600.4 230.1L603.6 230.0L606.8 230.0M565.3 234.1L568.5 234.1L571.7 234.1L574.9 234.2L578.1 234.3L581.3 234.4L584.5 234.5L587.6 234.5L590.8 234.6L594.0 234.7L597.2 234.8L600.4 234.9L603.6 234.9L606.8 234.9M565.3 238.0L568.5 238.0L571.7 237.8L574.9 237.6L578.1 237.3L581.3 237.0L584.5 236.6L587.6 236.3L590.8 235.9L594.0 235.6L597.2 235.3L600.4 235.1L603.6 234.9L606.8 234.9M565.3 241.1L568.5 241.2L571.7 241.4L574.9 241.7L578.1 242.1L581.3 242.6L584.5 243.2L587.6 243.7L590.8 244.3L594.0 244.8L597.2 245.2L600.4 245.5L603.6 245.7L606.8 245.8M565.3 248.9L568.5 248.9L571.7 248.7L574.9 248.5L578.1 248.2L581.3 247.9L584.5 247.5L587.6 247.2L590.8 246.8L594.0 246.5L597.2 246.2L600.4 246.0L603.6 245.8L606.8 245.8M565.3 295.4L568.5 295.5L571.7 295.6L574.9 295.9L578.1 296.2L581.3 296.7L584.5 297.1L587.6 297.6L590.8 298.0L594.0 298.5L597.2 298.8L600.4 299.1L603.6 299.2L606.8 299.3M565.3 309.7L568.5 309.5L571.7 309.1L574.9 308.4L578.1 307.5L581.3 306.3L584.5 305.1L587.6 303.9L590.8 302.7L594.0 301.5L597.2 300.6L600.4 299.9L603.6 299.5L606.8 299.3M565.3 309.7L568.5 309.8L571.7 310.1L574.9 310.6L578.1 311.3L581.3 312.1L584.5 312.9L587.6 313.8L590.8 314.6L594.0 315.4L597.2 316.1L600.4 316.6L603.6 316.9L606.8 317.0M565.3 320.0L568.5 320.0L571.7 319.8L574.9 319.6L578.1 319.4L581.3 319.0L584.5 318.7L587.6 318.3L590.8 318.0L594.0 317.6L597.2 317.4L600.4 317.2L603.6 317.0L606.8 317.0M565.3 325.5L568.5 325.5L571.7 325.5L574.9 325.5L578.1 325.5L581.3 325.5L584.5 325.5L587.6 325.5L590.8 325.5L594.0 325.5L597.2 325.5L600.4 325.5L603.6 325.5L606.8 325.5M565.3 327.0L568.5 327.0L571.7 327.0L574.9 327.0L578.1 327.0L581.3 327.0L584.5 327.0L587.6 327.0L590.8 327.0L594.0 327.0L597.2 327.0L600.4 327.0L603.6 327.0L606.8 327.0M565.3 393.3L568.5 393.4L571.7 393.5L574.9 393.8L578.1 394.1L581.3 394.5L584.5 394.9L587.6 395.4L590.8 395.8L594.0 396.2L597.2 396.5L600.4 396.8L603.6 396.9L606.8 397.0M565.3 400.0L568.5 400.1L571.7 400.2L574.9 400.5L578.1 400.9L581.3 401.3L584.5 401.8L587.6 402.2L590.8 402.7L594.0 403.1L597.2 403.5L600.4 403.8L603.6 403.9L606.8 404.0M565.3 414.4L568.5 414.2L571.7 413.7L574.9 413.0L578.1 411.9L581.3 410.7L584.5 409.4L587.6 408.0L590.8 406.7L594.0 405.5L597.2 404.4L600.4 403.7L603.6 403.2L606.8 403.0M565.3 414.4L568.5 414.6L571.7 415.0L574.9 415.7L578.1 416.7L581.3 417.8L584.5 419.1L587.6 420.3L590.8 421.6L594.0 422.7L597.2 423.7L600.4 424.4L603.6 424.8L606.8 425.0M565.3 428.0L568.5 427.9L571.7 427.8L574.9 427.6L578.1 427.2L581.3 426.9L584.5 426.5L587.6 426.0L590.8 425.6L594.0 425.3L597.2 424.9L600.4 424.7L603.6 424.6L606.8 424.5M565.3 365.0L568.5 365.0L571.7 365.1L574.9 365.4L578.1 365.6L581.3 366.0L584.5 366.3L587.6 366.7L590.8 367.0L594.0 367.4L597.2 367.6L600.4 367.8L603.6 368.0L606.8 368.0M565.3 368.9L568.5 368.9L571.7 369.0L574.9 369.1L578.1 369.2L581.3 369.4L584.5 369.6L587.6 369.8L590.8 370.0L594.0 370.2L597.2 370.4L600.4 370.5L603.6 370.6L606.8 370.6M565.3 370.6L568.5 370.7L571.7 370.8L574.9 371.1L578.1 371.4L581.3 371.9L584.5 372.3L587.6 372.8L590.8 373.2L594.0 373.6L597.2 374.0L600.4 374.2L603.6 374.4L606.8 374.5M565.3 374.8L568.5 374.8L571.7 374.9L574.9 375.1L578.1 375.2L581.3 375.5L584.5 375.7L587.6 376.0L590.8 376.2L594.0 376.4L597.2 376.6L600.4 376.8L603.6 376.8L606.8 376.9M565.3 376.8L568.5 376.9L571.7 377.0L574.9 377.1L578.1 377.4L581.3 377.6L584.5 377.9L587.6 378.2L590.8 378.5L594.0 378.8L597.2 379.0L600.4 379.2L603.6 379.3L606.8 379.3M565.3 378.4L568.5 378.5L571.7 378.6L574.9 378.9L578.1 379.3L581.3 379.8L584.5 380.3L587.6 380.8L590.8 381.3L594.0 381.8L597.2 382.2L600.4 382.5L603.6 382.7L606.8 382.7M565.3 382.5L568.5 382.6L571.7 382.7L574.9 382.9L578.1 383.1L581.3 383.4L584.5 383.7L587.6 384.0L590.8 384.3L594.0 384.6L597.2 384.8L600.4 385.0L603.6 385.1L606.8 385.1M565.3 385.8L568.5 385.8L571.7 386.0L574.9 386.2L578.1 386.4L581.3 386.7L584.5 387.0L587.6 387.4L590.8 387.7L594.0 388.0L597.2 388.3L600.4 388.4L603.6 388.6L606.8 388.6M565.3 387.2L568.5 387.3L571.7 387.4L574.9 387.7L578.1 388.1L581.3 388.5L584.5 389.0L587.6 389.5L590.8 390.0L594.0 390.4L597.2 390.7L600.4 391.0L603.6 391.2L606.8 391.3M565.3 391.8L568.5 391.9L571.7 392.1L574.9 392.3L578.1 392.7L581.3 393.2L584.5 393.7L587.6 394.2L590.8 394.7L594.0 395.1L597.2 395.5L600.4 395.8L603.6 396.0L606.8 396.0M565.3 430.9L568.5 430.9L571.7 430.8L574.9 430.7L578.1 430.6L581.3 430.5L584.5 430.3L587.6 430.1L590.8 430.0L594.0 429.8L597.2 429.7L600.4 429.6L603.6 429.6L606.8 429.5M565.3 429.3L568.5 429.3L571.7 429.6L574.9 430.0L578.1 430.5L581.3 431.1L584.5 431.8L587.6 432.5L590.8 433.1L594.0 433.7L597.2 434.2L600.4 434.6L603.6 434.9L606.8 435.0M565.3 432.0L568.5 432.0L571.7 432.1L574.9 432.2L578.1 432.3L581.3 432.5L584.5 432.6L587.6 432.8L590.8 433.0L594.0 433.1L597.2 433.2L600.4 433.3L603.6 433.4L606.8 433.4M565.3 436.0L568.5 436.0L571.7 436.0L574.9 436.0L578.1 436.1L581.3 436.1L584.5 436.1L587.6 436.2L590.8 436.2L594.0 436.2L597.2 436.3L600.4 436.3L603.6 436.3L606.8 436.3M565.3 439.1L568.5 439.0L571.7 439.0L574.9 438.9L578.1 438.8L581.3 438.7L584.5 438.5L587.6 438.4L590.8 438.2L594.0 438.1L597.2 438.0L600.4 437.9L603.6 437.8L606.8 437.8M565.3 441.5L568.5 441.4L571.7 441.4L574.9 441.3L578.1 441.2L581.3 441.0L584.5 440.9L587.6 440.7L590.8 440.6L594.0 440.4L597.2 440.3L600.4 440.2L603.6 440.1L606.8 440.1M565.3 442.1L568.5 442.2L571.7 442.3L574.9 442.4L578.1 442.7L581.3 442.9L584.5 443.2L587.6 443.5L590.8 443.8L594.0 444.0L597.2 444.2L600.4 444.4L603.6 444.5L606.8 444.6M565.3 444.6L568.5 444.6L571.7 444.7L574.9 444.8L578.1 445.0L581.3 445.2L584.5 445.4L587.6 445.7L590.8 445.9L594.0 446.1L597.2 446.3L600.4 446.4L603.6 446.5L606.8 446.5M565.3 446.8L568.5 446.8L571.7 446.7L574.9 446.6L578.1 446.4L581.3 446.2L584.5 446.0L587.6 445.8L590.8 445.6L594.0 445.4L597.2 445.2L600.4 445.1L603.6 445.0L606.8 445.0M565.3 449.6L568.5 449.6L571.7 449.6L574.9 449.5L578.1 449.5L581.3 449.4L584.5 449.4L587.6 449.3L590.8 449.3L594.0 449.2L597.2 449.2L600.4 449.1L603.6 449.1L606.8 449.1M565.3 449.4L568.5 449.4L571.7 449.4L574.9 449.4L578.1 449.4L581.3 449.4L584.5 449.4L587.6 449.4L590.8 449.5L594.0 449.5L597.2 449.5L600.4 449.5L603.6 449.5L606.8 449.5M565.3 449.9L568.5 449.8L571.7 449.8L574.9 449.9L578.1 450.3L581.3 450.7L584.5 451.3L587.6 452.0L590.8 452.8L594.0 453.2L597.2 453.1L600.4 453.1L603.6 453.0L606.8 453.0M565.3 461.1L568.5 461.2L571.7 461.2L574.9 461.1L578.1 460.7L581.3 460.3L584.5 459.7L587.6 459.0L590.8 458.2L594.0 457.3L597.2 456.3L600.4 455.8L603.6 455.8L606.8 455.8M565.3 461.1L568.5 461.2L571.7 461.2L574.9 461.1L578.1 460.7L581.3 460.3L584.5 459.7L587.6 459.0L590.8 458.2L594.0 457.3L597.2 457.1L600.4 457.0L603.6 456.9L606.8 456.9M565.3 461.1L568.5 461.2L571.7 461.2L574.9 461.1L578.1 460.7L581.3 460.3L584.5 459.7L587.6 459.2L590.8 459.2L594.0 459.1L597.2 459.1L600.4 459.1L603.6 459.1L606.8 459.1M565.3 461.1L568.5 461.2L571.7 461.2L574.9 461.1L578.1 460.7L581.3 460.6L584.5 460.9L587.6 461.2L590.8 461.6L594.0 461.8L597.2 462.1L600.4 462.3L603.6 462.4L606.8 462.4M565.3 462.1L568.5 462.1L571.7 462.2L574.9 462.3L578.1 462.4L581.3 462.6L584.5 462.8L587.6 463.0L590.8 463.2L594.0 463.3L597.2 463.5L600.4 463.6L603.6 463.7L606.8 463.7M565.3 466.8L568.5 466.7L571.7 466.7L574.9 466.6L578.1 466.4L581.3 466.2L584.5 466.1L587.6 465.9L590.8 465.7L594.0 465.5L597.2 465.3L600.4 465.2L603.6 465.2L606.8 465.1M565.3 465.6L568.5 465.7L571.7 465.8L574.9 465.9L578.1 466.1L581.3 466.3L584.5 466.6L587.6 466.8L590.8 467.1L594.0 467.3L597.2 467.5L600.4 467.7L603.6 467.8L606.8 467.8M565.3 469.8L568.5 469.8L571.7 469.7L574.9 469.5L578.1 469.3L581.3 469.0L584.5 468.7L587.6 468.4L590.8 468.1L594.0 467.8L597.2 467.5L600.4 467.4L603.6 467.3L606.8 467.2M565.3 469.5L568.5 469.5L571.7 469.5L574.9 469.6L578.1 469.7L581.3 469.8L584.5 470.0L587.6 470.1L590.8 470.2L594.0 470.3L597.2 470.4L600.4 470.5L603.6 470.6L606.8 470.6M565.3 471.5L568.5 471.6L571.7 471.7L574.9 471.9L578.1 472.1L581.3 472.4L584.5 472.7L587.6 473.0L590.8 473.3L594.0 473.6L597.2 473.8L600.4 474.0L603.6 474.1L606.8 474.1M565.3 475.5L568.5 475.5L571.7 475.5L574.9 475.4L578.1 475.3L581.3 475.2L584.5 475.1L587.6 474.9L590.8 474.8L594.0 474.7L597.2 474.6L600.4 474.5L603.6 474.5L606.8 474.5M565.3 477.3L568.5 477.3L571.7 477.2L574.9 477.2L578.1 477.2L581.3 477.2L584.5 477.2L587.6 477.1L590.8 477.1L594.0 477.1L597.2 477.0L600.4 477.0L603.6 477.0L606.8 477.0M565.3 481.4L568.5 481.3L571.7 481.2L574.9 480.9L578.1 480.6L581.3 480.2L584.5 479.7L587.6 479.3L590.8 478.8L594.0 478.4L597.2 478.1L600.4 477.8L603.6 477.6L606.8 477.6M565.3 481.3L568.5 481.3L571.7 481.3L574.9 481.3L578.1 481.2L581.3 481.1L584.5 481.0L587.6 480.9L590.8 480.8L594.0 480.8L597.2 480.7L600.4 480.7L603.6 480.7L606.8 480.6M565.3 483.1L568.5 483.1L571.7 483.1L574.9 483.1L578.1 483.0L581.3 483.0L584.5 481.9L587.6 481.0L590.8 480.8L594.0 481.4L597.2 482.6L600.4 482.7L603.6 482.7L606.8 482.7M565.3 486.2L568.5 486.2L571.7 486.1L574.9 486.0L578.1 485.8L581.3 485.5L584.5 486.1L587.6 487.0L590.8 487.2L594.0 486.6L597.2 485.4L600.4 484.1L603.6 484.0L606.8 484.0M565.3 488.9L568.5 488.8L571.7 488.7L574.9 488.6L578.1 488.3L581.3 488.1L584.5 487.8L587.6 487.5L590.8 487.2L594.0 486.9L597.2 486.7L600.4 486.5L603.6 486.4L606.8 486.3M565.3 488.6L568.5 488.7L571.7 488.7L574.9 488.8L578.1 489.0L581.3 489.1L584.5 489.3L587.6 489.5L590.8 489.7L594.0 489.9L597.2 490.0L600.4 490.1L603.6 490.2L606.8 490.2M565.3 491.8L568.5 491.8L571.7 491.7L574.9 491.6L578.1 491.4L581.3 491.2L584.5 491.0L587.6 490.7L590.8 490.5L594.0 490.3L597.2 490.1L600.4 490.0L603.6 489.9L606.8 489.9M565.3 494.1L568.5 494.1L571.7 494.1L574.9 494.1L578.1 494.1L581.3 494.0L584.5 494.0L587.6 494.0L590.8 494.0L594.0 493.9L597.2 493.9L600.4 493.9L603.6 493.9L606.8 493.9M565.3 498.4L568.5 498.4L571.7 498.2L574.9 497.9L578.1 497.5L581.3 497.1L584.5 496.6L587.6 496.0L590.8 495.5L594.0 495.1L597.2 494.7L600.4 494.4L603.6 494.2L606.8 494.2M565.3 498.3L568.5 498.3L571.7 498.1L574.9 497.9L578.1 497.5L581.3 497.1L584.5 496.6L587.6 496.2L590.8 495.7L594.0 495.3L597.2 495.0L600.4 494.7L603.6 494.5L606.8 494.5M565.3 502.4L568.5 502.3L571.7 502.1L574.9 501.7L578.1 501.2L581.3 500.6L584.5 499.9L587.6 499.3L590.8 498.6L594.0 498.0L597.2 497.5L600.4 497.1L603.6 496.8L606.8 496.8M565.3 503.1L568.5 503.1L571.7 502.9L574.9 502.7L578.1 502.3L581.3 502.0L584.5 501.5L587.6 501.1L590.8 500.6L594.0 500.2L597.2 499.9L600.4 499.7L603.6 499.5L606.8 499.4M565.3 504.4L568.5 504.3L571.7 504.2L574.9 504.0L578.1 503.7L581.3 503.4L584.5 503.1L587.6 502.7L590.8 502.4L594.0 502.1L597.2 501.8L600.4 501.6L603.6 501.5L606.8 501.4M565.3 505.9L568.5 505.9L571.7 505.7L574.9 505.5L578.1 505.1L581.3 504.7L584.5 504.3L587.6 503.8L590.8 503.4L594.0 503.0L597.2 502.6L600.4 502.4L603.6 502.2L606.8 502.1M565.3 509.4L568.5 509.4L571.7 509.3L574.9 509.1L578.1 508.9L581.3 508.7L584.5 508.4L587.6 508.2L590.8 507.9L594.0 507.6L597.2 507.4L600.4 507.3L603.6 507.2L606.8 507.1M565.3 512.0L568.5 511.9L571.7 511.7L574.9 511.3L578.1 510.9L581.3 510.3L584.5 509.7L587.6 509.1L590.8 508.4L594.0 507.9L597.2 507.4L600.4 507.0L603.6 506.8L606.8 506.7M565.3 514.3L568.5 514.2L571.7 513.9L574.9 513.5L578.1 513.0L581.3 512.3L584.5 511.6L587.6 510.8L590.8 510.1L594.0 509.5L597.2 508.9L600.4 508.5L603.6 508.2L606.8 508.1M565.3 515.3L568.5 515.2L571.7 515.2L574.9 515.0L578.1 514.8L581.3 514.6L584.5 514.4L587.6 514.1L590.8 513.9L594.0 513.6L597.2 513.5L600.4 513.3L603.6 513.2L606.8 513.2M565.3 519.4L568.5 519.3L571.7 519.1L574.9 518.7L578.1 518.2L581.3 517.6L584.5 516.9L587.6 516.2L590.8 515.5L594.0 514.9L597.2 514.4L600.4 514.0L603.6 513.8L606.8 513.7M565.3 521.2L568.5 521.2L571.7 520.9L574.9 520.6L578.1 520.1L581.3 519.5L584.5 518.9L587.6 518.2L590.8 517.6L594.0 517.0L597.2 516.5L600.4 516.1L603.6 515.9L606.8 515.8M565.3 522.1L568.5 522.0L571.7 521.8L574.9 521.6L578.1 521.2L581.3 520.8L584.5 520.3L587.6 519.9L590.8 519.4L594.0 519.0L597.2 518.6L600.4 518.4L603.6 518.2L606.8 518.1M565.3 526.0L568.5 526.0L571.7 525.7L574.9 525.4L578.1 524.9L581.3 524.3L584.5 523.7L587.6 523.1L590.8 522.5L594.0 521.9L597.2 521.4L600.4 521.1L603.6 520.8L606.8 520.7M565.3 526.1L568.5 526.0L571.7 525.9L574.9 525.6L578.1 525.3L581.3 525.0L584.5 524.6L587.6 524.2L590.8 523.8L594.0 523.4L597.2 523.1L600.4 522.9L603.6 522.7L606.8 522.7M565.3 528.9L568.5 528.8L571.7 528.5L574.9 528.2L578.1 527.6L581.3 527.0L584.5 526.3L587.6 525.7L590.8 525.0L594.0 524.4L597.2 523.9L600.4 523.5L603.6 523.2L606.8 523.1M565.3 531.5L568.5 531.5L571.7 531.3L574.9 531.0L578.1 530.6L581.3 530.1L584.5 529.5L587.6 529.0L590.8 528.4L594.0 528.0L597.2 527.5L600.4 527.2L603.6 527.0L606.8 527.0M565.3 533.0L568.5 532.9L571.7 532.8L574.9 532.5L578.1 532.2L581.3 531.8L584.5 531.4L587.6 531.0L590.8 530.6L594.0 530.2L597.2 529.9L600.4 529.6L603.6 529.5L606.8 529.4M565.3 532.7L568.5 532.7L571.7 532.5L574.9 532.3L578.1 532.0L581.3 531.7L584.5 531.4L587.6 531.0L590.8 530.6L594.0 530.3L597.2 530.0L600.4 529.8L603.6 529.7L606.8 529.6M565.3 537.3L568.5 537.2L571.7 536.9L574.9 536.5L578.1 535.9L581.3 535.2L584.5 534.5L587.6 533.7L590.8 533.0L594.0 532.3L597.2 531.8L600.4 531.3L603.6 531.1L606.8 531.0"/></g>
<g clip-path="url(#c2)" fill="none" stroke="#ff0000" stroke-width="2.5" stroke-linejoin="round"><path d="M619.6 188.0L622.8 188.0L626.0 188.0L629.2 188.0L632.3 188.0L635.5 188.0L638.7 188.0L641.9 188.0L645.1 188.0L648.3 188.0L651.4 188.0L654.6 188.0L657.8 188.0L661.0 188.0M619.6 190.5L622.8 190.5L626.0 190.5L629.2 190.5L632.3 190.5L635.5 190.5L638.7 190.5L641.9 190.5L645.1 190.5L648.3 190.5L651.4 190.5L654.6 190.5L657.8 190.5L661.0 190.5M619.6 201.5L622.8 201.5L626.0 201.5L629.2 201.4L632.3 201.4L635.5 201.3L638.7 201.3L641.9 201.2L645.1 201.2L648.3 201.1L651.4 201.1L654.6 201.0L657.8 201.0L661.0 201.0M619.6 204.0L622.8 204.0L626.0 204.0L629.2 203.9L632.3 203.9L635.5 203.8L638.7 203.8L641.9 203.7L645.1 203.7L648.3 203.6L651.4 203.6L654.6 203.5L657.8 203.5L661.0 203.5M619.6 206.5L622.8 206.5L626.0 206.5L629.2 206.4L632.3 206.4L635.5 206.3L638.7 206.3L641.9 206.2L645.1 206.2L648.3 206.1L651.4 206.1L654.6 206.0L657.8 206.0L661.0 206.0M619.6 210.0L622.8 210.0L626.0 210.1L629.2 210.3L632.3 210.4L635.5 210.6L638.7 210.9L641.9 211.1L645.1 211.4L648.3 211.6L651.4 211.7L654.6 211.9L657.8 212.0L661.0 212.0M619.6 214.5L622.8 214.5L626.0 214.4L629.2 214.2L632.3 214.0L635.5 213.7L638.7 213.4L641.9 213.1L645.1 212.8L648.3 212.5L651.4 212.3L654.6 212.1L657.8 212.0L661.0 212.0M619.6 218.0L622.8 218.1L626.0 218.2L629.2 218.5L632.3 218.9L635.5 219.3L638.7 219.8L641.9 220.2L645.1 220.7L648.3 221.1L651.4 221.5L654.6 221.8L657.8 221.9L661.0 222.0M619.6 221.0L622.8 221.0L626.0 221.1L629.2 221.1L632.3 221.2L635.5 221.3L638.7 221.4L641.9 221.6L645.1 221.7L648.3 221.8L651.4 221.9L654.6 221.9L657.8 222.0L661.0 222.0M619.6 224.0L622.8 224.0L626.0 224.0L629.2 224.0L632.3 224.0L635.5 224.0L638.7 224.0L641.9 224.0L645.1 224.0L648.3 224.0L651.4 224.0L654.6 224.0L657.8 224.0L661.0 224.0M619.6 226.5L622.8 226.5L626.0 226.5L629.2 226.4L632.3 226.4L635.5 226.3L638.7 226.3L641.9 226.2L645.1 226.2L648.3 226.1L651.4 226.1L654.6 226.0L657.8 226.0L661.0 226.0M619.6 229.5L622.8 229.5L626.0 229.5L629.2 229.4L632.3 229.4L635.5 229.3L638.7 229.3L641.9 229.2L645.1 229.2L648.3 229.1L651.4 229.1L654.6 229.0L657.8 229.0L661.0 229.0M619.6 233.0L622.8 233.1L626.0 233.2L629.2 233.5L632.3 233.9L635.5 234.3L638.7 234.8L641.9 235.2L645.1 235.7L648.3 236.1L651.4 236.5L654.6 236.8L657.8 236.9L661.0 237.0M619.6 241.0L622.8 240.9L626.0 240.8L629.2 240.5L632.3 240.1L635.5 239.7L638.7 239.2L641.9 238.8L645.1 238.3L648.3 237.9L651.4 237.5L654.6 237.2L657.8 237.1L661.0 237.0M619.6 244.0L622.8 244.0L626.0 244.0L629.2 244.0L632.3 244.0L635.5 244.0L638.7 244.0L641.9 244.0L645.1 244.0L648.3 244.0L651.4 244.0L654.6 244.0L657.8 244.0L661.0 244.0M619.6 247.0L622.8 247.0L626.0 247.0L629.2 247.0L632.3 247.0L635.5 247.0L638.7 247.0L641.9 247.0L645.1 247.0L648.3 247.0L651.4 247.0L654.6 247.0L657.8 247.0L661.0 247.0M619.6 293.0L622.8 293.1L626.0 293.3L629.2 293.7L632.3 294.1L635.5 294.7L638.7 295.3L641.9 295.9L645.1 296.5L648.3 297.1L651.4 297.5L654.6 297.9L657.8 298.1L661.0 298.2M619.6 308.0L622.8 307.9L626.0 307.4L629.2 306.8L632.3 305.9L635.5 304.8L638.7 303.7L641.9 302.5L645.1 301.4L648.3 300.3L651.4 299.4L654.6 298.8L657.8 298.3L661.0 298.2M619.6 308.0L622.8 308.1L626.0 308.5L629.2 309.2L632.3 310.1L635.5 311.1L638.7 312.2L641.9 313.3L645.1 314.4L648.3 315.4L651.4 316.3L654.6 317.0L657.8 317.4L661.0 317.5M619.6 321.7L622.8 321.6L626.0 321.5L629.2 321.2L632.3 320.8L635.5 320.3L638.7 319.9L641.9 319.3L645.1 318.9L648.3 318.4L651.4 318.0L654.6 317.7L657.8 317.6L661.0 317.5M619.6 325.0L622.8 325.0L626.0 325.0L629.2 325.0L632.3 325.0L635.5 325.0L638.7 325.0L641.9 325.0L645.1 325.0L648.3 325.0L651.4 325.0L654.6 325.0L657.8 325.0L661.0 325.0M619.6 327.0L622.8 327.0L626.0 327.0L629.2 326.9L632.3 326.9L635.5 326.8L638.7 326.8L641.9 326.7L645.1 326.7L648.3 326.6L651.4 326.6L654.6 326.5L657.8 326.5L661.0 326.5M619.6 399.0L622.8 399.1L626.0 399.2L629.2 399.5L632.3 399.9L635.5 400.4L638.7 400.9L641.9 401.4L645.1 401.9L648.3 402.4L651.4 402.8L654.6 403.1L657.8 403.2L661.0 403.3M619.6 415.6L622.8 415.4L626.0 414.9L629.2 414.1L632.3 412.9L635.5 411.6L638.7 410.2L641.9 408.7L645.1 407.3L648.3 406.0L651.4 404.8L654.6 404.0L657.8 403.5L661.0 403.3M619.6 415.6L622.8 415.7L626.0 416.0L629.2 416.5L632.3 417.2L635.5 417.9L638.7 418.8L641.9 419.6L645.1 420.5L648.3 421.2L651.4 421.9L654.6 422.4L657.8 422.7L661.0 422.8M619.6 427.8L622.8 427.7L626.0 427.5L629.2 427.2L632.3 426.7L635.5 426.2L638.7 425.6L641.9 425.0L645.1 424.4L648.3 423.9L651.4 423.4L654.6 423.1L657.8 422.9L661.0 422.8M619.6 368.6L622.8 368.6L626.0 368.6L629.2 368.6L632.3 368.6L635.5 368.6L638.7 368.6L641.9 368.6L645.1 368.7L648.3 368.7L651.4 368.7L654.6 368.7L657.8 368.7L661.0 368.7M619.6 372.4L622.8 372.4L626.0 372.4L629.2 372.4L632.3 372.5L635.5 372.5L638.7 372.5L641.9 372.6L645.1 372.6L648.3 372.7L651.4 372.7L654.6 372.7L657.8 372.7L661.0 372.7M619.6 374.7L622.8 374.6L626.0 374.6L629.2 374.6L632.3 374.5L635.5 374.5L638.7 374.4L641.9 374.3L645.1 374.2L648.3 374.2L651.4 374.1L654.6 374.1L657.8 374.1L661.0 374.0M619.6 377.8L622.8 377.8L626.0 377.8L629.2 377.8L632.3 377.9L635.5 377.9L638.7 378.0L641.9 378.0L645.1 378.1L648.3 378.2L651.4 378.2L654.6 378.2L657.8 378.3L661.0 378.3M619.6 380.5L622.8 380.5L626.0 380.5L629.2 380.5L632.3 380.6L635.5 380.6L638.7 380.6L641.9 380.7L645.1 380.8L648.3 380.8L651.4 380.8L654.6 380.9L657.8 380.9L661.0 380.9M619.6 384.6L622.8 384.5L626.0 384.4L629.2 384.3L632.3 384.1L635.5 383.8L638.7 383.5L641.9 383.2L645.1 382.9L648.3 382.6L651.4 382.4L654.6 382.3L657.8 382.1L661.0 382.1M619.6 387.2L622.8 387.1L626.0 387.1L629.2 387.0L632.3 386.8L635.5 386.6L638.7 386.4L641.9 386.3L645.1 386.1L648.3 385.9L651.4 385.7L654.6 385.6L657.8 385.6L661.0 385.5M619.6 389.8L622.8 389.8L626.0 389.8L629.2 389.7L632.3 389.7L635.5 389.7L638.7 389.7L641.9 389.6L645.1 389.6L648.3 389.6L651.4 389.5L654.6 389.5L657.8 389.5L661.0 389.5M619.6 391.9L622.8 391.9L626.0 391.8L629.2 391.6L632.3 391.4L635.5 391.2L638.7 391.0L641.9 390.7L645.1 390.5L648.3 390.3L651.4 390.1L654.6 390.0L657.8 389.9L661.0 389.8M619.6 396.8L622.8 396.8L626.0 396.6L629.2 396.4L632.3 396.1L635.5 395.7L638.7 395.3L641.9 394.9L645.1 394.5L648.3 394.2L651.4 393.9L654.6 393.6L657.8 393.5L661.0 393.4M619.6 429.3L622.8 429.4L626.0 429.4L629.2 429.4L632.3 429.5L635.5 429.5L638.7 429.6L641.9 429.6L645.1 429.7L648.3 429.8L651.4 429.8L654.6 429.8L657.8 429.9L661.0 429.9M619.6 432.3L622.8 432.4L626.0 432.5L629.2 432.6L632.3 432.8L635.5 433.1L638.7 433.3L641.9 433.6L645.1 433.9L648.3 434.2L651.4 434.4L654.6 434.5L657.8 434.6L661.0 434.7M619.6 435.2L622.8 435.2L626.0 435.2L629.2 435.3L632.3 435.3L635.5 435.4L638.7 435.5L641.9 435.6L645.1 435.7L648.3 435.8L651.4 435.9L654.6 435.9L657.8 436.0L661.0 436.0M619.6 435.7L622.8 435.7L626.0 435.7L629.2 435.8L632.3 436.0L635.5 436.1L638.7 436.3L641.9 436.5L645.1 436.7L648.3 436.8L651.4 437.0L654.6 437.1L657.8 437.1L661.0 437.2M619.6 440.7L622.8 440.7L626.0 440.6L629.2 440.5L632.3 440.4L635.5 440.2L638.7 440.1L641.9 439.9L645.1 439.7L648.3 439.6L651.4 439.4L654.6 439.3L657.8 439.3L661.0 439.3M619.6 443.2L622.8 443.2L626.0 443.2L629.2 443.1L632.3 443.1L635.5 443.0L638.7 443.0L641.9 442.9L645.1 442.9L648.3 442.8L651.4 442.8L654.6 442.8L657.8 442.7L661.0 442.7M619.6 443.0L622.8 442.9L626.0 442.9L629.2 442.7L632.3 442.6L635.5 442.4L638.7 442.2L641.9 442.0L645.1 441.8L648.3 441.6L651.4 441.5L654.6 441.4L657.8 441.3L661.0 441.3M619.6 446.6L622.8 446.5L626.0 446.4L629.2 446.2L632.3 446.0L635.5 445.7L638.7 445.3L641.9 445.0L645.1 444.7L648.3 444.4L651.4 444.1L654.6 444.0L657.8 443.8L661.0 443.8M619.6 445.7L622.8 445.7L626.0 445.8L629.2 446.0L632.3 446.2L635.5 446.5L638.7 446.8L641.9 447.1L645.1 447.4L648.3 447.7L651.4 447.9L654.6 448.1L657.8 448.2L661.0 448.2M619.6 451.1L622.8 451.1L626.0 451.0L629.2 451.0L632.3 451.0L635.5 451.0L638.7 450.9L641.9 450.9L645.1 450.8L648.3 450.8L651.4 450.8L654.6 450.7L657.8 450.7L661.0 450.7M619.6 453.6L622.8 453.5L626.0 453.4L629.2 453.2L632.3 452.9L635.5 452.5L638.7 452.1L641.9 451.7L645.1 451.3L648.3 450.9L651.4 450.6L654.6 450.4L657.8 450.3L661.0 450.2M619.6 452.2L622.8 452.2L626.0 452.2L629.2 452.1L632.3 452.1L635.5 452.1L638.7 452.1L641.9 452.0L645.1 452.0L648.3 452.0L651.4 452.0L654.6 451.9L657.8 451.9L661.0 451.9M619.6 457.8L622.8 457.8L626.0 457.6L629.2 457.3L632.3 457.0L635.5 456.6L638.7 456.1L641.9 455.6L645.1 455.2L648.3 454.8L651.4 454.4L654.6 454.2L657.8 454.0L661.0 453.9M619.6 456.6L622.8 456.6L626.0 456.6L629.2 456.5L632.3 456.4L635.5 456.3L638.7 456.2L641.9 456.1L645.1 455.9L648.3 455.8L651.4 455.7L654.6 455.4L657.8 455.2L661.0 455.1M619.6 458.3L622.8 458.2L626.0 458.2L629.2 458.2L632.3 458.1L635.5 458.1L638.7 457.9L641.9 457.2L645.1 456.6L648.3 456.1L651.4 455.7L654.6 455.4L657.8 455.2L661.0 455.1M619.6 461.5L622.8 461.5L626.0 461.6L629.2 462.4M632.3 459.4L635.5 458.6L638.7 457.9L641.9 457.2L645.1 456.6L648.3 456.1L651.4 455.7L654.6 455.4L657.8 455.2L661.0 455.1M619.6 463.4L622.8 463.5L626.0 463.6L629.2 463.7L632.3 463.9L635.5 464.1L638.7 464.7L641.9 465.4L645.1 466.0L648.3 466.5L651.4 466.9L654.6 467.2L657.8 467.4L661.0 467.5M619.6 464.9L622.8 465.0L626.0 465.1L629.2 465.2L632.3 465.4L635.5 465.6L638.7 465.8L641.9 466.1L645.1 466.3L648.3 466.5L651.4 466.9L654.6 467.2L657.8 467.4L661.0 467.5M619.6 469.3L622.8 469.3L626.0 469.2L629.2 469.1L632.3 469.0L635.5 468.9L638.7 468.7L641.9 468.6L645.1 468.4L648.3 468.3L651.4 468.2L654.6 468.1L657.8 468.0L661.0 468.0M619.6 470.7L622.8 470.7L626.0 470.7L629.2 470.7L632.3 470.7L635.5 470.8L638.7 470.8L641.9 470.8L645.1 470.8L648.3 470.8L651.4 470.8L654.6 470.8L657.8 470.8L661.0 470.8M619.6 472.8L622.8 472.8L626.0 472.7L629.2 472.6L632.3 472.4L635.5 472.2L638.7 471.9L641.9 471.6L645.1 471.4L648.3 471.2L651.4 471.0L654.6 470.8L657.8 470.7L661.0 470.7M619.6 473.9L622.8 473.9L626.0 473.8L629.2 473.8L632.3 473.7L635.5 473.5L638.7 473.4L641.9 473.3L645.1 473.2L648.3 473.0L651.4 472.9L654.6 472.9L657.8 472.8L661.0 472.8M619.6 476.2L622.8 476.3L626.0 476.3L629.2 476.4L632.3 476.6L635.5 476.8L638.7 476.9L641.9 477.1L645.1 477.3L648.3 477.5L651.4 477.6L654.6 477.7L657.8 477.8L661.0 477.8M619.6 478.4L622.8 478.4L626.0 478.3L629.2 478.1L632.3 477.9L635.5 477.7L638.7 477.4L641.9 477.2L645.1 476.9L648.3 476.7L651.4 476.5L654.6 476.3L657.8 476.2L661.0 476.2M619.6 480.7L622.8 480.7L626.0 480.7L629.2 480.8L632.3 480.8L635.5 480.9L638.7 480.9L641.9 481.0L645.1 481.0L648.3 481.1L651.4 481.1L654.6 481.2L657.8 481.2L661.0 481.2M619.6 482.6L622.8 482.6L626.0 482.7L629.2 482.7L632.3 482.7L635.5 482.7L638.7 482.7L641.9 482.7L645.1 482.7L648.3 482.8L651.4 482.8L654.6 482.8L657.8 482.8L661.0 482.8M619.6 483.3L622.8 483.3L626.0 483.2L629.2 483.2L632.3 483.1L635.5 483.0L638.7 482.8L641.9 482.7L645.1 482.6L648.3 482.5L651.4 482.4L654.6 482.3L657.8 482.3L661.0 482.3M619.6 487.7L622.8 487.6L626.0 487.5L629.2 487.2L632.3 486.9L635.5 486.6L638.7 486.2L641.9 485.7L645.1 485.3L648.3 485.0L651.4 484.7L654.6 484.4L657.8 484.3L661.0 484.3M619.6 488.3L622.8 488.3L626.0 488.3L629.2 488.2L632.3 488.1L635.5 488.1L638.7 488.0L641.9 487.9L645.1 487.8L648.3 487.8L651.4 487.7L654.6 487.7L657.8 487.6L661.0 487.6M619.6 489.9L622.8 489.9L626.0 489.8L629.2 489.7L632.3 489.6L635.5 489.4L638.7 489.2L641.9 489.0L645.1 488.8L648.3 488.6L651.4 488.5L654.6 488.4L657.8 488.3L661.0 488.3M619.6 491.3L622.8 491.3L626.0 491.4L629.2 491.6L632.3 491.8L635.5 492.1L638.7 492.5L641.9 492.8L645.1 493.1L648.3 493.4L651.4 493.6L654.6 493.8L657.8 493.9L661.0 494.0M619.6 496.1L622.8 496.1L626.0 496.1L629.2 496.1L632.3 496.0L635.5 496.0L638.7 496.0L641.9 496.0L645.1 496.0L648.3 496.0L651.4 496.0L654.6 496.0L657.8 496.0L661.0 496.0M619.6 497.3L622.8 497.4L626.0 497.4L629.2 497.4L632.3 497.5L635.5 497.6L638.7 497.7L641.9 497.7L645.1 497.8L648.3 497.9L651.4 498.0L654.6 498.0L657.8 498.1L661.0 498.1M619.6 500.9L622.8 500.9L626.0 500.8L629.2 500.6L632.3 500.4L635.5 500.2L638.7 500.0L641.9 499.7L645.1 499.5L648.3 499.2L651.4 499.0L654.6 498.9L657.8 498.8L661.0 498.8M619.6 501.6L622.8 501.6L626.0 501.5L629.2 501.5L632.3 501.3L635.5 501.2L638.7 501.1L641.9 500.9L645.1 500.8L648.3 500.6L651.4 500.5L654.6 500.4L657.8 500.4L661.0 500.4M619.6 502.5L622.8 502.5L626.0 502.5L629.2 502.4L632.3 502.4L635.5 502.3L638.7 502.2L641.9 502.1L645.1 502.1L648.3 502.0L651.4 501.9L654.6 501.9L657.8 501.9L661.0 501.9M619.6 506.6L622.8 506.5L626.0 506.4L629.2 506.1L632.3 505.8L635.5 505.5L638.7 505.1L641.9 504.7L645.1 504.3L648.3 503.9L651.4 503.6L654.6 503.4L657.8 503.2L661.0 503.2M619.6 509.1L622.8 509.1L626.0 509.0L629.2 508.8L632.3 508.6L635.5 508.3L638.7 508.0L641.9 507.7L645.1 507.3L648.3 507.1L651.4 506.8L654.6 506.6L657.8 506.5L661.0 506.5M619.6 510.2L622.8 510.2L626.0 510.2L629.2 510.2L632.3 510.1L635.5 510.1L638.7 510.0L641.9 510.0L645.1 509.9L648.3 509.9L651.4 509.8L654.6 509.8L657.8 509.8L661.0 509.8M619.6 512.5L622.8 512.4L626.0 512.3L629.2 512.0L632.3 511.7L635.5 511.4L638.7 511.0L641.9 510.6L645.1 510.2L648.3 509.8L651.4 509.5L654.6 509.3L657.8 509.1L661.0 509.1M619.6 513.0L622.8 512.9L626.0 512.8L629.2 512.7L632.3 512.4L635.5 512.2L638.7 511.9L641.9 511.6L645.1 511.3L648.3 511.1L651.4 510.9L654.6 510.7L657.8 510.6L661.0 510.6M619.6 514.1L622.8 514.2L626.0 514.3L629.2 514.4L632.3 514.6L635.5 514.9L638.7 515.1L641.9 515.4L645.1 515.7L648.3 515.9L651.4 516.1L654.6 516.3L657.8 516.4L661.0 516.4M619.6 518.5L622.8 518.5L626.0 518.5L629.2 518.5L632.3 518.5L635.5 518.5L638.7 518.5L641.9 518.5L645.1 518.5L648.3 518.5L651.4 518.5L654.6 518.5L657.8 518.5L661.0 518.5M619.6 521.3L622.8 521.3L626.0 521.1L629.2 520.9L632.3 520.6L635.5 520.2L638.7 519.8L641.9 519.4L645.1 519.0L648.3 518.7L651.4 518.4L654.6 518.1L657.8 518.0L661.0 517.9M619.6 524.1L622.8 524.1L626.0 524.0L629.2 523.9L632.3 523.7L635.5 523.6L638.7 523.4L641.9 523.2L645.1 523.0L648.3 522.8L651.4 522.6L654.6 522.5L657.8 522.4L661.0 522.4M619.6 524.2L622.8 524.1L626.0 524.0L629.2 523.8L632.3 523.5L635.5 523.2L638.7 522.8L641.9 522.4L645.1 522.1L648.3 521.7L651.4 521.5L654.6 521.3L657.8 521.1L661.0 521.1M619.6 525.7L622.8 525.6L626.0 525.5L629.2 525.4L632.3 525.2L635.5 525.0L638.7 524.7L641.9 524.4L645.1 524.2L648.3 523.9L651.4 523.7L654.6 523.6L657.8 523.5L661.0 523.5M619.6 527.9L622.8 527.9L626.0 527.8L629.2 527.6L632.3 527.3L635.5 527.0L638.7 526.7L641.9 526.4L645.1 526.1L648.3 525.8L651.4 525.5L654.6 525.3L657.8 525.2L661.0 525.2M619.6 531.4L622.8 531.4L626.0 531.4L629.2 531.3L632.3 531.3L635.5 531.2L638.7 531.1L641.9 531.1L645.1 531.0L648.3 530.9L651.4 530.9L654.6 530.8L657.8 530.8L661.0 530.8M619.6 531.5L622.8 531.5L626.0 531.5L629.2 531.5L632.3 531.6L635.5 531.6L638.7 531.7L641.9 531.8L645.1 531.8L648.3 531.9L651.4 532.0L654.6 532.0L657.8 532.0L661.0 532.0M619.6 535.0L622.8 535.0L626.0 534.9L629.2 534.8L632.3 534.6L635.5 534.3L638.7 534.1L641.9 533.8L645.1 533.6L648.3 533.3L651.4 533.1L654.6 533.0L657.8 532.9L661.0 532.9M619.6 538.4L622.8 538.3L626.0 538.2L629.2 537.9L632.3 537.5L635.5 537.1L638.7 536.7L641.9 536.2L645.1 535.7L648.3 535.3L651.4 535.0L654.6 534.7L657.8 534.5L661.0 534.5"/></g>
<g clip-path="url(#c3)" fill="none" stroke="#ff0000" stroke-width="2.5" stroke-linejoin="round"><path d="M673.4 189.0L676.6 189.0L679.8 189.1L683.0 189.1L686.3 189.2L689.5 189.3L692.7 189.4L695.9 189.6L699.1 189.7L702.3 189.8L705.6 189.9L708.8 189.9L712.0 190.0L715.2 190.0M673.4 194.5L676.6 194.4L679.8 194.2L683.0 193.9L686.3 193.5L689.5 193.0L692.7 192.5L695.9 192.0L699.1 191.5L702.3 191.0L705.6 190.6L708.8 190.3L712.0 190.1L715.2 190.0M673.4 201.0L676.6 201.0L679.8 201.0L683.0 201.1L686.3 201.1L689.5 201.2L692.7 201.2L695.9 201.3L699.1 201.3L702.3 201.4L705.6 201.4L708.8 201.5L712.0 201.5L715.2 201.5M673.4 203.5L676.6 203.5L679.8 203.5L683.0 203.5L686.3 203.5L689.5 203.5L692.7 203.5L695.9 203.5L699.1 203.5L702.3 203.5L705.6 203.5L708.8 203.5L712.0 203.5L715.2 203.5M673.4 206.0L676.6 206.0L679.8 206.0L683.0 205.9L686.3 205.9L689.5 205.8L692.7 205.8L695.9 205.7L699.1 205.7L702.3 205.6L705.6 205.6L708.8 205.5L712.0 205.5L715.2 205.5M673.4 209.0L676.6 209.1L679.8 209.3L683.0 209.6L686.3 210.1L689.5 210.6L692.7 211.2L695.9 211.8L699.1 212.4L702.3 212.9L705.6 213.4L708.8 213.7L712.0 213.9L715.2 214.0M673.4 219.0L676.6 218.9L679.8 218.7L683.0 218.4L686.3 217.9L689.5 217.4L692.7 216.8L695.9 216.2L699.1 215.6L702.3 215.1L705.6 214.6L708.8 214.3L712.0 214.1L715.2 214.0M673.4 215.0L676.6 215.0L679.8 215.1L683.0 215.1L686.3 215.2L689.5 215.3L692.7 215.4L695.9 215.6L699.1 215.7L702.3 215.8L705.6 215.9L708.8 215.9L712.0 216.0L715.2 216.0M673.4 220.0L676.6 220.1L679.8 220.2L683.0 220.5L686.3 220.9L689.5 221.3L692.7 221.8L695.9 222.2L699.1 222.7L702.3 223.1L705.6 223.5L708.8 223.8L712.0 223.9L715.2 224.0M673.4 228.0L676.6 227.9L679.8 227.8L683.0 227.5L686.3 227.1L689.5 226.7L692.7 226.2L695.9 225.8L699.1 225.3L702.3 224.9L705.6 224.5L708.8 224.2L712.0 224.1L715.2 224.0M673.4 230.0L676.6 230.0L679.8 230.0L683.0 230.0L686.3 230.0L689.5 230.0L692.7 230.0L695.9 230.0L699.1 230.0L702.3 230.0L705.6 230.0L708.8 230.0L712.0 230.0L715.2 230.0M673.4 232.5L676.6 232.5L679.8 232.5L683.0 232.5L686.3 232.5L689.5 232.5L692.7 232.5L695.9 232.5L699.1 232.5L702.3 232.5L705.6 232.5L708.8 232.5L712.0 232.5L715.2 232.5M673.4 235.0L676.6 235.0L679.8 234.9L683.0 234.9L686.3 234.8L689.5 234.7L692.7 234.6L695.9 234.4L699.1 234.3L702.3 234.2L705.6 234.1L708.8 234.1L712.0 234.0L715.2 234.0M673.4 237.0L676.6 237.0L679.8 236.9L683.0 236.9L686.3 236.8L689.5 236.7L692.7 236.6L695.9 236.4L699.1 236.3L702.3 236.2L705.6 236.1L708.8 236.1L712.0 236.0L715.2 236.0M673.4 239.0L676.6 239.1L679.8 239.3L683.0 239.8L686.3 240.3L689.5 240.9L692.7 241.6L695.9 242.4L699.1 243.1L702.3 243.7L705.6 244.2L708.8 244.7L712.0 244.9L715.2 245.0M673.4 249.0L676.6 248.9L679.8 248.8L683.0 248.5L686.3 248.1L689.5 247.7L692.7 247.2L695.9 246.8L699.1 246.3L702.3 245.9L705.6 245.5L708.8 245.2L712.0 245.1L715.2 245.0M673.4 295.0L676.6 295.1L679.8 295.2L683.0 295.5L686.3 295.9L689.5 296.4L692.7 296.8L695.9 297.4L699.1 297.8L702.3 298.3L705.6 298.7L708.8 299.0L712.0 299.1L715.2 299.2M673.4 308.8L676.6 308.6L679.8 308.2L683.0 307.5L686.3 306.7L689.5 305.7L692.7 304.6L695.9 303.4L699.1 302.3L702.3 301.3L705.6 300.4L708.8 299.7L712.0 299.3L715.2 299.2M673.4 308.8L676.6 308.9L679.8 309.2L683.0 309.7L686.3 310.5L689.5 311.3L692.7 312.2L695.9 313.2L699.1 314.1L702.3 315.0L705.6 315.7L708.8 316.2L712.0 316.6L715.2 316.7M673.4 319.6L676.6 319.6L679.8 319.4L683.0 319.2L686.3 319.0L689.5 318.7L692.7 318.3L695.9 318.0L699.1 317.6L702.3 317.3L705.6 317.1L708.8 316.9L712.0 316.7L715.2 316.7M673.4 326.0L676.6 326.0L679.8 326.0L683.0 326.0L686.3 326.0L689.5 326.0L692.7 326.0L695.9 326.0L699.1 326.0L702.3 326.0L705.6 326.0L708.8 326.0L712.0 326.0L715.2 326.0M673.4 327.5L676.6 327.5L679.8 327.5L683.0 327.5L686.3 327.5L689.5 327.5L692.7 327.5L695.9 327.5L699.1 327.5L702.3 327.5L705.6 327.5L708.8 327.5L712.0 327.5L715.2 327.5M673.4 400.6L676.6 400.6L679.8 400.8L683.0 401.0L686.3 401.3L689.5 401.7L692.7 402.1L695.9 402.5L699.1 402.9L702.3 403.3L705.6 403.6L708.8 403.8L712.0 404.0L715.2 404.0M673.4 411.7L676.6 411.6L679.8 411.3L683.0 410.7L686.3 410.0L689.5 409.2L692.7 408.3L695.9 407.4L699.1 406.5L702.3 405.7L705.6 405.0L708.8 404.4L712.0 404.1L715.2 404.0M673.4 416.0L676.6 416.1L679.8 416.5L683.0 417.1L686.3 417.9L689.5 418.9L692.7 420.0L695.9 421.0L699.1 422.1L702.3 423.1L705.6 423.9L708.8 424.5L712.0 424.9L715.2 425.0M673.4 427.2L676.6 427.2L679.8 427.1L683.0 426.9L686.3 426.7L689.5 426.5L692.7 426.2L695.9 426.0L699.1 425.7L702.3 425.5L705.6 425.3L708.8 425.1L712.0 425.0L715.2 425.0M673.4 364.5L676.6 364.5L679.8 364.6L683.0 364.7L686.3 364.9L689.5 365.1L692.7 365.3L695.9 365.6L699.1 365.8L702.3 366.0L705.6 366.2L708.8 366.3L712.0 366.4L715.2 366.5M673.4 366.5L676.6 366.6L679.8 366.7L683.0 367.0L686.3 367.4L689.5 367.8L692.7 368.3L695.9 368.8L699.1 369.2L702.3 369.7L705.6 370.0L708.8 370.3L712.0 370.5L715.2 370.5M673.4 370.1L676.6 370.2L679.8 370.3L683.0 370.4L686.3 370.6L689.5 370.8L692.7 371.1L695.9 371.3L699.1 371.6L702.3 371.8L705.6 372.0L708.8 372.1L712.0 372.2L715.2 372.3M673.4 372.7L676.6 372.7L679.8 372.7L683.0 372.8L686.3 372.9L689.5 373.0L692.7 373.1L695.9 373.3L699.1 373.4L702.3 373.5L705.6 373.6L708.8 373.7L712.0 373.8L715.2 373.8M673.4 375.7L676.6 375.7L679.8 375.7L683.0 375.8L686.3 375.9L689.5 376.0L692.7 376.1L695.9 376.2L699.1 376.3L702.3 376.4L705.6 376.5L708.8 376.5L712.0 376.6L715.2 376.6M673.4 378.4L676.6 378.4L679.8 378.4L683.0 378.5L686.3 378.6L689.5 378.6L692.7 378.7L695.9 378.8L699.1 378.9L702.3 379.0L705.6 379.0L708.8 379.1L712.0 379.1L715.2 379.1M673.4 381.1L676.6 381.1L679.8 381.1L683.0 381.1L686.3 381.1L689.5 381.0L692.7 381.0L695.9 381.0L699.1 380.9L702.3 380.9L705.6 380.9L708.8 380.9L712.0 380.8L715.2 380.8M673.4 381.9L676.6 381.9L679.8 382.0L683.0 382.0L686.3 382.0L689.5 382.1L692.7 382.1L695.9 382.2L699.1 382.2L702.3 382.3L705.6 382.3L708.8 382.4L712.0 382.4L715.2 382.4M673.4 386.0L676.6 386.0L679.8 385.9L683.0 385.8L686.3 385.7L689.5 385.6L692.7 385.4L695.9 385.3L699.1 385.1L702.3 385.0L705.6 384.9L708.8 384.8L712.0 384.8L715.2 384.8M673.4 388.4L676.6 388.4L679.8 388.4L683.0 388.4L686.3 388.4L689.5 388.3L692.7 388.3L695.9 388.3L699.1 388.3L702.3 388.3L705.6 388.3L708.8 388.2L712.0 388.2L715.2 388.2M673.4 389.4L676.6 389.4L679.8 389.5L683.0 389.6L686.3 389.7L689.5 389.9L692.7 390.1L695.9 390.3L699.1 390.5L702.3 390.6L705.6 390.8L708.8 390.9L712.0 390.9L715.2 391.0M673.4 391.9L676.6 391.9L679.8 392.0L683.0 392.1L686.3 392.3L689.5 392.4L692.7 392.6L695.9 392.8L699.1 393.0L702.3 393.2L705.6 393.3L708.8 393.4L712.0 393.5L715.2 393.5M673.4 396.6L676.6 396.6L679.8 396.5L683.0 396.3L686.3 396.1L689.5 395.8L692.7 395.5L695.9 395.2L699.1 394.9L702.3 394.6L705.6 394.4L708.8 394.3L712.0 394.1L715.2 394.1M673.4 431.5L676.6 431.5L679.8 431.4L683.0 431.2L686.3 431.0L689.5 430.7L692.7 430.5L695.9 430.2L699.1 429.9L702.3 429.6L705.6 429.4L708.8 429.3L712.0 429.2L715.2 429.1M673.4 432.0L676.6 432.0L679.8 432.0L683.0 432.0L686.3 432.0L689.5 432.0L692.7 432.0L695.9 432.0L699.1 432.0L702.3 432.0L705.6 432.0L708.8 432.0L712.0 432.0L715.2 432.0M673.4 435.7L676.6 435.7L679.8 435.7L683.0 435.7L686.3 435.7L689.5 435.7L692.7 435.7L695.9 435.8L699.1 435.8L702.3 435.8L705.6 435.8L708.8 435.8L712.0 435.8L715.2 435.8M673.4 438.2L676.6 438.2L679.8 438.1L683.0 437.9L686.3 437.6L689.5 437.3L692.7 437.0L695.9 436.7L699.1 436.4L702.3 436.1L705.6 435.8L708.8 435.6L712.0 435.5L715.2 435.5M673.4 438.3L676.6 438.2L679.8 438.2L683.0 438.1L686.3 438.0L689.5 437.9L692.7 437.8L695.9 437.7L699.1 437.6L702.3 437.5L705.6 437.4L708.8 437.3L712.0 437.3L715.2 437.3M673.4 439.3L676.6 439.4L679.8 439.5L683.0 439.6L686.3 439.8L689.5 440.0L692.7 440.2L695.9 440.4L699.1 440.6L702.3 440.8L705.6 441.0L708.8 441.1L712.0 441.2L715.2 441.2M673.4 440.5L676.6 440.5L679.8 440.6L683.0 440.7L686.3 440.8L689.5 441.0L692.7 441.2L695.9 441.4L699.1 441.5L702.3 441.7L705.6 441.8L708.8 442.0L712.0 442.0L715.2 442.0M673.4 444.9L676.6 444.9L679.8 444.9L683.0 445.0L686.3 445.0L689.5 445.1L692.7 445.1L695.9 445.2L699.1 445.3L702.3 445.3L705.6 445.4L708.8 445.4L712.0 445.5L715.2 445.5M673.4 445.1L676.6 445.1L679.8 445.2L683.0 445.4L686.3 445.6L689.5 445.9L692.7 446.2L695.9 446.5L699.1 446.8L702.3 447.1L705.6 447.4L708.8 447.5L712.0 447.6L715.2 447.7M673.4 449.3L676.6 449.3L679.8 449.2L683.0 449.1L686.3 448.9L689.5 448.7L692.7 448.5L695.9 448.2L699.1 448.0L702.3 447.8L705.6 447.6L708.8 447.5L712.0 447.4L715.2 447.4M673.4 451.2L676.6 451.2L679.8 451.3L683.0 451.3L686.3 451.4L689.5 451.5L692.7 451.6L695.9 451.8L699.1 451.9L702.3 452.0L705.6 452.1L708.8 452.1L712.0 452.2L715.2 452.2M673.4 451.3L676.6 451.3L679.8 451.3L683.0 451.4L686.3 451.4L689.5 451.5L692.7 451.6L695.9 451.7L699.1 451.8L702.3 451.9L705.6 452.0L708.8 452.0L712.0 452.1L715.2 452.1M673.4 455.6L676.6 455.6L679.8 455.6L683.0 455.5L686.3 455.5L689.5 455.4L692.7 455.3L695.9 455.2L699.1 455.1L702.3 455.0L705.6 454.9L708.8 454.8L712.0 454.5L715.2 454.3M673.4 454.1L676.6 454.1L679.8 454.2L683.0 454.3L686.3 454.5L689.5 454.7L692.7 454.9L695.9 455.1L699.1 455.3L702.3 455.5L705.6 455.1L708.8 454.8L712.0 454.5L715.2 454.3M673.4 459.0L676.6 459.0L679.8 459.1L683.0 458.9L686.3 458.2L689.5 457.6L692.7 457.0M695.9 462.6L699.1 463.1L702.3 463.5L705.6 463.9L708.8 464.2L712.0 464.5L715.2 464.7M673.4 460.7L676.6 460.8L679.8 460.8L683.0 461.0L686.3 461.1L689.5 461.4L692.7 462.0L695.9 462.6L699.1 463.1L702.3 463.5L705.6 463.9L708.8 464.2L712.0 464.5L715.2 464.7M673.4 461.6L676.6 461.6L679.8 461.8L683.0 462.1L686.3 462.4L689.5 462.8L692.7 463.3L695.9 463.8L699.1 464.2L702.3 464.7L705.6 465.0L708.8 465.3L712.0 465.5L715.2 465.5M673.4 462.8L676.6 462.9L679.8 463.0L683.0 463.2L686.3 463.5L689.5 463.8L692.7 464.2L695.9 464.5L699.1 464.9L702.3 465.2L705.6 465.5L708.8 465.7L712.0 465.8L715.2 465.9M673.4 466.5L676.6 466.6L679.8 466.6L683.0 466.7L686.3 466.9L689.5 467.1L692.7 467.3L695.9 467.5L699.1 467.7L702.3 467.8L705.6 468.0L708.8 468.1L712.0 468.2L715.2 468.2M673.4 468.6L676.6 468.6L679.8 468.7L683.0 468.8L686.3 468.9L689.5 469.1L692.7 469.2L695.9 469.4L699.1 469.6L702.3 469.7L705.6 469.9L708.8 470.0L712.0 470.0L715.2 470.1M673.4 469.8L676.6 469.8L679.8 469.9L683.0 469.9L686.3 469.9L689.5 469.9L692.7 469.9L695.9 469.9L699.1 469.9L702.3 469.9L705.6 470.0L708.8 470.0L712.0 470.0L715.2 470.0M673.4 469.8L676.6 469.9L679.8 470.0L683.0 470.2L686.3 470.5L689.5 470.9L692.7 471.2L695.9 471.6L699.1 472.0L702.3 472.3L705.6 472.6L708.8 472.8L712.0 472.9L715.2 473.0M673.4 471.2L676.6 471.2L679.8 471.4L683.0 471.6L686.3 471.9L689.5 472.3L692.7 472.8L695.9 473.2L699.1 473.6L702.3 474.0L705.6 474.3L708.8 474.6L712.0 474.7L715.2 474.8M673.4 473.1L676.6 473.2L679.8 473.4L683.0 473.6L686.3 474.0L689.5 474.4L692.7 474.8L695.9 475.3L699.1 475.8L702.3 476.2L705.6 476.5L708.8 476.8L712.0 477.0L715.2 477.0M673.4 477.2L676.6 477.2L679.8 477.3L683.0 477.5L686.3 477.7L689.5 477.9L692.7 478.2L695.9 478.4L699.1 478.7L702.3 478.9L705.6 479.1L708.8 479.3L712.0 479.4L715.2 479.4M673.4 478.0L676.6 478.1L679.8 478.2L683.0 478.4L686.3 478.6L689.5 478.9L692.7 479.3L695.9 479.6L699.1 479.9L702.3 480.2L705.6 480.5L708.8 480.7L712.0 480.8L715.2 480.8M673.4 479.5L676.6 479.6L679.8 479.9L683.0 480.3L686.3 480.9L689.5 481.5L692.7 482.3L695.9 483.0L699.1 483.8L702.3 484.4L705.6 485.0L708.8 485.4L712.0 485.7L715.2 485.8M673.4 482.9L676.6 483.0L679.8 483.2L683.0 483.4L686.3 483.7L689.5 484.1L692.7 484.5L695.9 484.9L699.1 485.3L702.3 485.7L705.6 486.0L708.8 486.3L712.0 486.4L715.2 486.5M673.4 482.9L676.6 483.0L679.8 483.3L683.0 483.7L686.3 484.3L689.5 484.9L692.7 485.6L695.9 486.3L699.1 487.1L702.3 487.7L705.6 488.2L708.8 488.7L712.0 488.9L715.2 489.0M673.4 484.8L676.6 484.9L679.8 485.1L683.0 485.4L686.3 485.9L689.5 486.4L692.7 486.9L695.9 487.5L699.1 488.1L702.3 488.6L705.6 489.0L708.8 489.4L712.0 489.6L715.2 489.7M673.4 490.0L676.6 490.1L679.8 490.2L683.0 490.4L686.3 490.6L689.5 490.9L692.7 491.2L695.9 491.5L699.1 491.9L702.3 492.1L705.6 492.4L708.8 492.6L712.0 492.7L715.2 492.7M673.4 490.2L676.6 490.3L679.8 490.5L683.0 490.8L686.3 491.2L689.5 491.7L692.7 492.3L695.9 492.9L699.1 493.4L702.3 493.9L705.6 494.4L708.8 494.7L712.0 494.9L715.2 494.9M673.4 493.2L676.6 493.3L679.8 493.5L683.0 493.8L686.3 494.1L689.5 494.6L692.7 495.1L695.9 495.5L699.1 496.0L702.3 496.5L705.6 496.8L708.8 497.1L712.0 497.3L715.2 497.4M673.4 492.7L676.6 492.7L679.8 492.9L683.0 493.2L686.3 493.5L689.5 493.9L692.7 494.3L695.9 494.8L699.1 495.2L702.3 495.6L705.6 495.9L708.8 496.2L712.0 496.4L715.2 496.4M673.4 494.9L676.6 495.0L679.8 495.2L683.0 495.5L686.3 495.9L689.5 496.4L692.7 496.9L695.9 497.4L699.1 498.0L702.3 498.4L705.6 498.8L708.8 499.1L712.0 499.3L715.2 499.4M673.4 496.4L676.6 496.5L679.8 496.9L683.0 497.4L686.3 498.1L689.5 498.9L692.7 499.8L695.9 500.7L699.1 501.7L702.3 502.5L705.6 503.2L708.8 503.7L712.0 504.0L715.2 503.8M673.4 501.0L676.6 501.0L679.8 501.1L683.0 501.3L686.3 501.6L689.5 501.9L692.7 502.2L695.9 502.5L699.1 502.8L702.3 503.1L705.6 503.3L708.8 503.5L712.0 503.6L715.2 503.7M673.4 502.0L676.6 502.1L679.8 502.2L683.0 502.5L686.3 502.9L689.5 503.3L692.7 503.8L695.9 504.3L699.1 504.7L702.3 505.2L705.6 505.3L708.8 504.7L712.0 504.2L715.2 503.8M673.4 505.0L676.6 505.0L679.8 505.1L683.0 505.4L686.3 505.7L689.5 506.0L692.7 506.4L695.9 506.8L699.1 506.7L702.3 506.0L705.6 505.3L708.8 504.7L712.0 504.2L715.2 503.8M673.4 504.3L676.6 504.3L679.8 504.6L683.0 504.9L686.3 505.4L689.5 506.0L692.7 506.6L695.9 507.2L699.1 506.7L702.3 506.0L705.6 505.3M708.8 513.3L712.0 513.8L715.2 514.2M673.4 507.4L676.6 507.4L679.8 507.6L683.0 507.9L686.3 508.3L689.5 508.7L692.7 509.7L695.9 510.5L699.1 511.3L702.3 512.0L705.6 512.7L708.8 513.3L712.0 513.8L715.2 514.2M673.4 509.3L676.6 509.4L679.8 509.7L683.0 510.2L686.3 510.8L689.5 511.6L692.7 512.4L695.9 513.2L699.1 514.0L702.3 514.7L705.6 515.3L708.8 515.8L712.0 516.1L715.2 516.2M673.4 510.5L676.6 510.6L679.8 510.8L683.0 511.1L686.3 511.6L689.5 512.1L692.7 512.7L695.9 513.3L699.1 513.9L702.3 514.4L705.6 514.9L708.8 515.2L712.0 515.4L715.2 515.5M673.4 514.8L676.6 514.9L679.8 515.0L683.0 515.3L686.3 515.7L689.5 516.1L692.7 516.5L695.9 517.0L699.1 517.5L702.3 517.9L705.6 518.2L708.8 518.5L712.0 518.7L715.2 518.7M673.4 513.1L676.6 513.2L679.8 513.4L683.0 513.8L686.3 514.3L689.5 515.0L692.7 515.6L695.9 516.3L699.1 517.0L702.3 517.6L705.6 518.2L708.8 518.6L712.0 518.8L715.2 518.9M673.4 515.1L676.6 515.2L679.8 515.5L683.0 516.1L686.3 516.8L689.5 517.7L692.7 518.7L695.9 519.7L699.1 520.6L702.3 521.5L705.6 522.2L708.8 522.8L712.0 523.1L715.2 523.3M673.4 519.7L676.6 519.8L679.8 520.0L683.0 520.3L686.3 520.7L689.5 521.2L692.7 521.8L695.9 522.4L699.1 522.9L702.3 523.4L705.6 523.9L708.8 524.2L712.0 524.4L715.2 524.5M673.4 518.7L676.6 518.8L679.8 519.1L683.0 519.7L686.3 520.3L689.5 521.2L692.7 522.1L695.9 523.0L699.1 523.9L702.3 524.7L705.6 525.4L708.8 525.9L712.0 526.2L715.2 526.4M673.4 524.3L676.6 524.4L679.8 524.6L683.0 524.9L686.3 525.3L689.5 525.8L692.7 526.4L695.9 526.9L699.1 527.5L702.3 528.0L705.6 528.4L708.8 528.7L712.0 528.9L715.2 529.0M673.4 526.1L676.6 526.2L679.8 526.5L683.0 526.9L686.3 527.5L689.5 528.1L692.7 528.9L695.9 529.6L699.1 530.3L702.3 531.0L705.6 531.6L708.8 532.0L712.0 532.3L715.2 532.3M673.4 524.2L676.6 524.3L679.8 524.7L683.0 525.4L686.3 526.3L689.5 527.3L692.7 528.4L695.9 529.6L699.1 530.7L702.3 531.7L705.6 532.6L708.8 533.3L712.0 533.7L715.2 533.8M673.4 528.8L676.6 528.9L679.8 529.1L683.0 529.6L686.3 530.1L689.5 530.8L692.7 531.6L695.9 532.3L699.1 533.1L702.3 533.8L705.6 534.3L708.8 534.8L712.0 535.0L715.2 535.1"/></g>
<g clip-path="url(#c4)">
<path d="M729.8 183.0 L731.0 183.0 L736.0 188.0 L740.0 191.0 L736.0 194.0 L731.0 195.5 L729.8 195.5Z" fill="#9467bd"/>
<path d="M729.8 199.0 L731.0 199.0 L735.0 201.0 L734.0 205.0 L734.0 209.0 L731.0 211.0 L729.8 211.0Z" fill="#9467bd"/>
<path d="M729.8 213.0 L731.0 213.0 L740.0 215.0 L738.0 218.0 L745.0 220.0 L736.0 222.0 L734.0 226.0 L731.0 228.0 L729.8 228.0Z" fill="#9467bd"/>
<path d="M729.8 232.0 L731.0 232.0 L737.0 235.0 L736.0 240.0 L738.0 244.0 L742.0 247.0 L735.0 250.0 L731.0 251.0 L729.8 251.0Z" fill="#9467bd"/>
<path d="M729.8 292.5 L731.0 292.5 L740.0 296.0 L736.0 300.0 L734.0 305.0 L735.0 312.0 L737.0 318.0 L738.0 322.0 L738.0 326.0 L731.0 328.8 L729.8 328.8Z" fill="#9467bd"/>
<path d="M729.8 363.3 L731.0 363.3 L738.0 366.0 L736.0 370.0 L740.0 373.0 L737.0 376.0 L741.0 379.0 L738.0 383.0 L742.0 386.0 L739.0 390.0 L741.0 393.0 L737.0 396.0 L736.0 401.0 L733.0 406.0 L733.0 412.0 L733.5 420.0 L733.0 426.0 L739.0 430.0 L745.0 435.0 L748.0 440.0 L740.0 444.0 L737.0 450.0 L733.0 455.0 L734.0 462.0 L738.0 470.0 L738.0 474.0 L736.0 478.0 L733.0 482.0 L729.8 482.0Z" fill="#9467bd"/>
<path d="M733.0 482.0 L733.0 500.0 L733.0 519.0 L733.0 525.0 L733.0 532.0 L731.0 537.0" fill="none" stroke="#9467bd" stroke-width="2.5" stroke-linejoin="round"/>
<path d="M736.0 472.0 L745.0 474.0 L769.7 477.7 L752.0 479.0 L748.0 481.0 L742.0 484.0 L745.0 488.0 L743.0 492.0 L744.0 496.0 L742.0 500.0 L744.0 504.0 L741.0 508.0 L743.0 512.0 L739.0 516.0 L738.0 518.0" fill="none" stroke="#8c564b" stroke-width="2.5" stroke-linejoin="round"/>
<path d="M737.0 516.5 L788.0 519.5 L790.0 520.5 L770.0 523.0 L800.0 524.0 L850.0 527.0 L861.0 529.5 L840.0 531.0 L790.0 533.0 L760.0 534.5 L740.0 536.0 L731.0 538.0 L729.8 540.0 L731.0 535.0 L737.0 532.0 L737.0 516.5Z" fill="#ff7f0e"/>
<path d="M739.0 519.5 L762.0 521.0 L766.0 523.5 L746.0 526.5 L766.0 528.5 L746.0 531.0 L739.0 531.0Z" fill="#ffffff"/>
<path d="M765.0 522.8 L821.7 522.0 L765.0 524.2Z" fill="#1f77b4"/>
<path d="M742.0 529.0 L762.0 529.3 L742.0 530.3Z" fill="#1f77b4"/>
<path d="M790.0 527.7 L850.0 528.3 L790.0 529.4Z" fill="#1f77b4"/>
<path d="M729.8 198.7 L784.0 199.4 L790.0 200.5 L784.0 201.6 L729.8 202.3Z" fill="#17becf"/>
<path d="M729.8 201.7 L769.0 202.4 L775.0 203.5 L769.0 204.6 L729.8 205.3Z" fill="#d62728"/>
<path d="M729.8 204.4 L762.0 205.0 L768.0 206.0 L762.0 207.0 L729.8 207.6Z" fill="#d62728"/>
<path d="M729.8 209.0 L740.4 209.6 L745.0 210.5 L740.4 211.4 L729.8 212.0Z" fill="#e377c2"/>
<path d="M729.8 212.9 L738.3 213.5 L742.0 214.5 L738.3 215.5 L729.8 216.1Z" fill="#2ca02c"/>
<path d="M729.8 227.9 L760.0 228.5 L766.0 229.5 L760.0 230.5 L729.8 231.1Z" fill="#e377c2"/>
<path d="M729.8 227.9 L751.0 228.5 L757.0 229.5 L751.0 230.5 L729.8 231.1Z" fill="#d62728"/>
<path d="M729.8 231.0 L739.0 231.6 L743.0 232.5 L739.0 233.4 L729.8 234.0Z" fill="#2ca02c"/>
<path d="M729.8 239.8 L736.9 240.3 L740.0 241.0 L736.9 241.7 L729.8 242.2Z" fill="#ff7f0e"/>
<path d="M729.8 244.5 L740.4 245.1 L745.0 246.0 L740.4 246.9 L729.8 247.5Z" fill="#bcbd22"/>
<path d="M729.8 295.0 L740.4 296.2 L745.0 298.0 L740.4 299.8 L729.8 301.0Z" fill="#d62728"/>
<path d="M729.8 317.0 L740.4 317.6 L745.0 318.5 L740.4 319.4 L729.8 320.0Z" fill="#17becf"/>
<path d="M729.8 322.5 L742.5 323.3 L748.0 324.5 L742.5 325.7 L729.8 326.5Z" fill="#e377c2"/>
<path d="M729.8 324.5 L738.3 325.1 L742.0 326.0 L738.3 326.9 L729.8 327.5Z" fill="#d62728"/>
<path d="M729.8 364.5 L736.9 365.1 L740.0 366.0 L736.9 366.9 L729.8 367.5Z" fill="#2ca02c"/>
<path d="M729.8 371.5 L746.0 372.1 L752.0 373.0 L746.0 373.9 L729.8 374.5Z" fill="#d62728"/>
<path d="M729.8 378.0 L742.5 378.8 L748.0 380.0 L742.5 381.2 L729.8 382.0Z" fill="#ff7f0e"/>
<path d="M729.8 381.5 L746.0 382.1 L752.0 383.0 L746.0 383.9 L729.8 384.5Z" fill="#bcbd22"/>
<path d="M729.8 391.3 L746.0 391.9 L752.0 392.8 L746.0 393.7 L729.8 394.3Z" fill="#1f77b4"/>
<path d="M729.8 392.5 L740.4 393.1 L745.0 394.0 L740.4 394.9 L729.8 395.5Z" fill="#2ca02c"/>
<path d="M729.8 399.0 L739.0 399.6 L743.0 400.5 L739.0 401.4 L729.8 402.0Z" fill="#2ca02c"/>
<path d="M729.8 430.3 L766.0 430.8 L772.0 431.5 L766.0 432.2 L729.8 432.7Z" fill="#17becf"/>
<path d="M729.8 430.5 L764.0 431.0 L770.0 431.8 L764.0 432.6 L729.8 433.1Z" fill="#2ca02c"/>
<path d="M729.8 430.8 L749.0 431.3 L755.0 432.0 L749.0 432.7 L729.8 433.2Z" fill="#d62728"/>
<path d="M729.8 434.1 L751.0 434.7 L757.0 435.6 L751.0 436.5 L729.8 437.1Z" fill="#7f7f7f"/>
<path d="M729.8 434.1 L749.0 434.7 L755.0 435.6 L749.0 436.5 L729.8 437.1Z" fill="#d62728"/>
<path d="M729.8 438.2 L749.0 438.7 L755.0 439.4 L749.0 440.1 L729.8 440.6Z" fill="#1f77b4"/>
<path d="M729.8 445.2 L746.0 446.2 L752.0 447.7 L746.0 449.2 L729.8 450.2Z" fill="#2ca02c"/>
<path d="M729.8 454.5 L740.4 455.5 L745.0 457.0 L740.4 458.5 L729.8 459.5Z" fill="#ff7f0e"/>
<path d="M729.8 459.0 L739.7 459.8 L744.0 461.0 L739.7 462.2 L729.8 463.0Z" fill="#ff7f0e"/>
<path d="M729.8 476.5 L742.5 477.1 L748.0 478.0 L742.5 478.9 L729.8 479.5Z" fill="#17becf"/>
<path d="M729.8 469.5 L740.4 470.1 L745.0 471.0 L740.4 471.9 L729.8 472.5Z" fill="#d62728"/>
<path d="M730.0 183.3 L729.9 184.7 L745.0 186.0 L735.1 188.0 L782.0 190.0 L740.4 191.5 L760.0 193.0 L740.4 194.5 L790.0 196.0 L750.9 199.2 L870.0 202.5 L764.9 203.5 L830.0 204.5 L764.9 205.6 L835.0 206.7 L747.4 207.8 L780.0 209.0 L745.6 210.0 L775.0 211.0 L743.9 213.0 L770.0 215.0 L743.9 216.9 L822.0 218.8 L740.4 219.9 L760.0 221.0 L740.4 222.9 L785.0 224.8 L747.4 226.4 L780.0 228.0 L747.4 229.5 L870.0 231.0 L763.5 232.8 L826.0 234.7 L750.9 236.3 L790.0 238.0 L748.1 239.8 L782.0 241.5 L748.1 243.8 L799.0 246.0 L743.9 247.5 L770.0 249.0 L729.9 249.8 L730.0 250.5M730.0 292.5 L729.9 294.1 L768.0 295.6 L735.5 297.8 L746.0 300.0 L735.1 302.3 L745.0 304.6 L731.3 306.5 L734.0 308.4 L731.3 310.2 L742.0 312.0 L734.1 313.5 L751.0 315.0 L737.2 316.8 L796.0 318.5 L750.9 319.5 L790.0 320.5 L750.9 322.2 L858.0 324.0 L771.9 325.6 L850.0 327.3 L729.9 328.1 L730.0 328.8M730.0 363.3 L729.9 364.5 L760.0 365.6 L740.4 366.7 L816.0 367.8 L754.4 368.9 L800.0 370.0 L754.4 371.5 L855.0 373.0 L754.4 374.5 L800.0 376.0 L754.4 377.5 L849.0 379.0 L770.1 380.2 L845.0 381.4 L770.1 382.2 L845.0 383.0 L770.1 384.9 L850.0 386.7 L761.4 388.4 L820.0 390.0 L761.4 391.4 L870.0 392.8 L761.0 393.9 L819.0 395.0 L750.9 396.5 L790.0 398.0 L748.8 399.5 L784.0 401.0 L740.4 402.0 L760.0 403.0 L735.1 404.0 L745.0 405.0 L735.1 407.0 L750.0 409.0 L735.1 410.5 L745.0 412.0 L735.1 414.0 L755.0 416.0 L738.6 418.0 L760.0 420.0 L737.6 422.0 L752.0 424.0 L737.6 425.0 L760.0 426.0 L740.4 427.1 L773.0 428.3 L744.9 429.8 L870.0 431.3 L769.4 433.5 L843.0 435.6 L769.4 437.5 L858.0 439.4 L770.8 441.6 L847.0 443.9 L766.3 445.8 L834.0 447.7 L748.1 449.9 L782.0 452.0 L747.7 454.4 L781.0 456.7 L746.3 458.9 L777.0 461.0 L746.3 462.5 L800.0 464.0 L754.0 465.2 L799.0 466.5 L754.0 468.1 L806.0 469.6 L756.5 471.5 L816.0 473.3 L760.0 475.1 L870.0 477.0 L816.3 478.5 L850.0 480.0 L789.0 481.5 L812.0 483.0 L773.1 484.5 L790.0 486.0 L763.1 487.5 L776.0 489.0 L763.1 490.5 L788.0 492.0 L758.7 493.5 L770.0 495.0 L758.7 496.2 L786.0 497.5 L751.5 499.2 L760.0 501.0 L751.5 502.7 L799.0 504.4 L758.7 506.2 L770.0 508.0 L758.7 510.4 L788.0 512.7 L771.7 514.5 L795.0 516.4 L752.6 517.2 L800.0 518.0 L754.4 519.5 L870.0 521.0 L766.6 522.5 L835.0 524.0 L766.6 525.5 L870.0 527.0 L778.9 528.5 L870.0 530.0 L761.4 531.9 L820.0 533.8 L750.9 534.9 L790.0 536.0 L729.9 537.2 L730.0 538.5" fill="none" stroke="#000" stroke-width="1.3" stroke-dasharray="1.2 1.3"/>
</g>
<g fill="none" stroke="#000" stroke-width="2">
<rect x="119.8" y="161.9" width="431.1" height="402.9"/>
<rect x="567.3" y="161.9" width="37.5" height="402.9"/>
<rect x="621.6" y="161.9" width="37.4" height="402.9"/>
<rect x="675.4" y="161.9" width="37.8" height="402.9"/>
<rect x="729.8" y="161.9" width="134.2" height="402.9"/>
</g>
<g font-family="Liberation Sans, sans-serif" font-size="23" fill="#000">
<text x="111" y="555.0" text-anchor="end">0</text>
<text x="111" y="498.8" text-anchor="end">5</text>
<text x="111" y="442.6" text-anchor="end">10</text>
<text x="111" y="386.4" text-anchor="end">15</text>
<text x="111" y="330.2" text-anchor="end">20</text>
<text x="111" y="274.0" text-anchor="end">25</text>
<text x="111" y="217.8" text-anchor="end">30</text>
<text x="119.8" y="587.5" text-anchor="middle">Γ</text>
<text x="175.3" y="587.5" text-anchor="middle">X</text>
<text x="218.1" y="587.5" text-anchor="middle">S</text>
<text x="273.7" y="587.5" text-anchor="middle">Y</text>
<text x="316.5" y="587.5" text-anchor="middle">Γ</text>
<text x="354.1" y="587.5" text-anchor="middle">Z</text>
<text x="409.8" y="587.5" text-anchor="middle">U</text>
<text x="452.4" y="587.5" text-anchor="middle">R</text>
<text x="508.0" y="587.5" text-anchor="middle">T</text>
<text x="551.7" y="587.5" text-anchor="middle">Z</text>
<text x="566.6" y="587.5" text-anchor="middle">X</text>
<text x="604.8" y="587.5" text-anchor="middle">U</text>
<text x="619.1" y="587.5" text-anchor="middle">Y</text>
<text x="658.3" y="587.5" text-anchor="middle">T</text>
<text x="674.0" y="587.5" text-anchor="middle">S</text>
<text x="713.6" y="587.5" text-anchor="middle">R</text>
<text x="728.8" y="587.5" text-anchor="middle">0</text>
<text x="849.7" y="587.5" text-anchor="middle">20</text>
<text transform="translate(73.6,363.1) rotate(-90)" text-anchor="middle" font-size="22.6">Frequency (THz)</text>
</g>
</svg></body></html>
